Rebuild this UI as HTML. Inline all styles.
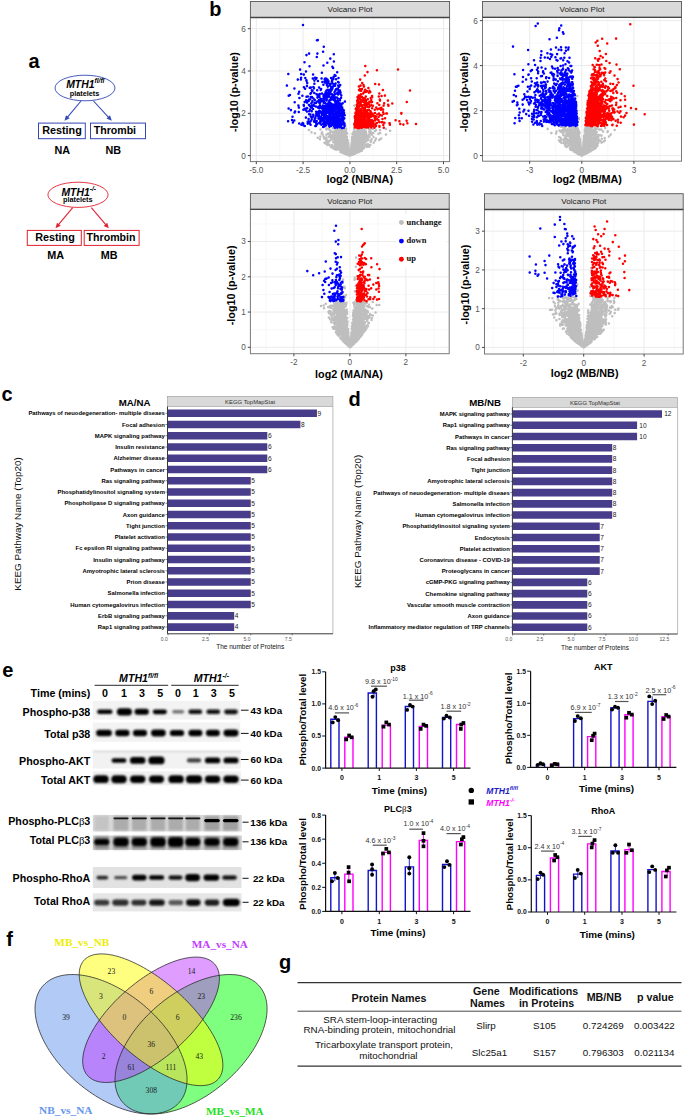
<!DOCTYPE html><html><head><meta charset="utf-8"><title>Figure</title><style>html,body{margin:0;padding:0;background:#fff;}svg{display:block;font-family:"Liberation Sans",sans-serif;}</style></head><body><svg width="685" height="1119" viewBox="0 0 685 1119"><text x="28.6" y="67.5" font-size="20" font-weight="bold">a</text><text x="209.3" y="15.8" font-size="20" font-weight="bold">b</text><text x="1.6" y="401" font-size="20" font-weight="bold">c</text><text x="348.6" y="406.3" font-size="20" font-weight="bold">d</text><text x="2.2" y="677.1" font-size="20" font-weight="bold">e</text><text x="6.2" y="946.3" font-size="20" font-weight="bold">f</text><text x="279.1" y="969" font-size="20" font-weight="bold">g</text><ellipse cx="85" cy="88" rx="30" ry="12.8" fill="none" stroke="#3447b8" stroke-width="0.9"/><text x="66.2" y="87.8" font-size="10.4" font-weight="bold" font-style="italic" fill="#000" text-anchor="start">MTH1<tspan font-size="6.66" dy="-4.37">fl/fl</tspan></text><text x="84.5" y="95.6" font-size="7.3" font-weight="bold" text-anchor="middle">platelets</text><line x1="81" y1="101" x2="67.52" y2="117.1" stroke="#3447b8" stroke-width="1.1"/><polygon points="64.5,120.7 66,115.17 69.68,118.25" fill="#3447b8"/><line x1="93.5" y1="101" x2="108.6" y2="117.26" stroke="#3447b8" stroke-width="1.1"/><polygon points="111.8,120.7 106.5,118.52 110.02,115.26" fill="#3447b8"/><rect x="38.5" y="123.1" width="46.8" height="15.6" fill="none" stroke="#3447b8" stroke-width="1"/><rect x="90.5" y="123.1" width="55" height="15.6" fill="none" stroke="#3447b8" stroke-width="1"/><text x="42.2" y="134.2" font-size="10.8" font-weight="bold">Resting</text><text x="93.7" y="134.2" font-size="10.6" font-weight="bold">Thrombi</text><text x="62.3" y="153.6" font-size="10.8" font-weight="bold" text-anchor="middle">NA</text><text x="113.3" y="153.6" font-size="10.8" font-weight="bold" text-anchor="middle">NB</text><ellipse cx="78" cy="194.8" rx="30.1" ry="12.6" fill="none" stroke="#e3202f" stroke-width="0.9"/><text x="61.4" y="195.8" font-size="10.4" font-weight="bold" font-style="italic" fill="#000" text-anchor="start">MTH1<tspan font-size="6.66" dy="-4.37">-/-</tspan></text><text x="77.8" y="202.4" font-size="7.3" font-weight="bold" text-anchor="middle">platelets</text><line x1="72.7" y1="207.6" x2="58.5" y2="224.69" stroke="#e3202f" stroke-width="1.1"/><polygon points="55.5,228.3 56.98,222.77 60.67,225.83" fill="#e3202f"/><line x1="91.3" y1="207.6" x2="105.77" y2="224.71" stroke="#e3202f" stroke-width="1.1"/><polygon points="108.8,228.3 103.61,225.88 107.28,222.78" fill="#e3202f"/><rect x="27.3" y="230.4" width="54" height="15" fill="none" stroke="#e3202f" stroke-width="1"/><rect x="84.2" y="230.4" width="54.9" height="15" fill="none" stroke="#e3202f" stroke-width="1"/><text x="35.2" y="241.3" font-size="10.8" font-weight="bold">Resting</text><text x="86.6" y="241.3" font-size="10.6" font-weight="bold">Thrombin</text><text x="55.7" y="259.3" font-size="10.8" font-weight="bold" text-anchor="middle">MA</text><text x="109.2" y="259.3" font-size="10.8" font-weight="bold" text-anchor="middle">MB</text><rect x="250.4" y="17.5" width="199.2" height="144.1" fill="#fff"/><path d="M279.7 17.5V161.6M326.5 17.5V161.6M373.3 17.5V161.6M420.1 17.5V161.6M250.4 134.45H449.6M250.4 92.15H449.6M250.4 49.85H449.6" stroke="#f2f2f2" stroke-width="0.6" fill="none"/><path d="M256.3 17.5V161.6M303.1 17.5V161.6M349.9 17.5V161.6M396.7 17.5V161.6M443.5 17.5V161.6M250.4 155.6H449.6M250.4 113.3H449.6M250.4 71H449.6M250.4 28.7H449.6" stroke="#ebebeb" stroke-width="1" fill="none"/><path d="M350.9 153.1h0M354.9 149.3h0M352.4 151.1h0M344.4 144.1h0M345.6 150.1h0M344.3 147.3h0M350.3 154.2h0M357.7 141.7h0M343.8 141.0h0M351.7 153.5h0M363.1 144.6h0M347.6 154.3h0M342.7 147.9h0M353.9 152.5h0M350.6 154.3h0M347.0 152.1h0M360.5 140.5h0M357.2 135.4h0M340.0 145.6h0M348.2 152.0h0M354.8 152.6h0M348.2 152.6h0M340.4 144.4h0M340.9 139.9h0M351.4 154.1h0M348.4 150.2h0M345.8 145.8h0M349.8 155.5h0M354.2 153.4h0M352.1 148.1h0M329.8 137.0h0M346.3 147.2h0M350.9 153.1h0M353.3 145.8h0M358.4 142.4h0M352.5 147.6h0M350.2 155.2h0M353.0 149.6h0M347.7 150.8h0M352.5 149.9h0M341.3 140.0h0M328.3 133.6h0M350.9 153.1h0M347.5 153.0h0M346.2 149.7h0M352.8 149.0h0M351.4 149.4h0M356.1 147.5h0M351.4 152.6h0M346.5 150.2h0M337.2 145.3h0M358.6 150.0h0M349.2 151.8h0M349.8 155.3h0M356.0 137.5h0M348.2 152.1h0M358.3 135.6h0M348.6 154.1h0M358.1 144.7h0M347.3 151.3h0M354.2 128.9h0M350.3 154.5h0M351.4 150.9h0M361.8 147.5h0M354.0 148.8h0M354.7 149.8h0M350.5 153.6h0M326.6 139.7h0M350.0 155.5h0M360.7 136.2h0M333.6 148.4h0M345.3 136.4h0M344.3 147.1h0M355.2 141.2h0M346.3 148.6h0M354.3 145.5h0M354.7 151.0h0M355.2 151.1h0M349.9 155.5h0M348.9 153.6h0M342.7 146.9h0M354.3 145.3h0M347.3 154.1h0M349.1 153.3h0M359.3 150.0h0M356.1 150.3h0M346.8 151.4h0M346.8 147.6h0M332.2 145.1h0M358.0 148.9h0M348.9 152.9h0M362.5 149.1h0M346.3 149.4h0M336.9 139.0h0M341.5 141.0h0M356.4 149.5h0M342.7 141.1h0M351.0 154.4h0M350.9 152.3h0M349.3 155.1h0M349.8 155.3h0M353.6 150.4h0M340.4 140.5h0M345.2 144.6h0M346.9 148.3h0M362.4 135.0h0M349.7 154.9h0M357.4 142.1h0M353.1 148.2h0M354.8 140.4h0M350.3 154.7h0M352.4 151.0h0M357.4 146.2h0M347.4 153.2h0M349.8 155.5h0M359.1 143.4h0M350.6 153.3h0M362.9 130.2h0M348.3 153.9h0M326.4 134.8h0M364.1 134.1h0M347.8 145.6h0M353.8 150.8h0M357.6 149.9h0M346.9 151.6h0M346.5 149.2h0M353.3 148.9h0M348.4 154.1h0M340.9 149.2h0M351.5 152.9h0M342.5 134.4h0M359.6 142.7h0M352.2 154.2h0M349.4 155.0h0M351.4 153.7h0M348.6 153.7h0M356.3 147.8h0M348.0 151.7h0M356.1 149.4h0M340.8 143.1h0M351.5 154.3h0M338.8 129.1h0M349.2 154.5h0M358.0 143.0h0M339.4 144.4h0M349.2 155.0h0M358.1 138.1h0M354.8 146.5h0M347.6 152.5h0M358.5 146.4h0M324.2 138.4h0M360.4 149.1h0M342.9 147.9h0M349.4 153.7h0M355.2 151.1h0M345.6 141.3h0M356.3 145.3h0M362.2 141.2h0M343.4 143.5h0M344.4 149.4h0M352.3 151.4h0M353.0 152.7h0M344.0 141.5h0M341.2 130.2h0M347.0 142.6h0M349.1 154.5h0M351.5 150.7h0M350.9 154.4h0M336.5 128.2h0M354.4 150.6h0M360.6 143.1h0M351.9 148.0h0M354.7 150.1h0M347.8 150.9h0M343.4 146.4h0M345.3 149.2h0M349.6 155.3h0M358.8 142.8h0M352.1 146.9h0M349.5 155.1h0M347.1 148.8h0M351.0 152.4h0M349.1 155.0h0M365.3 138.6h0M349.8 155.3h0M355.7 144.9h0M348.4 153.1h0M351.7 150.6h0M349.2 154.4h0M335.5 128.3h0M349.1 155.0h0M354.1 148.3h0M346.9 150.8h0M349.0 154.7h0M354.1 150.7h0M349.3 154.4h0M366.7 146.9h0M350.9 154.6h0M349.4 153.8h0M346.0 147.4h0M354.1 151.7h0M344.2 144.1h0M359.7 145.5h0M356.6 144.1h0M348.7 154.5h0M360.1 145.8h0M341.7 137.0h0M345.3 134.6h0M339.7 147.1h0M350.5 152.6h0M349.1 154.1h0M345.0 146.0h0M350.3 155.2h0M346.5 150.4h0M314.9 133.3h0M353.0 148.9h0M341.9 147.7h0M353.5 150.1h0M347.4 149.9h0M346.9 153.1h0M353.6 150.7h0M352.6 151.3h0M354.8 143.9h0M345.9 145.2h0M350.8 154.7h0M350.9 154.2h0M349.2 154.5h0M357.4 146.9h0M337.2 146.5h0M358.8 140.7h0M341.8 147.5h0M344.2 145.5h0M347.0 139.6h0M346.7 140.4h0M354.0 146.5h0M353.1 142.3h0M375.2 140.6h0M348.6 154.4h0M348.2 151.4h0M350.8 154.1h0M349.6 155.4h0M348.4 152.5h0M319.9 139.2h0M351.9 149.8h0M350.4 154.7h0M342.6 136.9h0M349.1 152.4h0M352.3 153.9h0M362.3 139.1h0M351.0 154.4h0M352.5 151.6h0M360.4 140.2h0M348.8 149.9h0M336.5 135.7h0M353.1 144.7h0M340.9 134.0h0M349.3 155.0h0M353.1 148.2h0M361.7 145.4h0M347.4 153.2h0M352.5 149.2h0M349.7 155.3h0M353.2 151.2h0M357.6 149.5h0M336.9 144.0h0M357.9 140.6h0M345.4 150.8h0M351.0 153.1h0M348.3 153.3h0M352.2 150.6h0M347.0 149.8h0M346.3 151.6h0M334.3 141.4h0M356.5 134.3h0M352.6 152.6h0M347.9 149.0h0M347.0 148.0h0M349.7 155.4h0M350.2 155.1h0M344.2 152.4h0M353.9 151.7h0M354.2 151.9h0M356.1 141.4h0M351.1 153.5h0M348.3 146.5h0M350.6 155.0h0M347.1 152.9h0M353.8 142.0h0M350.3 155.0h0M346.7 153.1h0M329.3 134.3h0M341.1 148.9h0M345.6 147.8h0M332.0 145.8h0M351.7 152.7h0M354.0 132.1h0M354.3 149.4h0M372.8 128.9h0M357.9 142.3h0M339.0 143.9h0M346.0 151.2h0M345.6 150.5h0M354.6 146.3h0M354.3 150.8h0M347.8 140.5h0M349.6 154.9h0M346.0 146.5h0M359.6 145.6h0M340.1 131.7h0M354.4 142.2h0M368.1 136.0h0M349.9 155.6h0M342.0 141.2h0M350.1 155.0h0M368.8 145.2h0M345.4 151.2h0M349.3 154.6h0M354.8 148.0h0M349.5 155.3h0M348.6 153.3h0M351.9 154.3h0M342.9 149.3h0M345.4 136.2h0M352.0 149.7h0M347.4 151.4h0M354.0 150.3h0M333.8 131.8h0M355.0 150.0h0M356.6 150.1h0M346.2 146.1h0M363.3 140.7h0M347.7 152.5h0M345.6 153.0h0M317.8 137.7h0M358.7 146.9h0M340.0 135.0h0M335.6 137.2h0M311.5 132.3h0M353.8 139.3h0M361.1 136.8h0M350.8 153.3h0M358.5 152.2h0M350.5 154.4h0M349.8 155.5h0M327.8 141.3h0M347.0 136.8h0M352.2 147.6h0M349.0 154.5h0M350.4 154.6h0M346.7 149.3h0M351.0 154.1h0M354.0 153.3h0M348.3 153.0h0M352.6 149.8h0M351.7 150.5h0M371.3 133.0h0M353.2 151.2h0M354.7 145.3h0M373.2 132.9h0M354.8 147.6h0M347.2 152.0h0M353.3 150.9h0M355.4 139.3h0M345.9 152.8h0M360.8 143.6h0M356.5 149.4h0M358.6 148.9h0M349.3 154.4h0M346.4 143.0h0M356.0 145.7h0M352.2 153.5h0M344.3 146.9h0M380.8 138.7h0M345.1 150.6h0M351.6 152.1h0M356.1 146.7h0M347.9 153.7h0M353.0 150.4h0M354.5 127.8h0M349.0 153.4h0M341.5 139.1h0M355.8 152.8h0M363.6 132.8h0M354.7 150.9h0M346.8 143.7h0M348.0 150.5h0M350.6 153.6h0M337.0 137.7h0M357.0 151.6h0M366.0 131.6h0M348.4 152.8h0M354.0 151.9h0M343.8 147.8h0M348.2 153.4h0M348.8 153.0h0M357.8 152.1h0M343.2 142.6h0M343.2 151.7h0M356.9 149.0h0M352.5 151.6h0M352.8 152.9h0M350.4 155.1h0M353.2 149.0h0M352.4 148.2h0M348.2 152.4h0M347.0 148.1h0M350.8 154.8h0M333.2 134.9h0M352.3 153.0h0M350.1 155.3h0M347.1 150.5h0M339.4 148.0h0M342.2 146.5h0M343.0 133.9h0M351.3 147.5h0M345.3 149.6h0M351.1 154.0h0M357.4 134.7h0M320.5 129.5h0M361.4 145.0h0M366.6 136.0h0M348.4 152.6h0M349.4 153.3h0M344.5 138.7h0M343.1 149.4h0M345.8 148.1h0M363.8 148.2h0M348.6 154.5h0M346.2 151.3h0M357.0 147.3h0M346.5 148.9h0M353.4 146.1h0M348.5 152.5h0M354.2 150.7h0M349.9 155.6h0M348.9 150.9h0M356.7 149.7h0M363.3 136.5h0M365.7 144.9h0M342.3 152.7h0M353.8 142.0h0M349.2 154.2h0M348.5 154.0h0M352.1 151.4h0M353.1 147.6h0M339.9 144.0h0M348.1 154.1h0M369.5 136.9h0M345.2 147.4h0M351.0 154.9h0M350.7 153.3h0M351.0 154.3h0M357.9 148.6h0M340.2 145.2h0M342.0 137.9h0M347.4 152.7h0M351.5 153.4h0M351.5 151.6h0M348.1 151.1h0M337.5 141.2h0M346.7 149.9h0M348.1 153.3h0M353.2 147.9h0M351.1 153.6h0M343.4 137.9h0M349.3 153.4h0M345.3 150.4h0M337.7 149.2h0M334.8 143.5h0M359.3 147.4h0M339.7 139.3h0M350.7 151.2h0M353.4 153.5h0M354.2 153.5h0M366.3 133.7h0M346.4 149.8h0M354.9 147.2h0M348.9 154.8h0M353.1 149.2h0M360.4 149.0h0M356.8 149.4h0M340.6 146.7h0M338.7 130.7h0M352.6 153.0h0M349.5 155.0h0M350.9 154.1h0M340.7 134.7h0M352.5 141.6h0M350.4 154.4h0M350.4 155.3h0M355.0 150.7h0M337.9 139.7h0M355.3 137.5h0M339.2 140.1h0M351.0 154.2h0M354.1 152.1h0M342.6 148.1h0M345.6 149.2h0M360.7 142.4h0M357.6 148.9h0M355.4 150.3h0M353.1 150.5h0M354.7 150.0h0M332.3 137.5h0M353.9 151.9h0M350.2 155.0h0M351.3 154.1h0M349.8 155.3h0M345.3 146.6h0M351.8 150.3h0M356.9 141.5h0M342.5 148.7h0M343.0 146.0h0M348.8 153.6h0M351.9 153.6h0M358.0 146.0h0M356.2 137.3h0M352.8 150.6h0M346.9 153.6h0M346.1 150.5h0M323.7 136.8h0M349.7 155.3h0M349.0 155.3h0M349.7 155.3h0M349.8 155.4h0M344.2 147.0h0M350.5 153.6h0M354.4 148.0h0M347.8 152.0h0M341.4 147.7h0M358.5 147.3h0M347.8 145.9h0M343.6 153.2h0M340.1 149.7h0M346.1 145.5h0M349.8 155.5h0M354.2 148.0h0M341.5 144.1h0M352.5 152.0h0M327.6 143.2h0M353.4 147.2h0M351.8 153.2h0M355.4 149.8h0M352.1 151.9h0M347.2 133.3h0M343.8 146.3h0M352.8 145.2h0M352.5 153.5h0M342.5 147.8h0M354.1 151.1h0M357.6 151.2h0M358.0 150.7h0M358.9 141.6h0M344.5 146.9h0M343.4 142.4h0M348.6 153.7h0M356.4 148.6h0M364.5 137.9h0M347.0 152.9h0M343.7 149.0h0M341.4 149.9h0M333.9 133.1h0M340.7 142.6h0M352.5 152.1h0M356.3 149.1h0M336.5 136.1h0M358.2 144.9h0M342.7 146.1h0M350.9 154.7h0M342.5 152.8h0M345.3 146.8h0M346.3 150.1h0M348.0 150.6h0M356.5 135.2h0M351.6 152.9h0M346.1 130.9h0M351.2 153.8h0M354.8 138.9h0M353.3 152.2h0M353.1 144.5h0M346.6 145.6h0M348.8 152.6h0M354.5 152.9h0M371.5 139.2h0M360.1 129.6h0M348.7 153.9h0M342.5 152.8h0M352.0 151.2h0M349.1 154.6h0M359.6 148.1h0M351.3 149.9h0M351.0 154.4h0M349.1 154.2h0M349.5 154.0h0M357.6 140.3h0M353.1 149.5h0M361.0 131.8h0M346.9 152.9h0M349.9 155.5h0M351.7 154.0h0M348.0 154.4h0M351.1 153.7h0M349.9 155.4h0M346.3 150.3h0M347.1 152.8h0M341.1 144.7h0M342.7 140.4h0M350.3 155.0h0M349.6 154.7h0M351.9 152.1h0M348.7 151.0h0M358.4 131.8h0M353.0 145.7h0M345.0 142.6h0M346.7 152.8h0M351.1 153.3h0M348.9 153.9h0M355.8 142.5h0M353.9 143.0h0M347.9 153.4h0M349.6 155.0h0M335.1 141.3h0M353.5 152.8h0M357.5 143.0h0M347.1 149.2h0M345.7 147.9h0M344.5 143.8h0M343.3 140.0h0M350.9 154.9h0M353.9 143.3h0M365.7 138.7h0M359.5 147.3h0M344.8 153.7h0M331.3 138.2h0M342.5 146.6h0M347.3 152.0h0M347.8 145.6h0M348.5 153.6h0M352.3 140.7h0M357.5 141.8h0M351.0 153.2h0M349.1 154.8h0M350.8 152.9h0M381.2 138.4h0M348.0 152.4h0M355.0 145.4h0M350.0 155.3h0M336.7 143.8h0M371.1 140.7h0M357.2 137.8h0M349.1 152.9h0M345.9 141.8h0M347.8 145.5h0M352.8 145.7h0M350.3 154.6h0M349.4 153.9h0M348.1 150.1h0M347.5 154.8h0M346.4 147.3h0M339.5 137.1h0M353.7 150.9h0M348.9 153.9h0M356.0 143.9h0M345.5 146.0h0M356.2 136.6h0M344.3 131.1h0M352.0 154.6h0M348.3 151.3h0M340.5 143.8h0M340.6 145.4h0M343.0 151.5h0M360.7 142.6h0M352.0 147.3h0M349.8 155.5h0M342.3 146.6h0M347.7 149.9h0M351.0 152.3h0M339.6 148.7h0M336.8 147.6h0M336.8 132.6h0M347.0 153.1h0M346.9 148.6h0M348.2 151.5h0M350.4 155.2h0M344.4 146.8h0M351.9 153.1h0M326.4 137.6h0M349.5 154.9h0M349.3 154.9h0M352.3 151.8h0M352.7 146.7h0M364.5 133.5h0M350.7 151.4h0M352.0 147.7h0M351.0 153.4h0M355.0 133.5h0M358.8 140.6h0M344.2 144.4h0M355.4 143.8h0M352.9 151.0h0M345.4 142.8h0M350.2 154.8h0M371.9 134.8h0M345.9 148.2h0M344.4 145.2h0M341.4 141.2h0M343.9 151.3h0M349.3 154.1h0M366.8 140.6h0M348.0 148.3h0M351.0 154.1h0M354.1 151.4h0M347.6 152.5h0M348.9 154.5h0M355.7 148.4h0M344.5 148.2h0M345.0 151.2h0M359.1 139.5h0M356.9 147.9h0M344.1 149.2h0M350.8 154.3h0M351.5 153.5h0M358.4 131.1h0M339.4 147.0h0M354.5 149.9h0M352.4 152.0h0M348.7 153.1h0M341.8 152.1h0M346.3 144.2h0M350.0 155.5h0M352.9 153.8h0M352.9 149.5h0M352.6 152.9h0M344.3 146.6h0M337.4 136.8h0M350.2 155.0h0M344.2 151.1h0M341.6 144.0h0M352.5 146.8h0M345.1 151.2h0M347.1 152.0h0M356.2 141.3h0M348.8 154.1h0M355.3 150.4h0M351.9 152.7h0M347.7 151.8h0M351.1 153.1h0M352.0 152.0h0M351.3 151.8h0M356.9 139.3h0M356.8 145.4h0M344.5 141.7h0M332.8 128.4h0M363.9 136.3h0M335.5 138.3h0M349.5 155.1h0M354.8 150.7h0M353.5 151.1h0M346.8 142.3h0M332.5 134.7h0M339.2 136.5h0M344.4 137.6h0M353.1 153.0h0M341.4 146.0h0M346.6 139.9h0M348.0 152.9h0M351.0 154.4h0M359.4 139.5h0M354.4 140.5h0M341.1 142.8h0M349.9 155.6h0M349.5 154.9h0M349.4 154.5h0M354.2 136.2h0M351.6 152.8h0M341.8 147.4h0M357.3 145.5h0M356.4 152.0h0M347.8 149.9h0M347.1 148.6h0M352.2 147.7h0M350.6 155.2h0M358.2 143.6h0M339.2 143.7h0M348.0 154.0h0M350.1 155.3h0M353.7 147.7h0M351.0 150.9h0M346.8 154.2h0M351.2 153.4h0M355.2 148.0h0M353.4 140.6h0M358.2 142.4h0M349.1 155.1h0M342.9 148.4h0M345.7 150.8h0M358.8 149.4h0M352.4 153.0h0M347.9 153.4h0M343.5 143.1h0M341.3 146.6h0M344.5 142.4h0M351.1 153.5h0M350.6 153.8h0M345.1 146.4h0M352.2 151.8h0M358.0 147.6h0M350.0 155.5h0M350.8 154.0h0M337.2 145.9h0M359.7 142.9h0M355.7 146.3h0M350.4 155.2h0M350.9 154.3h0M343.4 146.2h0M347.3 151.6h0M357.9 136.4h0M356.0 148.1h0M350.7 152.2h0M364.6 133.6h0M349.5 154.6h0M360.4 141.4h0M351.6 150.8h0M341.7 132.8h0M351.5 145.8h0M353.1 149.2h0M342.6 141.3h0M352.1 152.1h0M349.6 154.8h0M349.9 155.5h0M349.4 155.2h0M361.9 140.9h0M350.8 153.5h0M350.8 153.6h0M349.8 155.5h0M348.8 154.1h0M344.3 147.6h0M356.1 147.1h0M349.6 154.8h0M345.6 149.2h0M358.7 147.6h0M347.8 153.8h0M334.4 141.2h0M369.6 130.8h0M344.3 142.8h0M342.0 134.5h0M347.2 151.6h0M348.6 154.6h0M341.7 150.9h0M348.9 154.4h0M353.2 151.2h0M349.6 155.3h0M344.7 148.9h0M355.6 145.4h0M351.5 151.8h0M347.3 152.3h0M357.3 148.4h0M351.8 149.2h0M351.4 151.5h0M359.4 144.6h0M348.5 151.6h0M355.3 146.5h0M354.4 148.1h0M351.0 154.2h0M361.2 130.5h0M345.7 146.6h0M336.1 135.7h0M364.0 137.6h0M351.8 152.8h0M341.3 146.3h0M351.7 145.8h0M354.8 146.6h0M346.8 140.9h0M344.9 150.9h0M355.6 146.1h0M354.4 151.9h0M361.9 150.6h0M348.9 154.6h0M354.1 152.0h0M347.3 151.2h0M356.4 132.8h0M351.8 151.6h0M354.4 148.5h0M351.7 152.9h0M358.0 152.0h0M349.6 155.2h0M343.2 145.8h0M353.7 152.0h0M348.8 154.5h0M339.9 147.6h0M347.3 151.6h0M350.5 154.7h0M352.7 153.2h0M352.2 142.1h0M349.8 155.5h0M349.3 153.8h0M347.4 147.1h0M339.0 130.1h0M349.4 155.4h0M345.7 149.3h0M347.9 151.3h0M357.7 147.1h0M358.9 145.2h0M351.4 153.8h0M361.9 130.3h0M348.5 151.3h0M348.5 154.7h0M348.6 152.9h0M349.3 154.0h0M352.3 153.9h0M378.5 133.7h0M343.6 147.3h0M355.5 149.6h0M353.3 151.8h0M337.5 148.4h0M342.7 139.9h0M334.4 132.9h0M355.8 147.4h0M353.1 152.8h0M346.6 149.5h0M353.8 141.5h0M351.4 152.4h0M344.1 144.2h0M358.9 143.9h0M341.6 143.0h0M354.1 144.8h0M351.6 154.4h0M350.1 155.1h0M343.3 144.9h0M343.9 148.2h0M347.9 152.1h0M353.3 147.8h0M352.7 152.5h0M350.8 154.7h0M348.9 153.1h0M348.9 153.0h0M345.9 149.7h0M346.3 147.5h0M358.9 140.2h0M354.6 151.6h0M347.1 148.7h0M350.1 155.4h0M357.9 129.3h0M348.3 152.8h0M342.1 149.6h0M360.2 138.1h0M347.3 152.0h0M347.6 147.5h0M353.6 150.4h0M351.0 151.4h0M355.6 143.5h0M357.4 149.3h0M344.9 146.7h0M335.3 134.6h0M348.3 150.7h0M333.9 133.4h0M357.7 149.2h0M342.5 144.7h0M336.0 139.2h0M349.9 155.6h0M357.1 146.7h0M345.3 145.3h0M354.8 122.4h0M350.2 155.3h0M354.4 129.0h0M351.4 151.6h0M346.3 147.9h0M351.0 153.9h0M355.0 137.0h0M351.1 153.2h0M350.7 155.0h0M352.9 147.0h0M346.4 150.8h0M342.7 141.6h0M348.2 151.6h0M350.8 153.9h0M346.2 150.8h0M351.1 155.1h0M350.1 155.4h0M346.5 150.0h0M350.5 154.6h0M347.6 150.1h0M336.0 137.4h0M356.1 147.6h0M350.7 154.6h0M346.8 138.2h0M348.0 153.5h0M351.1 152.6h0M353.5 142.2h0M352.6 136.4h0M347.8 154.9h0M344.9 150.7h0M351.4 150.7h0M355.4 138.0h0M352.0 153.2h0M358.4 132.7h0M348.1 146.6h0M353.4 149.0h0M349.7 155.4h0M354.4 148.7h0M356.8 152.0h0M350.2 155.3h0M357.3 145.8h0M345.0 152.4h0M346.6 148.6h0M340.7 149.7h0M354.0 148.7h0M342.2 146.8h0M355.2 138.2h0M346.2 152.7h0M347.4 152.0h0M353.4 153.1h0M350.3 154.2h0M348.7 152.8h0M375.1 130.9h0M342.8 148.3h0M356.8 145.6h0M344.0 145.4h0M348.5 153.3h0M350.1 155.2h0M348.9 155.2h0M342.6 145.3h0M351.7 151.0h0M340.2 142.5h0M351.1 154.4h0M357.5 138.3h0M363.8 139.7h0M344.7 143.9h0M351.9 151.4h0M345.8 149.2h0M352.8 149.9h0M333.0 138.7h0M341.6 147.5h0M349.9 155.6h0M352.2 148.6h0M344.3 149.5h0M344.7 148.9h0M351.7 152.6h0M353.3 147.7h0M351.7 154.7h0M346.6 153.3h0M361.5 141.4h0M348.9 154.2h0M346.2 152.7h0M364.4 139.9h0M358.2 150.1h0M360.7 145.9h0M353.1 150.5h0M353.2 139.6h0M346.1 145.9h0M347.5 153.2h0M346.3 149.1h0M350.0 155.5h0M356.7 134.7h0M346.9 152.6h0M350.5 155.1h0M355.3 150.7h0M340.4 136.9h0M342.8 135.4h0M348.4 152.8h0M347.3 153.1h0M347.1 150.7h0M370.3 145.0h0M349.1 155.0h0M350.0 155.1h0M359.7 140.3h0M351.8 153.6h0M351.9 152.2h0M343.8 146.2h0M349.9 155.6h0M360.5 133.0h0M347.5 153.1h0M349.2 153.8h0M354.9 136.0h0M354.9 132.3h0M343.9 130.7h0M348.5 151.2h0M347.9 152.2h0M355.6 148.7h0M351.2 151.5h0M355.5 138.4h0M344.3 146.5h0M351.8 154.8h0M351.0 153.2h0M347.7 153.5h0M351.2 153.2h0M349.1 153.9h0M351.5 149.8h0M339.8 137.9h0M337.6 136.6h0M354.7 141.9h0M359.1 144.4h0M336.8 149.0h0M354.0 143.7h0M349.8 155.5h0M348.3 150.4h0M344.9 150.3h0M352.0 154.1h0M346.3 146.8h0M347.0 153.0h0M345.4 149.8h0M348.4 149.2h0M352.6 151.7h0M352.1 147.3h0M358.8 142.9h0M359.3 147.3h0M348.5 154.5h0M367.5 138.5h0M346.1 150.9h0M361.8 147.6h0M338.1 145.7h0M356.5 145.0h0M354.5 149.2h0M348.6 153.2h0M348.3 145.0h0M348.0 153.2h0M351.4 153.6h0M340.8 145.6h0M354.1 149.7h0M354.2 146.6h0M353.5 141.3h0M350.2 155.3h0M336.2 134.7h0M345.3 125.5h0M339.4 129.1h0M349.0 153.3h0M342.9 148.8h0M345.4 147.1h0M337.2 142.7h0M333.6 132.3h0M349.7 155.5h0M352.6 150.8h0M345.1 151.2h0M343.6 137.5h0M351.5 150.5h0M331.0 136.4h0M350.2 154.6h0M351.9 149.7h0M345.9 153.4h0M352.2 138.5h0M339.6 148.6h0M346.5 153.6h0M352.4 153.0h0M356.3 151.1h0M366.5 128.2h0M351.4 146.2h0M352.5 149.9h0M358.9 151.6h0M368.1 144.4h0M354.3 138.8h0M347.6 151.9h0M364.4 138.0h0M353.9 149.3h0M347.8 146.1h0M347.5 153.8h0M343.2 140.1h0M356.6 140.7h0M345.4 142.2h0M329.2 129.4h0M354.2 149.3h0M335.4 149.4h0M353.5 149.2h0M353.2 151.6h0M349.0 154.1h0M355.7 150.4h0M352.3 152.2h0M344.4 145.3h0M346.7 150.8h0M348.0 152.3h0M349.0 154.2h0M352.0 152.7h0M340.0 143.8h0M352.7 150.7h0M350.1 155.2h0M358.5 141.3h0M348.6 154.0h0M353.9 145.4h0M351.0 153.0h0M361.3 136.9h0M359.1 145.9h0M349.3 155.0h0M367.8 144.5h0M369.4 134.1h0M344.2 150.2h0M350.6 153.6h0M343.2 142.4h0M329.4 144.7h0M346.2 149.5h0M348.4 153.6h0M348.6 152.7h0M337.2 132.3h0M356.1 131.5h0M349.6 155.4h0M336.8 131.4h0M341.1 140.4h0M343.2 143.6h0M347.5 152.6h0M341.2 146.1h0M348.2 149.5h0M352.4 152.6h0M352.3 145.6h0M350.2 154.7h0M346.3 151.3h0M346.6 149.3h0M346.6 149.6h0M337.5 144.9h0M350.8 154.9h0M351.9 153.9h0M344.5 148.3h0M344.2 136.0h0M361.0 135.2h0M342.5 140.5h0M342.8 151.6h0M361.3 133.0h0M353.7 150.7h0M342.4 144.3h0M355.3 146.4h0M365.6 135.5h0M342.1 151.0h0M351.0 155.0h0M353.6 147.2h0M354.1 149.3h0M342.7 152.0h0M344.3 151.7h0M346.2 151.6h0M349.3 154.9h0M364.8 138.3h0M343.8 147.0h0M349.1 153.0h0M358.2 149.8h0M344.6 140.5h0M344.7 143.5h0M351.9 142.8h0M356.5 149.0h0M344.7 147.2h0M356.0 139.8h0M334.2 137.0h0M344.8 129.9h0M351.0 154.2h0M349.3 155.3h0M350.7 154.5h0M356.0 147.4h0M351.5 153.2h0M346.8 146.8h0M343.5 132.9h0M346.9 148.0h0M331.7 131.8h0M362.7 134.4h0M354.9 145.1h0M349.3 153.9h0M326.5 129.4h0M351.6 153.1h0M354.4 148.8h0M352.4 149.3h0M357.3 146.9h0M349.2 154.0h0M349.3 154.5h0M345.4 151.8h0M347.1 153.1h0M344.7 142.1h0M343.4 145.3h0M353.1 149.6h0M356.6 151.9h0M343.1 151.1h0M348.5 154.0h0M352.3 151.6h0M357.3 147.4h0M350.9 153.7h0M355.2 143.7h0M348.6 152.1h0M351.6 151.5h0M345.6 144.9h0M350.0 155.4h0M345.5 152.2h0M355.7 141.1h0M354.0 152.6h0M355.7 142.8h0M356.3 151.7h0M348.4 153.3h0M356.3 141.3h0M355.3 138.8h0M351.0 153.4h0M348.5 151.2h0M339.9 138.4h0M351.0 153.3h0M341.3 144.9h0M357.8 145.8h0M334.8 146.1h0M349.3 154.8h0M349.9 155.6h0M354.8 150.0h0M337.6 145.1h0M348.0 151.7h0M348.9 151.4h0M356.3 144.9h0M351.7 142.7h0M348.2 153.3h0M353.5 151.2h0M338.4 134.3h0M351.2 153.2h0M351.1 153.8h0M354.9 150.7h0M344.0 142.8h0M359.8 142.4h0M341.4 145.0h0M343.9 145.6h0M356.1 143.6h0M352.5 150.4h0M359.8 142.9h0M358.1 145.9h0M348.9 153.7h0M349.4 154.8h0M355.0 145.0h0M349.9 155.6h0M350.8 153.6h0M357.0 136.4h0M337.1 133.8h0M355.1 149.9h0M363.5 133.0h0M340.4 140.6h0M354.0 150.8h0M348.0 148.9h0M356.4 146.4h0M355.2 140.6h0M352.4 150.7h0M359.8 147.8h0M355.5 136.5h0M361.8 133.6h0M344.1 149.8h0M349.8 155.5h0M350.6 153.3h0M368.6 136.5h0M356.3 138.9h0M340.8 143.7h0M350.0 155.4h0M351.2 152.1h0M344.6 147.9h0M340.7 137.3h0M355.7 142.4h0M349.4 154.0h0M349.1 150.9h0M351.2 151.7h0M353.9 148.1h0M352.7 151.5h0M376.0 130.2h0M340.1 146.2h0M345.3 148.8h0M344.6 139.4h0M344.5 146.0h0M348.6 154.2h0M341.8 137.3h0M355.4 146.7h0M351.7 152.6h0M349.1 154.2h0M359.9 148.2h0M346.4 152.9h0M355.3 137.5h0M353.3 149.9h0M346.9 144.6h0M355.4 135.9h0M354.8 146.0h0M352.4 152.4h0M353.9 145.3h0M357.3 149.9h0M335.3 130.2h0M347.3 151.3h0M339.4 139.7h0M347.4 151.5h0M347.8 146.3h0M346.1 149.7h0M349.2 155.0h0M345.4 130.2h0M347.8 154.0h0M348.8 151.3h0M350.4 154.4h0M346.7 144.8h0M345.9 149.2h0M345.0 148.9h0M359.0 134.4h0M355.3 149.7h0M349.3 154.5h0M344.3 143.1h0M351.7 149.6h0M348.8 153.9h0M350.6 154.5h0M345.2 150.3h0M352.9 153.0h0M350.0 155.4h0M356.3 144.7h0M355.0 147.5h0M352.9 151.2h0M349.3 154.6h0M347.1 153.2h0M355.9 149.4h0M336.9 147.6h0M344.2 145.9h0M350.5 154.1h0M346.8 144.7h0M353.3 147.7h0M352.9 149.2h0M357.4 141.7h0M345.0 137.4h0M344.2 145.8h0M352.6 149.2h0M356.9 135.1h0M349.9 155.6h0M342.0 144.1h0M348.5 153.8h0M349.1 155.1h0M347.7 151.8h0M342.1 139.8h0M345.4 145.4h0M346.4 151.6h0M350.7 153.7h0M342.3 148.4h0M350.6 155.2h0M349.0 155.0h0M345.0 146.8h0M347.1 152.8h0M345.0 152.0h0M349.1 155.2h0M358.4 138.0h0M346.2 143.8h0M347.9 150.6h0M354.7 147.2h0M355.0 148.3h0M358.7 148.7h0M354.0 146.3h0M342.6 138.8h0M351.4 151.7h0M343.6 138.5h0M340.1 150.3h0M351.1 153.1h0M344.5 151.1h0M352.3 153.2h0M370.8 131.4h0M355.6 150.5h0M347.3 150.3h0M351.2 153.0h0M351.1 153.3h0M345.1 148.8h0M347.3 152.6h0M357.2 144.5h0M347.0 152.2h0M359.9 146.4h0M355.3 153.6h0M351.2 154.7h0M344.7 152.2h0M365.0 139.2h0M349.7 154.6h0M349.7 155.3h0M348.2 148.5h0M333.7 137.5h0M341.1 142.1h0M345.8 146.5h0M354.4 151.5h0M342.9 147.3h0M344.9 149.8h0M342.0 144.4h0M361.9 136.3h0M347.1 152.2h0M363.1 144.9h0M337.2 142.4h0M350.5 155.3h0M351.9 149.9h0M348.0 151.9h0M350.6 154.7h0M354.1 149.2h0M359.1 141.7h0M349.9 155.6h0M355.0 142.8h0M354.8 150.5h0M363.2 133.1h0M364.0 147.6h0M344.7 153.7h0M353.0 146.5h0M348.1 153.6h0M343.1 144.0h0M345.7 152.6h0M350.4 154.3h0M334.4 139.6h0M327.6 133.7h0M345.4 152.0h0M350.1 155.2h0M339.4 135.6h0M337.5 140.1h0M350.4 155.0h0M357.1 130.4h0M349.8 155.4h0M355.8 149.7h0M350.8 153.1h0M351.3 151.6h0M358.4 150.4h0M355.7 145.8h0M350.4 155.1h0M357.3 138.0h0M348.6 152.1h0M340.4 146.5h0M353.4 150.7h0M353.4 132.4h0M364.2 138.8h0M350.2 155.2h0M352.9 148.7h0M350.1 155.2h0M348.2 151.8h0M353.6 149.5h0M345.7 150.6h0M344.3 153.0h0M344.9 132.4h0M356.5 137.2h0M353.5 146.4h0M345.1 150.1h0M339.2 137.0h0M340.3 149.7h0M353.9 131.2h0M354.3 141.0h0M343.7 135.0h0M342.2 149.7h0M342.4 142.2h0M345.6 150.5h0M336.2 137.1h0M360.6 142.4h0M347.7 151.5h0M353.0 144.8h0M343.8 149.1h0M343.6 145.5h0M352.6 154.4h0M344.4 144.3h0M321.7 133.6h0M338.8 138.2h0M347.8 149.6h0M356.6 141.3h0M344.9 143.6h0M366.8 140.7h0M351.8 151.6h0M353.8 152.0h0M356.7 148.4h0M344.3 142.4h0M345.3 149.8h0M346.1 150.7h0M352.8 144.5h0M346.4 148.4h0M352.8 150.4h0M366.1 135.1h0M352.3 151.7h0M345.9 150.6h0M357.5 143.1h0M349.7 155.5h0M342.7 145.7h0M339.8 141.5h0M356.7 136.8h0M350.1 155.1h0M358.1 149.3h0M349.5 154.4h0M363.0 147.1h0M349.4 155.2h0M347.7 151.2h0M352.3 149.0h0M359.5 139.4h0M337.6 145.8h0M346.5 151.6h0M348.3 151.0h0M348.4 154.2h0M341.0 142.2h0M351.1 154.0h0M339.6 144.0h0M357.4 144.8h0M345.9 153.7h0M349.5 155.0h0M352.6 150.8h0M346.3 152.0h0M355.5 148.1h0M350.6 153.5h0M356.7 140.8h0M356.1 139.1h0M363.8 143.8h0M347.4 154.0h0M340.7 149.3h0M353.5 143.4h0M340.3 148.6h0M349.1 154.0h0M353.5 150.9h0M338.5 146.2h0M343.7 152.4h0M349.1 153.5h0M346.4 140.2h0M346.3 144.5h0M357.7 147.9h0M353.4 136.9h0M353.9 152.1h0M352.4 151.1h0M352.0 151.5h0M352.3 151.7h0M342.3 147.0h0M359.2 145.4h0M350.9 152.7h0M344.4 145.6h0M345.5 152.5h0M343.2 140.3h0M346.4 152.8h0M344.7 148.7h0M351.5 150.6h0M363.3 133.5h0M350.1 155.3h0M367.4 135.5h0M353.9 136.9h0M348.3 150.4h0M349.2 155.1h0M342.5 135.3h0M356.3 147.2h0M341.7 141.1h0M340.5 144.8h0M345.8 148.7h0M354.7 149.1h0M353.3 151.6h0M367.3 145.0h0M347.3 149.4h0M363.6 143.2h0M348.7 154.7h0M351.9 152.5h0M341.0 144.7h0M361.6 146.9h0M347.7 153.3h0M352.1 153.5h0M359.9 147.2h0M349.0 151.0h0M340.2 144.6h0M351.9 154.1h0M347.7 147.0h0M348.8 151.0h0M350.2 154.2h0M347.2 152.0h0M348.8 152.7h0M341.0 142.8h0M344.0 135.6h0M347.9 154.6h0M351.6 153.0h0M336.0 141.3h0M353.4 148.0h0M347.8 151.4h0M357.8 148.9h0M341.7 144.7h0M346.9 139.7h0M352.3 152.6h0M349.1 153.4h0M354.7 147.8h0M336.9 147.2h0M357.0 132.6h0M342.0 137.4h0M352.1 148.8h0M342.7 142.4h0M349.1 154.6h0M343.4 149.6h0M354.0 147.9h0M349.7 155.3h0M348.2 152.8h0M353.1 142.2h0M350.6 154.5h0M347.5 153.1h0M348.1 151.4h0M343.9 135.8h0M353.0 151.1h0M358.0 139.3h0M352.0 153.1h0M364.7 134.0h0M354.2 150.5h0M350.2 154.9h0M351.1 151.4h0M349.3 155.2h0M343.8 150.1h0M351.7 152.9h0M364.6 144.0h0M345.0 152.4h0M357.6 150.6h0M359.9 141.4h0M348.1 154.0h0M353.0 146.6h0M345.7 143.0h0M349.3 154.4h0M347.0 143.1h0M343.1 145.4h0M353.3 150.3h0M346.1 128.6h0M353.4 151.1h0M348.8 151.1h0M353.6 146.0h0M348.6 154.9h0M364.8 133.1h0M360.2 151.2h0M354.7 144.6h0M353.2 140.8h0M351.9 153.9h0M349.0 154.4h0M347.5 150.2h0M340.0 142.4h0M348.4 153.1h0M359.6 142.5h0M347.2 149.7h0M355.1 149.6h0M349.0 154.8h0M348.1 152.0h0M352.4 152.6h0M344.2 145.4h0M349.5 154.5h0M355.1 147.2h0M352.8 153.4h0M346.7 145.7h0M356.6 138.9h0M345.4 144.9h0M356.8 135.1h0M353.7 146.0h0M350.4 155.0h0M353.9 143.8h0M348.6 153.9h0M349.5 155.1h0M368.4 140.0h0M353.3 151.2h0M350.9 154.2h0M349.8 155.4h0M352.4 154.0h0M351.9 154.2h0M362.1 144.0h0M352.2 152.5h0M342.1 138.8h0M350.8 153.5h0M344.1 149.2h0M343.7 131.9h0M345.9 150.4h0M344.8 148.7h0M351.5 153.4h0M350.8 154.5h0M353.8 144.2h0M359.9 129.1h0M346.3 145.1h0M328.1 134.1h0M369.2 146.7h0M346.1 150.9h0M354.7 149.7h0M351.8 151.1h0M350.6 154.0h0M342.8 152.5h0M347.0 151.5h0M346.1 136.9h0M359.4 141.2h0M347.0 149.7h0M339.4 148.9h0M353.7 150.1h0M358.6 142.0h0M356.0 136.6h0M351.7 152.2h0M365.4 138.9h0M345.0 148.4h0M349.9 155.5h0M345.2 140.9h0M345.3 151.0h0M351.8 151.7h0M351.3 153.1h0M349.1 153.7h0M351.3 153.9h0M352.9 148.4h0M358.8 138.2h0M348.5 153.4h0M342.9 151.5h0M360.6 143.0h0M349.7 154.9h0M349.7 155.2h0M359.7 146.4h0M351.2 148.7h0M343.9 144.2h0M347.2 149.0h0M349.7 154.5h0M352.0 152.5h0M344.7 150.7h0M343.8 139.5h0M350.1 155.4h0M345.0 151.5h0M354.8 153.6h0M349.7 155.3h0M351.0 154.0h0M356.7 146.6h0M352.5 133.8h0M351.3 154.4h0M345.4 144.1h0M344.3 141.7h0M330.0 132.8h0M354.1 154.0h0M350.6 151.8h0M349.4 154.9h0M341.6 147.0h0M351.6 152.4h0M347.6 151.0h0M346.3 147.1h0M351.5 149.4h0M357.4 142.9h0M353.3 146.4h0M350.0 155.5h0M346.4 147.1h0M345.4 152.8h0M348.2 153.1h0M348.2 152.3h0M379.2 139.9h0M352.0 151.5h0M352.4 153.7h0M340.5 151.9h0M357.9 140.3h0M350.6 154.3h0M343.5 142.7h0M349.1 154.3h0M336.8 128.9h0M345.4 149.5h0M350.2 155.0h0M345.5 148.4h0M350.6 155.3h0M364.2 142.8h0M353.4 153.4h0M350.2 155.2h0M365.5 134.0h0M354.0 149.3h0M341.8 138.8h0M350.4 155.1h0M352.5 154.7h0M349.7 155.5h0M354.9 148.5h0M356.5 152.7h0M350.4 155.3h0M348.8 153.0h0M357.6 151.2h0M349.5 154.8h0M340.9 146.1h0M350.2 154.1h0M344.1 135.9h0M345.2 141.1h0M348.9 153.2h0M343.8 144.1h0M350.2 155.3h0M353.4 153.2h0M353.2 152.1h0M348.9 154.2h0M325.3 138.6h0M332.5 136.6h0M363.4 138.5h0M352.0 152.6h0M351.8 151.7h0M351.3 146.1h0M347.2 154.0h0M349.5 155.0h0M354.1 151.5h0M348.4 153.8h0M390.1 130.7h0M347.6 153.8h0M354.3 149.8h0M355.0 142.8h0M349.7 155.4h0M376.0 138.6h0M348.0 154.6h0M353.9 147.5h0M353.0 152.8h0M347.7 150.5h0M347.6 151.7h0M343.1 144.5h0M343.7 142.4h0M349.8 155.1h0M356.0 145.5h0M330.1 140.4h0M355.7 144.5h0M345.1 137.5h0M347.8 152.0h0M345.3 152.9h0M350.0 155.5h0M337.2 149.4h0M352.8 148.1h0M349.9 155.6h0M351.0 153.9h0M349.1 152.0h0M349.5 154.8h0M351.4 154.7h0M354.9 143.9h0M350.0 155.5h0M351.3 153.4h0M341.0 149.9h0M362.2 146.4h0M339.2 136.4h0M359.2 145.0h0M344.0 141.3h0M362.8 140.8h0M355.8 149.3h0M336.8 142.1h0M354.4 105.6h0M352.6 146.4h0M344.7 146.5h0M355.3 150.9h0M350.1 155.2h0M350.0 155.2h0M354.8 141.2h0M344.9 144.6h0M352.2 137.5h0M352.6 146.3h0M349.9 155.6h0M355.8 139.7h0M349.2 154.0h0M361.2 150.8h0M360.2 143.8h0M337.5 134.2h0M348.2 149.9h0M350.7 151.2h0M363.9 141.7h0M342.9 147.1h0M351.8 152.7h0M345.8 150.4h0M345.3 150.6h0M346.2 150.9h0M361.1 149.7h0M355.4 146.7h0M349.6 155.3h0M348.7 154.2h0M353.0 150.5h0M358.3 148.9h0M350.5 154.0h0M350.0 155.5h0M336.8 143.0h0M362.4 144.5h0M347.0 148.9h0M349.8 155.4h0M344.5 145.6h0M360.8 132.1h0M354.4 148.4h0M339.9 138.9h0M349.3 155.2h0M347.6 150.5h0M351.9 151.5h0M349.6 154.7h0M341.9 145.8h0M339.8 143.3h0M335.8 138.5h0M353.6 148.6h0M350.8 153.5h0M354.1 151.5h0M347.9 152.1h0M349.7 154.9h0M344.5 146.7h0M350.0 155.5h0M356.7 150.1h0M347.8 153.0h0M350.6 155.2h0M344.5 142.1h0M347.7 144.7h0M347.0 150.3h0M352.8 152.9h0M346.4 150.5h0M344.3 136.7h0M348.9 154.6h0M348.5 153.3h0M345.0 146.3h0M352.3 150.6h0M351.9 154.0h0M348.7 154.2h0M357.3 145.3h0M344.0 143.9h0M353.1 149.7h0M354.7 138.9h0M352.6 149.7h0M347.3 153.3h0M341.2 147.5h0M362.5 148.3h0M357.6 146.9h0M353.1 152.8h0M356.9 143.4h0M356.0 134.4h0M352.1 146.6h0M352.8 152.7h0M358.9 140.0h0M346.0 151.8h0M349.2 153.5h0M346.6 149.0h0M350.2 155.1h0M345.3 143.2h0M351.5 151.8h0M350.7 154.3h0M354.6 146.6h0M345.8 154.1h0M352.0 148.4h0M357.0 143.1h0M353.6 150.8h0M352.3 153.2h0M348.4 154.6h0M353.7 147.6h0M353.2 148.4h0M363.0 147.4h0M348.7 154.6h0M342.2 141.4h0M349.3 154.6h0M350.6 153.8h0M333.5 147.6h0M340.9 152.0h0M327.8 142.8h0M354.5 134.4h0M355.2 142.4h0M350.1 155.4h0M347.0 152.2h0M348.5 154.2h0M355.6 143.0h0M348.9 154.1h0M345.9 144.0h0M358.2 139.5h0M344.9 148.9h0M343.7 149.7h0M352.8 146.4h0M339.9 145.5h0M356.6 139.3h0M358.8 142.4h0M351.3 154.1h0M352.7 148.1h0M351.6 151.4h0M349.2 155.0h0M347.5 151.5h0M347.6 149.0h0M350.6 154.9h0M351.1 153.9h0M352.7 145.8h0M346.3 153.4h0M351.7 148.5h0M352.0 152.2h0M340.3 144.6h0M352.1 151.5h0M353.1 147.0h0M351.4 152.6h0M361.0 132.9h0M349.6 155.1h0M349.1 153.2h0M350.6 154.7h0M348.8 152.9h0M354.6 149.7h0M352.0 152.5h0M345.3 152.7h0M370.3 133.1h0M359.8 135.9h0M351.8 153.3h0M336.6 142.1h0M369.4 145.2h0M351.1 154.9h0M345.0 137.5h0M340.7 136.3h0M346.1 149.1h0M346.2 149.5h0M351.5 150.2h0M346.3 151.0h0M354.5 153.1h0M338.4 132.9h0M330.2 135.9h0M352.8 148.6h0M349.1 153.8h0M352.5 148.1h0M341.7 134.4h0M349.2 153.4h0M360.8 139.8h0M350.3 154.8h0M357.2 140.0h0M353.3 144.4h0M341.6 146.6h0M360.8 136.9h0M351.6 155.0h0M358.4 137.0h0M337.8 137.7h0M358.4 128.7h0M353.9 152.1h0M344.7 142.3h0M361.2 149.3h0M354.2 150.3h0M351.7 148.6h0M346.9 148.0h0M341.2 141.7h0M342.9 133.3h0M338.9 147.2h0M348.9 153.0h0M347.2 153.9h0M358.0 147.2h0M353.0 149.4h0M348.8 152.1h0M340.4 139.3h0M341.2 143.5h0M346.0 151.6h0M349.8 155.4h0M348.5 153.6h0M359.8 147.9h0M350.2 155.3h0M349.4 154.4h0M348.8 152.2h0M348.5 153.4h0M346.5 150.3h0M354.5 146.8h0M354.0 150.2h0M345.5 151.0h0M348.7 154.2h0M349.0 153.5h0M353.0 152.6h0M357.7 147.0h0M354.0 151.4h0M342.4 142.6h0M350.3 155.2h0M347.2 153.8h0M349.6 155.0h0M350.8 154.7h0M354.0 151.0h0M337.6 139.3h0M346.7 149.0h0M343.8 140.6h0M349.7 154.8h0M357.2 140.1h0M347.2 152.8h0M342.2 146.9h0M344.1 141.9h0M333.2 141.9h0M350.4 154.5h0M349.9 155.6h0M353.4 149.6h0M347.1 148.5h0M349.5 153.9h0M357.9 141.1h0M349.9 155.5h0M355.1 139.1h0M344.2 145.8h0M351.0 154.4h0M347.0 151.3h0M345.5 151.3h0M352.9 153.8h0M338.4 143.9h0M347.8 148.7h0M348.3 150.1h0M359.2 144.7h0M350.5 154.7h0M348.6 154.2h0M347.9 154.4h0M348.6 154.5h0M343.2 143.8h0M343.0 143.7h0M356.6 136.3h0M338.4 145.5h0M347.7 153.3h0M346.4 150.0h0M354.8 132.6h0M355.7 145.2h0M349.2 155.3h0M356.3 150.7h0M347.9 153.3h0M351.2 154.5h0M345.9 150.8h0M339.6 147.7h0M349.7 155.2h0M347.9 151.5h0M345.8 149.3h0M346.6 150.4h0M356.6 150.8h0M352.7 152.4h0M350.6 154.5h0M352.0 153.1h0M344.2 137.1h0M357.9 142.5h0M350.5 154.3h0M340.5 144.4h0M346.9 153.7h0M353.0 154.5h0M353.7 150.7h0M358.2 137.7h0M348.3 147.9h0M336.2 142.7h0M351.0 154.7h0M346.9 151.5h0M351.9 154.5h0M357.0 147.1h0M360.3 132.9h0M353.1 147.4h0M343.8 149.6h0M360.2 131.6h0M352.7 145.9h0M348.1 152.3h0M343.5 134.0h0M350.3 155.1h0M353.4 151.0h0M339.1 146.1h0M350.9 153.5h0M364.8 137.7h0M348.2 153.2h0M347.2 149.8h0M344.0 138.0h0M344.1 132.6h0M350.7 150.8h0M347.3 153.0h0M349.1 154.1h0M358.2 131.8h0M346.1 151.2h0M352.0 149.5h0M345.5 147.7h0M340.8 131.1h0M340.6 143.4h0M337.5 144.3h0M363.9 129.6h0M349.6 154.2h0M361.5 150.6h0M335.2 148.7h0M341.4 128.8h0M343.5 143.8h0M350.2 155.4h0M349.7 155.3h0M354.3 138.4h0M359.7 150.5h0M348.7 152.9h0M350.1 155.1h0M345.0 150.7h0M339.0 147.6h0M351.2 153.1h0M360.8 144.5h0M356.2 146.5h0M350.1 155.3h0M347.6 152.9h0M344.9 149.7h0M350.3 154.4h0M352.0 154.5h0M344.9 146.1h0M342.9 143.9h0M354.8 146.1h0M364.5 135.1h0M385.9 129.0h0M358.7 131.2h0M354.0 149.5h0M353.3 151.2h0M352.6 152.6h0M357.6 147.9h0M352.5 152.3h0M340.0 145.4h0M351.8 151.3h0M355.3 144.3h0M359.3 137.8h0M359.1 142.0h0M350.6 154.2h0M360.3 148.1h0M352.5 151.3h0M361.8 131.7h0M348.2 153.6h0M364.3 129.9h0M349.4 154.7h0M351.5 152.3h0M347.8 151.5h0M350.8 154.9h0M342.6 150.5h0M349.9 155.6h0M356.9 145.4h0M347.5 152.0h0M347.0 150.5h0M345.0 145.4h0M361.2 146.9h0M349.5 155.3h0M344.7 151.6h0M350.5 154.5h0M349.1 155.1h0M350.0 155.1h0M343.0 145.0h0M338.3 131.6h0M347.6 151.6h0M350.3 155.2h0M352.8 151.3h0M358.8 140.9h0M360.0 145.4h0M345.2 151.0h0M347.3 148.8h0M351.7 151.7h0M346.3 148.2h0M352.1 150.7h0M341.7 140.5h0M348.6 153.4h0M343.1 132.6h0M351.5 153.4h0M346.1 153.0h0M350.1 155.2h0M347.4 149.7h0M352.3 142.7h0M345.2 145.7h0M343.3 140.0h0M341.5 152.3h0M351.8 152.0h0M359.1 146.2h0M345.7 150.0h0M343.7 146.7h0M349.4 154.2h0M335.5 148.1h0M337.0 147.4h0M329.3 140.7h0M355.7 146.5h0M344.4 145.5h0M354.4 144.6h0M352.5 149.8h0M326.4 144.0h0M350.6 155.0h0M354.1 134.6h0M355.8 151.1h0M341.2 145.0h0M351.0 153.6h0M347.3 146.0h0M357.2 143.1h0M353.4 154.1h0M344.8 143.8h0M351.7 153.4h0M354.5 146.2h0M354.2 147.7h0M354.9 148.2h0M354.8 147.7h0M348.9 152.1h0M342.5 150.9h0M352.5 145.1h0M349.4 154.8h0M347.0 149.6h0M347.8 153.9h0M355.0 141.5h0M344.8 148.3h0M351.8 153.4h0M351.8 154.0h0M341.9 132.8h0M352.6 151.6h0M345.6 149.2h0M346.2 144.2h0M342.9 147.4h0M353.3 148.5h0M348.3 145.9h0M349.4 155.1h0M353.0 146.6h0M345.7 147.8h0M343.6 147.1h0M349.6 155.2h0M350.1 155.3h0M345.2 138.9h0M353.9 152.1h0M350.6 155.0h0M344.1 149.5h0M348.2 154.6h0M350.0 155.2h0M352.0 140.0h0M350.3 153.3h0M344.4 150.9h0M351.4 153.7h0M359.3 130.4h0M346.4 153.5h0M351.5 150.7h0M347.0 153.6h0M348.4 153.2h0M347.6 150.6h0M348.7 153.0h0M386.0 134.4h0M340.4 150.1h0M351.3 153.9h0M353.2 148.1h0M335.3 141.3h0M341.7 142.7h0M337.6 143.7h0M347.1 149.4h0M339.1 149.0h0M342.9 139.8h0M352.1 148.4h0M346.8 151.0h0M357.1 142.7h0M364.0 143.9h0M353.5 152.7h0M353.0 153.2h0M343.3 139.0h0M336.9 134.1h0M351.8 152.6h0M352.6 153.3h0M352.0 154.3h0M348.0 152.2h0M355.9 144.6h0M344.3 137.1h0M352.2 153.9h0M350.9 153.9h0M350.4 155.1h0M351.9 154.5h0M351.0 154.0h0M350.2 155.2h0M346.9 152.9h0M339.6 142.7h0M342.9 143.2h0M356.7 147.3h0M330.8 135.6h0M352.4 149.0h0M342.6 134.1h0M351.1 153.7h0M352.6 152.3h0M370.7 142.0h0M350.1 155.2h0M348.0 153.2h0M354.5 145.2h0M355.8 147.4h0M353.5 145.7h0M351.9 150.6h0M350.5 154.1h0M352.4 153.1h0M351.7 152.8h0M350.4 154.0h0M346.8 149.2h0M356.3 144.7h0M352.2 146.0h0M347.7 150.7h0M345.7 148.9h0M354.5 136.0h0M336.2 144.1h0M352.6 151.5h0M380.1 133.0h0M343.2 147.7h0M347.7 153.1h0M350.9 154.2h0M355.8 137.0h0M344.8 148.3h0M348.5 153.1h0M342.7 143.5h0M348.2 154.3h0M348.9 153.2h0M342.5 143.7h0M347.9 152.5h0M348.8 154.2h0M346.9 153.6h0M347.4 150.9h0M357.6 138.4h0M354.7 139.4h0M346.3 142.0h0M349.7 155.3h0M345.2 145.8h0M355.2 148.6h0M346.4 148.2h0M362.1 142.1h0M350.9 154.4h0M352.4 152.1h0M341.4 136.7h0M348.9 152.5h0M348.2 153.8h0M337.1 132.6h0M342.6 145.6h0M347.6 152.5h0M347.9 150.3h0M345.5 140.6h0M350.6 154.8h0M361.6 139.2h0M350.5 154.6h0M349.1 152.9h0M346.5 153.7h0M351.3 149.8h0M364.0 128.7h0M356.1 147.8h0M351.0 154.0h0M347.5 147.6h0M351.7 152.2h0M344.2 138.4h0M348.8 153.3h0M348.6 152.3h0M348.1 142.7h0M349.0 153.8h0M356.3 141.2h0M347.9 152.3h0M352.3 154.7h0M342.6 147.5h0M346.9 153.5h0M347.2 152.0h0M358.6 143.6h0M347.1 147.0h0M344.2 144.4h0M345.0 148.6h0M349.9 155.6h0M351.3 151.2h0M349.5 154.6h0M348.0 150.0h0M354.0 151.6h0M348.8 154.3h0M361.3 139.8h0M347.1 153.9h0M348.9 153.0h0M360.8 138.2h0M355.0 137.4h0M350.4 154.6h0M349.1 155.0h0M334.0 148.6h0M349.0 153.9h0M347.8 154.4h0M337.5 142.7h0M354.2 148.0h0M354.7 146.5h0M360.6 149.4h0M347.4 152.5h0M353.1 146.3h0M344.3 145.8h0M370.5 128.6h0M352.2 137.4h0M346.8 144.1h0M348.0 153.8h0M361.3 143.9h0M346.4 146.0h0M347.1 149.4h0M346.8 146.9h0M357.4 146.6h0M347.8 151.6h0M349.7 155.2h0M349.9 155.4h0M348.7 154.7h0M366.4 136.5h0M349.7 155.1h0M335.0 149.1h0M351.5 152.6h0M351.4 150.0h0M350.7 154.7h0M356.7 149.9h0M348.9 154.6h0M354.1 150.4h0M343.6 141.5h0M351.7 152.8h0M352.1 151.8h0M353.8 140.8h0M344.4 136.2h0M356.0 140.4h0M359.5 138.5h0M352.6 151.5h0M357.8 140.9h0M348.3 152.5h0M350.0 155.5h0M354.5 150.5h0M334.0 136.7h0M346.2 148.8h0M353.1 152.9h0M369.8 134.4h0M351.0 154.8h0M351.3 154.5h0M348.4 154.8h0M308.9 129.9h0M341.6 149.2h0M346.5 153.0h0M356.7 132.3h0M348.9 154.0h0M348.5 154.3h0M353.6 150.3h0M348.9 154.5h0M366.2 140.6h0M346.7 150.5h0M346.8 150.8h0M350.7 153.6h0M351.7 152.4h0M349.0 153.9h0M349.0 154.3h0M352.1 150.6h0M354.5 153.3h0M346.8 144.3h0M344.7 149.7h0M350.5 154.6h0M347.4 152.0h0M348.2 152.2h0M347.5 152.6h0M350.4 155.1h0M353.2 151.4h0M357.4 135.1h0M350.0 155.3h0M343.4 129.1h0M356.8 152.1h0M352.7 153.1h0M354.8 152.7h0M345.8 151.2h0M354.9 144.0h0M349.7 155.3h0M355.6 145.2h0M354.5 145.8h0M351.5 144.5h0M346.6 149.6h0M340.8 144.2h0M356.7 142.4h0M347.8 152.0h0M350.1 155.4h0M347.8 153.4h0M349.9 155.5h0M353.7 150.6h0M345.6 146.6h0M350.5 154.8h0M350.2 155.4h0M351.0 154.7h0M353.0 151.1h0M354.2 139.3h0M350.6 154.0h0M339.0 136.4h0M342.4 139.8h0M349.7 155.4h0M347.7 150.9h0M339.4 144.9h0M354.0 150.4h0M357.2 135.8h0M351.5 152.3h0M348.3 153.0h0M349.0 153.8h0M353.2 148.6h0M351.0 151.6h0M346.0 142.9h0M351.6 152.9h0M346.4 148.9h0M345.7 151.3h0M360.0 143.4h0M351.1 153.0h0M352.5 153.2h0M350.6 154.3h0M344.9 145.7h0M348.7 153.7h0M340.0 139.6h0M359.4 142.0h0M352.0 153.8h0M355.9 142.8h0M348.8 154.3h0M355.5 153.2h0M353.4 151.9h0M353.0 148.3h0M350.2 155.4h0M347.7 152.2h0M353.5 146.5h0M349.8 155.3h0M350.1 155.0h0M350.0 155.5h0M346.8 149.5h0M354.3 150.7h0M347.9 153.1h0M367.3 137.8h0M345.0 147.8h0M352.6 152.3h0M351.5 154.8h0M353.4 152.4h0M363.2 134.7h0M353.8 152.1h0M345.1 142.1h0M347.3 152.0h0M330.1 133.1h0M349.1 154.8h0M348.1 148.3h0M351.9 153.5h0M348.7 154.2h0M342.4 149.6h0M345.4 152.6h0M345.7 145.6h0M345.7 141.6h0M344.8 145.5h0M352.2 150.3h0M352.3 149.0h0M352.2 148.7h0M348.5 154.7h0M351.0 153.4h0M358.9 151.7h0M348.9 154.6h0M349.5 154.6h0M348.4 153.2h0M347.5 153.8h0M348.1 153.8h0M349.2 154.5h0M361.6 137.2h0M346.5 136.5h0M351.4 153.7h0M346.1 150.9h0M350.4 154.9h0M359.2 139.0h0M360.0 128.5h0M351.2 153.6h0M347.8 145.4h0M355.1 151.5h0M364.7 132.2h0M352.2 143.5h0M351.8 154.3h0M331.7 139.5h0M345.6 151.3h0M352.1 151.1h0M345.9 149.6h0M331.1 139.5h0M350.4 154.6h0M347.2 148.5h0M349.6 154.9h0M345.8 153.3h0M341.3 143.4h0M362.1 145.3h0M353.3 151.3h0M343.6 143.7h0M352.1 152.1h0M364.2 140.2h0M349.0 151.6h0M353.1 148.7h0M351.4 153.8h0M342.5 144.6h0M348.7 148.5h0M348.3 154.0h0M338.4 143.1h0M353.1 150.1h0M349.6 155.2h0M353.2 151.2h0M345.8 148.7h0M346.7 146.6h0M343.2 148.0h0M347.5 150.6h0M352.4 153.5h0M350.1 155.4h0M362.7 145.8h0M356.7 148.7h0M352.2 153.0h0M354.7 148.7h0M345.1 146.5h0M340.4 143.6h0M351.1 153.4h0M352.5 153.0h0M353.6 151.2h0M344.1 146.5h0M340.7 144.4h0M339.0 141.8h0M349.6 155.3h0M347.1 142.8h0M353.3 151.0h0M347.7 151.9h0M348.2 151.7h0M351.3 153.4h0M339.9 135.1h0M357.6 151.2h0M352.1 152.7h0M351.9 150.0h0M348.7 150.8h0M350.1 155.4h0M350.4 153.9h0M349.1 154.2h0M328.9 137.0h0M354.0 148.2h0M350.6 153.9h0M361.5 149.0h0M348.9 153.3h0M349.7 155.3h0M355.8 152.1h0M352.8 147.6h0M347.0 148.2h0M345.0 148.8h0M353.6 151.4h0M346.2 149.2h0M352.7 148.1h0M349.4 154.9h0M353.5 150.5h0M340.5 133.8h0M349.4 154.4h0M349.0 150.5h0M348.5 154.0h0M345.1 146.9h0M358.5 141.0h0M354.7 144.0h0M344.5 149.7h0M349.3 153.9h0M346.2 148.1h0M345.8 150.3h0M357.0 137.9h0M351.0 154.2h0M348.8 154.6h0M347.4 152.8h0M352.7 147.1h0M359.4 136.0h0M355.8 142.2h0M344.2 147.4h0M347.5 151.9h0M355.0 147.6h0M344.5 149.6h0M346.6 145.5h0M351.4 153.4h0M342.1 145.8h0M346.1 149.4h0M350.9 154.3h0M344.9 151.9h0M346.6 150.4h0M346.1 134.3h0M349.6 155.2h0M347.3 151.8h0M346.4 152.6h0M354.5 146.3h0M355.1 147.9h0M345.0 140.0h0M370.9 134.0h0M348.5 153.1h0M340.6 129.3h0M356.1 140.5h0M354.0 147.6h0M347.2 146.0h0M345.2 145.9h0M352.5 150.1h0M344.1 134.1h0M340.9 147.4h0M360.8 147.9h0M345.8 153.4h0M347.7 150.2h0M349.6 154.8h0M356.3 147.5h0M349.2 154.7h0M346.2 148.3h0M347.3 148.4h0M343.4 136.2h0M346.3 150.4h0M358.0 143.0h0M352.1 146.0h0M352.9 146.3h0M344.4 150.3h0M345.9 129.7h0M357.2 149.8h0M348.3 153.6h0M356.5 150.3h0M359.1 144.7h0M330.8 146.8h0M358.0 149.9h0M360.3 135.2h0M354.3 132.9h0M345.0 146.8h0M351.5 151.7h0M351.0 154.5h0M347.1 154.1h0M355.4 151.9h0M350.0 155.3h0M347.5 152.3h0M352.8 149.5h0M352.1 152.2h0M352.7 151.3h0M355.2 142.4h0M358.7 150.2h0M348.0 150.4h0M351.5 151.8h0M342.9 138.1h0M343.1 150.2h0M329.0 141.5h0M339.7 149.8h0M348.2 152.4h0M349.3 155.1h0M351.9 148.5h0M347.7 148.6h0M353.4 146.7h0M350.7 155.0h0M346.1 133.7h0M353.2 150.9h0M350.0 155.4h0M350.6 154.1h0M348.1 153.0h0M343.4 143.7h0M347.7 153.7h0M354.2 148.7h0M327.7 144.9h0M355.7 139.1h0M352.2 154.1h0M345.3 148.4h0M369.3 131.7h0M354.1 149.9h0M351.8 152.6h0M350.9 152.5h0M357.3 148.1h0M353.7 147.4h0M339.6 145.2h0M356.9 144.5h0M357.0 150.3h0M340.5 146.6h0M352.2 153.6h0M358.0 138.1h0M351.9 153.4h0M348.5 146.7h0M345.8 139.0h0M349.9 155.6h0M354.2 149.8h0M352.5 148.2h0M349.5 154.9h0M364.2 146.8h0M352.3 152.1h0M322.8 134.6h0M349.0 153.5h0M350.4 155.0h0M355.1 151.7h0M358.9 149.6h0M361.3 134.3h0M355.6 149.4h0M347.5 151.6h0M362.2 139.6h0M350.5 155.1h0M342.0 145.7h0M351.4 154.9h0M369.5 134.4h0M342.0 134.2h0M340.7 137.0h0M349.0 154.6h0M348.3 153.4h0M356.8 134.3h0M356.6 148.4h0M341.5 146.2h0M349.0 154.2h0M351.8 152.0h0M348.1 149.7h0M353.5 151.6h0M370.1 129.3h0M353.9 141.0h0M349.6 154.2h0M347.5 147.3h0M364.3 135.1h0M348.5 153.8h0M352.0 149.1h0M349.3 154.0h0M357.6 132.1h0M348.1 153.9h0M348.5 151.2h0M350.1 155.4h0M360.0 137.7h0M349.6 154.7h0M347.5 151.5h0M352.0 152.8h0M349.2 154.4h0M356.4 143.6h0M347.1 151.7h0M348.8 150.7h0M332.1 147.5h0M348.1 150.9h0M351.0 152.6h0M354.0 152.4h0M346.4 142.1h0M360.0 148.0h0M338.6 146.9h0M355.8 150.0h0M352.3 150.4h0M337.6 146.1h0M351.2 154.6h0M349.7 155.5h0M345.2 151.5h0M352.5 151.6h0M354.8 145.4h0M349.6 155.4h0M359.4 133.4h0M342.3 143.2h0M352.3 136.7h0M344.1 150.5h0M353.6 152.4h0M351.9 149.9h0M345.6 149.4h0M354.8 139.3h0M352.9 148.0h0M338.8 140.7h0M349.6 154.7h0M348.3 144.5h0M324.5 142.7h0M352.4 149.6h0M357.0 145.3h0M347.4 151.2h0M347.4 152.3h0M357.9 147.8h0M334.0 135.3h0M354.7 141.4h0M349.7 155.2h0M351.2 152.5h0M350.3 155.0h0M349.5 155.3h0M353.6 146.2h0M349.5 154.4h0M352.0 151.5h0M347.6 151.9h0M348.2 154.2h0M347.0 148.8h0M348.2 148.3h0M349.8 155.5h0M357.9 133.1h0M344.8 145.2h0M348.9 153.4h0M341.4 139.8h0M347.2 151.6h0M352.4 149.6h0M344.4 145.0h0M357.2 131.3h0M340.9 137.9h0M351.8 150.2h0M356.3 149.2h0M340.5 138.8h0M355.2 151.1h0M351.0 152.0h0M347.6 144.2h0M349.8 155.5h0M345.9 150.2h0M359.3 144.9h0M344.7 145.0h0M343.1 135.9h0M334.9 147.8h0M354.0 152.2h0M347.1 149.1h0M351.0 154.9h0M349.5 155.2h0M361.9 140.1h0M347.0 152.9h0M356.1 143.9h0M360.2 141.8h0M345.3 148.6h0M351.2 153.2h0M349.8 155.5h0M347.5 145.2h0M354.4 153.2h0M353.6 150.4h0M349.8 155.3h0M346.0 145.5h0M354.9 147.2h0M353.8 152.8h0M341.3 139.3h0M350.7 154.2h0M347.4 150.2h0M347.4 150.0h0M355.7 136.0h0M356.0 142.2h0M345.6 149.8h0M345.6 151.0h0M356.2 143.0h0M343.5 138.1h0M357.4 143.9h0M340.7 130.2h0M347.8 154.0h0M348.4 150.9h0M352.1 151.4h0M345.3 152.0h0M352.6 153.2h0M345.8 142.5h0M357.3 141.3h0M354.8 145.8h0M348.8 154.2h0M341.7 143.8h0M365.5 136.5h0M353.4 151.8h0M343.9 146.9h0M344.6 144.8h0M346.0 146.9h0M344.9 145.5h0M351.8 150.9h0M341.9 145.9h0M356.1 145.0h0M353.7 147.4h0M346.4 150.6h0M347.5 149.0h0M349.3 153.0h0M379.9 130.0h0M355.5 149.3h0M363.6 135.4h0M343.4 143.9h0M351.2 154.4h0M352.1 151.3h0M356.8 144.5h0M348.1 149.6h0M373.5 136.9h0M348.8 153.3h0M351.8 147.7h0M344.4 146.6h0M365.4 137.8h0M344.7 151.0h0M331.9 145.4h0M354.0 145.7h0M358.9 141.1h0M353.7 149.7h0M341.1 146.8h0M345.4 146.2h0M341.9 144.9h0M349.8 155.5h0M347.5 152.2h0M360.3 138.8h0M354.1 151.2h0M352.7 153.6h0M348.4 154.2h0M351.8 150.1h0M346.1 148.9h0M354.1 147.8h0M343.5 139.8h0M348.7 152.4h0M346.6 144.1h0M351.3 152.1h0M354.8 134.8h0M348.6 151.7h0M369.2 128.9h0M349.8 155.5h0M339.6 142.1h0M358.3 144.3h0M352.3 153.0h0M351.1 154.9h0M368.3 146.3h0M348.0 153.9h0M355.0 151.2h0M343.8 135.2h0M358.6 145.3h0M354.2 153.1h0M347.2 153.3h0M353.2 152.2h0M349.6 154.5h0M341.5 152.0h0M352.2 152.3h0M352.6 152.1h0M358.6 141.9h0M347.2 149.9h0M356.0 146.9h0M348.5 153.6h0M353.5 150.5h0M350.5 155.1h0M352.1 151.4h0M359.2 143.2h0M340.8 144.6h0M344.8 149.6h0M349.7 155.3h0M362.0 150.1h0M347.5 150.2h0M355.9 143.0h0M351.7 150.5h0M353.4 146.3h0M342.4 150.5h0M345.7 145.0h0M348.4 154.0h0M350.6 154.6h0M348.1 152.7h0M347.2 152.6h0M353.3 146.6h0M373.7 142.7h0M347.4 142.6h0M346.4 137.1h0M357.7 147.9h0M353.9 147.9h0M326.3 140.9h0M348.7 152.3h0M347.1 150.8h0M345.3 146.6h0M355.4 147.2h0M350.6 154.8h0M349.7 155.5h0M359.1 145.9h0M346.9 150.3h0M325.3 143.3h0M357.0 147.3h0M349.5 154.5h0M350.7 154.9h0M362.1 139.1h0M320.3 136.6h0M358.4 138.6h0M354.9 149.7h0M356.9 149.0h0M341.6 146.0h0M352.9 144.0h0M367.6 143.9h0M353.2 148.6h0M350.7 155.3h0M346.5 149.5h0M365.7 140.7h0M328.6 128.2h0M322.1 132.3h0M345.4 150.8h0M347.7 150.7h0M346.5 148.7h0M360.6 142.7h0M349.6 155.0h0M353.1 148.1h0M349.2 154.1h0M351.6 154.7h0M348.7 153.7h0M341.2 140.7h0M348.6 154.8h0M349.7 155.3h0M347.1 153.5h0M351.1 150.4h0M351.1 153.5h0M339.3 141.8h0M351.0 155.0h0M352.3 147.7h0M346.4 149.6h0M350.9 154.5h0M351.1 154.6h0M347.8 151.2h0M352.1 151.0h0M335.8 131.4h0M350.0 155.5h0M344.7 146.4h0M350.6 153.9h0M354.6 149.8h0M351.8 152.4h0M351.0 154.0h0M350.2 154.8h0M348.7 148.2h0M332.4 135.7h0M351.2 153.0h0M352.0 154.3h0M347.0 149.9h0M349.9 155.6h0M353.2 153.0h0M344.9 141.8h0M338.2 140.3h0M350.1 155.4h0M364.9 134.8h0M359.1 142.6h0M346.5 152.1h0M340.9 138.8h0M352.0 151.8h0M354.0 145.1h0M348.5 153.8h0M341.0 148.5h0M342.4 150.0h0M336.1 135.6h0M350.8 154.3h0M344.3 150.8h0M339.5 131.5h0M353.1 152.2h0M353.2 150.0h0M352.8 147.8h0M362.8 140.4h0M334.2 135.7h0M357.6 146.2h0M346.9 144.5h0M347.6 154.0h0M350.8 154.4h0M332.6 136.8h0M353.7 151.6h0M346.2 148.4h0M355.2 149.4h0M355.1 146.9h0M345.9 153.9h0M349.0 154.2h0M348.7 154.4h0M349.6 155.3h0M329.9 135.5h0M356.1 145.5h0M348.7 154.3h0M356.2 131.4h0M353.7 143.7h0M361.6 138.2h0M362.1 133.1h0M342.7 136.6h0M355.4 134.9h0M345.2 143.0h0M348.3 149.7h0M352.2 148.3h0M359.4 138.3h0M348.0 153.2h0M347.9 150.1h0M345.9 150.8h0M342.9 142.4h0M347.1 149.0h0M349.4 155.1h0M352.3 145.6h0M356.8 144.8h0M354.1 149.3h0M352.5 154.4h0M350.8 154.6h0M357.2 136.7h0M347.7 151.2h0M344.1 144.0h0M365.1 138.3h0M348.8 154.3h0M347.4 143.4h0M355.7 141.0h0M357.2 147.7h0M349.8 155.5h0M354.9 145.7h0M365.3 142.3h0M344.8 149.9h0M345.2 135.1h0M350.5 154.2h0M355.8 152.9h0M337.4 136.4h0M350.8 153.7h0M350.5 153.8h0M356.9 145.4h0M345.8 148.4h0M346.4 147.8h0M337.9 141.3h0M353.4 146.1h0M351.6 151.3h0M347.7 148.1h0M345.5 147.7h0M354.5 150.7h0M363.1 142.6h0M359.4 139.7h0M348.5 153.4h0M345.0 137.9h0M350.5 155.2h0M355.6 142.5h0M344.6 151.3h0M345.5 149.2h0M355.1 149.7h0M356.5 145.4h0M342.0 143.0h0M349.0 154.6h0M344.9 137.7h0M344.9 151.1h0M350.8 154.8h0M354.2 147.5h0M340.1 142.9h0M353.4 148.8h0M354.7 135.2h0M354.6 145.4h0M349.0 153.8h0M352.6 150.4h0M353.0 140.8h0M355.3 149.6h0M340.0 142.7h0M348.3 154.1h0M359.4 149.7h0M349.3 153.2h0M326.3 128.8h0M359.2 143.2h0M350.5 154.0h0M354.2 143.2h0M350.4 153.8h0M342.4 148.9h0M349.8 155.5h0M350.9 154.8h0M346.7 150.4h0M333.4 136.7h0M337.3 128.2h0M343.1 141.5h0M349.9 155.5h0M354.9 149.8h0M346.7 152.2h0M349.1 154.3h0M349.6 155.1h0M345.7 148.2h0M348.4 153.6h0M353.9 152.3h0M344.4 143.1h0M351.0 152.6h0M362.1 133.1h0M338.1 135.8h0M346.9 153.1h0M361.6 136.5h0M342.9 148.6h0M347.8 152.6h0M344.1 149.1h0M349.5 154.5h0M346.1 149.8h0M354.5 150.6h0M351.4 153.8h0M338.7 141.3h0M349.9 155.6h0M357.4 137.4h0M358.6 146.3h0M346.8 153.4h0M351.8 154.8h0M349.0 153.5h0M357.8 149.0h0M342.8 146.8h0M341.4 150.0h0M345.3 149.9h0M346.8 151.3h0M351.7 153.7h0M353.8 137.9h0M336.5 137.1h0M347.6 145.5h0M354.7 148.1h0M350.8 152.1h0M349.4 154.4h0M349.8 155.5h0M345.6 133.1h0M348.6 150.6h0M345.0 150.6h0M348.6 153.6h0M351.3 153.3h0M359.0 129.2h0M354.9 138.2h0M341.5 134.1h0M352.7 145.9h0M349.8 155.2h0M346.9 145.3h0M353.6 149.5h0M346.7 150.9h0M341.0 143.8h0M350.5 154.8h0M348.4 152.3h0M362.2 142.4h0M351.7 152.9h0M351.8 148.7h0M352.1 151.4h0M350.9 151.2h0M348.9 150.7h0M352.4 150.0h0M349.3 154.4h0M357.2 135.5h0M342.9 149.2h0M331.4 147.1h0M346.0 149.1h0M346.1 148.1h0M352.4 145.7h0M330.3 130.5h0M356.2 149.8h0M349.1 154.6h0M361.3 141.7h0M343.8 146.6h0M354.0 152.8h0M358.5 144.8h0M349.7 154.8h0M368.7 145.9h0M333.8 148.5h0M354.8 151.2h0M348.3 154.4h0M348.8 152.9h0M349.3 152.8h0M348.5 153.4h0M349.0 154.0h0M348.6 154.1h0M350.8 154.3h0M348.8 151.8h0M355.9 148.8h0M349.3 155.1h0M345.4 147.0h0M347.8 145.7h0M354.0 149.8h0M345.4 152.6h0M349.2 154.5h0M344.4 152.8h0M347.4 152.5h0M354.5 145.9h0M356.4 150.5h0M348.0 150.6h0M351.6 146.7h0M345.4 148.5h0M342.9 147.8h0M348.6 153.2h0M349.4 152.9h0M351.1 153.0h0M347.6 152.0h0M349.2 154.8h0M350.6 155.1h0M350.6 154.6h0M344.1 144.9h0M345.0 144.9h0M351.1 152.6h0M356.5 144.7h0M340.5 144.5h0M350.1 155.3h0M348.8 149.1h0M354.9 152.9h0M352.8 153.6h0M341.1 147.4h0M342.8 130.6h0M349.2 155.2h0M351.9 151.3h0M347.9 152.1h0M345.3 149.6h0M349.1 154.7h0M352.3 147.5h0M344.8 145.3h0M353.0 150.0h0M352.5 140.9h0M345.0 151.6h0M342.2 140.3h0M339.0 143.8h0M349.4 154.1h0M342.8 147.8h0M344.0 151.7h0M344.8 151.4h0" stroke="#bebebe" stroke-width="2.55" stroke-linecap="round" fill="none"/><path d="M336.5 116.6h0M338.2 116.2h0M332.4 109.9h0M333.0 95.8h0M324.1 101.9h0M310.4 93.7h0M288.7 95.8h0M322.0 108.5h0M335.7 103.5h0M336.3 126.5h0M337.5 114.9h0M316.3 113.4h0M319.0 117.2h0M328.6 119.5h0M290.9 110.1h0M326.1 94.4h0M303.0 124.6h0M328.0 92.9h0M341.0 124.7h0M334.2 108.3h0M330.2 125.7h0M320.7 120.0h0M317.9 80.9h0M316.9 40.2h0M334.9 127.8h0M330.4 114.5h0M331.0 105.6h0M337.5 125.9h0M298.9 107.6h0M320.8 117.1h0M324.2 120.4h0M333.0 95.0h0M323.5 106.1h0M294.4 88.5h0M332.0 125.1h0M333.6 109.2h0M328.7 121.5h0M329.3 112.1h0M336.1 114.5h0M316.5 78.0h0M332.4 96.2h0M324.2 115.2h0M340.4 103.9h0M334.2 123.4h0M339.1 120.0h0M335.6 103.8h0M322.9 105.5h0M324.6 97.9h0M310.8 97.3h0M317.8 40.1h0M335.5 103.8h0M319.5 96.9h0M340.7 105.2h0M337.7 104.9h0M310.6 124.7h0M324.9 106.2h0M341.7 114.3h0M326.5 109.7h0M343.2 112.6h0M303.8 74.6h0M316.3 123.8h0M303.7 105.1h0M338.9 112.4h0M342.7 123.7h0M323.5 96.0h0M312.5 101.6h0M316.1 111.8h0M332.1 109.6h0M344.4 123.6h0M343.3 110.2h0M330.2 90.2h0M325.1 103.2h0M324.1 99.4h0M315.3 118.1h0M334.0 104.9h0M338.6 106.3h0M341.8 127.9h0M338.6 125.0h0M308.7 121.6h0M344.1 114.4h0M332.5 118.6h0M322.0 114.7h0M334.6 117.7h0M316.4 125.1h0M340.3 93.4h0M333.1 67.9h0M329.3 116.9h0M320.1 111.2h0M339.3 116.7h0M328.7 124.6h0M335.4 113.4h0M332.7 96.7h0M335.8 120.5h0M322.0 107.8h0M323.9 122.1h0M323.9 115.7h0M340.4 108.4h0M325.3 124.2h0M335.7 106.9h0M335.1 101.8h0M288.3 74.0h0M330.1 107.8h0M336.5 103.2h0M335.0 117.4h0M331.1 77.9h0M334.2 98.3h0M329.4 122.5h0M336.5 101.4h0M335.2 101.0h0M343.4 114.6h0M323.1 51.8h0M316.0 125.9h0M336.1 79.3h0M330.6 126.0h0M332.9 117.8h0M335.3 105.0h0M316.0 102.9h0M336.7 106.2h0M339.2 104.7h0M328.6 118.7h0M324.4 102.2h0M329.9 118.2h0M324.8 81.1h0M337.6 102.8h0M317.9 116.1h0M333.6 96.1h0M334.8 91.4h0M333.6 76.8h0M337.1 113.3h0M322.1 117.9h0M337.4 105.4h0M303.0 24.9h0M327.0 97.7h0M333.8 54.2h0M288.6 108.4h0M320.7 90.0h0M344.9 101.6h0M299.2 123.5h0M333.7 108.4h0M337.6 100.9h0M336.1 118.0h0M338.3 110.7h0M323.1 101.3h0M325.0 111.8h0M335.2 107.9h0M339.1 86.7h0M335.5 112.6h0M321.6 78.4h0M327.3 104.1h0M313.5 104.7h0M336.6 118.0h0M325.9 115.4h0M326.9 85.1h0M326.4 105.9h0M329.2 92.0h0M311.0 106.9h0M338.6 107.5h0M333.2 123.7h0M342.8 109.4h0M332.9 124.3h0M342.2 107.6h0M328.6 94.7h0M329.4 105.9h0M316.5 94.3h0M322.0 118.6h0M310.7 96.9h0M342.8 112.2h0M329.3 115.0h0M338.8 118.7h0M337.3 127.6h0M325.8 125.4h0M326.6 83.0h0M331.0 117.2h0M319.4 116.9h0M303.9 87.2h0M298.5 93.8h0M311.7 105.7h0M342.7 116.8h0M330.7 123.9h0M320.2 119.1h0M340.5 105.5h0M302.6 122.9h0M312.5 117.2h0M325.7 117.2h0M316.0 115.6h0M308.7 101.0h0M329.0 113.1h0M327.8 119.9h0M305.9 117.6h0M341.8 110.4h0M330.5 120.7h0M323.1 120.0h0M327.3 62.8h0M333.3 79.0h0M323.9 112.3h0M332.8 104.6h0M323.0 123.6h0M329.3 100.5h0M300.9 79.5h0M317.2 90.3h0M341.1 124.0h0M314.3 93.0h0M331.0 111.9h0M333.5 107.6h0M325.0 108.2h0M325.4 108.8h0M337.2 112.6h0M331.3 99.6h0M326.0 112.8h0M317.4 115.1h0M333.5 86.1h0M338.2 123.3h0M338.1 82.0h0M298.8 112.0h0M314.4 83.8h0M306.5 96.8h0M294.3 120.4h0M338.7 82.4h0M319.3 102.7h0M338.2 108.8h0M333.3 110.4h0M336.5 114.0h0M340.7 118.9h0M340.5 104.9h0M332.6 119.8h0M338.3 111.8h0M325.5 92.2h0M336.0 117.1h0M317.0 124.1h0M316.8 123.5h0M327.8 86.6h0M323.0 109.8h0M327.2 94.8h0M322.8 107.1h0M337.7 113.6h0M336.6 123.2h0M326.0 93.0h0M333.5 115.1h0M341.6 111.6h0M328.9 102.3h0M337.9 98.6h0M331.2 103.8h0M339.3 123.0h0M321.3 111.7h0M326.5 122.5h0M308.9 105.0h0M305.8 110.3h0M307.0 102.6h0M325.3 103.6h0M311.7 119.6h0M327.5 89.7h0M332.9 115.4h0M333.9 108.1h0M314.1 121.8h0M336.1 106.6h0M327.5 112.6h0M337.7 115.8h0M330.4 112.9h0M330.1 119.1h0M307.0 111.5h0M318.0 107.5h0M303.9 105.8h0M306.9 86.1h0M305.3 78.0h0M329.4 103.2h0M325.1 125.4h0M338.1 94.5h0M331.5 90.2h0M341.4 125.0h0M309.2 99.4h0M329.3 96.4h0M337.1 101.2h0M331.7 116.5h0M339.6 127.1h0M335.6 90.1h0M320.2 123.4h0M331.8 106.6h0M321.3 100.9h0M333.8 96.9h0M338.8 93.5h0M327.0 121.5h0M315.3 126.0h0M330.0 122.0h0M320.6 98.7h0M318.4 97.0h0M320.0 105.2h0M341.8 117.6h0M324.4 125.4h0M340.3 126.6h0M317.4 97.6h0M329.7 119.0h0M330.8 124.9h0M317.5 101.5h0M338.9 124.7h0M319.8 117.3h0M331.2 103.7h0M306.6 81.0h0M324.7 116.4h0M334.3 117.8h0M340.6 104.7h0M341.1 119.5h0M310.2 99.3h0M326.9 115.8h0M331.4 105.9h0M342.7 111.0h0M323.9 123.1h0M307.7 121.8h0M339.9 90.4h0M332.3 88.8h0M343.4 122.1h0M335.0 85.7h0M316.7 121.1h0M338.1 85.6h0M341.3 111.8h0M338.8 116.5h0M333.4 117.3h0M331.6 98.8h0M326.8 99.3h0M338.4 112.4h0M324.1 95.1h0M322.7 112.8h0M299.2 91.7h0M330.2 84.7h0M333.7 100.0h0M323.9 119.3h0M329.1 103.9h0M336.2 107.5h0M344.3 118.2h0M316.8 101.7h0M317.9 113.0h0M311.1 93.0h0M338.5 77.9h0M334.7 99.3h0M342.6 111.8h0M326.7 123.1h0M323.1 118.5h0M344.5 124.9h0M308.6 119.0h0M323.6 110.2h0M326.2 109.6h0M334.7 121.6h0M332.6 95.4h0M323.8 111.1h0M333.6 77.6h0M341.0 112.9h0M332.5 113.7h0M330.6 113.6h0M324.6 97.0h0M312.5 90.6h0M341.3 120.6h0M338.5 118.1h0M342.7 103.2h0M337.5 93.1h0M341.7 124.6h0M299.4 98.0h0M318.4 107.7h0M330.3 58.6h0M314.8 100.1h0M335.2 111.6h0M338.5 119.4h0M304.5 108.7h0M309.1 104.9h0M332.5 87.8h0M329.7 114.2h0M328.2 105.8h0M324.4 108.9h0M334.6 83.9h0M341.9 128.1h0M339.2 115.2h0M310.1 106.2h0M332.4 83.4h0M302.4 95.8h0M340.6 124.7h0M339.9 123.3h0M336.6 114.9h0M320.2 106.0h0M312.0 107.6h0M337.5 92.5h0M313.4 98.5h0M313.0 109.0h0M309.1 53.6h0M338.8 114.8h0M334.6 96.7h0M340.1 107.4h0M330.5 99.8h0M320.7 119.2h0M328.7 109.5h0M324.4 99.7h0M335.6 101.8h0M341.3 119.6h0M330.2 123.3h0M327.0 90.5h0M315.5 122.1h0M325.7 122.9h0M337.2 125.8h0M314.4 80.6h0M337.3 106.9h0M306.4 80.3h0M335.5 123.2h0M332.8 113.0h0M341.1 97.7h0M326.8 84.5h0M309.1 111.2h0M340.0 98.9h0M337.9 109.0h0M329.7 111.0h0M323.6 97.9h0M323.2 105.9h0M319.8 100.7h0M336.1 119.7h0M307.9 96.5h0M340.4 114.6h0M326.6 100.5h0M332.1 81.8h0M337.8 88.5h0M325.1 103.0h0M288.1 121.3h0M301.1 77.7h0M330.9 88.6h0M328.3 110.7h0M336.4 120.1h0M339.9 110.2h0M325.8 109.4h0M333.4 106.6h0M336.3 117.2h0M341.5 120.0h0M338.4 122.5h0M336.8 106.4h0M328.3 83.0h0M330.5 92.1h0M328.3 96.1h0M303.8 125.4h0M303.4 109.8h0M323.8 46.7h0M338.8 113.5h0M305.1 88.8h0M338.1 123.1h0M334.5 92.8h0M332.6 117.8h0M323.6 108.2h0M313.4 86.9h0M344.2 123.2h0M314.5 120.4h0M323.7 113.1h0M306.1 100.2h0M314.6 120.8h0M330.4 83.8h0M330.9 103.4h0M314.0 105.7h0M327.4 112.3h0M344.7 115.3h0M333.2 120.4h0M336.9 103.0h0M331.0 104.5h0M336.5 115.0h0M338.0 112.9h0M316.2 78.8h0M323.6 102.7h0M319.7 94.1h0M343.8 110.3h0M341.1 115.9h0M325.9 118.5h0M333.0 117.8h0M339.8 110.1h0M335.3 124.7h0M318.5 118.6h0M339.4 123.7h0M335.7 102.8h0M321.3 99.1h0M337.7 100.9h0M336.9 104.0h0M324.1 124.7h0M324.8 110.1h0M311.8 117.7h0M326.8 81.6h0M306.9 101.1h0M325.0 82.4h0M324.6 110.0h0M337.9 102.4h0M329.6 117.0h0M315.0 77.8h0M323.9 109.9h0M292.9 122.4h0M317.4 53.6h0M310.6 121.3h0M314.0 121.5h0M323.5 65.4h0M339.8 120.2h0M330.4 110.0h0M334.3 98.3h0M338.5 105.1h0M341.3 95.2h0M335.6 107.2h0M336.4 109.0h0M309.1 114.2h0M324.6 114.2h0M323.4 84.8h0M332.3 106.0h0M328.0 104.6h0M343.8 127.7h0M326.4 90.5h0M330.7 113.2h0M334.3 123.2h0M306.5 55.1h0M344.6 126.0h0M318.7 115.9h0M331.9 81.2h0M334.6 116.2h0M323.7 111.8h0M314.0 88.3h0M340.2 122.0h0M331.1 98.1h0M297.8 79.6h0M339.7 92.9h0M331.9 116.7h0M292.0 119.9h0M337.1 124.7h0M332.3 80.1h0M337.2 114.7h0M341.6 116.6h0M335.6 104.1h0M328.0 121.2h0M292.5 116.7h0M329.8 112.0h0M338.0 124.7h0M318.9 100.2h0M329.7 115.7h0M338.7 121.4h0M314.8 103.0h0M321.4 124.7h0M295.1 111.6h0M309.7 123.6h0M325.7 114.4h0M337.2 103.0h0M329.9 112.8h0M343.7 118.9h0M341.5 109.0h0M320.2 121.2h0M343.4 119.7h0M330.5 118.4h0M332.8 108.6h0M334.8 126.2h0M328.5 81.2h0M338.5 110.7h0M336.2 111.4h0M336.9 126.3h0M314.8 119.1h0M336.9 97.4h0M313.4 115.9h0M340.5 124.1h0M336.0 89.6h0M328.4 93.4h0M311.3 103.2h0M325.1 124.8h0M324.9 113.9h0M330.6 108.3h0M319.6 94.8h0M304.7 102.1h0M329.5 101.1h0M322.4 82.0h0M320.8 121.8h0M324.4 94.4h0M325.6 114.5h0M329.6 123.5h0M324.7 79.3h0M325.6 122.3h0M332.8 112.7h0M321.1 89.0h0M320.4 102.2h0M306.0 71.5h0M325.2 110.7h0M319.2 123.1h0M325.3 78.5h0M323.1 117.9h0M294.7 102.3h0M333.4 105.2h0M327.7 97.3h0M337.2 72.2h0M337.0 112.5h0M325.8 114.1h0M337.6 105.7h0M333.9 107.6h0M323.9 100.3h0M341.4 109.0h0M330.3 121.4h0M337.0 93.5h0M327.5 117.7h0M329.0 125.7h0M294.6 112.5h0M335.6 75.7h0M335.2 109.1h0M326.6 106.5h0M335.0 98.2h0M342.8 118.0h0M306.9 100.4h0M332.8 121.6h0M321.4 118.2h0M327.7 123.2h0M326.9 95.9h0M333.1 121.0h0M332.3 113.5h0M336.3 89.0h0M342.4 124.2h0M332.4 122.9h0M336.4 121.5h0M319.3 110.8h0M317.5 112.1h0M319.9 103.0h0M331.3 87.1h0M331.9 94.2h0M312.3 101.3h0M337.4 121.1h0M313.1 74.4h0M340.7 109.0h0M316.8 57.0h0M326.4 110.3h0M309.7 87.8h0M321.8 100.2h0M320.5 107.5h0M337.3 112.5h0M329.5 92.3h0M306.7 108.0h0M307.2 83.1h0M338.2 89.8h0M315.8 106.4h0M336.1 123.5h0M335.0 94.2h0M333.4 86.2h0M315.4 118.0h0M325.0 123.2h0M331.8 112.9h0M330.9 109.9h0M336.0 113.9h0M334.2 126.5h0M325.7 118.4h0M335.3 106.3h0M336.1 111.7h0M310.4 114.5h0M327.3 111.8h0M318.2 107.7h0M324.4 126.4h0M337.6 106.3h0M300.1 69.6h0M339.4 110.3h0M307.2 108.2h0M328.4 109.6h0M329.3 114.8h0M310.9 87.6h0M321.3 99.9h0M326.7 120.3h0M330.7 114.3h0M334.4 106.5h0M333.5 105.8h0M337.1 104.3h0M336.0 126.8h0M338.0 116.2h0M329.7 100.4h0M301.4 124.8h0M336.7 105.3h0M337.9 114.8h0M304.5 62.2h0M330.7 99.4h0M339.7 103.2h0M309.5 66.2h0M317.1 112.8h0M322.1 108.6h0M341.5 106.2h0M335.5 117.5h0M327.6 79.8h0M336.7 100.7h0M312.4 90.9h0M340.1 119.4h0M331.4 107.7h0M334.0 106.1h0M327.7 103.7h0M321.9 72.7h0M303.2 123.6h0M333.9 120.3h0M335.3 105.3h0M320.7 112.5h0M329.4 85.5h0M310.1 109.5h0M342.2 127.9h0M336.8 105.2h0M335.6 112.3h0M327.6 104.6h0M322.1 107.1h0M326.6 107.9h0M325.4 110.2h0M331.8 119.9h0M304.8 125.9h0M328.7 89.9h0M331.1 123.0h0M323.8 117.2h0M320.1 101.8h0M337.3 112.8h0M330.2 102.8h0M311.8 90.3h0M327.6 117.0h0M328.3 107.7h0M342.0 103.7h0M311.7 111.3h0M344.0 112.4h0M338.0 122.8h0M336.9 108.4h0M317.8 95.8h0M316.3 121.6h0M334.7 74.9h0M340.5 92.2h0M324.9 95.1h0M337.4 123.0h0M332.4 66.7h0M318.8 112.1h0M325.5 114.4h0M330.2 124.0h0M312.8 78.5h0M311.9 97.1h0M333.2 111.1h0M322.0 93.6h0M289.9 95.0h0M335.5 117.8h0M326.5 96.9h0M340.7 116.0h0M338.7 109.1h0M318.4 106.8h0M333.9 118.6h0M331.2 126.0h0M319.1 87.6h0M341.3 121.5h0M319.6 108.0h0M298.4 105.4h0M323.1 126.9h0M335.0 113.7h0M317.6 94.8h0M333.7 110.9h0M332.7 112.1h0M340.2 85.1h0M335.0 107.7h0M319.2 115.2h0M326.3 78.8h0M286.9 85.6h0M319.2 100.3h0M330.8 98.1h0M328.5 124.4h0M335.6 83.6h0M322.8 113.6h0M339.9 100.5h0M339.1 91.5h0M333.9 61.5h0M326.6 90.9h0M319.4 113.0h0M337.3 120.4h0M339.2 113.2h0M329.6 126.6h0M328.8 118.4h0M342.3 111.0h0M328.0 112.0h0M337.4 100.4h0M322.2 120.4h0M330.8 107.2h0M329.5 102.8h0M313.2 114.7h0M336.8 111.8h0M342.7 121.0h0M323.1 112.0h0M307.7 123.6h0M325.1 121.9h0M336.7 121.7h0M340.7 120.8h0M316.3 124.1h0M326.8 80.6h0M332.3 98.9h0M342.9 123.3h0M310.8 116.4h0M340.8 111.7h0M332.3 123.9h0M301.2 74.0h0M318.9 112.7h0M324.0 98.5h0M339.7 110.4h0M328.2 118.0h0M329.6 94.4h0M327.9 122.7h0" stroke="#0000ff" stroke-width="2.55" stroke-linecap="round" fill="none"/><path d="M383.7 113.7h0M359.9 96.4h0M379.4 108.4h0M363.3 121.6h0M358.3 107.8h0M361.0 123.0h0M366.3 91.7h0M365.6 116.1h0M367.4 115.4h0M401.4 113.0h0M371.3 99.9h0M356.1 115.7h0M372.0 102.0h0M365.1 112.6h0M372.1 108.2h0M356.4 107.9h0M359.9 117.2h0M375.0 120.4h0M359.6 116.2h0M362.7 105.2h0M367.8 119.2h0M383.8 127.8h0M362.5 116.7h0M363.6 98.8h0M362.6 113.3h0M359.0 117.6h0M354.8 123.7h0M363.0 116.0h0M360.4 90.7h0M358.2 121.0h0M359.7 123.1h0M360.7 121.3h0M371.6 121.5h0M358.7 107.5h0M363.8 86.6h0M355.5 116.4h0M360.2 127.1h0M364.5 119.3h0M371.0 114.8h0M382.9 89.9h0M364.6 127.0h0M364.8 75.5h0M384.2 103.3h0M368.5 117.9h0M356.1 127.1h0M366.9 114.7h0M373.3 115.3h0M359.0 106.8h0M362.5 110.4h0M363.5 84.9h0M361.1 118.9h0M364.9 108.5h0M401.3 113.6h0M356.9 123.1h0M362.3 117.9h0M365.0 122.3h0M367.1 115.1h0M365.4 101.1h0M368.3 123.1h0M378.5 120.3h0M367.5 103.4h0M361.9 118.7h0M369.0 107.1h0M361.0 112.8h0M363.0 113.6h0M358.1 126.4h0M398.0 69.4h0M363.3 121.7h0M365.1 104.2h0M360.3 111.7h0M375.2 117.3h0M364.6 125.7h0M368.9 92.6h0M360.8 111.2h0M357.2 106.3h0M357.7 121.1h0M360.3 119.3h0M359.8 116.6h0M363.9 117.0h0M358.4 112.6h0M370.1 123.6h0M372.4 113.4h0M363.9 121.9h0M386.3 113.4h0M360.1 117.2h0M357.7 106.5h0M355.9 117.3h0M368.2 115.6h0M359.0 124.3h0M361.9 121.8h0M371.8 102.1h0M376.3 107.4h0M371.3 122.4h0M356.6 121.4h0M364.9 114.4h0M361.0 124.5h0M379.4 126.1h0M355.0 127.4h0M371.3 127.4h0M363.8 105.0h0M357.0 120.4h0M379.5 126.7h0M359.9 123.0h0M363.2 115.2h0M359.6 115.0h0M372.1 97.3h0M367.0 112.2h0M376.0 126.0h0M360.2 119.3h0M410.0 90.4h0M366.1 101.7h0M367.7 118.9h0M356.4 114.1h0M382.5 119.0h0M362.0 96.8h0M406.6 120.7h0M358.0 124.6h0M366.8 91.1h0M358.9 95.6h0M359.1 122.0h0M362.5 118.5h0M365.8 102.5h0M375.0 113.0h0M369.5 90.8h0M364.3 99.4h0M368.1 104.0h0M358.9 119.8h0M369.4 101.8h0M355.4 121.9h0M371.4 105.3h0M360.3 114.6h0M362.1 119.8h0M375.4 117.3h0M364.8 107.8h0M360.0 89.0h0M359.3 101.9h0M357.1 124.6h0M356.9 117.4h0M407.4 123.3h0M372.7 124.0h0M360.9 127.4h0M372.9 121.0h0M362.1 127.6h0M358.3 99.4h0M370.7 111.8h0M368.4 87.9h0M368.9 110.1h0M358.9 116.9h0M354.8 116.5h0M383.1 109.6h0M366.5 120.4h0M373.5 116.3h0M357.7 110.3h0M355.3 125.9h0M366.9 126.8h0M357.5 110.8h0M370.2 121.6h0M368.1 124.2h0M359.1 128.0h0M367.4 109.9h0M356.0 120.0h0M364.9 117.7h0M359.8 104.6h0M355.5 121.8h0M360.1 98.7h0M365.5 127.2h0M360.3 121.5h0M367.7 117.8h0M361.3 126.4h0M366.0 113.0h0M370.0 105.7h0M360.3 117.3h0M358.2 122.4h0M367.1 126.9h0M362.5 119.6h0M371.8 119.9h0M357.5 127.6h0M363.5 98.5h0M362.4 118.5h0M366.3 106.2h0M375.3 118.5h0M358.8 124.6h0M365.3 65.9h0M381.0 109.8h0M366.8 113.7h0M371.4 115.6h0M372.9 105.7h0M367.0 126.0h0M357.5 127.9h0M365.0 117.0h0M355.3 122.7h0M361.2 127.3h0M365.6 103.4h0M361.3 115.9h0M367.4 117.8h0M358.1 126.0h0M356.4 116.0h0M363.1 93.5h0M362.0 89.0h0M357.3 113.3h0M363.1 110.8h0M360.4 109.4h0M358.4 120.1h0M364.1 122.6h0M359.1 119.9h0M362.6 120.3h0M370.3 116.2h0M395.6 120.3h0M355.3 117.3h0M364.8 126.1h0M357.1 123.8h0M357.3 126.4h0M377.1 119.3h0M376.9 70.2h0M363.2 126.3h0M356.8 104.9h0M361.0 101.1h0M358.9 96.2h0M362.8 125.3h0M371.3 122.8h0M369.3 117.0h0M362.9 124.8h0M363.8 121.8h0M369.8 114.3h0M358.9 96.9h0M354.9 116.8h0M377.3 114.4h0M371.2 116.6h0M358.3 115.8h0M367.5 72.1h0M370.2 113.3h0M358.3 127.2h0M358.7 101.7h0M356.8 122.6h0M358.6 118.3h0M359.8 105.7h0M368.9 124.9h0M369.5 126.1h0M358.3 97.6h0M366.7 126.6h0M357.4 111.0h0M369.2 114.3h0M357.5 97.1h0M361.6 118.9h0M362.5 115.8h0M355.6 119.6h0M357.8 119.1h0M367.8 99.3h0M366.3 125.2h0M368.0 103.5h0M371.3 125.6h0M355.2 122.8h0M374.8 109.7h0M356.8 114.1h0M364.2 109.7h0M362.5 124.7h0M364.5 92.2h0M358.7 114.1h0M360.2 114.7h0M379.3 122.1h0M358.0 103.2h0M367.2 106.7h0M380.0 100.6h0M359.2 115.8h0M356.4 125.3h0M374.4 127.7h0M367.1 114.0h0M363.5 105.0h0M362.9 121.2h0M358.7 126.0h0M372.8 114.6h0M400.3 124.0h0M358.4 110.4h0M361.5 127.7h0M358.6 126.0h0M363.1 114.4h0M355.4 116.7h0M364.3 110.8h0M363.4 100.6h0M368.2 123.0h0M359.2 106.3h0M358.3 98.2h0M358.1 126.5h0M360.6 85.6h0M356.5 121.4h0M360.4 105.6h0M363.9 126.7h0M366.4 110.8h0M363.7 120.1h0M365.7 110.4h0M381.4 107.8h0M358.0 114.0h0M366.0 124.7h0M356.8 114.9h0M355.1 122.4h0M366.1 101.6h0M357.4 103.1h0M388.1 104.7h0M358.4 127.0h0M355.9 114.6h0M362.2 83.0h0M361.0 102.5h0M358.6 96.1h0M363.6 99.5h0M381.6 95.9h0M362.3 122.5h0M367.6 122.6h0M355.5 113.4h0M358.9 107.5h0M370.3 92.1h0M367.7 118.6h0M359.6 125.0h0M383.1 112.2h0M406.8 101.9h0M388.5 105.8h0M359.1 125.7h0M356.6 117.8h0M370.0 121.4h0M357.8 119.1h0M357.6 106.8h0M359.9 117.3h0M363.8 121.2h0M361.2 90.7h0M370.6 105.5h0M364.2 110.1h0M361.8 124.9h0M355.1 118.8h0M359.7 112.5h0M376.9 123.0h0M378.8 96.4h0M362.6 124.0h0M365.2 89.8h0M367.3 125.5h0M362.4 100.7h0M360.4 117.4h0M365.2 120.4h0M385.1 118.2h0M370.5 123.9h0M363.0 123.8h0M376.2 123.5h0M359.1 101.5h0M361.2 108.9h0M367.0 127.3h0M358.0 125.4h0M364.5 111.7h0M364.5 109.6h0M368.7 113.6h0M368.7 124.8h0M370.9 102.2h0M357.9 117.3h0M360.4 102.4h0M356.9 118.9h0M368.1 119.4h0M384.4 122.8h0M360.9 94.2h0M356.7 121.2h0M363.2 101.6h0M355.0 116.0h0M358.1 124.1h0M356.4 115.8h0M360.2 116.1h0M360.4 104.0h0M356.7 126.1h0M357.9 99.3h0M359.3 116.3h0M363.4 98.3h0M369.0 123.0h0M368.4 114.0h0M357.2 114.6h0M359.7 118.5h0M379.9 114.9h0M359.4 113.6h0M357.3 124.6h0M357.1 125.4h0M362.7 107.7h0M365.5 120.8h0M389.5 123.3h0M357.1 100.7h0M359.1 126.1h0M386.9 113.4h0M358.0 111.2h0M357.6 126.5h0M356.9 126.1h0M364.4 91.4h0M362.4 119.4h0M369.7 117.1h0M362.6 114.4h0M357.9 114.4h0M381.9 115.5h0M359.9 103.4h0M357.4 109.7h0M360.0 101.6h0M403.4 124.6h0M368.0 125.7h0M355.2 120.4h0M355.0 122.9h0M366.9 111.9h0M357.2 122.6h0M369.3 124.1h0M361.5 108.4h0M365.8 96.6h0M370.7 98.0h0M356.4 109.9h0M357.2 126.9h0M360.2 120.4h0M367.2 106.1h0M379.0 84.4h0M361.0 99.9h0M379.3 93.5h0M354.3 124.5h0M399.4 121.2h0M358.6 114.6h0M368.8 104.0h0M356.1 121.4h0M357.0 116.8h0M364.7 98.5h0M371.8 120.5h0M368.1 127.4h0M367.2 114.2h0M366.9 126.1h0M387.9 100.6h0M358.4 115.8h0M358.6 119.7h0M369.8 115.9h0M359.4 127.5h0M416.0 124.0h0M375.2 84.0h0M358.8 105.9h0M364.5 102.3h0M368.4 121.4h0M389.9 124.7h0M369.7 123.5h0M360.7 118.7h0M366.0 117.5h0M363.3 122.0h0M355.3 125.6h0M374.9 115.9h0M362.8 119.4h0M366.2 100.1h0M368.1 124.7h0M365.8 125.4h0M360.8 104.2h0M364.0 86.5h0M357.9 108.7h0M355.8 113.4h0M358.0 122.4h0M389.7 123.3h0M359.2 115.9h0M359.2 121.9h0M364.2 105.1h0M364.1 112.5h0M360.2 96.4h0M368.4 118.9h0M357.4 114.3h0M360.8 102.3h0M357.1 105.9h0M355.8 109.1h0M379.8 99.6h0M370.2 122.9h0M379.3 104.9h0M362.5 106.9h0M369.7 119.8h0M364.1 108.7h0M376.0 116.8h0M367.4 124.6h0M379.0 113.6h0M359.0 103.8h0M357.6 103.1h0M358.0 100.0h0M356.3 123.6h0M354.9 127.3h0M366.1 104.9h0M369.2 118.1h0M362.1 124.3h0M355.6 112.5h0M369.3 120.6h0M369.3 124.3h0M374.7 118.8h0M354.9 117.6h0M381.7 122.2h0M359.2 123.3h0M357.5 112.3h0M365.4 116.1h0M364.9 111.8h0M356.5 116.7h0M354.8 126.5h0M364.9 121.2h0M364.9 109.5h0M364.9 118.6h0M372.9 126.0h0M372.1 96.0h0M384.9 95.6h0M377.4 103.2h0M357.8 125.8h0M362.0 106.0h0M367.0 126.6h0M375.8 126.2h0M358.9 125.7h0M358.9 86.5h0M383.3 125.0h0M360.0 105.5h0M365.8 123.5h0M369.4 115.9h0M357.0 116.4h0M359.0 124.0h0M377.5 109.2h0M359.0 90.1h0M363.1 100.8h0M355.5 116.7h0M358.1 120.9h0M366.3 123.1h0M362.9 99.0h0M358.2 120.1h0M358.1 103.3h0M363.5 116.2h0M356.9 111.6h0M378.6 116.9h0M373.5 123.1h0M392.3 103.4h0M364.4 124.5h0M356.7 121.1h0M383.6 105.6h0M357.6 112.9h0M354.4 124.0h0M357.3 121.1h0M356.1 121.2h0M363.4 122.9h0M356.4 124.9h0M355.9 126.3h0M360.4 116.6h0M374.6 124.6h0M382.5 122.2h0M355.3 125.3h0M370.5 111.2h0M370.4 112.9h0M360.2 79.6h0M358.5 120.3h0M359.6 101.7h0M362.7 113.6h0M358.6 95.5h0M357.5 122.8h0" stroke="#ff0000" stroke-width="2.55" stroke-linecap="round" fill="none"/><rect x="250.4" y="17.5" width="199.2" height="144.1" fill="none" stroke="#7a7a7a" stroke-width="1"/><rect x="250.4" y="1.5" width="199.2" height="16" fill="#d9d9d9" stroke="#555" stroke-width="0.9"/><line x1="250.4" y1="17.5" x2="449.6" y2="17.5" stroke="#444" stroke-width="1.3"/><text x="350" y="12.2" font-size="8.1" text-anchor="middle" fill="#1a1a1a">Volcano Plot</text><path d="M256.3 161.6v2.6M303.1 161.6v2.6M349.9 161.6v2.6M396.7 161.6v2.6M443.5 161.6v2.6M250.4 155.6h-2.6M250.4 113.3h-2.6M250.4 71h-2.6M250.4 28.7h-2.6" stroke="#333" stroke-width="0.9" fill="none"/><text x="256.3" y="173.2" font-size="8.2" text-anchor="middle" fill="#555">-5.0</text><text x="303.1" y="173.2" font-size="8.2" text-anchor="middle" fill="#555">-2.5</text><text x="349.9" y="173.2" font-size="8.2" text-anchor="middle" fill="#555">0.0</text><text x="396.7" y="173.2" font-size="8.2" text-anchor="middle" fill="#555">2.5</text><text x="443.5" y="173.2" font-size="8.2" text-anchor="middle" fill="#555">5.0</text><text x="245.8" y="158.5" font-size="8.2" text-anchor="end" fill="#555">0</text><text x="245.8" y="116.2" font-size="8.2" text-anchor="end" fill="#555">2</text><text x="245.8" y="73.9" font-size="8.2" text-anchor="end" fill="#555">4</text><text x="245.8" y="31.6" font-size="8.2" text-anchor="end" fill="#555">6</text><text x="359.7" y="182.9" font-size="10.8" font-weight="bold" text-anchor="middle">log2 (NB/NA)</text><text transform="translate(238,92.1) rotate(-90)" font-size="10.8" font-weight="bold" text-anchor="middle">-log10 (p-value)</text><rect x="482.5" y="17.3" width="199" height="143.9" fill="#fff"/><path d="M503.63 17.3V161.2M555.75 17.3V161.2M607.85 17.3V161.2M659.96 17.3V161.2M482.5 133.1H681.5M482.5 88.1H681.5M482.5 43.1H681.5" stroke="#f2f2f2" stroke-width="0.6" fill="none"/><path d="M529.69 17.3V161.2M581.8 17.3V161.2M633.91 17.3V161.2M482.5 155.6H681.5M482.5 110.6H681.5M482.5 65.6H681.5M482.5 20.6H681.5" stroke="#ebebeb" stroke-width="1" fill="none"/><path d="M588.8 144.3h0M574.4 145.1h0M579.2 139.3h0M585.3 148.3h0M579.8 152.4h0M576.3 150.6h0M586.2 138.1h0M580.9 155.1h0M582.4 154.2h0M583.1 151.7h0M588.0 145.1h0M582.7 152.2h0M585.6 137.7h0M577.7 148.1h0M583.4 154.0h0M579.3 144.8h0M577.7 148.0h0M583.7 153.0h0M581.2 152.7h0M576.2 146.4h0M578.0 148.1h0M583.2 151.9h0M580.0 153.6h0M578.3 145.7h0M582.1 155.0h0M582.2 154.3h0M581.2 153.3h0M580.8 147.5h0M581.3 154.8h0M585.7 127.4h0M569.7 126.9h0M582.0 155.3h0M581.1 155.0h0M585.9 146.1h0M582.4 153.8h0M580.2 153.3h0M582.2 155.2h0M579.2 147.4h0M586.1 149.3h0M581.5 154.2h0M589.9 131.9h0M585.8 143.8h0M579.7 153.0h0M583.0 147.7h0M577.9 141.0h0M582.0 155.5h0M575.6 146.0h0M575.2 141.4h0M576.6 139.1h0M581.5 154.4h0M587.4 149.6h0M579.2 151.1h0M581.4 154.9h0M581.3 155.1h0M584.0 147.6h0M578.8 147.1h0M582.5 154.6h0M578.8 145.7h0M581.9 155.5h0M577.3 147.2h0M579.3 149.8h0M598.2 142.9h0M577.0 146.8h0M595.4 138.6h0M582.1 155.0h0M576.8 144.6h0M575.5 142.9h0M576.9 133.5h0M581.4 154.8h0M582.9 152.7h0M575.3 148.9h0M582.5 154.7h0M587.8 146.3h0M582.9 154.4h0M579.4 152.1h0M580.8 154.2h0M583.9 143.2h0M581.8 155.6h0M584.9 150.0h0M583.3 150.2h0M596.7 128.6h0M586.2 148.7h0M579.1 152.8h0M573.4 143.1h0M578.6 148.7h0M587.4 151.1h0M580.1 144.2h0M576.5 146.3h0M579.5 153.1h0M582.2 155.1h0M583.8 149.0h0M575.8 143.5h0M577.3 152.0h0M573.1 126.7h0M580.9 151.7h0M580.7 150.4h0M586.2 138.4h0M580.0 148.9h0M598.6 139.2h0M581.5 155.1h0M582.0 155.3h0M581.4 154.8h0M579.7 147.9h0M581.0 154.1h0M580.8 150.0h0M580.2 151.1h0M581.4 152.6h0M578.2 149.9h0M580.8 153.5h0M583.1 154.5h0M589.4 131.8h0M586.1 143.3h0M580.8 153.8h0M583.9 148.1h0M582.3 155.4h0M578.4 149.7h0M582.7 153.2h0M579.2 146.7h0M580.1 151.4h0M589.6 144.7h0M581.1 153.7h0M587.9 146.2h0M576.1 143.1h0M587.7 149.1h0M582.5 154.3h0M582.7 154.3h0M582.0 155.3h0M580.2 151.9h0M573.5 144.8h0M580.7 152.4h0M574.5 145.1h0M582.5 155.1h0M582.4 154.7h0M582.5 154.5h0M582.1 154.6h0M581.4 155.2h0M583.1 148.8h0M582.3 154.6h0M576.6 136.4h0M582.1 155.3h0M597.6 145.5h0M581.0 154.5h0M584.8 149.5h0M595.6 145.1h0M579.3 152.6h0M590.5 140.8h0M586.9 140.7h0M582.6 153.7h0M581.7 155.3h0M585.5 152.6h0M581.0 151.2h0M582.5 154.2h0M583.2 150.5h0M574.2 145.0h0M586.9 138.7h0M595.3 134.0h0M579.2 149.2h0M568.8 130.2h0M578.1 149.5h0M576.8 149.7h0M587.4 147.3h0M569.6 139.8h0M582.0 155.3h0M576.5 143.5h0M579.9 153.1h0M569.9 136.8h0M582.3 155.0h0M580.7 154.1h0M578.5 146.9h0M577.3 149.7h0M583.1 153.2h0M581.6 155.3h0M579.8 151.2h0M585.1 147.1h0M587.0 142.6h0M594.5 133.4h0M574.2 145.1h0M595.2 137.6h0M585.5 137.1h0M578.9 144.0h0M590.8 139.2h0M591.1 131.4h0M581.0 154.5h0M581.0 149.3h0M575.7 136.3h0M577.9 147.3h0M580.4 144.0h0M587.5 149.5h0M588.0 145.5h0M584.7 153.8h0M589.1 137.1h0M579.7 152.5h0M587.9 137.0h0M582.5 152.5h0M573.5 143.3h0M580.9 153.6h0M581.7 155.2h0M576.9 149.1h0M586.7 145.0h0M582.8 150.7h0M556.0 133.5h0M589.3 146.4h0M578.7 136.1h0M574.4 142.9h0M592.0 140.8h0M576.4 145.9h0M584.1 151.6h0M583.5 151.8h0M579.9 152.9h0M586.9 149.6h0M580.4 152.0h0M574.8 145.3h0M577.5 129.3h0M579.7 150.5h0M604.7 137.9h0M582.9 150.9h0M587.5 137.4h0M585.0 145.2h0M581.4 155.1h0M581.8 155.6h0M580.9 153.8h0M586.3 128.9h0M588.0 132.2h0M579.5 149.0h0M575.6 147.9h0M576.6 153.1h0M576.0 150.3h0M586.4 148.9h0M575.1 137.1h0M586.2 143.0h0M584.2 143.4h0M581.2 153.7h0M577.0 147.7h0M564.9 137.9h0M587.1 135.3h0M588.9 128.6h0M588.5 151.6h0M582.7 154.8h0M580.6 154.3h0M583.7 146.9h0M582.0 155.3h0M576.9 141.2h0M569.8 135.0h0M577.7 148.2h0M569.8 143.2h0M586.3 151.2h0M575.2 141.5h0M585.9 151.7h0M578.6 147.5h0M576.3 132.4h0M579.6 151.1h0M590.6 133.8h0M601.5 135.6h0M585.0 150.8h0M591.0 145.9h0M575.7 141.7h0M579.2 149.9h0M565.3 144.2h0M591.9 142.8h0M581.1 153.1h0M582.9 151.7h0M592.1 143.5h0M577.0 150.6h0M584.1 147.6h0M585.9 147.0h0M579.6 151.1h0M571.4 144.7h0M578.1 146.0h0M574.9 127.4h0M575.8 146.8h0M584.1 150.5h0M579.0 152.2h0M579.1 132.9h0M578.7 136.2h0M579.9 151.8h0M574.9 149.3h0M581.0 153.6h0M587.7 137.6h0M578.5 144.4h0M580.3 153.2h0M574.4 126.8h0M585.1 152.5h0M583.7 151.0h0M576.3 134.2h0M578.1 151.9h0M584.5 148.0h0M580.9 154.7h0M579.2 152.4h0M578.1 139.0h0M584.3 147.1h0M585.1 153.4h0M575.4 143.4h0M578.9 150.5h0M575.8 144.6h0M582.1 155.0h0M578.8 154.3h0M587.6 136.8h0M578.5 150.5h0M586.1 133.3h0M584.5 149.4h0M572.6 139.7h0M569.1 143.5h0M570.3 136.1h0M572.6 134.7h0M582.2 154.3h0M583.1 151.3h0M584.0 144.8h0M573.6 137.4h0M580.2 148.0h0M585.1 151.0h0M580.8 153.9h0M598.2 136.7h0M579.3 147.7h0M582.3 154.8h0M576.7 142.5h0M581.8 155.6h0M592.4 150.0h0M591.4 141.6h0M576.2 140.1h0M565.7 138.7h0M594.7 128.3h0M589.4 140.5h0M565.4 127.3h0M574.2 145.0h0M583.4 145.9h0M579.6 150.0h0M579.4 148.1h0M587.3 132.7h0M580.9 152.4h0M583.7 148.4h0M579.9 147.6h0M590.5 144.7h0M595.3 134.2h0M584.3 145.8h0M592.6 144.9h0M579.5 132.6h0M582.4 155.1h0M581.5 154.9h0M580.5 152.7h0M594.0 131.4h0M585.6 147.1h0M586.1 146.5h0M577.2 142.3h0M593.2 145.9h0M581.1 154.8h0M585.2 149.1h0M585.1 150.1h0M581.6 155.1h0M580.4 149.6h0M579.4 148.0h0M570.9 132.3h0M588.8 148.0h0M579.7 150.6h0M572.3 138.0h0M581.6 155.1h0M563.2 127.4h0M583.5 150.3h0M581.6 155.3h0M583.7 153.2h0M581.1 154.0h0M584.3 148.5h0M580.4 154.5h0M582.3 153.3h0M588.8 140.2h0M584.7 150.1h0M578.4 130.2h0M581.6 155.0h0M577.4 150.8h0M584.8 139.4h0M590.0 136.2h0M579.6 151.0h0M587.3 132.9h0M583.2 152.6h0M580.7 153.1h0M581.7 155.4h0M586.9 143.9h0M580.2 153.8h0M575.8 147.1h0M579.4 152.1h0M587.2 143.9h0M581.8 155.5h0M587.0 132.9h0M577.3 151.9h0M585.7 151.0h0M589.5 142.1h0M591.5 130.2h0M568.5 135.1h0M582.1 155.0h0M580.8 153.9h0M575.9 133.6h0M583.6 143.2h0M601.8 138.8h0M581.0 153.8h0M580.7 153.6h0M581.5 155.1h0M583.8 152.6h0M585.1 149.0h0M573.8 135.2h0M582.6 153.5h0M578.9 150.1h0M583.2 152.8h0M579.3 148.6h0M580.1 150.0h0M569.6 141.6h0M579.5 144.4h0M579.8 153.4h0M576.9 143.4h0M579.5 152.8h0M583.7 151.8h0M581.8 155.6h0M578.4 146.4h0M578.2 153.3h0M589.0 149.4h0M577.5 147.7h0M576.7 142.4h0M581.5 154.4h0M582.1 155.0h0M583.2 150.8h0M589.2 143.6h0M581.6 155.3h0M580.9 153.4h0M584.2 150.5h0M559.7 141.0h0M589.8 131.1h0M589.6 143.7h0M575.2 146.5h0M587.7 148.9h0M581.4 154.7h0M567.0 133.5h0M580.2 152.6h0M584.1 150.8h0M577.7 146.7h0M590.8 146.8h0M580.0 146.0h0M576.7 151.0h0M585.6 139.7h0M591.4 130.2h0M582.3 153.7h0M581.7 155.6h0M571.0 137.4h0M585.3 143.5h0M589.0 137.2h0M582.1 154.3h0M584.5 143.8h0M585.1 150.1h0M590.8 130.6h0M585.6 146.1h0M581.1 154.8h0M587.1 148.0h0M578.5 152.9h0M589.1 142.4h0M582.4 154.5h0M607.8 131.2h0M582.3 154.5h0M580.1 141.4h0M579.3 151.6h0M562.6 131.1h0M592.3 142.9h0M587.2 144.6h0M579.7 148.6h0M587.9 134.2h0M581.8 155.6h0M584.5 152.6h0M584.2 149.9h0M581.7 155.2h0M582.8 154.0h0M583.1 153.1h0M559.2 136.9h0M578.6 130.8h0M595.6 145.8h0M582.7 153.5h0M593.2 131.6h0M572.7 139.2h0M577.0 149.9h0M588.9 142.5h0M584.9 140.3h0M590.4 131.8h0M581.5 154.5h0M577.8 149.5h0M573.4 129.1h0M587.5 142.6h0M584.5 137.9h0M577.9 142.1h0M576.8 147.8h0M584.6 153.2h0M580.8 151.6h0M578.6 148.8h0M583.4 154.0h0M584.0 143.1h0M577.1 141.7h0M577.5 148.9h0M582.2 152.6h0M589.9 140.5h0M573.9 146.5h0M575.3 143.3h0M582.4 154.7h0M580.3 153.8h0M586.2 153.5h0M588.4 147.2h0M587.5 141.9h0M578.6 138.3h0M578.5 142.3h0M576.2 139.2h0M571.6 135.3h0M571.7 129.7h0M581.3 152.3h0M580.8 153.3h0M568.8 136.1h0M580.9 152.4h0M582.2 154.6h0M585.8 148.7h0M578.3 152.4h0M583.5 151.9h0M580.7 153.3h0M582.0 155.4h0M580.8 152.8h0M584.7 129.4h0M589.6 133.5h0M574.9 140.2h0M588.5 147.0h0M585.1 147.5h0M588.4 140.9h0M580.3 151.7h0M564.7 141.4h0M582.0 155.3h0M578.3 132.2h0M577.5 137.0h0M579.6 150.7h0M581.0 154.0h0M580.9 153.8h0M582.7 154.1h0M574.8 144.4h0M580.6 154.3h0M583.8 152.3h0M585.0 152.9h0M586.8 150.0h0M581.5 153.5h0M579.3 154.0h0M566.8 146.2h0M581.9 155.5h0M589.1 145.7h0M579.0 151.1h0M579.9 139.8h0M580.8 153.0h0M581.8 155.5h0M580.6 153.2h0M595.4 148.1h0M597.4 143.0h0M583.5 150.1h0M583.1 153.2h0M578.0 143.4h0M587.4 147.3h0M590.0 127.6h0M585.3 151.3h0M576.7 148.9h0M577.2 139.4h0M577.6 149.0h0M594.6 131.9h0M573.1 145.9h0M584.2 152.2h0M578.6 148.4h0M581.3 155.2h0M581.8 155.6h0M593.4 140.5h0M582.4 153.7h0M582.9 154.2h0M575.3 138.7h0M581.2 155.2h0M573.6 143.8h0M578.4 147.6h0M589.8 147.9h0M590.0 148.2h0M593.2 144.4h0M582.0 155.3h0M583.0 153.5h0M576.6 132.2h0M578.5 150.7h0M586.6 140.0h0M584.4 151.5h0M584.1 150.9h0M575.5 150.4h0M588.2 137.3h0M576.4 148.7h0M590.4 142.7h0M598.0 126.6h0M587.6 152.8h0M591.0 136.4h0M578.5 146.4h0M579.9 153.9h0M583.3 153.6h0M571.2 138.8h0M576.3 143.3h0M581.6 155.2h0M587.5 140.0h0M585.5 134.7h0M575.5 130.6h0M577.3 149.1h0M580.9 154.6h0M573.2 136.2h0M582.1 155.3h0M583.4 153.7h0M582.0 155.3h0M577.8 153.8h0M580.6 154.5h0M580.1 148.9h0M585.2 148.5h0M577.0 130.3h0M582.4 153.9h0M580.2 152.1h0M578.4 154.1h0M584.0 150.8h0M579.2 145.4h0M582.4 154.9h0M582.3 153.8h0M579.0 151.6h0M581.1 154.9h0M576.9 149.9h0M575.6 147.2h0M583.2 152.6h0M585.6 151.6h0M588.1 144.9h0M583.1 152.8h0M580.8 153.4h0M576.5 146.2h0M573.7 145.0h0M581.7 155.4h0M583.8 149.9h0M573.7 133.8h0M574.8 147.6h0M585.4 146.4h0M580.1 152.8h0M587.9 135.9h0M586.6 152.7h0M580.2 153.8h0M586.8 138.3h0M587.0 143.7h0M586.5 138.2h0M581.4 154.6h0M577.5 132.0h0M578.2 149.9h0M576.4 142.2h0M581.3 154.4h0M582.9 153.9h0M566.4 133.4h0M583.7 150.2h0M582.8 153.2h0M577.7 145.5h0M584.4 151.4h0M586.3 142.4h0M574.2 149.1h0M590.4 140.1h0M580.9 153.4h0M576.6 129.0h0M578.8 146.8h0M582.4 154.7h0M580.6 154.4h0M578.1 148.2h0M565.2 131.1h0M581.1 154.9h0M578.4 147.0h0M573.2 133.5h0M574.8 136.3h0M586.5 145.7h0M588.5 144.7h0M585.7 150.5h0M593.9 147.4h0M592.5 144.8h0M578.5 143.1h0M587.1 142.8h0M582.8 152.0h0M571.7 140.9h0M579.4 148.9h0M571.5 134.2h0M587.2 147.7h0M581.2 154.6h0M596.4 134.6h0M579.6 145.4h0M584.1 153.6h0M595.2 141.1h0M586.6 141.4h0M582.8 154.0h0M575.5 132.9h0M580.4 154.2h0M578.4 132.7h0M583.8 152.8h0M583.4 152.1h0M579.7 148.5h0M584.5 150.3h0M573.5 146.3h0M580.6 152.1h0M584.5 152.0h0M581.8 155.5h0M582.9 153.5h0M578.1 146.0h0M563.8 143.2h0M584.9 148.7h0M588.2 143.1h0M580.7 153.6h0M578.2 152.4h0M575.3 141.0h0M580.9 154.8h0M580.1 151.9h0M575.6 128.4h0M583.8 151.5h0M588.5 142.5h0M575.1 139.9h0M582.2 155.0h0M580.9 152.1h0M587.0 145.5h0M580.6 153.1h0M582.6 153.2h0M575.6 141.5h0M584.4 151.4h0M583.7 152.2h0M580.2 142.4h0M583.4 152.4h0M576.2 138.3h0M580.0 154.2h0M579.2 148.1h0M572.9 144.9h0M580.9 154.2h0M577.9 144.1h0M585.2 151.0h0M568.5 142.8h0M584.3 150.0h0M583.8 148.1h0M581.3 154.3h0M584.3 152.4h0M579.3 149.6h0M577.6 147.0h0M588.9 149.5h0M586.0 151.3h0M579.4 150.7h0M585.5 150.6h0M558.9 140.6h0M589.5 141.8h0M574.4 143.4h0M582.9 151.6h0M574.1 142.1h0M578.6 151.2h0M590.1 145.2h0M563.8 131.1h0M574.0 139.1h0M589.6 138.0h0M577.0 148.9h0M579.6 149.1h0M583.5 150.5h0M579.9 145.6h0M587.3 138.1h0M578.4 149.8h0M586.2 151.1h0M578.5 150.4h0M583.3 153.5h0M579.9 151.2h0M578.5 144.0h0M576.2 145.5h0M579.9 148.4h0M582.4 154.8h0M583.3 153.1h0M577.8 140.8h0M589.9 135.6h0M581.5 154.5h0M580.6 146.5h0M589.4 148.6h0M585.6 150.4h0M585.4 146.7h0M581.7 155.1h0M581.1 154.1h0M579.7 150.3h0M580.2 144.7h0M579.2 149.0h0M601.6 142.6h0M585.0 150.7h0M584.9 151.4h0M584.2 152.7h0M586.5 146.1h0M574.2 149.4h0M584.7 131.7h0M576.8 137.8h0M577.3 148.2h0M583.9 152.6h0M577.6 149.9h0M580.5 152.3h0M576.8 131.6h0M578.5 148.9h0M585.0 146.9h0M574.5 148.0h0M584.7 151.6h0M581.3 155.0h0M588.5 137.0h0M592.0 130.4h0M585.1 148.1h0M581.5 154.5h0M582.1 154.0h0M582.8 154.6h0M551.4 133.1h0M579.9 151.7h0M584.8 148.3h0M577.0 146.9h0M593.3 132.9h0M580.9 155.0h0M575.0 133.6h0M586.4 142.7h0M586.6 134.3h0M581.3 154.9h0M582.9 152.0h0M583.5 148.1h0M581.0 154.4h0M583.6 154.5h0M582.1 155.4h0M582.2 154.5h0M577.9 151.5h0M579.3 138.9h0M581.9 155.3h0M577.3 95.9h0M584.2 143.3h0M583.4 152.6h0M585.0 148.9h0M591.0 143.0h0M579.3 150.4h0M591.8 142.9h0M581.2 154.2h0M587.6 136.8h0M586.7 147.1h0M584.0 140.1h0M583.5 152.0h0M582.3 153.8h0M578.4 150.3h0M575.7 143.9h0M584.7 153.4h0M583.1 152.8h0M585.6 148.4h0M572.8 137.7h0M585.2 147.7h0M585.3 141.7h0M583.6 153.8h0M582.5 153.7h0M570.0 141.3h0M588.4 129.6h0M578.6 151.2h0M580.0 152.2h0M589.6 145.5h0M587.8 130.9h0M583.1 153.2h0M585.9 144.2h0M575.5 143.9h0M585.6 151.3h0M574.2 132.6h0M578.9 147.4h0M579.0 140.9h0M579.8 148.8h0M585.1 153.3h0M582.4 153.5h0M576.7 150.6h0M578.0 135.7h0M578.8 119.2h0M578.1 141.5h0M583.6 153.8h0M587.3 145.8h0M578.5 151.2h0M580.5 152.0h0M570.9 143.8h0M584.4 149.1h0M573.1 138.5h0M584.0 153.2h0M585.5 140.7h0M579.7 154.0h0M585.6 145.9h0M579.8 152.0h0M583.5 153.0h0M588.3 132.5h0M582.5 154.4h0M584.4 152.5h0M579.3 144.4h0M586.0 143.7h0M582.0 155.1h0M587.4 144.7h0M576.8 135.1h0M584.9 141.7h0M560.6 131.6h0M581.5 154.8h0M582.0 155.1h0M576.5 149.4h0M581.4 155.2h0M587.9 145.3h0M581.6 155.2h0M574.6 150.1h0M577.8 140.4h0M575.0 146.4h0M589.6 138.6h0M584.7 149.9h0M582.2 155.4h0M588.3 145.9h0M580.6 151.7h0M563.6 139.9h0M581.3 153.8h0M582.7 149.6h0M582.5 154.8h0M582.6 154.4h0M580.7 153.4h0M593.9 139.1h0M577.8 128.7h0M586.1 151.4h0M571.0 134.9h0M580.2 149.3h0M579.6 149.3h0M571.0 143.0h0M578.7 149.2h0M572.8 140.2h0M599.6 135.3h0M579.5 151.0h0M581.7 155.3h0M580.7 152.5h0M579.9 154.7h0M580.0 145.2h0M580.9 153.0h0M576.7 148.0h0M582.2 154.0h0M585.7 152.1h0M586.7 147.8h0M584.2 148.6h0M580.8 154.3h0M589.2 139.5h0M585.5 147.1h0M591.8 137.9h0M583.8 152.4h0M578.9 146.3h0M577.0 130.9h0M593.7 141.5h0M569.9 148.2h0M585.7 146.8h0M582.2 153.3h0M580.3 145.8h0M581.6 155.2h0M582.7 153.6h0M582.3 153.0h0M582.9 154.6h0M575.9 151.4h0M584.4 152.9h0M578.2 139.9h0M583.6 150.7h0M578.1 147.4h0M581.7 155.3h0M581.6 155.4h0M582.0 155.1h0M565.8 141.8h0M592.3 127.1h0M583.0 150.5h0M578.1 142.1h0M577.5 138.2h0M572.4 145.7h0M577.1 151.0h0M590.8 136.4h0M583.5 149.5h0M580.2 149.2h0M580.7 152.8h0M579.1 148.6h0M581.2 153.5h0M581.0 153.3h0M582.1 155.3h0M583.6 150.5h0M581.3 153.6h0M580.6 152.6h0M586.5 148.0h0M583.2 150.1h0M576.6 147.2h0M570.8 132.7h0M581.9 155.5h0M582.0 155.4h0M576.7 144.3h0M579.5 153.0h0M585.3 145.6h0M577.6 145.1h0M575.2 147.3h0M582.9 149.8h0M571.3 138.8h0M575.8 143.8h0M578.1 145.7h0M590.5 148.3h0M581.6 155.3h0M578.0 134.1h0M573.3 136.5h0M578.4 151.6h0M585.6 149.1h0M578.9 147.1h0M587.4 134.7h0M579.4 150.7h0M571.1 145.0h0M595.8 145.6h0M592.1 130.0h0M560.4 141.9h0M580.2 152.8h0M586.0 148.5h0M583.0 154.3h0M585.1 149.8h0M595.0 146.8h0M585.4 138.3h0M586.6 146.8h0M582.4 153.7h0M584.7 140.5h0M578.7 147.6h0M584.3 153.3h0M581.9 155.4h0M596.7 140.5h0M565.6 136.7h0M588.6 141.1h0M578.7 148.7h0M591.0 144.9h0M580.9 154.2h0M581.7 155.4h0M585.6 147.1h0M585.4 153.0h0M575.5 131.7h0M590.6 151.2h0M580.5 152.3h0M575.0 146.7h0M582.1 154.8h0M580.5 154.2h0M589.6 142.4h0M576.7 145.4h0M587.8 141.3h0M583.9 145.9h0M570.8 126.8h0M588.4 139.8h0M569.8 141.5h0M575.4 150.4h0M578.6 142.9h0M578.7 151.8h0M578.9 143.7h0M584.5 145.9h0M581.4 155.1h0M583.8 151.4h0M580.8 150.8h0M580.5 154.4h0M588.8 139.4h0M580.3 153.4h0M586.3 148.1h0M583.7 146.6h0M589.1 138.0h0M592.3 140.4h0M577.8 150.8h0M580.7 154.4h0M575.8 134.8h0M579.4 150.1h0M584.7 148.0h0M576.8 147.7h0M591.9 137.5h0M582.8 151.8h0M585.6 118.2h0M586.9 140.8h0M597.5 141.0h0M579.1 149.2h0M576.2 151.5h0M573.9 146.8h0M591.1 141.8h0M580.4 152.7h0M590.7 130.9h0M591.9 135.0h0M582.6 154.7h0M583.4 153.5h0M576.1 134.7h0M579.0 150.6h0M572.7 144.9h0M579.2 149.0h0M578.7 149.7h0M586.3 148.7h0M580.4 152.5h0M581.2 152.5h0M583.8 150.5h0M590.2 138.1h0M583.0 154.5h0M583.8 151.6h0M584.2 152.5h0M577.3 144.6h0M585.9 120.4h0M579.7 149.1h0M574.7 145.9h0M581.3 154.8h0M583.3 148.9h0M570.6 135.7h0M581.4 154.6h0M583.1 153.8h0M583.1 153.5h0M573.6 144.8h0M584.5 147.5h0M578.2 146.9h0M578.7 143.6h0M586.0 148.2h0M577.0 149.9h0M574.2 142.3h0M586.0 149.1h0M588.7 151.0h0M582.3 153.0h0M582.0 155.0h0M581.5 154.0h0M582.5 154.5h0M594.8 138.2h0M590.0 150.5h0M584.7 151.1h0M585.1 151.1h0M570.4 149.5h0M592.0 142.2h0M584.4 151.9h0M580.9 153.5h0M582.1 155.0h0M577.1 151.4h0M585.1 149.2h0M584.3 149.6h0M577.7 143.6h0M573.4 132.7h0M578.9 152.8h0M584.1 153.1h0M582.3 153.6h0M587.0 153.1h0M581.3 155.1h0M579.4 151.5h0M578.7 140.6h0M589.6 142.7h0M583.7 143.4h0M588.4 140.0h0M578.4 147.4h0M580.2 152.9h0M576.3 139.6h0M579.7 153.8h0M582.3 154.0h0M582.0 155.4h0M580.4 148.7h0M582.2 155.0h0M585.8 149.0h0M582.2 155.2h0M577.1 149.6h0M590.5 139.8h0M584.0 136.0h0M583.5 150.4h0M586.9 146.9h0M594.4 145.4h0M581.8 155.6h0M567.4 135.7h0M577.6 144.3h0M577.9 147.0h0M579.0 149.0h0M579.1 154.4h0M591.7 143.4h0M580.7 153.3h0M581.0 153.6h0M581.4 154.9h0M578.5 144.2h0M589.4 130.1h0M577.5 151.7h0M580.8 153.0h0M580.8 154.8h0M574.8 149.1h0M578.7 146.9h0M581.8 155.6h0M581.0 154.5h0M578.8 150.6h0M579.8 145.2h0M584.5 145.9h0M585.1 146.8h0M577.5 151.1h0M582.2 154.7h0M578.3 146.7h0M583.8 149.9h0M582.4 154.6h0M580.4 152.2h0M578.8 148.5h0M581.7 155.1h0M586.6 150.5h0M577.7 149.9h0M581.3 154.8h0M582.8 154.2h0M583.7 140.8h0M576.0 137.5h0M581.9 155.5h0M584.6 151.5h0M576.6 148.2h0M587.8 149.7h0M581.2 154.5h0M582.1 155.3h0M595.1 133.8h0M562.7 133.0h0M585.6 149.4h0M581.1 153.5h0M582.9 154.6h0M582.1 155.1h0M583.5 152.7h0M586.7 135.3h0M582.1 155.2h0M559.6 130.4h0M581.6 155.2h0M583.6 152.7h0M580.9 148.6h0M577.6 148.9h0M575.5 137.6h0M584.3 150.8h0M588.3 147.8h0M590.5 126.5h0M592.2 145.7h0M584.4 148.8h0M578.9 132.0h0M577.1 149.0h0M581.2 153.8h0M584.1 152.1h0M577.2 144.0h0M587.1 137.7h0M579.9 145.1h0M580.5 150.9h0M574.9 141.1h0M588.3 127.4h0M586.1 145.8h0M582.6 150.0h0M587.3 136.5h0M587.0 146.8h0M580.9 153.8h0M581.4 154.9h0M588.3 141.1h0M571.0 129.3h0M579.1 153.7h0M578.8 146.3h0M579.9 154.5h0M582.8 153.2h0M574.5 142.8h0M581.0 151.2h0M581.1 153.5h0M586.4 147.7h0M582.2 154.6h0M580.7 153.2h0M583.8 152.6h0M581.2 154.3h0M582.1 154.4h0M580.4 152.4h0M574.8 145.2h0M586.9 146.5h0M582.1 155.2h0M573.8 143.6h0M578.4 149.0h0M581.9 155.4h0M596.7 132.1h0M580.2 153.8h0M574.2 131.4h0M579.5 153.3h0M580.1 153.7h0M577.3 149.0h0M584.7 142.5h0M578.2 148.8h0M580.1 149.0h0M580.7 154.3h0M584.3 150.8h0M581.6 155.3h0M581.6 155.4h0M580.8 154.0h0M581.2 154.3h0M576.4 146.1h0M586.1 148.6h0M586.1 144.1h0M584.0 152.7h0M588.9 144.4h0M581.5 154.9h0M582.9 151.4h0M587.2 141.0h0M579.9 148.5h0M581.1 151.0h0M590.4 131.0h0M581.3 154.3h0M574.0 136.5h0M591.9 140.6h0M587.3 139.1h0M581.9 155.2h0M582.2 155.0h0M582.6 154.4h0M583.1 151.0h0M580.3 153.5h0M579.3 151.4h0M586.3 151.0h0M580.2 152.1h0M580.0 154.3h0M584.1 152.0h0M581.9 155.3h0M583.6 152.8h0M579.8 149.5h0M573.1 150.0h0M580.1 154.8h0M574.5 136.2h0M575.0 145.0h0M576.4 145.1h0M576.6 143.6h0M584.6 142.5h0M582.6 154.9h0M581.9 155.4h0M585.8 153.2h0M587.4 147.3h0M572.1 134.6h0M584.5 144.8h0M585.2 152.7h0M582.9 151.9h0M584.9 138.5h0M590.1 147.1h0M586.0 148.0h0M585.8 138.2h0M614.7 130.0h0M580.9 148.9h0M595.3 130.6h0M587.9 150.9h0M585.5 149.1h0M604.9 140.4h0M579.2 151.6h0M579.3 149.6h0M580.1 151.2h0M581.5 155.4h0M580.4 153.4h0M581.9 155.3h0M582.0 155.3h0M581.7 155.2h0M581.9 155.4h0M583.2 151.4h0M581.3 152.4h0M581.0 153.9h0M580.9 153.8h0M583.4 149.6h0M574.4 148.0h0M587.5 150.1h0M582.0 155.1h0M581.6 155.1h0M587.2 144.5h0M590.7 146.9h0M574.8 143.2h0M580.3 147.9h0M578.5 149.8h0M584.3 147.8h0M580.2 153.5h0M579.4 144.8h0M587.5 141.5h0M582.0 155.0h0M584.0 149.5h0M580.4 144.6h0M582.2 154.5h0M573.7 151.4h0M583.8 147.4h0M584.9 138.6h0M588.6 145.7h0M576.5 148.3h0M581.1 154.9h0M585.0 141.2h0M587.4 127.5h0M588.9 143.5h0M588.4 127.8h0M583.9 153.4h0M564.3 126.7h0M583.0 152.0h0M576.2 147.0h0M556.6 131.4h0M578.2 145.2h0M580.9 154.1h0M591.2 144.3h0M586.0 147.7h0M581.7 155.5h0M600.5 141.0h0M582.1 155.2h0M582.0 155.4h0M582.0 155.3h0M600.0 129.7h0M587.5 144.4h0M570.8 147.0h0M588.0 148.2h0M576.5 148.7h0M595.9 138.4h0M584.2 153.4h0M570.5 149.6h0M578.0 151.3h0M583.2 152.6h0M586.7 149.9h0M577.7 149.7h0M580.9 153.1h0M583.9 144.6h0M581.3 151.8h0M572.3 142.4h0M581.9 155.4h0M582.6 154.4h0M586.2 150.2h0M585.5 149.4h0M582.2 155.3h0M582.4 154.6h0M574.0 148.0h0M584.1 149.2h0M577.9 138.3h0M585.3 136.7h0M576.6 141.2h0M585.8 139.9h0M563.9 141.6h0M582.8 154.5h0M591.3 139.0h0M603.6 141.5h0M579.8 152.2h0M589.5 137.7h0M579.7 141.3h0M586.9 150.0h0M588.0 144.5h0M591.6 137.3h0M587.7 133.5h0M583.1 151.8h0M582.4 152.8h0M574.1 140.3h0M580.5 154.9h0M577.3 146.6h0M582.2 153.9h0M581.3 154.3h0M578.8 140.8h0M580.1 151.9h0M574.6 150.5h0M575.6 150.9h0M566.4 130.0h0M586.6 139.1h0M583.7 149.2h0M578.3 147.9h0M584.9 136.2h0M583.3 152.2h0M587.1 147.6h0M571.2 143.6h0M579.7 151.2h0M580.1 147.3h0M581.8 155.6h0M580.8 152.5h0M580.2 150.2h0M578.1 151.6h0M581.9 155.5h0M585.5 127.9h0M587.4 152.2h0M583.5 152.4h0M580.7 149.3h0M580.4 152.4h0M574.9 132.6h0M583.7 151.7h0M578.7 144.0h0M579.8 147.7h0M574.1 136.0h0M580.6 147.4h0M575.5 141.4h0M578.6 147.3h0M591.9 130.9h0M580.2 152.8h0M580.1 139.1h0M568.3 130.0h0M580.9 154.4h0M579.9 153.7h0M582.9 154.4h0M578.4 149.3h0M580.3 150.7h0M584.0 149.3h0M585.6 139.2h0M585.3 144.9h0M577.9 134.0h0M579.8 151.5h0M575.4 143.0h0M582.9 149.3h0M580.8 147.9h0M584.7 151.8h0M581.3 155.2h0M588.3 146.6h0M581.5 154.9h0M593.2 130.2h0M581.0 154.5h0M581.5 155.1h0M577.5 147.4h0M591.4 131.8h0M581.8 155.6h0M578.1 147.8h0M586.9 150.3h0M583.2 149.6h0M579.8 146.0h0M583.1 153.5h0M563.3 135.2h0M582.5 154.8h0M585.3 143.3h0M586.2 143.8h0M583.2 149.3h0M584.8 152.0h0M578.2 152.4h0M582.4 154.4h0M601.4 129.5h0M589.9 134.6h0M588.2 149.3h0M580.2 149.0h0M580.3 152.3h0M583.7 152.9h0M582.1 154.9h0M584.2 152.1h0M594.1 149.0h0M576.5 147.3h0M582.8 151.2h0M583.6 151.4h0M583.4 146.3h0M571.1 139.5h0M582.3 154.9h0M581.1 153.9h0M582.2 153.6h0M583.7 153.1h0M596.0 147.4h0M582.2 154.1h0M583.6 152.3h0M578.6 145.3h0M582.1 155.1h0M578.8 152.0h0M577.9 148.6h0M579.6 147.9h0M585.3 143.0h0M583.0 154.9h0M587.4 152.5h0M607.5 131.9h0M579.5 149.5h0M576.5 147.8h0M588.9 143.7h0M583.0 152.9h0M578.8 146.8h0M586.3 141.5h0M582.4 154.4h0M588.1 142.2h0M579.5 151.8h0M580.3 153.7h0M590.1 131.9h0M582.7 153.0h0M584.1 146.6h0M582.9 154.3h0M581.9 155.1h0M581.0 154.3h0M577.2 147.0h0M587.5 136.7h0M593.6 139.1h0M578.6 145.8h0M587.6 142.3h0M581.1 150.5h0M580.5 149.3h0M588.3 145.8h0M582.9 154.6h0M579.2 149.6h0M581.0 154.4h0M577.9 149.6h0M578.4 146.3h0M578.2 146.0h0M579.3 148.8h0M582.7 154.7h0M576.7 150.1h0M583.6 148.8h0M576.3 141.7h0M589.0 133.1h0M580.4 152.9h0M583.5 147.2h0M581.9 155.3h0M580.0 153.6h0M586.3 148.8h0M584.2 147.6h0M583.2 154.1h0M580.7 153.5h0M581.8 155.5h0M592.9 141.0h0M585.4 151.3h0M587.8 127.7h0M580.3 146.3h0M582.8 153.1h0M588.7 149.3h0M585.3 148.4h0M579.7 151.3h0M580.6 151.9h0M582.2 153.3h0M589.1 148.2h0M586.4 127.0h0M580.2 150.3h0M579.3 150.6h0M561.4 142.8h0M593.4 147.2h0M585.2 150.8h0M572.1 144.6h0M576.4 147.2h0M579.7 148.1h0M586.9 149.5h0M580.1 152.2h0M580.6 153.2h0M580.3 152.4h0M577.6 148.6h0M582.9 154.3h0M577.6 145.4h0M585.7 137.5h0M584.5 143.6h0M588.1 141.2h0M586.9 147.7h0M583.3 148.7h0M580.8 152.2h0M574.9 135.7h0M579.5 147.4h0M581.1 154.3h0M584.9 149.2h0M584.1 149.3h0M580.8 151.6h0M584.4 150.1h0M573.9 146.2h0M580.5 152.8h0M582.5 153.8h0M588.4 145.4h0M581.2 151.0h0M581.4 154.7h0M572.0 139.8h0M575.8 150.9h0M583.9 148.5h0M584.6 152.5h0M588.0 150.1h0M597.7 139.7h0M577.4 137.1h0M587.0 138.1h0M581.1 154.6h0M589.0 140.8h0M577.2 140.8h0M584.0 136.4h0M584.6 150.4h0M585.6 150.7h0M580.5 151.9h0M582.2 155.1h0M585.8 148.9h0M575.6 146.1h0M586.7 151.0h0M579.0 151.2h0M585.7 152.8h0M584.9 142.0h0M584.0 153.9h0M576.6 145.3h0M578.2 147.6h0M585.7 146.5h0M563.3 133.6h0M587.6 139.1h0M580.7 153.9h0M583.6 149.1h0M588.9 134.1h0M578.2 147.0h0M571.3 139.8h0M582.8 152.8h0M574.0 146.8h0M564.4 128.4h0M580.8 153.7h0M578.0 143.2h0M578.9 152.2h0M580.4 151.3h0M585.6 143.6h0M578.1 148.3h0M582.0 155.3h0M589.6 138.5h0M587.7 143.6h0M587.8 144.0h0M580.0 152.7h0M578.0 147.4h0M579.6 143.7h0M580.7 153.2h0M582.8 154.7h0M590.7 136.0h0M589.0 144.9h0M582.1 155.0h0M572.9 149.4h0M580.4 150.2h0M581.4 154.4h0M589.9 139.3h0M580.2 143.0h0M581.2 154.6h0M573.0 143.5h0M581.4 155.0h0M585.2 145.3h0M574.0 134.1h0M584.6 148.2h0M595.4 140.4h0M593.5 149.3h0M576.8 150.1h0M583.2 154.3h0M571.2 144.0h0M587.6 149.8h0M575.9 152.5h0M586.3 149.8h0M577.1 148.7h0M584.0 153.7h0M572.5 139.7h0M583.3 154.3h0M568.6 130.9h0M582.1 154.8h0M590.3 141.9h0M584.8 153.4h0M581.8 155.5h0M580.3 153.5h0M591.2 146.4h0M581.8 155.6h0M589.9 131.5h0M583.9 143.3h0M580.4 150.4h0M586.4 142.6h0M581.4 155.0h0M576.8 137.0h0M585.0 144.5h0M584.5 147.7h0M587.1 145.4h0M582.7 154.1h0M578.5 150.6h0M573.9 135.6h0M585.6 149.0h0M587.6 150.7h0M574.6 140.2h0M581.8 155.5h0M583.6 149.6h0M583.0 153.1h0M581.2 154.0h0M587.6 150.9h0M581.6 155.2h0M584.8 146.6h0M583.5 149.7h0M584.0 151.5h0M596.0 144.1h0M582.8 153.4h0M578.3 151.2h0M581.3 154.4h0M584.9 146.3h0M580.4 149.8h0M581.1 152.8h0M583.9 144.3h0M586.8 140.5h0M582.2 154.8h0M581.6 155.4h0M581.4 155.0h0M586.9 141.1h0M576.2 146.9h0M592.6 141.8h0M577.8 144.4h0M578.5 142.7h0M570.7 127.5h0M579.2 144.1h0M581.4 154.7h0M572.1 132.7h0M579.0 141.8h0M574.0 142.5h0M577.5 147.4h0M578.3 152.0h0M577.4 144.9h0M583.5 154.4h0M585.7 149.4h0M585.8 150.5h0M587.5 140.5h0M580.1 149.9h0M586.4 133.8h0M592.0 137.7h0M579.1 139.5h0M582.8 153.2h0M579.3 150.1h0M577.6 147.7h0M578.6 149.8h0M586.1 142.4h0M580.0 154.3h0M580.3 151.5h0M583.3 153.0h0M572.5 137.1h0M582.1 154.2h0M584.2 151.6h0M577.5 145.1h0M577.6 147.0h0M580.8 152.6h0M581.8 155.6h0M579.4 152.6h0M580.0 153.6h0M582.6 151.4h0M587.8 139.7h0M579.6 151.3h0M593.5 133.4h0M580.0 145.8h0M586.1 148.9h0M569.0 144.7h0M581.4 155.0h0M574.1 127.1h0M576.8 138.2h0M573.7 142.4h0M589.5 145.5h0M586.1 147.5h0M579.2 150.4h0M570.0 141.8h0M593.9 135.0h0M583.1 151.6h0M591.5 140.1h0M583.7 148.6h0M590.1 144.4h0M574.3 146.0h0M578.7 152.0h0M583.5 151.4h0M588.1 140.2h0M578.6 149.7h0M583.3 152.5h0M584.8 149.4h0M582.9 154.3h0M587.7 145.4h0M589.2 150.0h0M587.1 144.9h0M588.9 150.8h0M587.6 145.8h0M573.2 136.4h0M585.0 145.3h0M589.0 141.4h0M581.1 153.1h0M591.2 146.3h0M576.9 144.3h0M581.4 155.0h0M571.7 135.2h0M573.3 136.8h0M592.7 143.6h0M583.1 149.5h0M575.5 141.9h0M582.8 153.6h0M587.2 152.5h0M568.5 132.8h0M587.0 147.5h0M581.6 155.4h0M582.1 154.9h0M565.5 137.0h0M581.2 153.6h0M577.6 145.5h0M581.5 154.3h0M578.8 145.0h0M577.1 142.1h0M582.9 154.8h0M585.2 151.1h0M580.8 154.2h0M580.7 152.6h0M576.4 141.2h0M575.2 149.1h0M584.8 151.9h0M580.7 149.9h0M574.3 127.8h0M577.4 149.5h0M576.1 144.6h0M583.9 151.2h0M584.7 152.6h0M583.7 151.4h0M582.2 153.1h0M583.1 151.2h0M588.3 141.3h0M573.2 136.9h0M576.3 148.4h0M576.7 136.0h0M579.6 147.6h0M584.5 143.0h0M580.9 151.6h0M597.0 138.7h0M586.1 150.0h0M574.7 146.3h0M584.8 145.8h0M582.4 153.7h0M582.1 155.0h0M572.4 138.9h0M581.4 154.3h0M565.7 126.7h0M588.3 148.9h0M585.7 142.4h0M587.5 148.2h0M588.3 145.4h0M589.5 145.3h0M577.5 147.0h0M581.9 155.5h0M569.8 137.9h0M576.5 149.9h0M589.4 136.4h0M586.8 150.1h0M583.4 153.7h0M584.8 150.3h0M579.2 150.2h0M572.3 139.4h0M582.6 151.3h0M583.4 153.1h0M561.1 139.8h0M580.6 154.3h0M588.2 149.9h0M583.9 152.5h0M581.3 154.6h0M584.8 151.1h0M582.8 153.9h0M583.5 152.9h0M584.7 151.2h0M583.6 153.8h0M583.0 154.9h0M579.0 147.6h0M583.4 151.5h0M582.9 152.2h0M578.7 149.0h0M575.8 145.2h0M573.4 136.2h0M583.2 153.4h0M586.6 143.0h0M582.2 155.1h0M581.9 155.4h0M587.4 130.2h0M577.1 150.8h0M577.2 147.5h0M584.4 153.0h0M565.0 143.3h0M575.9 145.2h0M579.5 153.0h0M584.3 149.3h0M580.2 152.7h0M576.4 146.4h0M589.5 135.5h0M579.7 154.2h0M582.3 155.3h0M594.8 138.1h0M579.1 153.4h0M593.0 133.5h0M578.7 152.9h0M578.9 152.9h0M587.6 134.0h0M587.9 138.7h0M576.2 137.1h0M580.2 150.2h0M579.9 148.8h0M585.7 142.6h0M582.9 151.1h0M577.4 141.9h0M579.7 153.1h0M584.0 153.0h0M572.2 136.2h0M581.8 155.5h0M578.8 142.7h0M574.2 139.3h0M583.6 152.9h0M584.5 151.2h0M580.2 152.3h0M609.0 136.4h0M586.7 146.0h0M578.2 144.0h0M565.3 146.0h0M593.4 138.4h0M561.5 130.8h0M581.7 155.5h0M582.9 150.7h0M580.4 153.3h0M581.0 153.4h0M574.5 144.5h0M583.7 148.1h0M581.7 155.3h0M584.0 151.3h0M589.9 142.4h0M594.8 143.5h0M585.0 143.6h0M581.6 155.3h0M582.9 154.1h0M581.7 155.5h0M580.2 154.3h0M580.9 154.5h0M575.0 144.8h0M588.3 131.0h0M584.6 148.0h0M582.5 154.1h0M578.7 144.1h0M583.7 148.7h0M579.9 154.7h0M582.6 154.3h0M584.2 152.5h0M586.6 149.1h0M560.7 138.1h0M583.3 151.4h0M610.7 134.6h0M579.6 149.5h0M578.1 150.5h0M575.6 149.2h0M547.7 128.9h0M573.1 147.4h0M585.1 151.0h0M573.4 148.6h0M591.0 137.1h0M582.6 152.8h0M581.9 155.5h0M587.6 138.1h0M567.8 129.2h0M582.7 154.2h0M566.6 146.9h0M584.9 144.6h0M578.0 139.8h0M582.8 150.4h0M582.5 153.6h0M586.3 135.5h0M580.6 153.6h0M588.6 146.4h0M575.8 137.8h0M580.3 154.4h0M582.5 154.7h0M581.2 155.1h0M584.8 152.2h0M574.5 144.8h0M585.4 147.2h0M582.3 154.9h0M581.6 155.3h0M573.7 148.7h0M571.1 129.6h0M584.5 140.8h0M574.7 147.0h0M586.6 145.2h0M581.2 154.3h0M578.1 151.6h0M573.0 148.5h0M577.1 149.2h0M581.0 154.2h0M572.7 148.7h0M580.7 152.6h0M586.1 151.7h0M585.9 149.3h0M573.4 132.0h0M582.9 154.3h0M585.9 144.2h0M584.6 145.2h0M582.9 152.8h0M584.5 149.8h0M588.0 148.5h0M579.3 150.9h0M579.4 138.8h0M573.2 143.0h0M581.7 155.4h0M587.4 147.1h0M577.7 146.3h0M579.6 141.1h0M583.2 154.5h0M580.6 154.0h0M580.9 153.9h0M579.8 150.5h0M585.3 150.9h0M585.4 153.7h0M579.7 152.0h0M576.8 141.5h0M585.3 143.7h0M583.8 148.8h0M585.5 149.1h0M580.9 154.1h0M580.3 151.4h0M591.4 133.8h0M582.3 155.0h0M589.4 137.7h0M579.5 147.9h0M575.3 136.0h0M582.8 152.3h0M582.4 152.1h0M580.8 153.6h0M581.9 155.5h0M582.9 150.6h0M582.3 155.0h0M581.2 154.5h0M582.8 151.8h0M570.2 126.8h0M590.5 128.6h0M568.9 126.7h0M586.7 146.6h0M582.3 155.1h0M596.2 146.0h0M583.9 151.8h0M586.4 146.1h0M567.5 143.1h0M574.8 139.1h0M583.1 154.6h0M581.6 154.9h0M581.1 153.7h0M581.0 155.0h0M584.1 142.0h0M580.9 154.7h0M595.1 141.0h0M580.6 152.2h0M585.5 147.4h0M579.9 152.9h0M586.7 140.2h0M582.7 152.2h0M576.3 147.5h0M580.1 154.4h0M587.0 134.2h0M579.9 154.0h0M584.5 149.3h0M588.6 137.9h0M584.8 151.3h0M586.3 143.6h0M585.4 152.0h0M578.6 151.1h0M576.4 146.7h0M584.7 148.8h0M584.4 144.6h0M585.5 148.5h0M581.4 155.1h0M594.2 138.8h0M577.2 146.8h0M585.9 147.3h0M576.7 142.7h0M579.0 150.8h0M580.4 152.4h0M584.8 148.5h0M569.3 129.8h0M567.6 146.1h0M577.2 152.1h0M578.4 143.6h0M581.1 154.5h0M584.5 151.8h0M575.9 151.9h0M577.9 152.6h0M580.4 151.9h0M582.2 153.0h0M586.6 141.0h0M577.0 127.4h0M585.3 142.5h0M587.6 147.4h0M581.1 154.5h0M584.3 150.8h0M593.8 137.2h0M581.8 155.6h0M576.9 141.4h0M582.8 155.0h0M586.7 149.8h0M576.3 151.2h0M580.4 153.5h0M581.8 155.5h0M579.8 153.9h0M584.7 145.1h0M594.5 148.7h0M577.9 144.6h0M599.6 140.8h0M584.3 151.0h0M586.5 141.6h0M587.5 148.8h0M584.2 153.8h0M576.2 146.9h0M573.1 138.6h0M583.4 148.2h0M580.6 153.7h0M574.7 138.2h0M579.3 147.0h0M583.1 153.6h0M585.2 139.0h0M576.8 147.9h0M586.7 147.4h0M585.2 151.0h0M585.9 133.3h0M575.5 146.6h0M582.9 154.6h0M581.9 155.4h0M578.9 150.8h0M581.4 155.3h0M585.2 145.9h0M581.4 154.8h0M582.0 155.0h0M570.6 146.0h0M580.2 150.9h0M586.8 141.9h0M573.7 145.3h0M587.4 146.1h0M583.2 150.7h0M582.8 153.0h0M584.3 150.7h0M578.8 150.2h0M581.3 154.9h0M578.8 146.0h0M588.1 141.1h0M580.1 151.5h0M574.4 148.8h0M599.0 129.4h0M585.9 150.7h0M585.0 141.2h0M584.2 149.4h0M581.9 155.3h0M581.9 155.5h0M588.5 128.3h0M576.0 144.9h0M581.4 154.9h0M579.2 149.5h0M584.8 150.3h0M579.1 152.9h0M576.8 147.8h0M577.9 144.0h0M577.5 139.4h0M581.4 153.9h0M583.3 151.1h0M582.4 154.0h0M579.2 136.4h0M583.3 154.1h0M579.0 146.6h0M577.1 144.2h0M575.5 142.5h0M572.1 145.2h0M581.4 153.9h0M587.5 148.2h0M580.5 150.8h0M587.4 134.4h0M584.4 153.4h0M583.5 153.2h0M586.8 131.7h0M586.9 146.8h0M584.4 150.6h0M582.0 155.1h0M575.8 141.2h0M582.0 155.4h0M586.1 145.8h0M579.0 150.9h0M580.9 153.0h0M578.6 151.1h0M578.8 142.5h0M587.1 140.4h0M591.9 129.6h0M577.4 151.0h0M576.6 152.2h0M573.2 146.3h0M588.5 131.9h0M584.2 147.9h0M576.6 146.9h0M576.2 141.5h0M583.6 150.0h0M579.8 154.1h0M583.0 152.6h0M573.4 134.5h0M580.0 154.1h0M580.9 154.5h0M576.6 137.4h0M581.1 153.3h0M579.0 149.7h0M584.7 152.3h0M572.4 145.2h0M580.4 150.1h0M581.6 154.8h0M582.6 154.4h0M578.5 152.3h0M594.8 129.8h0M583.8 147.8h0M579.0 148.6h0M586.8 138.1h0M575.4 148.2h0M585.0 144.9h0M577.2 141.9h0M578.9 152.4h0M587.9 147.5h0M584.3 150.2h0M583.3 148.0h0M571.1 150.0h0M580.1 153.0h0M560.9 126.8h0M582.6 153.4h0M584.0 151.9h0M589.2 142.9h0M587.0 143.4h0M583.6 151.7h0M580.6 152.8h0M579.9 151.9h0M584.2 152.8h0M579.6 145.3h0M579.2 149.7h0M579.2 152.9h0M583.0 154.0h0M581.8 155.6h0M581.2 154.8h0M581.9 155.3h0M570.5 132.4h0M584.0 143.2h0M580.3 150.9h0M578.1 140.7h0M587.8 149.0h0M576.6 142.5h0M580.8 151.2h0M588.2 146.0h0M573.5 144.4h0M586.9 146.6h0M587.7 137.6h0M580.4 153.7h0M574.9 144.3h0M584.4 150.0h0M578.9 151.0h0M574.8 137.2h0M575.5 142.5h0M585.2 151.7h0M587.4 134.1h0M582.1 155.4h0M583.5 152.5h0M583.1 153.7h0M574.5 145.6h0M587.4 150.7h0M579.3 153.4h0M582.6 152.7h0M603.1 131.4h0M579.2 151.5h0M581.7 155.4h0M593.5 141.9h0M580.4 151.0h0M581.8 155.5h0M587.1 143.9h0M570.8 135.8h0M589.7 144.0h0M580.0 153.1h0M589.4 146.5h0M579.8 152.4h0M584.1 148.8h0M591.8 146.2h0M583.0 149.4h0M583.7 150.3h0M570.9 136.6h0M594.2 139.8h0M584.0 138.6h0M582.9 152.9h0M586.5 149.6h0M570.9 142.5h0M580.4 153.9h0M582.6 153.9h0M577.9 139.7h0M579.8 150.7h0M581.5 155.3h0M577.8 147.3h0M582.5 154.3h0M581.0 154.5h0M582.8 150.6h0M582.1 154.9h0M577.6 147.8h0M584.9 151.2h0M583.6 152.4h0M572.7 144.0h0M585.8 126.6h0M591.2 135.2h0M580.3 149.8h0M579.0 151.5h0M579.5 151.7h0M577.4 150.4h0M586.4 138.6h0M582.6 153.8h0M590.3 128.0h0M583.8 149.5h0M580.3 152.2h0M580.8 152.9h0M584.6 150.0h0M588.9 152.1h0M580.5 151.0h0M581.0 152.9h0M572.3 148.1h0M594.3 143.8h0M576.4 146.6h0M580.1 152.2h0M578.7 139.8h0M580.1 153.8h0M580.5 149.8h0M580.9 153.8h0M581.8 155.5h0M577.6 147.3h0M576.5 146.1h0M583.7 149.6h0M580.1 147.0h0M575.3 152.1h0M579.7 144.5h0M587.4 148.1h0M582.3 154.2h0M582.7 154.1h0M579.6 154.2h0M579.2 153.1h0M576.0 138.2h0M574.9 147.9h0M580.2 142.9h0M580.9 153.8h0M580.9 153.2h0M582.3 155.2h0M584.0 138.1h0M580.9 153.8h0M579.5 151.8h0M577.2 140.4h0M583.4 150.2h0M582.7 154.3h0M590.0 148.4h0M585.2 150.4h0M579.3 152.4h0M581.3 153.7h0M574.3 146.8h0M582.0 155.4h0M579.3 146.0h0M580.8 150.7h0M585.6 117.7h0M585.1 152.6h0M582.4 154.8h0M577.7 149.4h0M579.5 149.8h0M579.6 152.6h0M576.0 145.2h0M585.0 145.6h0M577.6 147.9h0M579.4 148.6h0M581.8 155.6h0M575.7 131.4h0M584.4 151.7h0M581.1 155.1h0M577.9 147.8h0M586.0 148.7h0M582.0 155.1h0M581.7 155.1h0M587.2 150.9h0M573.4 135.0h0M580.5 152.6h0M588.0 138.0h0M583.2 152.4h0M588.8 132.6h0M578.2 151.5h0M577.2 138.9h0M578.9 149.0h0M580.1 146.1h0M584.6 138.6h0M579.5 145.2h0M570.7 149.1h0M587.2 146.1h0M580.6 153.9h0M579.5 149.9h0M571.3 134.6h0M585.0 151.2h0M580.0 152.0h0M582.4 154.6h0M591.4 126.3h0M587.6 149.0h0M580.3 153.2h0M584.1 151.5h0M578.0 149.9h0M579.6 152.9h0M584.4 145.1h0M586.2 140.0h0M588.0 144.4h0M575.0 136.9h0M566.8 141.3h0M586.8 147.0h0M582.9 153.9h0M586.2 131.0h0M578.1 149.6h0M573.4 149.5h0M578.8 151.6h0M587.6 142.6h0M581.1 154.5h0M588.4 144.9h0M577.6 149.8h0M575.0 145.2h0M578.4 144.2h0M596.3 146.6h0M577.8 141.8h0M582.3 154.8h0M580.8 153.3h0M580.5 153.2h0M580.9 154.2h0M584.5 149.3h0M581.7 155.5h0M584.8 151.3h0M588.4 136.9h0M581.3 154.5h0M579.9 144.1h0M595.1 133.5h0M584.6 145.8h0M582.1 155.0h0M586.0 144.2h0M580.0 148.4h0M579.6 150.1h0M579.6 152.6h0M587.7 144.3h0M581.0 153.9h0M575.8 133.6h0M579.7 152.3h0M583.6 151.4h0M568.0 145.9h0M578.5 145.5h0M586.1 146.1h0M580.6 149.3h0M571.0 141.8h0M574.5 129.2h0M581.2 154.2h0M578.1 146.3h0M586.5 128.2h0M573.7 140.4h0M585.1 149.6h0M576.0 144.1h0M577.9 150.7h0M579.5 150.4h0M581.9 155.3h0M582.0 154.4h0M579.9 152.7h0M586.3 143.7h0M585.1 148.1h0M585.9 136.6h0M584.3 149.3h0M567.2 130.9h0M584.4 148.4h0M580.6 152.8h0M582.6 154.1h0M582.3 154.8h0M575.7 141.8h0M582.3 153.6h0M581.9 155.3h0M579.7 150.0h0M583.1 149.5h0M585.5 139.7h0M583.6 151.1h0M580.8 153.3h0M580.8 153.4h0M579.3 152.3h0M579.2 154.0h0M587.9 147.8h0M576.6 141.8h0M572.0 134.3h0M583.4 142.6h0M582.6 151.9h0M585.0 149.1h0M586.9 148.9h0M578.0 149.5h0M578.8 117.9h0M582.3 154.8h0M588.7 151.1h0M584.1 151.8h0M582.1 155.1h0M585.1 148.7h0M581.9 155.5h0M583.6 149.6h0M583.0 153.9h0M582.5 152.4h0M579.9 148.0h0M578.1 147.6h0M586.8 137.6h0M577.5 148.2h0M588.7 131.4h0M581.3 155.2h0M573.7 149.7h0M580.3 152.6h0M588.8 131.6h0M569.7 136.4h0M591.3 138.2h0M581.8 155.5h0M582.6 153.8h0M584.4 148.0h0M583.8 143.0h0M587.2 144.5h0M572.4 144.2h0M579.2 150.9h0M577.1 150.1h0M580.1 151.7h0M582.2 153.2h0M573.3 146.6h0M581.4 154.9h0M582.5 152.7h0M582.8 150.2h0M582.4 154.9h0M587.1 147.1h0M580.2 152.2h0M582.6 153.9h0M583.1 154.5h0M576.0 139.9h0M579.8 153.3h0M581.4 152.8h0M580.8 153.4h0M576.7 144.9h0M581.8 155.5h0M579.2 133.7h0M573.7 142.9h0M588.6 133.5h0M583.1 152.7h0M575.7 141.6h0M571.4 140.0h0M575.4 143.0h0M585.4 151.2h0M576.0 144.9h0M583.1 152.2h0M579.8 148.3h0M584.3 150.4h0M583.4 153.9h0M584.9 151.3h0M583.6 152.4h0M577.2 147.0h0M577.0 152.9h0M570.2 133.4h0M582.6 154.5h0M579.1 152.3h0M579.2 153.0h0M577.7 150.0h0M582.5 154.5h0M577.3 119.3h0M584.9 150.4h0M585.4 152.6h0M583.8 150.1h0M582.4 155.1h0M593.4 140.6h0M580.0 143.2h0M579.8 144.4h0M577.8 148.9h0M571.1 144.3h0M583.9 153.1h0M581.1 154.6h0M586.9 138.2h0M578.5 139.0h0M577.3 148.2h0M577.1 136.7h0M573.7 138.4h0M571.8 145.5h0M578.0 150.9h0M596.1 137.5h0M587.5 148.4h0M575.9 151.6h0M584.4 149.2h0M580.7 153.7h0M573.4 139.4h0M582.6 155.0h0M583.8 153.3h0M588.3 136.4h0M575.2 133.2h0M583.0 152.1h0M581.3 154.6h0M576.2 145.9h0M575.3 145.3h0M574.6 133.3h0M598.1 142.6h0M578.3 144.9h0M574.1 135.2h0M580.0 148.5h0M585.0 145.5h0M583.0 153.9h0M581.5 155.0h0M580.1 152.6h0M579.1 152.6h0M584.6 141.5h0M581.7 155.4h0M581.4 153.4h0M585.2 150.2h0M580.7 153.9h0M581.0 152.6h0M571.8 148.3h0M583.6 141.5h0M593.6 139.7h0M595.5 136.5h0M590.6 133.3h0M582.8 148.6h0M574.5 142.7h0M574.7 150.6h0M580.3 152.5h0M579.2 151.6h0M581.4 154.4h0M582.4 155.2h0M591.7 144.9h0M583.1 145.4h0M574.8 138.0h0M591.2 145.7h0M584.7 144.3h0M594.7 129.4h0M571.9 131.6h0M582.2 155.2h0M571.6 143.7h0M597.5 137.0h0M579.0 149.7h0M583.0 151.9h0M582.6 152.7h0M574.3 144.5h0M581.3 154.7h0M574.3 148.0h0M585.6 151.9h0M581.6 154.9h0M598.5 134.9h0M584.4 151.0h0M564.7 140.9h0M578.0 149.5h0M581.0 151.4h0M581.7 155.3h0M581.6 155.0h0M584.5 149.1h0M582.3 154.9h0M589.3 145.9h0M579.8 153.8h0M584.5 141.2h0M566.8 138.9h0M577.1 143.5h0M584.3 145.3h0M579.2 150.1h0M583.3 148.9h0M579.8 153.6h0M595.7 139.3h0M574.0 148.4h0M582.6 154.7h0M570.0 140.9h0M580.3 154.1h0M573.7 148.7h0M576.2 150.7h0M564.0 131.4h0M591.4 145.2h0M582.3 154.2h0M578.5 144.6h0M573.0 137.3h0M585.2 142.3h0M598.0 142.9h0M581.2 154.3h0M582.1 155.3h0M580.8 152.2h0M584.3 152.8h0M578.3 133.6h0M584.7 134.6h0M573.2 141.2h0M579.4 149.9h0M577.2 141.0h0M590.4 143.4h0M581.0 154.1h0M582.7 150.3h0M588.2 152.5h0M580.5 149.5h0M580.7 153.2h0M577.0 130.9h0M575.5 145.4h0M589.4 133.2h0M583.6 150.7h0M566.1 143.8h0M583.3 153.8h0M590.1 146.1h0M580.9 154.8h0M582.8 152.5h0M582.5 153.3h0M584.9 150.2h0M579.1 147.8h0M581.4 153.4h0M576.4 142.5h0M584.9 149.4h0M589.2 141.2h0M587.9 129.4h0M588.6 143.5h0M577.4 145.7h0M584.0 149.1h0M563.6 139.4h0M573.6 137.8h0M579.6 151.9h0M584.9 149.2h0M578.0 138.0h0M576.2 131.3h0M579.4 143.3h0M579.4 145.2h0M575.6 142.8h0M586.6 152.3h0M579.9 153.0h0M585.0 138.4h0M585.7 153.8h0M574.2 144.0h0M583.3 153.6h0M579.0 151.1h0M582.6 152.4h0M585.7 149.2h0M585.5 145.2h0M564.7 129.4h0M580.0 147.6h0M582.7 153.7h0M579.6 149.8h0M582.4 154.7h0M575.8 139.1h0M575.7 136.0h0M584.0 153.0h0M581.8 155.5h0M573.6 137.3h0M578.6 152.8h0M583.0 153.9h0M583.3 152.9h0M578.9 148.9h0M579.6 147.8h0M570.9 137.8h0M581.1 154.2h0M583.1 152.6h0M581.2 155.0h0M578.3 153.3h0M584.5 150.1h0M577.7 148.6h0M578.2 137.7h0M576.4 150.1h0M568.2 140.3h0M585.8 148.4h0M587.7 135.7h0M590.8 149.9h0M571.5 140.8h0M578.8 140.6h0M574.5 126.9h0M588.6 140.6h0M578.6 151.2h0M580.5 151.5h0M579.1 147.5h0M586.3 150.8h0M579.0 141.0h0M594.4 135.8h0M566.7 136.3h0M595.9 128.6h0M605.2 128.1h0M577.4 147.3h0M583.4 153.7h0M582.5 153.7h0M576.8 145.5h0M582.1 155.4h0M575.1 151.3h0M592.6 140.3h0M568.7 141.1h0M574.8 146.7h0M577.5 147.5h0M577.5 149.7h0M586.3 147.9h0M592.0 145.6h0M575.1 145.7h0M581.5 155.0h0M576.3 144.1h0M585.6 145.2h0M579.2 147.3h0M581.6 154.6h0M577.0 150.4h0M562.4 130.0h0M582.1 154.3h0M583.8 147.9h0M583.4 151.4h0M582.6 154.4h0M581.4 155.1h0M585.9 147.2h0M580.0 154.3h0M582.6 154.8h0M577.7 146.5h0M585.7 152.0h0M591.9 138.2h0M580.6 154.6h0M579.6 152.1h0M580.6 151.6h0M577.0 146.9h0M578.7 152.1h0M585.8 150.0h0M578.0 146.1h0M583.2 153.4h0M580.2 152.3h0M590.6 133.9h0M589.6 127.7h0M579.4 151.0h0M581.3 154.6h0M579.5 150.6h0M585.3 146.2h0M580.2 152.9h0M589.1 144.5h0M581.7 155.4h0M572.3 138.9h0M577.9 147.0h0M580.1 154.4h0M583.3 153.7h0M583.4 152.4h0M571.4 139.4h0M580.7 154.2h0M581.5 155.3h0M594.7 135.5h0M575.0 141.8h0M576.0 146.6h0M584.6 148.5h0M585.6 143.5h0M581.7 154.8h0M576.1 142.1h0M587.5 132.7h0M592.7 147.5h0M581.2 153.6h0M586.5 145.3h0M574.6 142.4h0M580.9 154.0h0M583.1 154.3h0M586.7 150.9h0M578.9 147.0h0M582.0 155.1h0M578.8 146.5h0M574.5 145.9h0M585.2 144.4h0M578.3 147.7h0M587.2 147.5h0M573.2 135.7h0M591.8 136.9h0M583.0 150.0h0M590.9 137.8h0M587.4 140.9h0M577.7 140.8h0M575.3 141.5h0M585.3 146.4h0M588.6 144.3h0M580.5 154.4h0M570.0 141.6h0M584.7 142.1h0M560.5 142.0h0M587.1 144.8h0M570.9 132.7h0M584.9 145.3h0M584.1 149.5h0M565.4 135.7h0M570.4 130.9h0M581.7 155.5h0M584.5 154.2h0M570.5 136.7h0M590.5 135.3h0M576.8 147.3h0M578.4 151.4h0" stroke="#bebebe" stroke-width="2.55" stroke-linecap="round" fill="none"/><path d="M569.3 102.5h0M537.3 89.3h0M543.1 116.5h0M573.5 121.7h0M552.4 105.8h0M561.8 111.9h0M573.0 107.5h0M561.8 73.2h0M565.3 82.0h0M560.1 115.9h0M570.3 121.1h0M559.5 114.0h0M523.0 76.9h0M552.0 110.9h0M568.5 121.4h0M548.6 89.7h0M568.2 123.0h0M576.1 122.7h0M575.3 119.2h0M524.3 94.2h0M549.8 108.3h0M574.0 118.0h0M540.5 60.9h0M550.9 49.4h0M552.4 117.6h0M566.6 109.8h0M541.4 51.2h0M567.0 119.5h0M556.3 95.7h0M545.3 86.0h0M570.1 113.6h0M572.4 108.3h0M551.3 56.7h0M570.0 112.6h0M571.1 100.1h0M541.2 108.4h0M567.5 119.5h0M550.1 98.5h0M559.5 89.6h0M560.5 111.3h0M571.4 125.4h0M528.1 49.9h0M540.8 104.3h0M551.9 123.9h0M556.9 120.2h0M571.3 104.1h0M561.6 89.2h0M537.9 116.2h0M556.0 47.4h0M576.6 110.8h0M562.9 101.1h0M568.6 100.5h0M568.2 104.7h0M562.4 107.5h0M564.6 105.4h0M562.3 84.2h0M549.6 105.3h0M570.6 113.2h0M562.8 120.1h0M571.3 72.6h0M574.8 110.9h0M557.7 68.1h0M549.4 107.6h0M560.0 78.4h0M560.3 79.3h0M546.6 119.8h0M565.9 70.0h0M551.2 93.0h0M568.9 111.8h0M548.6 103.8h0M563.2 60.2h0M544.9 94.5h0M571.2 108.0h0M559.4 28.2h0M570.9 117.4h0M572.1 120.3h0M518.4 85.8h0M554.9 100.2h0M537.9 86.5h0M548.4 96.8h0M528.4 74.8h0M577.0 121.0h0M567.6 112.5h0M571.9 121.2h0M564.3 113.6h0M544.8 118.4h0M574.7 114.8h0M549.7 120.5h0M566.8 111.2h0M561.6 70.2h0M543.0 72.1h0M536.9 122.5h0M543.9 100.9h0M544.9 102.7h0M565.8 122.4h0M549.6 117.3h0M569.0 111.7h0M570.5 100.4h0M567.9 112.8h0M550.9 96.4h0M565.1 103.5h0M556.0 85.1h0M531.8 81.5h0M563.0 106.1h0M540.9 103.4h0M553.5 80.1h0M575.8 109.4h0M570.2 102.1h0M527.1 100.1h0M573.8 100.7h0M561.1 114.0h0M559.7 89.4h0M572.4 90.6h0M537.2 82.4h0M541.8 108.0h0M561.0 87.0h0M562.1 77.9h0M575.7 124.5h0M564.1 90.4h0M561.5 113.4h0M567.9 108.3h0M536.8 121.1h0M552.3 108.1h0M539.5 123.3h0M544.8 57.4h0M535.1 122.8h0M514.4 74.3h0M545.2 86.6h0M573.7 123.3h0M557.1 54.1h0M564.0 89.0h0M572.9 76.9h0M574.2 100.1h0M567.3 88.8h0M559.3 85.4h0M570.7 115.6h0M566.2 107.9h0M555.7 113.9h0M540.8 86.0h0M545.1 121.3h0M543.2 109.0h0M553.7 90.5h0M565.7 82.2h0M568.7 112.0h0M576.0 104.3h0M562.7 69.5h0M571.1 102.4h0M543.8 85.9h0M567.3 107.5h0M560.9 74.6h0M568.8 79.7h0M535.0 83.2h0M566.9 103.5h0M575.8 125.8h0M529.0 97.1h0M567.4 83.0h0M559.3 120.0h0M575.7 111.2h0M576.3 113.0h0M569.6 124.8h0M572.4 119.5h0M553.0 113.0h0M570.0 123.4h0M574.3 106.2h0M537.5 102.0h0M550.3 92.2h0M574.3 123.0h0M552.4 95.6h0M571.3 66.0h0M564.5 115.2h0M572.8 84.0h0M566.8 125.1h0M544.1 109.5h0M547.5 107.0h0M561.2 58.3h0M575.3 122.5h0M561.2 111.1h0M549.8 119.9h0M555.0 107.5h0M570.0 113.0h0M556.4 115.3h0M570.5 65.9h0M553.0 109.6h0M569.6 113.9h0M562.3 124.1h0M556.7 115.1h0M551.0 94.1h0M545.4 107.3h0M555.3 84.3h0M543.1 94.3h0M563.4 123.5h0M568.2 84.9h0M559.3 109.5h0M539.4 124.4h0M570.9 107.8h0M576.1 124.2h0M546.3 117.0h0M566.8 81.3h0M568.4 82.3h0M570.4 87.1h0M551.4 72.4h0M566.7 108.6h0M566.5 87.9h0M557.9 111.0h0M558.1 120.6h0M537.5 100.3h0M561.4 70.8h0M565.2 79.7h0M554.9 114.7h0M574.1 119.6h0M564.7 107.4h0M570.6 101.7h0M537.9 67.7h0M536.0 91.1h0M570.9 117.2h0M542.4 100.3h0M512.6 101.8h0M560.1 102.1h0M561.6 118.4h0M559.1 113.1h0M532.1 113.7h0M569.0 110.2h0M572.0 118.6h0M568.9 114.2h0M566.0 118.4h0M546.3 120.9h0M572.2 99.9h0M574.6 122.0h0M541.4 83.1h0M569.6 111.6h0M543.9 121.6h0M574.5 102.3h0M557.4 106.3h0M575.2 103.4h0M568.1 77.4h0M555.6 107.0h0M573.2 118.7h0M561.2 89.3h0M543.1 89.8h0M556.0 98.9h0M573.2 105.7h0M569.6 100.4h0M550.4 103.0h0M562.6 80.0h0M513.0 46.6h0M572.9 98.4h0M566.4 93.8h0M559.4 106.7h0M560.8 101.6h0M577.6 122.1h0M561.1 88.3h0M558.8 125.6h0M526.5 97.1h0M532.1 121.7h0M573.9 108.4h0M561.0 116.6h0M546.8 106.6h0M547.0 101.6h0M570.1 96.0h0M569.1 85.4h0M540.6 103.6h0M571.5 71.9h0M562.6 113.2h0M574.4 118.4h0M566.7 122.3h0M534.4 92.2h0M552.5 94.8h0M573.3 119.8h0M575.4 113.0h0M570.3 119.4h0M571.9 120.8h0M563.7 105.4h0M541.0 102.7h0M573.9 122.7h0M517.3 102.4h0M553.8 90.9h0M549.9 102.2h0M519.7 112.5h0M569.7 115.4h0M553.2 117.3h0M570.9 94.9h0M541.2 55.0h0M513.9 101.0h0M567.1 113.9h0M544.1 119.5h0M560.5 58.5h0M562.1 120.3h0M567.4 73.7h0M540.8 121.0h0M561.4 108.7h0M573.7 123.1h0M554.7 105.6h0M515.9 86.7h0M541.5 94.6h0M555.5 107.4h0M544.8 82.2h0M573.8 120.7h0M570.8 114.3h0M565.7 88.8h0M559.2 91.4h0M553.2 95.6h0M573.9 121.9h0M522.7 104.6h0M567.8 84.7h0M541.0 76.3h0M567.9 101.2h0M566.8 106.8h0M568.0 96.0h0M558.1 116.3h0M554.2 117.9h0M566.3 78.0h0M567.7 110.5h0M553.7 124.2h0M572.7 114.3h0M561.1 85.4h0M569.0 118.4h0M560.6 84.0h0M535.1 102.6h0M560.1 124.2h0M574.3 120.0h0M530.4 102.8h0M564.4 100.4h0M573.1 106.1h0M554.0 106.6h0M565.5 64.2h0M571.6 112.2h0M574.5 106.3h0M564.7 118.5h0M564.2 95.3h0M533.7 119.4h0M549.3 113.1h0M574.2 121.0h0M574.0 107.6h0M542.0 76.0h0M572.5 124.2h0M558.7 100.2h0M556.5 109.8h0M566.5 87.4h0M549.5 39.2h0M560.1 92.6h0M549.7 105.4h0M573.5 110.0h0M559.3 113.0h0M566.3 122.6h0M558.4 100.3h0M553.6 113.6h0M537.0 69.7h0M547.6 111.5h0M575.7 101.5h0M519.2 118.3h0M573.8 112.1h0M560.5 102.5h0M560.2 117.0h0M556.9 114.3h0M566.5 102.4h0M552.0 66.4h0M566.9 101.9h0M563.0 119.7h0M561.6 93.2h0M553.9 122.6h0M558.1 87.6h0M560.2 102.7h0M558.3 109.4h0M539.2 104.9h0M569.3 87.4h0M561.4 116.3h0M560.6 116.9h0M560.3 99.0h0M550.6 116.6h0M571.4 103.9h0M568.0 119.8h0M527.9 86.8h0M560.8 96.2h0M555.9 114.2h0M570.9 107.2h0M538.8 91.5h0M560.1 97.0h0M575.1 117.8h0M558.4 125.0h0M568.2 83.0h0M543.7 85.8h0M564.9 109.6h0M557.3 111.7h0M567.5 115.7h0M555.2 98.7h0M567.9 112.7h0M537.0 99.7h0M573.2 124.3h0M550.4 100.3h0M559.6 98.5h0M564.3 104.3h0M558.2 99.0h0M571.1 85.1h0M572.9 122.4h0M558.5 113.2h0M563.4 106.3h0M567.5 61.2h0M524.3 109.7h0M577.2 121.7h0M558.1 102.2h0M555.6 97.8h0M571.2 119.9h0M542.7 104.0h0M562.1 115.5h0M565.4 99.2h0M563.1 110.8h0M572.0 101.8h0M571.0 90.5h0M556.5 102.2h0M568.6 69.0h0M572.4 109.7h0M556.2 108.1h0M563.8 122.4h0M557.8 107.3h0M556.9 98.1h0M572.1 109.1h0M571.4 107.4h0M573.0 114.0h0M571.3 107.6h0M572.0 98.5h0M559.9 104.0h0M539.7 95.8h0M519.3 108.7h0M568.6 47.5h0M535.9 104.7h0M557.9 110.9h0M566.4 117.8h0M575.6 121.6h0M571.9 96.5h0M549.9 96.7h0M571.6 98.2h0M537.7 106.9h0M555.3 118.9h0M552.5 120.7h0M558.2 92.8h0M544.4 97.4h0M541.0 95.3h0M542.8 85.7h0M575.5 125.0h0M572.3 82.3h0M569.2 113.6h0M553.0 107.5h0M575.1 116.7h0M558.6 103.7h0M559.9 107.6h0M546.0 93.7h0M556.9 124.0h0M575.7 126.0h0M576.9 121.9h0M530.1 86.6h0M564.6 113.1h0M571.4 120.1h0M566.7 108.6h0M570.4 91.5h0M568.8 79.2h0M571.0 97.3h0M554.8 116.5h0M542.3 107.6h0M554.1 104.7h0M573.7 93.3h0M559.5 110.0h0M560.1 107.1h0M546.5 120.8h0M572.6 85.5h0M571.7 88.7h0M571.9 111.5h0M575.8 115.1h0M557.5 106.8h0M573.8 98.5h0M572.9 115.1h0M558.1 88.9h0M528.5 96.7h0M575.5 118.8h0M548.5 113.3h0M575.4 115.3h0M568.9 114.6h0M566.5 96.3h0M543.9 73.4h0M569.1 95.6h0M528.7 74.5h0M556.9 102.5h0M571.1 123.8h0M577.4 122.3h0M556.7 106.3h0M549.0 109.1h0M547.6 108.3h0M551.5 118.7h0M568.6 89.4h0M569.4 116.4h0M574.8 112.2h0M554.7 97.7h0M569.6 103.4h0M568.9 113.6h0M559.6 110.4h0M541.5 111.9h0M557.8 95.9h0M571.4 97.1h0M562.0 114.1h0M553.4 76.2h0M569.3 123.5h0M566.3 121.8h0M559.4 124.6h0M548.5 98.4h0M548.0 121.3h0M574.4 94.1h0M566.5 76.7h0M555.9 99.8h0M575.1 113.3h0M564.7 112.4h0M513.8 95.0h0M561.0 88.7h0M560.0 106.1h0M561.0 47.2h0M559.0 118.6h0M565.1 111.6h0M537.8 23.4h0M544.0 105.5h0M526.2 114.1h0M557.9 81.2h0M565.0 118.3h0M575.2 98.6h0M558.2 124.5h0M534.1 116.0h0M572.0 108.7h0M562.9 94.9h0M548.7 101.8h0M517.6 104.6h0M573.8 117.3h0M572.4 111.3h0M570.8 115.9h0M563.4 101.3h0M547.3 105.0h0M574.4 113.7h0M532.7 97.7h0M571.1 120.9h0M558.8 120.5h0M515.0 90.7h0M572.2 103.5h0M559.0 86.8h0M534.8 97.4h0M573.5 121.7h0M564.5 109.1h0M569.7 95.9h0M541.6 124.2h0M568.1 91.0h0M568.0 113.2h0M565.7 124.5h0M574.1 117.6h0M561.1 121.8h0M545.0 116.0h0M558.4 104.2h0M566.3 102.5h0M558.0 110.8h0M569.3 113.7h0M571.5 109.5h0M552.5 107.1h0M574.9 111.3h0M553.9 107.1h0M555.4 110.7h0M575.8 114.7h0M523.4 111.5h0M553.4 86.8h0M547.8 112.7h0M528.5 110.7h0M555.5 102.6h0M566.9 119.6h0M534.0 103.5h0M565.8 114.9h0M566.2 78.5h0M561.5 121.8h0M556.7 112.4h0M559.2 108.5h0M570.4 106.8h0M565.6 81.1h0M564.0 120.9h0M555.4 122.1h0M565.5 92.3h0M570.2 89.6h0M576.2 115.7h0M573.1 121.0h0M562.4 110.8h0M563.1 65.4h0M563.8 74.6h0M517.0 86.6h0M555.3 100.6h0M530.0 99.3h0M568.5 103.7h0M573.5 124.9h0M534.0 116.9h0M575.3 104.1h0M571.2 117.0h0M536.7 109.9h0M575.6 121.1h0M555.5 108.7h0M552.2 97.1h0M525.1 96.6h0M554.0 74.5h0M534.2 109.8h0M562.8 121.8h0M549.4 105.8h0M550.2 114.8h0M563.9 113.8h0M567.6 124.6h0M545.9 104.1h0M535.1 64.9h0M569.8 120.0h0M572.2 117.2h0M543.1 71.2h0M573.2 105.3h0M555.9 117.2h0M553.5 117.9h0M550.4 94.5h0M514.6 123.2h0M565.4 97.0h0M531.1 78.3h0M558.3 104.6h0M563.4 88.7h0M557.6 101.4h0M562.6 120.3h0M541.0 82.6h0M556.8 100.0h0M528.4 64.2h0M558.2 113.8h0M557.5 72.5h0M574.9 106.1h0M559.5 125.1h0M546.4 77.2h0M534.0 60.3h0M558.3 112.6h0M556.2 98.1h0M558.7 49.8h0M534.0 111.6h0M565.8 120.0h0M551.6 121.4h0M572.2 105.1h0M556.9 115.0h0M571.8 77.7h0M538.7 100.3h0M556.6 117.0h0M541.2 104.0h0M561.0 86.8h0M551.0 93.2h0M564.7 119.9h0M570.8 115.5h0M568.3 101.7h0M516.9 105.3h0M567.6 118.0h0M562.2 101.8h0M571.1 124.1h0M556.2 99.6h0M535.6 26.0h0M553.5 120.1h0M567.4 121.0h0M573.5 101.1h0M563.5 33.8h0M544.6 95.5h0M568.7 70.2h0M573.3 92.4h0M562.3 93.8h0M566.1 110.9h0M575.8 105.1h0M570.0 76.7h0M572.6 76.5h0M560.3 121.4h0M568.4 114.5h0M547.8 110.3h0M572.8 121.3h0M553.3 73.9h0M565.7 74.1h0M541.2 98.1h0M556.5 60.0h0M555.1 114.8h0M572.0 82.3h0M567.7 79.7h0M577.0 123.2h0M564.8 84.6h0M576.2 106.2h0M571.2 108.6h0M564.0 88.0h0M552.1 119.9h0M564.5 93.7h0M563.9 108.3h0M570.8 124.9h0M544.6 99.8h0M576.1 102.7h0M573.4 121.1h0M527.5 91.5h0M564.2 79.3h0M554.8 92.6h0M570.7 107.0h0M536.7 78.3h0M570.9 109.4h0M568.1 116.8h0M535.4 95.0h0M565.4 75.5h0M573.1 95.7h0M572.3 120.6h0M562.2 113.1h0M565.4 106.7h0M562.6 102.0h0M549.2 105.8h0M568.3 102.5h0M571.7 106.1h0M545.7 111.9h0M538.2 71.5h0M567.0 73.8h0M572.1 105.3h0M569.8 83.6h0M555.3 103.2h0M557.2 71.0h0M551.6 105.2h0M552.2 54.8h0M556.9 113.4h0M559.3 104.0h0M564.7 101.9h0M572.9 120.2h0M552.2 97.6h0M561.3 118.7h0M552.2 74.4h0M557.1 95.6h0M564.7 107.4h0M557.6 118.3h0M573.6 122.0h0M565.4 71.7h0M556.9 37.7h0M538.8 102.5h0M556.1 119.4h0M557.5 75.5h0M541.6 102.2h0M570.4 71.5h0M567.2 86.1h0M567.2 102.2h0M567.4 107.1h0M545.8 101.1h0M549.8 122.3h0M561.5 91.6h0M532.3 116.5h0M567.4 111.8h0M569.8 105.0h0M546.5 92.8h0M565.9 50.8h0M546.3 97.5h0M554.1 110.5h0M568.8 107.7h0M537.3 124.6h0M545.7 87.4h0M558.5 98.0h0M576.6 118.2h0M572.6 111.2h0M550.7 104.7h0M560.8 119.2h0M566.4 107.0h0M558.0 111.3h0M564.7 75.4h0M566.8 79.2h0M574.0 102.8h0M526.1 79.4h0M562.1 121.8h0M574.5 104.5h0M540.9 115.0h0M559.0 121.4h0M547.3 114.2h0M561.2 25.5h0M570.5 99.4h0M546.6 103.7h0M566.6 117.0h0M573.3 119.7h0M569.8 85.1h0M565.4 108.4h0M546.7 110.3h0M567.7 109.3h0M566.6 90.5h0M555.1 68.8h0M568.4 97.3h0M556.5 105.6h0M554.0 78.5h0M564.4 100.3h0M561.2 113.2h0M566.1 108.8h0M541.1 113.6h0M564.8 103.4h0M550.5 91.3h0M557.4 122.0h0M577.1 118.8h0M563.6 124.9h0M563.1 82.9h0M558.5 101.9h0M560.6 121.8h0M569.4 111.8h0M556.8 109.3h0M545.5 68.7h0M547.9 113.2h0M546.3 77.2h0M556.7 101.1h0M566.5 118.8h0M556.7 106.8h0M518.9 115.2h0M575.2 109.9h0M543.6 82.0h0M568.4 108.3h0M547.4 53.2h0M555.2 97.0h0M563.6 108.1h0M561.6 99.3h0M577.2 125.0h0M559.0 30.3h0M529.2 104.4h0M569.2 112.8h0M565.9 47.5h0M565.0 116.7h0M549.8 88.2h0M550.5 53.9h0M547.2 110.4h0M569.4 118.2h0M560.2 124.2h0M556.2 90.8h0M541.6 67.4h0M538.1 73.2h0M565.0 102.1h0M557.0 110.7h0M519.6 120.9h0M566.5 94.1h0M530.8 71.1h0M567.9 68.3h0M540.1 91.6h0M568.9 113.6h0M567.2 96.0h0M566.9 109.2h0M558.2 115.5h0M548.4 100.0h0M572.0 97.6h0M536.2 84.6h0M560.6 66.0h0M562.5 93.9h0M574.3 110.4h0M555.7 99.9h0M547.6 81.6h0M561.6 83.0h0M571.8 103.2h0M574.2 124.0h0M567.6 122.1h0M571.4 84.5h0M561.2 94.7h0M558.6 117.3h0M574.3 122.6h0M547.4 100.0h0M567.8 95.9h0M553.9 119.2h0M564.3 57.8h0M555.4 102.7h0M549.9 119.4h0M559.6 113.3h0M557.8 109.0h0M555.3 101.1h0M569.5 57.7h0M529.0 115.7h0M566.0 108.2h0M556.2 108.6h0M564.8 106.4h0M557.1 98.7h0M574.3 119.3h0M554.5 107.1h0M551.9 111.7h0M561.1 114.3h0M574.9 95.3h0M571.3 119.7h0M572.3 112.6h0M565.4 107.5h0M570.8 115.1h0M571.9 117.2h0M571.7 121.8h0M559.3 88.5h0M559.3 85.0h0M545.3 97.7h0M573.9 100.6h0M544.6 105.6h0M565.3 116.7h0M555.4 57.3h0M541.8 101.4h0M565.5 121.8h0M560.8 122.7h0M561.3 50.1h0M537.8 101.2h0M563.5 87.2h0M567.0 106.5h0M575.0 116.3h0M541.5 105.8h0M542.7 96.1h0M571.7 114.6h0M546.1 91.1h0M566.4 97.2h0M538.0 107.7h0M559.5 105.9h0M573.1 117.6h0M572.2 102.0h0M558.3 119.1h0M558.4 99.7h0M564.3 91.8h0M556.7 83.9h0M569.9 88.1h0M563.3 115.8h0M555.6 112.8h0M569.8 115.3h0M538.3 92.3h0M571.2 107.7h0M516.0 96.3h0M557.2 106.5h0M549.2 91.8h0M558.0 117.8h0M573.1 87.9h0M568.9 122.1h0M548.1 101.1h0M567.3 85.4h0M566.8 114.2h0M570.9 100.4h0M567.2 96.9h0M561.4 116.0h0M569.1 81.8h0M559.4 118.1h0M538.3 106.5h0M557.6 94.1h0M574.6 123.5h0M555.9 120.6h0M559.0 115.9h0M571.5 104.8h0M568.2 49.6h0M565.0 120.9h0M568.7 118.4h0M573.4 104.7h0M555.8 79.6h0M536.3 113.3h0M555.3 113.5h0M558.6 69.9h0M560.2 108.5h0M576.1 118.6h0M563.1 108.9h0M575.8 115.7h0M543.4 96.6h0M539.3 112.1h0M562.4 101.2h0M538.1 85.1h0M547.6 108.8h0M571.9 90.5h0M569.6 108.9h0M559.1 117.5h0M558.9 120.9h0M543.5 91.4h0M541.0 98.6h0M545.7 86.1h0M569.2 94.6h0M569.0 122.6h0M563.4 106.7h0M560.6 117.8h0M562.7 102.7h0M556.3 119.5h0M522.7 81.7h0M566.0 93.7h0M515.3 117.9h0M562.5 75.7h0M568.9 111.6h0M555.7 122.6h0M576.2 105.1h0M531.2 85.4h0M562.0 125.2h0M574.6 99.7h0M554.6 88.5h0M548.1 97.0h0M568.1 114.2h0M576.1 107.9h0M571.8 111.1h0M557.3 101.3h0M548.9 110.2h0M562.5 82.7h0M553.4 112.1h0M557.4 114.4h0M549.3 115.1h0M551.6 115.9h0M576.7 113.6h0M572.2 119.4h0M536.8 117.3h0M552.3 116.2h0M524.2 98.4h0M564.9 103.4h0M560.3 110.6h0M560.2 106.3h0M555.4 110.6h0M536.0 99.7h0M564.6 53.3h0M574.0 115.7h0M572.2 78.8h0M560.7 96.3h0M568.6 103.1h0M575.5 113.1h0M568.7 105.6h0M549.0 105.8h0M541.7 101.7h0M559.3 95.4h0M562.9 118.4h0M549.5 101.4h0M559.7 99.5h0M573.6 113.7h0M572.7 95.6h0M565.6 116.6h0M550.6 72.8h0M565.3 122.1h0M557.9 119.6h0M533.4 124.4h0M574.2 108.2h0M538.0 90.4h0M560.1 120.1h0M567.7 121.4h0M561.0 73.3h0M565.4 125.4h0M567.3 124.8h0M573.5 117.1h0M576.9 117.0h0M573.3 117.5h0M531.0 101.1h0M561.0 93.4h0M532.0 118.9h0M563.6 93.0h0M563.0 76.6h0M557.3 105.5h0M548.5 115.5h0M566.0 123.5h0M575.0 121.7h0M576.7 116.2h0M562.8 82.6h0M539.0 115.8h0M558.5 107.3h0M532.0 69.9h0M544.6 116.9h0M553.3 112.8h0M572.1 94.8h0M573.8 100.6h0M569.6 112.4h0M557.1 102.2h0M567.7 121.7h0M541.5 106.7h0M574.7 115.3h0M566.2 96.7h0M572.9 93.9h0M542.7 93.3h0M534.0 113.7h0M522.6 99.7h0M554.2 83.6h0M562.1 89.0h0M552.9 103.0h0M564.6 75.3h0M564.7 73.0h0M567.7 122.6h0M552.6 87.9h0M554.8 125.3h0M565.9 107.9h0M568.3 119.0h0M542.0 102.9h0M574.2 123.1h0M572.8 113.3h0M550.0 102.0h0M569.9 96.3h0M559.0 96.6h0M559.5 116.7h0M563.2 112.2h0M562.9 32.3h0M566.3 118.1h0M564.6 101.1h0M567.0 100.9h0M570.1 121.8h0M559.1 115.2h0M534.7 86.5h0M572.1 118.1h0M570.6 90.7h0M569.0 120.5h0M569.4 107.9h0M570.7 101.0h0M570.0 112.3h0M573.9 91.0h0M566.3 106.0h0M546.0 84.6h0M575.2 119.0h0M571.7 96.0h0M545.1 88.2h0M563.0 68.6h0M549.7 104.3h0M537.6 110.3h0M565.5 105.8h0M565.0 99.1h0M549.2 115.5h0M562.9 113.7h0M574.9 108.8h0M564.8 102.1h0M563.8 105.8h0M562.3 107.6h0M574.9 106.2h0M560.6 93.6h0M553.7 115.3h0M564.0 97.6h0M570.7 115.3h0M568.4 120.4h0M545.8 107.4h0M567.3 120.0h0M572.1 70.6h0M568.2 89.4h0M568.7 98.9h0M543.7 119.3h0M550.0 59.0h0M523.1 70.0h0M571.3 111.5h0M570.6 111.2h0M562.1 93.9h0M540.6 57.8h0M566.2 123.9h0M563.1 110.4h0M545.3 100.0h0M545.7 105.5h0M562.4 113.3h0M558.4 92.5h0M557.5 60.6h0M557.6 76.0h0M545.6 84.9h0M570.7 121.8h0M544.3 95.9h0M553.0 86.7h0M551.7 118.1h0M573.2 111.3h0M554.3 119.2h0M563.4 125.0h0M530.9 97.1h0M569.5 109.1h0M570.8 109.1h0M573.7 116.3h0M555.8 121.5h0M542.5 105.0h0M558.7 101.6h0M549.9 88.3h0M546.6 121.9h0M564.4 118.4h0M559.3 103.3h0M571.1 116.6h0M570.9 97.2h0M569.2 94.9h0M558.7 96.1h0M575.5 107.5h0M548.8 122.0h0M569.1 114.1h0M571.2 76.4h0M556.1 118.9h0M563.0 102.8h0M560.8 72.8h0M564.4 119.2h0M564.6 119.3h0M570.6 100.8h0M569.5 125.7h0M549.1 77.9h0M565.8 120.5h0M546.1 78.1h0M566.0 91.3h0M553.7 78.5h0M545.6 94.0h0M565.7 125.5h0M566.8 75.3h0M547.8 57.7h0M562.5 112.0h0M570.2 104.0h0M560.0 98.8h0M538.2 113.2h0M563.3 101.6h0M569.5 107.8h0M567.8 114.0h0M560.5 108.7h0M562.2 105.0h0M557.4 124.5h0M541.9 87.7h0M574.1 105.3h0M575.4 122.3h0M566.7 107.3h0M565.2 114.8h0M576.3 121.1h0M531.0 70.8h0M560.0 88.1h0M549.8 96.5h0M528.5 102.6h0M569.1 62.4h0M569.2 108.3h0M535.6 106.8h0M557.7 102.1h0M536.5 99.9h0M574.3 119.5h0M572.5 92.5h0M575.6 115.0h0M559.8 73.5h0M565.3 108.0h0M554.3 111.4h0M568.9 96.3h0M552.8 68.3h0M529.7 89.0h0M560.9 109.0h0M565.5 99.8h0M554.3 119.0h0M535.3 100.0h0M542.2 125.9h0M567.7 96.3h0M562.6 91.4h0M555.5 104.0h0M550.2 119.8h0M570.7 96.3h0M568.3 112.1h0M550.2 110.8h0M563.7 97.7h0M567.5 117.8h0M551.4 117.6h0M521.8 118.2h0" stroke="#0000ff" stroke-width="2.55" stroke-linecap="round" fill="none"/><path d="M591.6 90.9h0M599.2 113.3h0M604.6 120.7h0M608.8 108.6h0M590.3 116.3h0M586.2 118.9h0M590.2 108.6h0M593.6 122.5h0M600.2 74.8h0M589.3 108.8h0M588.0 106.8h0M593.3 112.4h0M595.4 109.1h0M593.2 83.1h0M594.0 123.4h0M609.6 117.5h0M600.5 100.3h0M636.1 109.0h0M592.1 116.9h0M587.1 121.3h0M616.3 102.8h0M593.5 113.6h0M595.7 115.7h0M587.5 118.3h0M603.3 86.6h0M593.5 121.2h0M599.7 51.0h0M592.3 85.3h0M592.4 108.0h0M587.0 108.5h0M587.4 125.4h0M605.1 119.7h0M620.5 111.2h0M599.5 117.8h0M607.0 118.1h0M599.5 65.4h0M586.6 124.7h0M591.8 105.1h0M595.1 124.3h0M604.1 75.3h0M595.1 88.7h0M589.8 108.2h0M596.9 114.6h0M600.9 74.6h0M587.7 112.3h0M590.6 109.4h0M594.7 114.2h0M588.1 112.7h0M589.2 99.2h0M631.0 108.1h0M591.6 116.0h0M588.7 123.1h0M612.0 105.4h0M592.8 94.2h0M601.0 100.1h0M590.9 96.1h0M601.5 64.4h0M592.9 115.8h0M591.2 122.5h0M590.4 111.7h0M600.6 118.5h0M594.9 119.3h0M594.5 106.4h0M605.6 123.7h0M592.3 102.7h0M597.9 116.3h0M592.4 124.4h0M603.6 73.6h0M600.6 102.9h0M595.8 110.9h0M594.1 89.8h0M597.0 74.6h0M605.3 78.6h0M603.5 122.5h0M592.3 116.1h0M605.8 117.0h0M592.9 103.9h0M600.0 120.3h0M596.8 113.4h0M590.1 97.1h0M596.4 106.7h0M597.8 97.5h0M592.7 114.0h0M587.8 100.8h0M633.5 85.8h0M607.1 124.9h0M590.1 112.3h0M591.1 78.2h0M593.9 108.8h0M603.9 91.2h0M593.0 112.1h0M602.0 123.4h0M600.7 99.4h0M591.1 101.4h0M600.4 95.6h0M588.5 120.7h0M593.4 121.9h0M589.9 117.5h0M589.2 98.0h0M598.3 84.9h0M587.5 112.6h0M594.7 119.8h0M595.3 78.7h0M594.2 120.6h0M589.4 116.0h0M591.0 98.7h0M592.3 126.0h0M588.0 108.2h0M590.4 112.1h0M588.5 104.6h0M594.3 119.3h0M591.5 96.7h0M590.7 118.0h0M590.3 104.8h0M590.0 113.3h0M600.8 109.6h0M592.1 89.1h0M586.8 121.8h0M586.7 122.1h0M588.0 109.5h0M601.8 124.0h0M589.5 112.2h0M597.9 112.4h0M623.6 117.3h0M590.3 118.3h0M596.6 76.4h0M594.4 105.9h0M612.6 90.5h0M593.8 78.1h0M588.9 105.4h0M609.1 115.7h0M593.5 108.6h0M586.9 120.4h0M591.9 99.5h0M598.3 81.9h0M598.0 112.4h0M608.3 88.4h0M606.1 108.4h0M595.1 70.2h0M593.3 121.7h0M591.5 115.4h0M595.8 100.1h0M595.3 119.9h0M590.6 106.1h0M598.9 87.9h0M593.0 98.3h0M603.2 117.2h0M589.6 119.9h0M591.3 124.6h0M596.4 118.7h0M605.3 68.8h0M594.7 80.9h0M591.1 112.9h0M591.2 96.9h0M602.4 100.9h0M594.6 105.2h0M585.4 124.9h0M589.2 122.1h0M613.3 93.0h0M590.2 123.0h0M588.5 123.0h0M592.6 123.5h0M599.9 115.7h0M601.1 126.0h0M609.3 119.0h0M596.4 104.1h0M586.8 115.4h0M601.7 85.5h0M594.3 117.8h0M592.3 122.1h0M614.7 112.3h0M592.9 104.1h0M591.8 99.6h0M603.9 112.3h0M592.6 116.2h0M591.8 116.0h0M587.0 125.2h0M592.7 115.2h0M609.3 113.5h0M588.4 111.8h0M593.5 88.5h0M591.9 105.5h0M610.2 101.3h0M599.6 75.3h0M593.0 109.1h0M590.9 93.9h0M592.9 118.5h0M595.9 112.8h0M596.1 105.6h0M590.2 108.5h0M602.5 99.8h0M613.4 119.1h0M587.9 120.2h0M591.0 85.7h0M604.0 105.6h0M593.9 116.1h0M590.6 97.1h0M598.5 123.6h0M593.7 101.9h0M597.5 109.6h0M590.8 120.4h0M588.3 113.6h0M611.6 100.1h0M595.5 123.3h0M598.9 100.3h0M593.0 78.1h0M586.2 123.7h0M599.2 58.7h0M595.5 91.7h0M593.6 113.5h0M592.7 92.5h0M587.5 104.5h0M587.5 104.7h0M590.2 112.4h0M595.4 119.0h0M594.6 95.9h0M612.3 125.1h0M594.0 116.3h0M598.3 124.3h0M601.2 123.0h0M589.6 90.9h0M604.0 107.6h0M621.0 116.6h0M609.5 99.3h0M605.8 105.8h0M589.7 104.3h0M594.4 106.2h0M587.2 113.9h0M592.8 74.9h0M590.4 102.4h0M603.3 73.0h0M594.0 100.9h0M593.9 109.5h0M591.3 122.4h0M596.0 82.7h0M607.9 113.4h0M594.8 120.8h0M633.9 124.6h0M589.7 100.3h0M597.4 88.2h0M595.1 125.3h0M586.7 120.5h0M589.6 121.3h0M589.0 98.4h0M588.3 112.9h0M591.4 118.1h0M589.0 105.8h0M595.1 117.6h0M594.4 94.7h0M597.6 119.5h0M594.8 116.8h0M592.8 75.3h0M603.1 114.7h0M597.3 72.0h0M588.5 102.3h0M614.5 75.4h0M593.4 106.6h0M610.6 98.9h0M589.7 114.8h0M593.3 78.0h0M588.7 110.6h0M597.5 76.9h0M590.5 109.3h0M612.5 97.4h0M592.1 106.1h0M595.8 86.9h0M598.2 97.0h0M589.4 117.4h0M594.5 114.1h0M596.9 113.2h0M600.6 112.3h0M603.7 109.2h0M588.1 115.9h0M601.3 81.7h0M594.1 97.5h0M588.5 119.6h0M606.9 107.0h0M589.0 119.0h0M588.0 115.0h0M596.1 104.0h0M593.7 69.3h0M590.6 108.2h0M589.8 108.5h0M601.5 96.9h0M595.0 71.9h0M594.0 106.3h0M590.8 94.6h0M588.0 123.0h0M592.4 96.9h0M592.4 112.2h0M588.2 116.5h0M596.7 75.0h0M590.9 102.7h0M593.4 111.6h0M590.2 102.6h0M590.2 105.3h0M588.4 110.7h0M589.6 117.6h0M588.9 117.1h0M590.1 108.4h0M592.2 103.3h0M588.1 107.7h0M590.5 117.0h0M589.7 113.3h0M606.5 108.6h0M586.9 115.8h0M590.9 93.4h0M587.6 115.2h0M595.4 124.0h0M592.9 117.3h0M587.0 120.2h0M592.4 116.4h0M613.5 89.1h0M600.8 106.3h0M590.5 93.9h0M587.4 114.1h0M599.7 98.9h0M592.6 117.6h0M606.4 91.2h0M589.1 108.6h0M592.5 116.8h0M600.9 100.7h0M588.3 122.9h0M585.8 121.1h0M596.2 116.4h0M592.6 104.1h0M591.4 89.1h0M586.7 117.1h0M591.7 113.6h0M602.5 90.1h0M590.8 118.9h0M602.2 96.5h0M597.6 113.8h0M602.8 117.0h0M611.3 120.3h0M593.3 115.0h0M589.6 111.0h0M597.9 103.5h0M589.2 101.1h0M612.6 124.8h0M599.0 70.6h0M601.7 103.8h0M593.5 74.1h0M591.8 111.1h0M597.7 125.9h0M620.5 100.2h0M593.6 98.2h0M587.3 112.4h0M595.1 103.1h0M596.6 102.9h0M589.5 94.1h0M587.8 122.3h0M620.7 122.8h0M590.5 122.7h0M596.4 115.7h0M592.2 104.8h0M590.9 108.6h0M586.5 113.1h0M593.9 121.3h0M590.5 108.6h0M587.2 111.5h0M590.8 123.1h0M612.0 118.1h0M590.2 98.7h0M590.4 91.5h0M589.1 113.5h0M596.8 94.0h0M594.3 115.7h0M589.3 120.7h0M590.8 116.7h0M596.3 105.8h0M593.6 92.8h0M593.4 106.4h0M592.5 102.5h0M593.0 121.6h0M590.7 124.0h0M594.0 114.2h0M596.8 115.3h0M610.4 91.0h0M586.1 122.0h0M594.3 109.2h0M594.5 116.9h0M594.9 123.3h0M589.1 119.1h0M595.0 121.9h0M591.7 112.8h0M598.8 116.5h0M600.2 105.2h0M600.6 115.7h0M591.4 115.9h0M593.0 118.2h0M625.1 115.6h0M594.9 119.4h0M592.8 110.4h0M594.1 101.4h0M592.7 120.7h0M598.8 82.9h0M590.0 117.0h0M593.7 116.0h0M598.9 105.2h0M607.2 43.4h0M587.5 121.6h0M595.5 112.7h0M590.5 124.5h0M595.8 121.1h0M592.1 96.3h0M591.8 118.5h0M603.1 110.5h0M606.1 115.8h0M605.2 72.6h0M598.9 99.5h0M600.4 99.9h0M595.2 92.4h0M592.0 120.6h0M605.6 102.8h0M625.2 106.1h0M587.7 103.1h0M595.2 58.3h0M592.0 119.9h0M613.1 84.0h0M588.7 119.1h0M585.6 124.7h0M609.6 72.7h0M588.0 117.7h0M599.5 68.0h0M593.0 88.2h0M590.1 106.6h0M595.3 82.8h0M597.0 98.1h0M605.7 123.5h0M592.7 120.0h0M603.0 125.4h0M588.5 107.4h0M598.9 121.3h0M593.6 115.6h0M591.4 101.4h0M590.4 115.2h0M617.9 119.8h0M590.2 105.7h0M595.2 108.3h0M591.6 96.8h0M589.2 94.0h0M593.1 101.8h0M601.9 100.1h0M619.8 69.2h0M591.6 113.1h0M588.9 121.1h0M595.2 99.2h0M589.6 116.2h0M590.1 117.0h0M586.7 120.5h0M607.8 90.1h0M600.7 98.8h0M586.1 118.7h0M626.5 112.9h0M598.6 98.5h0M589.1 114.7h0M586.7 123.7h0M591.3 104.0h0M591.9 100.4h0M599.5 90.1h0M593.9 75.0h0M588.2 120.6h0M592.7 110.4h0M607.6 117.9h0M590.5 107.4h0M587.4 121.0h0M600.3 109.6h0M593.4 122.2h0M630.3 24.3h0M604.2 121.1h0M593.9 118.7h0M596.5 98.9h0M597.1 108.3h0M595.6 103.4h0M607.3 104.1h0M587.6 102.9h0M586.4 118.7h0M591.9 120.2h0M594.5 116.1h0M605.8 122.3h0M597.1 112.1h0M587.0 124.1h0M597.6 118.3h0M587.4 117.9h0M590.7 95.5h0M594.4 66.9h0M596.9 98.9h0M603.0 106.9h0M589.6 102.8h0M595.3 97.7h0M586.2 121.6h0M593.2 104.3h0M598.5 117.4h0M603.0 98.9h0M596.2 104.4h0M587.3 117.7h0M597.0 106.8h0M595.9 125.0h0M598.3 119.6h0M588.5 100.5h0M605.7 86.1h0M594.2 116.5h0M598.7 98.0h0M615.5 87.7h0M598.3 89.2h0M587.1 112.9h0M592.2 108.6h0M601.0 86.6h0M602.4 120.4h0M591.8 75.5h0M606.2 91.4h0M599.4 115.3h0M588.5 113.1h0M614.2 109.4h0M602.4 99.9h0M589.4 98.3h0M597.0 99.6h0M605.1 87.8h0M596.8 113.5h0M591.7 117.7h0M595.1 99.6h0M621.4 93.7h0M587.9 111.8h0M589.5 125.2h0M588.6 118.3h0M586.6 111.7h0M597.0 98.2h0M592.7 64.9h0M587.2 112.6h0M587.2 123.9h0M593.6 113.4h0M597.5 76.3h0M590.8 96.3h0M595.1 105.0h0M588.7 106.8h0M592.9 107.8h0M606.0 81.2h0M595.0 110.1h0M596.7 108.5h0M591.9 90.5h0M590.0 123.7h0M587.5 114.9h0M590.2 107.8h0M596.2 110.1h0M591.9 118.9h0M590.8 122.8h0M595.7 114.6h0M586.6 113.0h0M605.8 100.1h0M597.5 117.0h0M602.9 125.3h0M590.2 123.7h0M595.2 117.5h0M616.8 125.7h0M589.6 111.6h0M592.1 118.9h0M591.5 117.6h0M609.6 62.9h0M600.6 95.0h0M606.4 113.7h0M590.1 112.6h0M644.7 114.2h0M610.2 117.8h0M589.8 124.5h0M598.2 115.6h0M594.6 111.2h0M592.6 116.3h0M599.2 73.1h0M620.6 106.7h0M604.9 122.1h0M617.1 92.7h0M591.0 89.8h0M592.2 84.2h0M598.8 114.9h0M596.9 112.2h0M596.6 118.9h0M590.0 121.6h0M592.0 107.7h0M592.1 74.4h0M590.7 116.5h0M594.3 123.1h0M589.4 92.0h0M587.4 119.9h0M588.9 103.8h0M611.5 113.3h0M595.2 119.8h0M598.3 106.6h0M607.5 113.1h0M587.7 117.1h0M599.0 111.2h0M593.2 83.4h0M593.3 114.5h0M616.9 84.9h0M591.5 114.9h0M594.5 97.2h0M588.4 125.3h0M616.1 105.0h0M619.4 112.7h0M601.3 120.0h0M608.9 119.9h0M586.9 123.5h0M589.8 122.5h0M611.0 96.7h0M596.2 89.8h0M595.7 75.3h0M591.0 115.3h0M598.1 60.7h0M587.2 114.6h0M590.0 104.3h0M593.6 120.3h0M595.1 99.0h0M613.8 98.5h0M596.8 100.9h0M605.5 109.2h0M588.6 111.3h0M616.1 38.6h0M591.1 114.8h0M624.8 96.2h0M588.7 107.7h0M595.7 87.3h0M595.0 98.9h0M589.3 96.6h0M599.4 110.1h0M600.6 55.9h0M597.2 116.7h0M597.4 108.1h0M588.4 108.0h0M598.3 77.5h0M599.5 116.6h0M590.2 109.9h0M591.9 107.0h0M625.1 99.8h0M591.9 101.1h0M594.7 102.7h0M605.2 94.1h0M587.4 118.0h0M597.1 112.5h0M596.2 91.5h0M602.2 100.4h0M601.7 106.3h0M596.4 119.8h0M614.4 88.4h0M592.6 114.1h0M594.3 116.6h0M610.7 115.1h0M616.3 91.2h0M590.5 101.0h0M599.4 108.2h0M609.2 110.7h0M588.2 109.4h0M589.5 116.8h0M591.1 112.1h0M589.8 121.3h0M590.3 116.6h0M591.2 85.9h0M602.1 98.1h0M586.3 123.0h0M593.3 123.1h0M591.3 109.6h0M589.2 123.8h0M602.8 93.2h0M595.2 95.3h0M593.1 118.4h0M596.2 80.7h0M588.4 95.6h0M588.9 117.2h0M595.7 42.5h0M610.2 106.0h0M590.5 117.2h0M596.2 100.0h0M595.8 107.8h0M591.0 117.2h0M588.6 108.8h0M600.2 87.0h0M603.0 84.6h0M593.2 110.3h0M587.0 108.5h0M598.7 100.4h0M591.1 105.3h0M590.7 117.9h0M591.1 92.8h0M586.0 124.4h0M598.0 78.7h0M599.1 111.3h0M590.5 103.7h0M591.9 92.0h0M597.0 101.2h0M596.7 64.8h0M591.5 120.8h0M602.4 107.1h0M593.1 108.1h0M590.0 123.2h0M590.5 116.2h0M595.5 116.7h0M587.8 113.0h0M615.4 87.1h0M592.1 98.4h0M600.0 119.3h0M589.3 103.9h0M593.5 120.2h0M594.2 106.3h0M591.0 120.4h0M602.8 86.8h0M617.6 79.1h0M588.0 113.5h0M592.9 107.7h0M593.2 116.7h0M588.7 112.3h0M600.4 123.1h0M590.0 122.0h0M588.1 116.1h0M593.1 106.0h0M593.4 121.1h0M595.9 116.3h0M593.7 112.4h0M593.8 122.2h0M603.1 115.1h0M608.0 114.4h0M590.8 117.3h0M596.7 114.0h0M586.5 124.1h0M587.5 117.0h0M592.5 113.6h0M591.3 108.6h0M615.6 120.8h0M603.9 74.8h0M594.4 107.9h0M604.3 80.1h0M590.9 86.4h0M590.4 118.7h0M601.5 114.8h0M604.5 68.1h0M595.0 112.3h0M591.9 92.1h0M593.9 116.9h0M601.4 108.2h0M597.4 108.2h0M600.8 109.7h0M612.4 108.4h0M608.2 99.9h0M596.4 104.6h0M600.0 107.4h0M603.9 119.2h0M590.4 105.9h0M594.6 114.7h0M599.1 98.7h0M608.2 117.9h0M612.1 116.8h0M593.5 123.4h0M610.5 71.2h0M603.7 112.7h0M594.0 111.4h0M594.4 103.9h0M589.2 107.9h0M598.4 113.1h0M597.5 115.9h0M597.9 121.5h0M593.3 85.5h0M587.4 117.0h0M586.4 122.7h0M590.9 112.5h0M597.7 124.3h0M597.7 91.4h0M598.8 115.1h0M599.3 118.5h0M589.0 98.3h0M601.0 94.5h0M590.3 112.1h0M589.3 104.9h0M588.3 106.5h0M597.7 116.9h0M591.5 115.7h0M599.1 102.9h0M614.2 112.6h0M606.3 60.9h0M600.1 118.5h0M593.0 104.5h0M605.0 110.9h0M588.3 112.4h0M592.5 106.3h0M590.8 117.9h0M598.2 113.1h0M593.7 99.8h0M604.6 112.2h0M593.1 108.4h0M589.8 96.3h0M600.0 112.9h0M589.1 124.8h0M604.0 113.6h0M596.3 115.8h0M599.4 84.7h0M600.5 97.1h0M595.8 110.6h0M594.5 123.5h0M597.8 59.6h0M604.3 92.0h0M595.1 100.4h0M594.7 109.1h0M596.4 120.2h0M605.8 108.9h0M590.5 101.6h0M595.2 105.5h0M590.7 102.1h0M589.5 92.4h0M595.8 109.0h0M589.2 106.3h0M600.4 76.2h0M608.0 87.0h0M590.9 89.6h0M600.4 109.1h0M601.9 72.8h0M598.7 119.8h0M591.6 97.5h0M589.8 105.8h0M592.6 111.7h0M586.5 120.8h0M587.3 121.3h0M591.0 108.9h0M617.5 111.4h0M595.9 113.2h0M586.7 118.0h0M598.8 110.0h0M590.0 95.9h0M589.6 107.7h0M591.4 125.2h0M604.9 108.9h0M594.5 100.9h0M599.9 110.0h0M595.6 103.1h0M591.2 117.5h0M592.8 122.6h0M604.7 102.0h0M597.2 79.5h0M595.5 91.9h0M596.6 105.4h0M591.1 110.0h0M592.6 98.2h0M605.5 115.4h0M602.8 57.4h0M603.0 95.0h0M591.4 118.2h0M601.0 116.3h0M592.7 88.3h0M594.9 67.2h0M594.7 109.1h0M594.1 116.9h0M589.8 111.7h0M596.9 86.1h0M597.0 120.9h0M595.8 97.8h0M593.5 116.4h0M599.8 95.8h0M588.5 115.8h0M592.1 117.8h0M607.4 114.0h0M606.6 107.1h0M600.2 69.2h0M594.5 92.4h0M594.3 95.7h0M587.2 121.3h0M590.3 106.6h0M594.4 112.3h0M589.8 110.0h0M599.2 110.6h0M590.5 100.0h0M597.4 71.8h0M589.4 118.8h0M595.9 103.1h0M586.9 113.1h0M592.0 103.0h0M588.5 116.9h0M613.2 108.4h0M592.5 108.5h0M596.4 109.0h0M607.2 96.1h0M587.0 114.8h0M588.0 107.3h0M607.9 118.8h0M598.4 108.7h0M596.6 95.7h0M590.9 98.8h0M592.7 103.1h0M603.6 121.9h0M597.6 118.4h0M592.3 97.9h0M588.4 125.0h0M597.8 45.7h0M592.5 105.5h0M588.1 114.7h0M592.6 116.5h0M618.0 122.2h0M594.0 80.2h0M595.8 116.0h0M590.8 119.6h0M588.2 114.0h0M588.7 109.2h0M608.7 106.7h0M605.0 110.5h0M591.0 111.7h0M592.2 92.8h0M595.5 109.4h0M585.5 124.7h0M587.5 109.6h0M616.2 97.9h0M597.8 89.5h0M590.5 121.6h0M592.5 107.4h0M596.1 105.6h0M589.1 103.9h0M590.9 95.2h0M592.1 115.9h0M592.2 101.5h0M594.0 80.7h0M597.2 112.9h0M587.4 116.4h0M589.5 105.5h0M595.9 98.4h0M593.5 114.4h0M597.7 102.6h0M599.3 88.0h0M601.5 109.8h0M587.1 119.2h0M595.2 82.9h0M594.7 79.5h0M616.5 64.6h0M599.6 114.4h0M591.8 117.0h0M591.0 103.0h0M589.1 103.0h0M589.9 115.4h0M605.7 118.9h0M594.4 103.1h0M603.1 124.1h0M618.5 107.5h0M593.0 89.7h0M590.3 120.5h0M591.6 86.9h0M597.2 77.1h0M605.9 54.0h0M590.5 116.5h0M596.7 110.2h0M596.1 101.5h0M591.0 116.5h0M592.9 79.2h0M592.8 111.3h0M586.7 118.5h0M592.3 102.0h0M603.1 95.2h0M596.3 123.4h0M595.9 118.2h0M593.6 117.2h0M592.4 116.9h0M589.5 97.6h0M593.4 120.8h0M593.5 95.4h0M597.0 125.7h0M597.8 82.5h0M591.4 81.9h0M606.5 116.3h0M594.6 117.6h0M596.6 120.5h0M588.1 115.1h0M588.8 115.0h0M593.7 118.7h0M598.4 90.6h0M588.8 107.3h0M587.6 122.0h0M593.2 109.8h0M591.5 107.6h0M608.0 117.0h0M609.0 88.2h0M589.0 125.3h0M601.7 111.3h0M603.6 114.7h0M598.3 121.2h0M597.8 104.2h0M587.2 118.4h0M597.4 40.8h0M598.3 103.9h0M597.7 99.0h0M590.7 115.2h0M591.9 105.5h0M589.1 101.9h0M601.5 90.8h0M612.7 109.0h0M600.4 109.6h0M592.7 83.5h0M593.1 125.1h0M598.9 117.0h0M588.8 123.9h0M589.8 120.8h0M591.4 115.6h0M601.5 102.7h0M596.2 114.3h0M588.9 125.0h0M602.2 103.5h0M613.1 110.8h0M591.5 110.6h0M597.8 99.0h0M602.9 83.8h0M593.0 103.6h0M593.1 104.5h0M595.2 84.3h0M597.3 114.6h0M603.4 116.1h0M601.3 97.1h0M590.7 102.5h0M604.4 116.3h0M595.2 115.2h0M613.3 112.0h0M590.9 125.9h0M595.3 111.4h0M590.6 107.9h0M592.4 106.8h0M586.7 122.6h0M588.7 110.9h0M618.6 82.4h0M591.8 114.3h0M590.9 106.9h0M591.9 103.7h0M589.5 109.2h0M587.2 124.6h0M595.5 95.7h0M591.0 110.4h0M590.3 119.5h0M592.3 122.3h0M586.8 116.3h0M588.5 121.6h0M591.3 112.1h0M591.1 102.9h0M588.8 122.8h0M599.8 89.4h0M595.6 120.5h0M593.5 92.4h0M586.0 118.1h0M602.2 38.8h0M592.3 120.1h0M605.2 120.6h0M611.3 90.4h0M604.3 125.8h0M588.1 115.5h0M598.9 65.0h0M588.8 119.4h0M595.8 108.3h0M591.7 100.9h0M602.5 93.1h0M595.5 84.5h0M610.4 83.8h0M600.7 122.8h0M588.4 122.1h0M601.9 102.8h0M588.8 114.2h0M589.3 113.1h0M590.2 108.2h0M591.5 120.2h0" stroke="#ff0000" stroke-width="2.55" stroke-linecap="round" fill="none"/><rect x="482.5" y="17.3" width="199" height="143.9" fill="none" stroke="#7a7a7a" stroke-width="1"/><rect x="482.5" y="1.5" width="199" height="15.8" fill="#d9d9d9" stroke="#555" stroke-width="0.9"/><line x1="482.5" y1="17.3" x2="681.5" y2="17.3" stroke="#444" stroke-width="1.3"/><text x="582" y="12.2" font-size="8.1" text-anchor="middle" fill="#1a1a1a">Volcano Plot</text><path d="M529.69 161.2v2.6M581.8 161.2v2.6M633.91 161.2v2.6M482.5 155.6h-2.6M482.5 110.6h-2.6M482.5 65.6h-2.6M482.5 20.6h-2.6" stroke="#333" stroke-width="0.9" fill="none"/><text x="529.69" y="172.8" font-size="8.2" text-anchor="middle" fill="#555">-3</text><text x="581.8" y="172.8" font-size="8.2" text-anchor="middle" fill="#555">0</text><text x="633.91" y="172.8" font-size="8.2" text-anchor="middle" fill="#555">3</text><text x="477.9" y="158.5" font-size="8.2" text-anchor="end" fill="#555">0</text><text x="477.9" y="113.5" font-size="8.2" text-anchor="end" fill="#555">2</text><text x="477.9" y="68.5" font-size="8.2" text-anchor="end" fill="#555">4</text><text x="477.9" y="23.5" font-size="8.2" text-anchor="end" fill="#555">6</text><text x="587.4" y="183.1" font-size="10.8" font-weight="bold" text-anchor="middle">log2 (MB/MA)</text><text transform="translate(467.6,92.1) rotate(-90)" font-size="10.8" font-weight="bold" text-anchor="middle">-log10 (p-value)</text><rect x="250.4" y="209.3" width="198.8" height="144.4" fill="#fff"/><path d="M265.9 209.3V353.7M321.9 209.3V353.7M377.9 209.3V353.7M433.9 209.3V353.7M250.4 329.68H449.2M250.4 294.43H449.2M250.4 259.18H449.2M250.4 223.93H449.2" stroke="#f2f2f2" stroke-width="0.6" fill="none"/><path d="M293.9 209.3V353.7M349.9 209.3V353.7M405.9 209.3V353.7M250.4 347.3H449.2M250.4 312.05H449.2M250.4 276.8H449.2M250.4 241.55H449.2" stroke="#ebebeb" stroke-width="1" fill="none"/><path d="M346.3 338.5h0M354.5 340.2h0M357.7 315.1h0M355.2 339.1h0M342.1 314.1h0M349.0 346.2h0M354.2 318.4h0M349.4 345.8h0M348.9 339.8h0M359.1 305.7h0M357.1 313.4h0M346.1 332.4h0M353.2 338.7h0M367.2 316.0h0M341.0 326.5h0M354.8 317.9h0M343.3 339.4h0M357.1 331.2h0M346.1 341.1h0M344.5 336.6h0M348.8 343.6h0M350.8 345.2h0M348.0 342.3h0M350.6 345.2h0M349.9 347.3h0M348.4 344.7h0M350.8 345.7h0M353.1 342.4h0M357.9 331.1h0M343.6 328.8h0M353.3 337.3h0M345.6 306.5h0M345.0 341.0h0M342.1 320.1h0M341.3 324.4h0M349.9 347.1h0M350.8 345.0h0M346.8 335.8h0M350.7 345.0h0M342.1 307.7h0M354.3 333.3h0M347.9 339.1h0M351.1 344.7h0M352.0 337.9h0M342.7 328.9h0M340.2 314.1h0M354.7 340.1h0M347.8 338.5h0M336.0 320.2h0M349.4 346.3h0M337.5 319.3h0M345.5 335.0h0M342.5 324.5h0M346.1 330.5h0M344.5 340.2h0M352.0 336.5h0M351.5 337.7h0M342.9 330.3h0M356.8 334.6h0M354.1 334.2h0M345.4 339.5h0M344.4 324.4h0M363.1 310.8h0M349.6 346.8h0M364.8 317.4h0M354.6 332.1h0M344.2 325.7h0M348.2 342.0h0M343.7 323.5h0M347.9 343.2h0M355.9 320.5h0M359.4 326.6h0M345.5 333.1h0M361.2 322.9h0M344.5 340.7h0M351.4 337.2h0M357.3 331.7h0M353.2 335.4h0M345.4 337.4h0M339.9 332.5h0M343.9 330.6h0M338.9 309.1h0M349.8 347.2h0M354.3 339.7h0M342.9 292.5h0M349.1 344.6h0M348.8 344.7h0M349.9 347.3h0M353.2 335.0h0M347.2 332.7h0M352.8 338.1h0M345.7 334.3h0M353.0 343.2h0M347.6 342.4h0M338.0 322.7h0M346.0 338.4h0M344.5 321.9h0M341.2 322.8h0M352.4 336.9h0M346.0 338.7h0M349.9 347.2h0M344.9 338.5h0M352.2 337.9h0M351.5 343.2h0M342.0 318.1h0M345.3 337.9h0M335.3 308.4h0M338.8 329.5h0M352.7 341.9h0M350.6 342.5h0M347.3 328.8h0M353.5 341.3h0M346.0 329.9h0M348.5 342.3h0M347.9 336.4h0M348.5 339.4h0M337.5 329.6h0M344.6 337.2h0M346.8 338.9h0M342.1 328.0h0M350.1 347.0h0M349.5 346.2h0M371.9 318.3h0M351.5 342.2h0M348.6 344.2h0M350.3 345.5h0M351.8 338.8h0M353.8 337.5h0M344.9 343.0h0M350.3 346.6h0M352.0 326.2h0M340.1 320.3h0M359.4 336.7h0M348.8 339.2h0M343.9 335.9h0M348.1 339.0h0M348.9 342.2h0M342.8 316.3h0M365.0 316.6h0M348.7 343.4h0M354.0 328.1h0M349.4 346.4h0M352.6 339.7h0M345.6 323.5h0M343.4 326.8h0M350.9 345.2h0M347.5 339.4h0M351.8 344.1h0M349.3 346.5h0M351.8 343.3h0M353.8 339.6h0M355.9 266.7h0M355.9 339.0h0M347.9 343.5h0M353.8 334.4h0M361.5 313.9h0M356.1 332.9h0M350.6 345.9h0M341.9 322.5h0M348.2 343.1h0M346.0 294.9h0M357.9 332.5h0M344.4 320.9h0M359.4 305.2h0M351.3 342.5h0M352.1 339.6h0M345.6 329.7h0M342.8 332.5h0M357.6 309.8h0M353.5 334.4h0M350.0 346.8h0M352.4 340.4h0M355.3 333.8h0M350.2 347.0h0M352.4 337.7h0M348.4 344.5h0M345.6 329.1h0M350.9 345.5h0M339.3 319.0h0M351.4 342.5h0M354.6 334.1h0M361.2 335.8h0M362.2 334.4h0M356.2 326.9h0M357.1 338.6h0M344.5 327.4h0M339.1 303.8h0M356.4 312.3h0M337.4 302.2h0M348.6 345.7h0M343.5 324.9h0M340.0 330.6h0M340.4 309.5h0M345.0 334.5h0M354.5 332.3h0M353.7 341.0h0M356.1 335.4h0M342.2 317.5h0M361.1 304.8h0M340.2 315.7h0M348.9 345.9h0M349.6 346.1h0M342.0 335.4h0M353.3 339.2h0M347.5 340.8h0M348.9 345.7h0M347.5 335.2h0M349.9 347.3h0M337.5 308.2h0M352.7 341.1h0M355.7 316.4h0M348.9 344.1h0M343.5 324.4h0M344.1 324.4h0M343.2 340.3h0M357.8 318.7h0M349.1 343.8h0M351.3 344.5h0M353.2 344.2h0M353.8 335.1h0M350.7 342.8h0M351.6 342.6h0M329.4 311.1h0M347.8 340.2h0M346.2 337.5h0M338.2 328.9h0M345.5 332.0h0M346.8 340.4h0M359.5 309.7h0M342.4 325.4h0M350.0 346.8h0M342.3 324.6h0M353.2 339.1h0M340.1 313.2h0M352.1 342.7h0M349.4 345.9h0M353.4 337.9h0M345.6 340.3h0M345.2 336.5h0M353.1 337.8h0M347.8 341.5h0M357.3 340.4h0M352.3 343.6h0M354.7 329.8h0M355.1 337.7h0M342.9 335.1h0M348.2 340.7h0M346.9 342.2h0M352.8 340.3h0M344.8 328.8h0M346.2 338.8h0M343.0 329.6h0M351.3 345.4h0M351.6 341.6h0M354.1 328.5h0M357.1 307.3h0M345.8 340.7h0M345.6 328.0h0M349.7 346.2h0M357.2 330.6h0M349.8 347.1h0M339.2 321.5h0M356.8 326.3h0M354.2 337.5h0M349.5 344.2h0M338.1 309.8h0M347.0 335.5h0M345.7 330.6h0M347.1 328.9h0M349.7 346.9h0M359.7 333.0h0M352.0 336.0h0M351.7 339.0h0M345.9 333.8h0M344.7 337.3h0M356.2 331.3h0M351.3 344.7h0M352.8 340.8h0M364.8 311.6h0M355.2 332.8h0M365.2 326.7h0M350.9 338.8h0M350.8 342.5h0M354.8 338.6h0M353.9 327.7h0M345.9 328.9h0M352.1 339.7h0M350.2 346.6h0M355.2 338.2h0M351.6 338.3h0M356.6 321.3h0M355.4 338.8h0M348.5 344.7h0M353.3 322.2h0M352.5 339.4h0M348.0 341.0h0M351.6 342.0h0M347.3 340.8h0M350.2 345.9h0M342.5 310.1h0M354.7 322.2h0M349.1 346.1h0M347.7 342.4h0M354.7 322.2h0M347.8 338.7h0M353.5 328.5h0M353.1 337.2h0M346.0 336.3h0M351.9 342.8h0M346.3 343.7h0M353.5 334.0h0M347.3 331.7h0M358.4 319.0h0M346.1 335.6h0M352.0 328.4h0M356.1 330.3h0M351.6 336.9h0M349.4 345.3h0M364.0 330.1h0M358.1 334.8h0M344.4 333.3h0M348.1 345.4h0M344.4 323.5h0M345.6 330.2h0M352.9 332.6h0M353.3 342.0h0M359.4 335.8h0M352.0 334.6h0M372.9 315.5h0M353.5 337.6h0M354.4 337.1h0M342.4 320.8h0M346.6 333.7h0M353.4 340.0h0M353.1 343.6h0M354.2 333.6h0M355.6 329.2h0M359.0 338.5h0M353.0 336.2h0M349.1 345.1h0M336.5 321.7h0M346.2 327.2h0M353.4 332.8h0M343.4 321.0h0M347.7 342.6h0M342.6 327.6h0M333.8 314.4h0M353.1 339.1h0M347.1 337.4h0M346.0 323.1h0M357.6 322.6h0M352.6 324.2h0M355.4 335.1h0M342.1 318.4h0M361.1 323.6h0M351.3 345.6h0M344.9 334.1h0M347.7 340.3h0M351.3 342.8h0M339.5 303.0h0M353.5 334.5h0M347.0 342.5h0M343.0 319.4h0M345.4 321.1h0M353.5 328.3h0M346.9 328.2h0M340.7 311.5h0M348.6 337.8h0M357.1 328.5h0M354.9 330.0h0M347.2 339.5h0M346.7 342.9h0M352.1 338.5h0M353.2 335.5h0M347.8 344.6h0M353.3 341.0h0M351.0 343.7h0M337.2 315.8h0M349.5 344.2h0M348.0 339.9h0M358.3 320.6h0M352.7 336.0h0M354.8 277.8h0M342.1 331.1h0M354.1 332.6h0M350.1 347.0h0M352.7 340.1h0M343.7 325.6h0M350.9 345.1h0M346.8 339.0h0M353.3 339.2h0M342.0 328.6h0M345.5 339.9h0M344.7 335.1h0M352.7 340.3h0M355.3 321.3h0M349.2 344.3h0M353.5 339.3h0M342.8 338.3h0M352.1 343.6h0M344.8 333.7h0M340.6 330.5h0M355.1 332.8h0M351.9 333.9h0M349.5 346.6h0M352.2 341.7h0M358.6 334.8h0M346.3 335.9h0M345.6 334.2h0M348.8 345.9h0M349.2 345.9h0M340.3 321.9h0M363.5 310.8h0M349.4 345.6h0M344.0 336.2h0M352.7 343.0h0M356.6 318.0h0M353.2 331.9h0M345.0 325.1h0M347.3 339.7h0M348.1 343.8h0M343.3 325.1h0M340.4 326.0h0M351.5 340.3h0M346.3 327.7h0M338.2 321.1h0M358.8 326.5h0M349.4 345.1h0M345.7 338.1h0M344.9 334.1h0M352.1 343.4h0M357.5 316.7h0M342.5 330.1h0M350.3 346.2h0M328.5 311.7h0M358.3 328.6h0M358.3 315.9h0M352.3 328.1h0M349.5 346.3h0M357.4 334.6h0M353.1 334.9h0M348.6 341.5h0M342.6 325.0h0M358.0 328.2h0M351.9 337.0h0M353.0 341.4h0M356.2 314.1h0M353.8 326.5h0M356.7 330.4h0M346.8 323.9h0M360.2 307.0h0M353.6 310.4h0M340.1 313.5h0M347.3 341.6h0M352.5 338.7h0M359.9 330.0h0M344.7 332.3h0M351.6 343.2h0M358.2 332.6h0M351.8 344.4h0M344.8 339.0h0M350.1 346.9h0M342.9 325.4h0M348.3 341.8h0M353.3 332.7h0M352.8 338.0h0M352.3 338.6h0M350.4 345.7h0M358.0 310.8h0M346.8 321.9h0M355.8 340.8h0M349.2 345.9h0M350.6 345.7h0M347.5 343.2h0M351.7 344.0h0M354.7 336.1h0M348.7 344.4h0M349.5 346.3h0M351.2 343.0h0M344.9 326.6h0M358.6 306.8h0M345.9 332.9h0M348.8 346.3h0M350.4 345.9h0M351.5 344.8h0M342.8 287.7h0M341.9 319.9h0M345.7 332.6h0M357.4 329.7h0M353.2 337.1h0M343.4 327.9h0M350.4 344.3h0M349.4 344.0h0M352.0 343.7h0M354.8 333.4h0M350.7 346.2h0M353.7 335.9h0M356.4 319.1h0M348.4 344.9h0M344.7 329.4h0M344.7 328.6h0M349.1 343.7h0M348.0 342.3h0M347.9 339.9h0M354.6 336.7h0M341.2 314.0h0M357.5 335.6h0M351.9 334.4h0M353.1 336.2h0M353.5 340.0h0M350.4 346.8h0M351.3 340.5h0M344.3 326.3h0M346.2 334.3h0M350.8 344.1h0M353.2 331.8h0M348.7 344.6h0M345.8 339.5h0M351.9 343.6h0M350.0 347.0h0M352.7 336.4h0M352.2 339.7h0M359.0 321.0h0M350.5 345.5h0M350.5 343.1h0M351.7 342.0h0M364.0 310.6h0M339.0 310.7h0M359.2 324.6h0M353.0 337.2h0M348.6 339.4h0M348.0 341.8h0M349.5 345.3h0M348.4 343.0h0M342.1 325.0h0M354.6 332.8h0M350.7 343.1h0M350.5 345.3h0M351.1 342.1h0M352.6 343.4h0M335.1 317.6h0M347.9 337.9h0M368.4 323.5h0M351.9 343.0h0M346.5 339.1h0M353.3 336.9h0M346.9 340.3h0M338.9 333.9h0M357.0 326.0h0M346.5 336.8h0M357.6 336.5h0M352.8 340.6h0M348.8 342.5h0M353.2 339.1h0M351.9 339.2h0M349.3 345.4h0M361.9 326.1h0M349.0 344.3h0M349.9 347.3h0M350.8 345.3h0M331.2 319.7h0M346.4 341.4h0M345.8 338.2h0M349.0 346.2h0M356.0 330.7h0M356.7 338.9h0M345.8 339.5h0M355.3 326.4h0M344.1 322.9h0M347.5 340.5h0M343.6 327.3h0M348.7 343.9h0M365.2 330.4h0M350.7 341.5h0M347.2 342.5h0M346.5 340.8h0M356.7 331.2h0M355.1 324.0h0M348.8 344.5h0M363.4 321.9h0M350.8 343.7h0M360.1 319.7h0M329.9 307.5h0M338.7 317.3h0M348.3 339.0h0M352.5 344.1h0M356.3 334.6h0M357.7 325.8h0M336.6 321.1h0M351.6 340.2h0M351.4 344.1h0M353.2 337.9h0M361.5 331.6h0M351.1 340.9h0M353.0 339.5h0M342.1 325.5h0M349.8 347.0h0M349.5 346.0h0M350.2 346.8h0M353.0 340.9h0M351.7 343.1h0M351.2 336.4h0M341.0 328.4h0M343.2 301.3h0M346.7 339.9h0M344.3 338.3h0M346.3 343.5h0M345.2 334.4h0M351.6 342.9h0M349.5 346.7h0M353.0 340.8h0M336.7 313.2h0M355.1 334.8h0M348.8 342.5h0M351.1 344.7h0M354.4 339.7h0M356.6 327.4h0M346.8 342.5h0M351.6 343.9h0M347.6 343.7h0M355.9 316.3h0M339.4 321.1h0M348.4 340.5h0M346.1 324.9h0M350.5 345.1h0M353.8 330.1h0M349.7 346.9h0M348.7 342.6h0M350.7 344.2h0M355.3 317.1h0M356.4 330.7h0M346.0 337.7h0M354.4 330.6h0M347.2 335.9h0M363.8 332.1h0M360.5 326.7h0M361.4 327.4h0M354.7 323.0h0M356.8 326.4h0M348.8 345.6h0M343.5 326.7h0M348.4 343.1h0M348.7 343.8h0M346.9 335.4h0M351.7 337.4h0M347.0 313.9h0M349.8 347.2h0M363.0 321.6h0M345.0 334.3h0M347.5 339.8h0M352.9 341.5h0M351.3 343.9h0M365.9 310.7h0M351.7 341.5h0M352.2 339.8h0M344.1 328.4h0M352.1 343.3h0M343.7 329.6h0M353.6 334.7h0M346.5 337.5h0M340.8 319.3h0M344.0 333.4h0M356.2 333.1h0M362.5 314.1h0M348.5 343.8h0M346.6 329.1h0M350.0 346.6h0M353.0 339.8h0M351.2 344.1h0M345.4 331.5h0M346.7 330.2h0M356.8 327.6h0M360.8 327.0h0M355.6 328.2h0M365.4 309.6h0M356.0 338.8h0M354.2 336.9h0M358.6 319.0h0M357.6 336.3h0M369.5 317.6h0M336.4 316.7h0M353.6 338.8h0M355.2 337.4h0M347.3 342.7h0M352.3 342.7h0M341.4 316.8h0M342.2 328.0h0M353.4 332.2h0M341.3 317.6h0M329.2 306.9h0M347.2 343.0h0M355.7 324.0h0M351.6 339.1h0M355.8 313.8h0M349.9 347.2h0M347.6 343.1h0M356.0 325.2h0M348.3 343.4h0M357.6 330.2h0M349.4 345.1h0M341.7 317.9h0M350.8 340.9h0M343.2 329.5h0M352.8 334.6h0M345.7 340.2h0M348.3 346.0h0M355.4 301.6h0M345.0 328.8h0M346.6 324.7h0M353.1 322.2h0M353.7 335.7h0M353.9 332.3h0M336.2 320.8h0M341.4 320.4h0M349.4 346.7h0M355.3 340.3h0M346.8 324.8h0M346.5 334.3h0M346.8 331.8h0M356.4 336.2h0M354.5 339.2h0M358.1 335.5h0M350.0 347.2h0M357.1 329.9h0M346.5 339.1h0M338.7 328.5h0M354.4 334.2h0M347.1 336.4h0M346.8 341.3h0M343.5 319.8h0M359.9 329.3h0M348.9 344.2h0M348.6 341.7h0M340.1 324.2h0M343.3 336.3h0M349.6 346.8h0M352.7 332.8h0M354.9 332.5h0M348.5 342.6h0M348.3 340.6h0M355.9 331.5h0M355.2 327.1h0M346.5 334.4h0M357.5 332.1h0M351.5 342.9h0M343.7 320.6h0M355.0 334.7h0M352.3 335.8h0M352.4 342.0h0M351.0 343.2h0M350.8 344.6h0M356.4 339.7h0M355.0 333.0h0M346.0 333.5h0M359.3 333.0h0M340.1 317.2h0M346.3 334.9h0M351.0 344.2h0M348.5 343.9h0M347.5 331.1h0M348.4 345.2h0M345.2 321.0h0M339.0 318.2h0M347.7 329.8h0M357.2 324.8h0M345.4 338.4h0M348.8 344.1h0M344.5 330.5h0M340.3 303.7h0M352.4 343.3h0M345.9 332.0h0M347.1 338.0h0M354.4 313.7h0M353.7 339.3h0M349.8 346.9h0M356.2 326.4h0M355.5 328.5h0M355.1 330.0h0M369.9 314.3h0M348.6 345.3h0M357.9 328.7h0M351.0 343.3h0M357.8 315.1h0M351.3 341.9h0M345.5 331.7h0M350.5 344.9h0M343.0 302.4h0M336.4 312.3h0M351.0 344.0h0M366.0 316.2h0M349.4 345.8h0M345.1 297.0h0M342.5 334.6h0M350.8 344.3h0M357.6 330.4h0M349.7 346.9h0M347.1 332.4h0M351.2 345.4h0M347.7 341.1h0M337.3 304.7h0M349.9 347.2h0M345.7 336.7h0M349.8 347.2h0M351.7 342.0h0M362.7 306.9h0M353.1 336.5h0M356.0 320.0h0M346.0 341.0h0M351.1 343.3h0M343.5 315.8h0M342.0 336.0h0M358.3 319.0h0M353.6 340.3h0M345.9 337.6h0M347.8 340.1h0M346.8 342.6h0M355.5 334.6h0M343.3 313.0h0M354.4 337.4h0M347.5 343.0h0M344.7 338.3h0M340.0 333.7h0M337.9 319.8h0M341.5 334.2h0M349.8 347.1h0M352.7 336.6h0M349.9 347.3h0M349.5 346.4h0M363.9 311.3h0M354.2 338.5h0M349.1 343.5h0M348.0 341.0h0M349.9 347.3h0M350.9 340.5h0M357.3 321.2h0M350.7 345.5h0M349.4 345.7h0M346.3 341.9h0M347.3 333.5h0M355.6 334.1h0M346.2 332.6h0M330.8 314.4h0M359.7 327.5h0M352.9 336.0h0M358.3 326.0h0M348.4 344.1h0M354.7 316.3h0M348.2 342.5h0M348.5 345.0h0M353.0 330.3h0M353.4 332.9h0M344.0 337.8h0M355.7 335.0h0M348.8 344.8h0M350.7 344.8h0M358.9 312.9h0M356.3 309.9h0M343.7 334.8h0M343.3 325.1h0M351.2 345.0h0M354.3 329.2h0M350.4 345.2h0M345.5 335.5h0M352.1 342.3h0M349.8 347.1h0M338.6 335.8h0M348.6 345.8h0M352.6 341.2h0M349.9 347.3h0M343.4 304.7h0M352.2 343.6h0M353.3 330.4h0M351.6 344.9h0M332.8 313.2h0M352.9 339.1h0M349.0 345.5h0M347.9 345.4h0M353.4 335.1h0M356.9 331.4h0M347.8 339.2h0M353.2 336.7h0M347.0 331.9h0M340.2 321.9h0M345.7 326.0h0M353.2 342.1h0M354.0 336.3h0M347.9 338.1h0M344.9 339.5h0M353.5 329.8h0M362.8 322.7h0M352.1 343.5h0M340.6 326.7h0M341.8 331.8h0M349.1 344.1h0M351.5 340.8h0M350.5 345.1h0M357.8 339.9h0M355.6 342.2h0M353.0 336.8h0M349.6 346.2h0M349.2 342.2h0M359.3 303.5h0M350.0 346.6h0M351.5 345.4h0M350.1 346.9h0M349.3 345.7h0M347.2 340.6h0M345.0 313.8h0M354.2 343.6h0M349.2 342.2h0M353.4 329.2h0M335.0 327.0h0M352.9 335.6h0M346.0 338.7h0M353.9 336.6h0M357.4 333.8h0M346.0 334.8h0M349.2 346.8h0M338.5 315.7h0M352.5 331.4h0M343.1 322.5h0M343.4 338.4h0M352.6 342.5h0M347.3 330.0h0M349.9 347.1h0M362.7 305.3h0M379.3 304.9h0M365.4 302.4h0M357.4 311.8h0M351.8 341.9h0M346.1 336.9h0M356.0 329.8h0M347.8 338.0h0M356.5 327.7h0M348.6 346.0h0M347.6 337.5h0M348.0 338.9h0M334.4 308.4h0M351.4 343.4h0M349.1 346.3h0M352.6 327.8h0M349.2 346.5h0M365.3 309.9h0M352.9 341.7h0M344.7 337.1h0M355.9 315.7h0M348.2 341.4h0M344.2 321.3h0M355.4 335.3h0M349.7 347.1h0M344.2 330.0h0M343.5 331.0h0M350.5 345.0h0M354.6 303.1h0M350.7 344.9h0M341.1 326.6h0M338.4 312.8h0M356.1 318.3h0M353.6 326.3h0M354.0 335.3h0M348.0 337.3h0M350.2 346.1h0M346.2 329.4h0M344.7 332.3h0M348.7 343.8h0M346.4 331.4h0M345.7 319.0h0M353.6 337.0h0M352.9 326.2h0M350.6 345.3h0M357.8 319.4h0M350.5 346.3h0M347.1 343.3h0M357.5 327.4h0M345.3 316.3h0M339.1 334.1h0M350.2 346.6h0M352.3 336.1h0M354.1 331.4h0M353.8 325.4h0M338.8 326.6h0M351.5 341.9h0M348.7 341.7h0M351.5 337.1h0M339.5 308.3h0M350.9 345.0h0M343.2 314.6h0M349.6 345.6h0M353.8 340.1h0M348.3 343.8h0M347.2 336.4h0M358.2 320.8h0M347.9 335.8h0M356.6 334.3h0M347.3 325.1h0M349.9 347.2h0M350.7 346.6h0M351.0 344.2h0M350.0 346.9h0M350.3 346.6h0M346.2 339.8h0M345.5 336.3h0M356.2 325.2h0M346.4 333.8h0M346.6 339.9h0M351.5 344.0h0M361.2 315.3h0M354.5 337.8h0M363.2 304.4h0M350.8 344.2h0M349.7 346.6h0M358.9 335.7h0M347.7 343.6h0M341.8 334.6h0M350.4 346.6h0M348.2 343.6h0M358.7 319.1h0M348.2 343.5h0M353.7 338.4h0M346.1 326.5h0M355.1 337.0h0M354.4 331.0h0M349.5 345.7h0M353.1 337.3h0M338.0 323.3h0M359.8 328.9h0M349.3 345.5h0M347.8 332.8h0M355.9 332.6h0M357.8 327.9h0M358.3 332.4h0M352.6 338.1h0M352.4 329.2h0M342.4 329.9h0M351.7 336.8h0M349.6 346.5h0M347.8 339.9h0M355.8 335.9h0M360.1 321.9h0M363.6 330.1h0M351.2 340.2h0M361.6 307.1h0M343.2 323.6h0M337.3 321.3h0M341.9 334.5h0M352.0 339.6h0M351.3 342.1h0M346.4 338.5h0M345.5 335.4h0M357.2 306.1h0M346.3 339.6h0M346.9 312.6h0M347.6 336.3h0M339.7 312.9h0M360.3 308.2h0M349.1 345.2h0M357.1 331.9h0M361.2 301.5h0M348.0 339.7h0M355.5 308.4h0M350.5 346.2h0M346.7 338.7h0M345.0 320.4h0M335.1 312.4h0M344.8 329.6h0M349.1 346.2h0M349.4 346.2h0M350.1 346.9h0M354.6 337.2h0M342.2 339.4h0M355.4 335.9h0M360.4 322.6h0M353.4 340.7h0M348.8 343.7h0M344.8 335.3h0M335.2 304.0h0M349.8 347.0h0M343.5 304.1h0M360.9 309.7h0M343.6 337.8h0M347.6 334.5h0M354.2 337.0h0M352.1 334.4h0M348.0 343.7h0M347.2 335.6h0M346.2 327.2h0M349.8 347.2h0M347.6 336.5h0M352.1 340.4h0M345.2 333.4h0M353.2 325.6h0M336.1 301.9h0M344.7 336.7h0M352.2 329.0h0M346.1 340.8h0M348.7 343.2h0M352.8 334.0h0M336.1 332.6h0M349.1 342.4h0M350.0 346.6h0M340.5 321.7h0M341.8 327.7h0M361.5 327.9h0M351.9 340.4h0M351.6 343.5h0M347.1 334.4h0M351.8 345.1h0M357.1 329.0h0M349.1 342.7h0M352.5 339.8h0M351.3 342.6h0M355.3 335.9h0M349.7 346.9h0M351.7 340.3h0M353.1 340.7h0M352.6 337.3h0M347.3 338.0h0M359.0 313.5h0M357.2 326.2h0M343.2 333.9h0M341.0 328.6h0M351.0 345.6h0M353.0 341.8h0M347.5 343.1h0M351.0 343.5h0M349.9 347.1h0M342.4 326.9h0M346.0 324.0h0M346.6 335.6h0M355.7 341.2h0M349.4 346.0h0M352.1 336.2h0M349.0 344.6h0M357.7 322.7h0M344.8 314.6h0M356.6 336.5h0M348.0 340.5h0M348.7 342.4h0M351.2 337.1h0M347.6 337.0h0M350.4 345.4h0M344.4 332.9h0M356.8 316.6h0M348.7 344.3h0M349.9 347.2h0M349.2 345.1h0M346.4 333.7h0M352.7 339.6h0M323.6 305.5h0M348.5 340.1h0M347.8 343.2h0M348.1 340.1h0M355.8 334.9h0M352.8 342.0h0M357.3 318.0h0M349.6 346.7h0M350.3 346.3h0M343.8 296.3h0M344.0 320.1h0M355.9 332.2h0M355.0 336.0h0M349.3 345.9h0M348.1 343.0h0M345.5 340.7h0M341.3 334.8h0M341.6 323.7h0M336.1 331.4h0M353.4 342.7h0M345.1 319.0h0M347.3 339.8h0M355.3 331.7h0M350.2 345.9h0M350.2 346.8h0M356.3 334.6h0M350.5 344.8h0M361.0 305.1h0M351.8 341.1h0M351.4 342.8h0M350.5 345.8h0M350.4 344.6h0M353.2 329.2h0M361.4 303.0h0M353.9 342.6h0M354.5 332.3h0M350.2 345.4h0M340.1 327.1h0M350.1 346.7h0M349.1 345.4h0M357.8 317.1h0M346.6 318.4h0M354.4 338.0h0M353.2 336.4h0M353.6 338.2h0M353.8 340.4h0M355.3 333.8h0M344.6 330.0h0M357.6 317.4h0M346.1 340.1h0M349.8 347.0h0M351.4 341.2h0M355.3 325.4h0M352.0 339.8h0M354.4 336.7h0M346.4 340.6h0M345.1 336.8h0M352.9 338.7h0M346.2 334.7h0M358.2 339.5h0M352.9 340.0h0M347.0 340.1h0M344.4 325.5h0M361.3 319.8h0M347.2 339.0h0M357.3 291.3h0M364.1 309.2h0M356.9 332.0h0M355.4 327.8h0M360.2 315.3h0M352.3 342.1h0M359.0 319.5h0M349.6 346.3h0M346.1 330.0h0M347.7 343.1h0M352.0 344.8h0M349.2 342.9h0M362.3 303.9h0M342.7 331.5h0M352.4 340.9h0M352.2 343.1h0M344.7 332.8h0M350.3 344.6h0M354.5 324.6h0M348.0 343.8h0M360.1 322.1h0M346.1 321.2h0M346.4 336.6h0M358.1 320.2h0M367.3 321.0h0M351.7 339.5h0M345.0 313.4h0M354.0 336.2h0M340.3 319.3h0M365.0 315.8h0M350.0 346.9h0M350.3 345.8h0M349.5 346.3h0M348.2 344.8h0M343.3 330.7h0M342.5 334.2h0M345.6 334.6h0M356.2 311.6h0M357.0 314.4h0M354.3 337.9h0M339.9 317.4h0M344.7 334.0h0M357.6 320.6h0M349.2 344.3h0M349.7 347.0h0M349.3 345.7h0M354.4 336.0h0M345.0 314.9h0M340.9 316.2h0M351.7 340.4h0M353.2 342.3h0M349.8 347.0h0M353.0 343.6h0M347.7 336.6h0M337.3 320.7h0M348.5 342.1h0M352.8 341.4h0M346.0 328.7h0M345.3 331.3h0M353.3 341.5h0M352.1 339.5h0M344.1 335.8h0M352.2 341.7h0M350.6 344.7h0M343.1 327.1h0M348.8 344.0h0M342.4 332.1h0M349.9 347.2h0M352.7 340.6h0M360.7 324.4h0M344.4 339.3h0M351.7 342.4h0M347.3 338.0h0M352.5 337.3h0M350.7 345.4h0M351.5 341.2h0M349.1 342.3h0M351.9 333.9h0M361.1 310.2h0M358.4 326.0h0M350.8 344.8h0M353.6 328.0h0M347.6 338.9h0M349.1 345.1h0M346.8 340.1h0M352.3 330.7h0M348.8 345.0h0M352.0 337.2h0M348.3 343.6h0M352.4 343.1h0M352.8 342.9h0M359.6 313.5h0M358.2 330.2h0M344.7 330.2h0M352.3 340.2h0M365.5 330.0h0M345.5 338.4h0M351.3 342.0h0M343.5 333.6h0M346.8 342.9h0M347.1 341.9h0M347.0 343.5h0M354.3 340.8h0M348.9 343.4h0M342.8 321.5h0M358.6 330.5h0M348.9 342.1h0M348.6 344.2h0M359.0 318.2h0M352.7 341.0h0M342.9 325.9h0M354.5 307.4h0M351.0 342.7h0M341.7 327.9h0M348.1 343.5h0M347.4 339.6h0M351.5 341.4h0M339.9 308.5h0M359.8 302.5h0M354.3 305.2h0M360.7 322.5h0M352.8 335.8h0M351.1 344.6h0M343.7 332.8h0M334.2 326.7h0M345.8 340.1h0M347.3 343.9h0M352.5 332.4h0M347.9 342.4h0M348.8 345.3h0M346.3 339.7h0M348.0 339.9h0M345.7 338.1h0M347.5 333.9h0M346.7 326.8h0M344.6 329.7h0M336.6 303.9h0M356.6 330.0h0M343.6 322.0h0M344.4 340.0h0M355.2 334.8h0M352.0 337.1h0M352.2 332.7h0M350.1 346.0h0M351.1 343.7h0M352.4 343.5h0M347.7 344.4h0M350.1 346.4h0M351.7 343.4h0M346.1 327.7h0M343.5 316.7h0M348.6 344.8h0M359.8 325.1h0M349.3 345.6h0M348.1 345.5h0M348.9 345.4h0M328.2 307.1h0M350.3 345.9h0M343.8 330.5h0M344.3 322.6h0M337.8 318.8h0M355.6 332.0h0M362.1 314.2h0M351.0 343.5h0M347.3 339.2h0M342.7 333.4h0M350.8 345.2h0M341.0 317.2h0M335.8 308.2h0M350.9 344.7h0M349.2 344.2h0M355.4 331.5h0M369.9 307.3h0M344.6 337.9h0M351.3 342.5h0M347.7 340.0h0M343.4 298.3h0M348.4 345.1h0M363.7 323.1h0M345.4 336.1h0M345.6 320.9h0M352.4 336.4h0M360.1 328.9h0M349.6 346.5h0M349.6 346.5h0M350.1 347.1h0M342.5 324.7h0M353.1 337.4h0M348.0 337.2h0M350.6 344.5h0M348.5 342.9h0M344.0 335.5h0M355.8 326.8h0M354.2 338.2h0M348.4 343.2h0M351.9 342.6h0M348.7 343.7h0M345.6 310.2h0M349.9 347.2h0M355.7 334.5h0M346.7 336.4h0M348.5 343.9h0M348.2 342.6h0M355.4 318.5h0M336.5 332.3h0M353.0 334.0h0M341.2 324.6h0M351.1 344.9h0M348.9 345.8h0M353.3 332.9h0M348.9 343.6h0M347.2 338.6h0M337.4 314.8h0M353.5 326.9h0M343.1 326.9h0M345.3 328.3h0M350.7 344.5h0M353.8 318.1h0M344.7 337.9h0M355.8 325.8h0M350.3 344.7h0M346.9 334.3h0M352.0 344.8h0M348.1 345.8h0M344.7 328.6h0M359.9 317.0h0M349.5 346.6h0M360.4 318.4h0M349.0 344.6h0M350.0 347.1h0M355.6 337.2h0M348.2 336.7h0M343.7 316.8h0M346.8 327.3h0M349.5 345.5h0M345.1 332.1h0M345.4 331.5h0M356.1 257.6h0M348.8 342.7h0M358.4 321.8h0M354.1 338.8h0M347.0 333.3h0M360.8 334.7h0M343.8 332.0h0M356.5 331.9h0M350.4 345.9h0M351.8 337.6h0M340.5 332.8h0M346.2 318.4h0M348.2 341.9h0M351.7 343.0h0M356.8 302.8h0M349.0 343.9h0M354.9 314.2h0M354.8 340.4h0M350.0 347.1h0M353.3 338.8h0M341.4 322.4h0M360.5 325.1h0M342.8 307.3h0M345.3 335.2h0M344.8 330.7h0M348.6 346.0h0M362.4 310.0h0M350.7 344.3h0M350.8 345.3h0M353.1 341.4h0M349.1 342.5h0M348.3 345.5h0M349.2 345.9h0M348.9 338.8h0M359.6 321.4h0M346.3 329.1h0M351.3 345.2h0M321.0 306.0h0M345.1 330.4h0M353.5 332.3h0M343.4 335.7h0M347.5 343.1h0M345.8 328.7h0M354.9 320.3h0M354.6 329.3h0M353.7 312.0h0M363.3 321.1h0M352.6 327.3h0M349.9 347.2h0M344.6 328.8h0M342.2 324.6h0M348.9 345.7h0M355.7 307.9h0M347.3 330.8h0M353.2 337.8h0M347.8 344.0h0M352.7 344.6h0M352.3 336.5h0M350.2 346.2h0M349.8 346.9h0M341.9 332.9h0M351.5 339.3h0M354.6 315.8h0M359.6 324.1h0M347.0 336.5h0M350.8 344.3h0M349.1 345.6h0M349.9 347.2h0M340.5 330.6h0M349.7 346.5h0M354.0 328.5h0M348.3 344.7h0M357.5 329.5h0M346.2 339.8h0M348.9 343.3h0M345.5 338.5h0M348.2 343.8h0M340.7 327.5h0M358.3 315.6h0M352.6 335.2h0M345.8 317.1h0M343.5 323.0h0M346.7 336.3h0M346.4 343.8h0M349.3 345.4h0M351.3 344.5h0M350.0 346.5h0M342.5 330.2h0M346.3 320.0h0M351.8 338.0h0M347.3 338.9h0M346.2 336.6h0M351.9 339.3h0M348.1 329.8h0M351.0 345.3h0M350.3 346.4h0M354.5 333.1h0M356.1 331.1h0M344.3 313.1h0M348.9 342.3h0M349.8 346.9h0M351.5 342.2h0M348.2 340.6h0M340.8 321.8h0M339.6 326.5h0M347.1 344.0h0M350.6 345.9h0M341.2 329.2h0M350.8 345.3h0M348.7 345.2h0M355.1 334.0h0M348.4 341.8h0M342.5 333.7h0M352.2 340.0h0M347.9 334.8h0M345.0 336.9h0M348.5 343.3h0M353.4 342.9h0M343.1 279.4h0M349.5 345.8h0M339.1 319.1h0M345.5 329.5h0M340.2 331.7h0M354.9 291.2h0M352.6 343.0h0M325.8 303.8h0M347.2 339.2h0M347.5 339.2h0M344.5 329.2h0M356.2 333.0h0M353.5 333.7h0M354.3 321.7h0M331.2 322.3h0M355.6 322.1h0M362.1 334.7h0M344.3 324.0h0M349.0 343.0h0M341.3 312.3h0M342.8 320.6h0M342.4 330.3h0M364.8 313.1h0M350.0 347.0h0M349.3 345.1h0M361.2 331.8h0M341.8 326.3h0M359.4 309.9h0M356.3 303.7h0M356.9 300.2h0M349.1 343.4h0M350.9 340.3h0M349.8 347.0h0M350.9 345.4h0M349.1 346.1h0M355.2 332.9h0M339.9 317.1h0M352.7 341.4h0M358.5 306.0h0M342.0 331.4h0M349.2 344.2h0M350.2 346.6h0M350.7 343.6h0M352.4 330.7h0M344.4 337.1h0M354.2 331.6h0M343.0 323.1h0M361.0 330.1h0M360.5 328.1h0M345.3 318.0h0M353.0 327.6h0M356.1 321.6h0M350.2 346.2h0M347.7 337.8h0M347.6 338.9h0M353.6 330.2h0M357.0 322.1h0M367.9 312.2h0M342.4 321.1h0M345.3 334.6h0M352.8 342.2h0M353.7 336.7h0M350.8 346.1h0M351.6 339.2h0M351.3 337.1h0M346.7 339.7h0M348.0 342.9h0M343.8 336.2h0M359.6 306.5h0M348.7 345.6h0M352.7 330.5h0M353.9 327.2h0M349.2 345.7h0M348.6 344.1h0M347.8 336.7h0M351.4 339.0h0M349.4 345.7h0M350.3 346.6h0M351.4 343.7h0M343.5 328.2h0M347.1 328.1h0M348.6 342.7h0M344.7 327.0h0M349.7 346.9h0M350.9 344.6h0M350.4 345.7h0M346.7 331.5h0M348.8 344.8h0M352.7 337.8h0M349.0 345.9h0M343.2 331.6h0M345.9 337.3h0M362.8 320.7h0M350.7 344.9h0M351.7 333.1h0M336.7 320.8h0M359.2 336.2h0M330.6 311.6h0M347.8 339.7h0M349.0 344.4h0M352.4 342.1h0M344.5 328.6h0M350.6 346.5h0M346.5 333.6h0M357.5 335.5h0M343.9 325.0h0M350.0 347.0h0M352.9 341.8h0M362.3 330.3h0M363.6 323.7h0M350.9 343.4h0M350.6 345.6h0M349.3 346.3h0M339.8 315.0h0M350.7 345.1h0M356.4 334.7h0M353.5 338.4h0M345.2 340.4h0M357.1 331.3h0M354.4 334.1h0M350.1 346.9h0M344.8 329.4h0M343.9 310.0h0M350.7 344.4h0M337.4 330.2h0M355.9 330.7h0M364.6 315.3h0M349.0 345.5h0M349.7 346.0h0M344.1 332.4h0M357.5 304.3h0M346.9 339.3h0M355.8 286.0h0M345.5 335.1h0M346.0 339.1h0M350.2 346.6h0M343.2 334.5h0M348.0 338.5h0M346.3 330.3h0M346.7 342.9h0M352.5 343.2h0M360.3 336.9h0M348.8 343.3h0M352.2 338.3h0M350.2 346.9h0M344.1 297.2h0M351.3 342.9h0M351.1 344.0h0M345.7 339.8h0M350.6 345.4h0M356.0 330.2h0M352.5 322.4h0M338.1 303.5h0M349.9 347.2h0M364.1 323.6h0M345.1 340.1h0M346.4 340.5h0M342.2 334.3h0M352.3 343.3h0M344.4 320.2h0M350.2 346.6h0M335.5 322.6h0M347.2 339.9h0M350.8 344.9h0M347.2 328.7h0M346.1 335.7h0M352.6 341.3h0M349.3 346.4h0M349.2 345.2h0M345.0 329.2h0M355.6 326.9h0M347.6 336.7h0M346.3 341.3h0M349.4 345.1h0M343.2 305.2h0M353.6 332.8h0M345.3 330.1h0M349.6 346.7h0M352.5 336.3h0M351.1 344.7h0M328.8 317.6h0M353.9 314.7h0M349.0 344.8h0M348.7 342.6h0M352.8 340.1h0M359.6 307.6h0M343.7 308.0h0M356.5 333.8h0M351.0 344.0h0M352.4 341.4h0M346.7 337.6h0M349.1 346.4h0M342.9 329.4h0M349.3 345.2h0M350.8 346.0h0M344.6 311.6h0M347.8 333.5h0M349.0 344.6h0M354.8 323.4h0M351.5 339.7h0M354.7 339.4h0M344.2 338.9h0M347.8 339.1h0M350.6 345.6h0M348.5 340.0h0M349.0 340.1h0M344.8 331.5h0M357.5 330.6h0M348.0 342.1h0M358.2 316.7h0M350.2 346.9h0M354.0 339.5h0M345.9 335.8h0M346.6 342.2h0M350.8 345.2h0M341.1 307.0h0M351.9 345.6h0M359.6 332.6h0M361.4 311.3h0M345.9 326.8h0M345.4 328.6h0M339.3 327.3h0M348.9 339.7h0M344.5 337.4h0M348.5 343.9h0M354.2 322.9h0M355.4 329.2h0M349.3 345.6h0M335.8 301.5h0M345.8 337.5h0M357.4 321.6h0M333.9 320.0h0M349.3 345.9h0M362.4 330.4h0M345.2 323.2h0M352.1 343.4h0M344.8 336.9h0M349.0 343.8h0M353.8 336.2h0M353.5 338.2h0M350.5 345.5h0M352.0 344.0h0M348.1 341.5h0M350.0 347.2h0M349.8 347.1h0M357.1 332.0h0M345.4 338.6h0M352.1 342.1h0M351.9 336.3h0M344.1 330.2h0M355.1 336.4h0M353.7 339.1h0M337.8 315.4h0M351.1 344.9h0M353.7 339.6h0M357.9 339.8h0M351.0 345.2h0M358.9 323.9h0M357.1 330.2h0M350.9 339.1h0M353.0 339.9h0M351.1 343.4h0M351.9 341.5h0M349.7 347.1h0M347.1 343.0h0M349.7 346.1h0M358.1 323.7h0M356.2 331.3h0M359.0 317.6h0M338.6 328.1h0M342.7 303.8h0M350.9 344.8h0M355.7 334.9h0M352.8 338.6h0M347.5 333.1h0M364.5 313.4h0M360.8 325.4h0M339.3 334.7h0M353.0 343.7h0M346.2 343.0h0M361.8 329.2h0M336.4 322.9h0M348.1 342.6h0M352.4 345.0h0M351.9 343.7h0M344.6 339.7h0M340.3 330.4h0M353.4 336.4h0M339.1 310.5h0M359.3 331.8h0M349.8 347.1h0M343.9 327.1h0M349.8 347.0h0M353.0 343.3h0M356.5 322.2h0M346.4 332.9h0M340.4 317.9h0M346.9 341.3h0M349.6 346.3h0M346.9 334.0h0M349.5 345.8h0M350.1 346.6h0M360.0 324.6h0M342.0 313.8h0M355.8 332.5h0M337.0 308.2h0M346.2 335.4h0M355.2 334.2h0M352.9 339.4h0M354.2 339.7h0M355.8 331.4h0M352.7 331.8h0M346.5 321.9h0M350.3 346.3h0M348.9 343.3h0M354.7 310.3h0M348.7 339.3h0M353.9 341.1h0M346.3 339.8h0M349.8 347.0h0M340.4 321.1h0M344.5 330.1h0M348.3 333.0h0M351.8 342.0h0M368.9 323.1h0M362.5 317.6h0M348.1 342.1h0M346.8 340.4h0M348.2 337.8h0M340.2 324.0h0M332.5 318.9h0M349.7 346.8h0M354.5 342.3h0M353.3 339.0h0M356.2 334.4h0M343.6 341.6h0M349.3 345.3h0M348.9 344.6h0M345.8 330.9h0M359.2 330.5h0M346.0 336.5h0M343.8 325.1h0M350.4 345.9h0M349.7 346.7h0M346.1 335.6h0M355.8 339.0h0M333.8 317.8h0M357.4 326.9h0M350.4 345.7h0M350.9 344.6h0M357.8 329.2h0M353.7 338.0h0M349.6 346.4h0M350.8 344.5h0M348.8 344.1h0M354.4 342.0h0M364.0 310.9h0M347.0 336.0h0M347.5 343.3h0M346.7 337.5h0M354.8 332.0h0M358.2 336.6h0M350.0 347.0h0M342.5 332.1h0M342.8 305.1h0M352.9 335.4h0M354.0 319.2h0M366.5 328.3h0M345.4 333.6h0M347.0 339.0h0M348.1 341.5h0M347.8 343.6h0M342.0 335.6h0M349.7 346.5h0M339.9 309.8h0M341.5 314.1h0M352.4 340.2h0M346.3 328.5h0M345.0 332.9h0M350.9 346.0h0M352.5 332.3h0M349.8 347.2h0M339.7 328.4h0M348.8 345.5h0M358.3 320.2h0M336.5 333.2h0M357.4 333.5h0M341.2 312.3h0M351.0 344.0h0M340.2 337.8h0M348.4 344.8h0M357.1 308.3h0M353.3 312.7h0M351.0 345.2h0M350.7 345.9h0M343.4 324.0h0M351.2 344.1h0M355.0 320.3h0M347.3 338.9h0M349.0 345.1h0M363.2 302.3h0M347.0 332.2h0M348.8 344.7h0M345.8 337.5h0M346.6 325.0h0M351.0 343.8h0M343.5 318.2h0M353.4 339.1h0M350.0 347.0h0M343.4 328.1h0M355.4 312.4h0M354.7 325.9h0M360.2 336.3h0M350.3 346.4h0M348.5 344.8h0M339.9 325.5h0M347.1 341.6h0M355.6 336.5h0M353.1 338.2h0M352.3 344.0h0M346.4 338.6h0M359.4 317.8h0M349.8 347.2h0M350.7 346.2h0M366.6 311.2h0M353.6 337.1h0M354.6 332.0h0M344.6 338.1h0M359.9 332.4h0M351.6 338.7h0M344.9 339.5h0M356.9 339.2h0M348.2 340.6h0M354.3 330.0h0M356.4 325.3h0M354.6 332.6h0M354.3 338.6h0M355.1 331.3h0M351.5 343.6h0M347.0 342.9h0M351.2 345.3h0M342.3 328.1h0M353.6 329.7h0M355.3 324.6h0M354.3 337.4h0M344.8 340.5h0M347.9 342.5h0M352.1 340.3h0M352.0 335.0h0M354.3 337.1h0M346.9 328.7h0M351.7 345.4h0M357.5 321.2h0M348.7 343.1h0M352.8 344.0h0M344.3 306.6h0M346.6 329.4h0M347.9 339.5h0M347.2 333.0h0M346.6 339.8h0M349.7 346.3h0M348.5 344.4h0M348.9 342.3h0M348.2 341.5h0M356.3 321.9h0M355.7 331.2h0M357.2 304.0h0M351.7 343.4h0M348.1 343.8h0M345.8 338.0h0M349.5 345.7h0M345.3 339.0h0M346.4 338.9h0M338.8 318.2h0M341.2 327.6h0M354.3 336.1h0M349.1 345.3h0M348.8 344.8h0M346.9 333.2h0M351.4 344.8h0M347.5 337.7h0M332.1 317.4h0M349.3 345.6h0M347.1 332.7h0M338.2 334.2h0M351.3 338.6h0M348.6 344.8h0M351.8 338.9h0M355.3 329.0h0M349.0 345.8h0M344.9 334.8h0M356.5 331.1h0M354.8 339.5h0M348.0 340.4h0M350.3 346.4h0M346.1 304.8h0M354.7 322.2h0M351.9 331.8h0M349.2 345.9h0M350.4 346.1h0M345.2 329.8h0M352.0 341.4h0M349.0 342.1h0M350.2 345.3h0M349.5 345.8h0M350.4 344.5h0M355.1 339.5h0M359.5 320.1h0M351.9 341.0h0M352.2 340.9h0M350.4 346.9h0M349.7 346.2h0M346.9 343.6h0M350.5 345.0h0M376.7 304.9h0M350.0 347.0h0M353.5 332.4h0M357.0 317.7h0M350.7 344.4h0M351.3 336.1h0M336.9 320.0h0M352.6 340.4h0M361.2 318.8h0M335.2 310.6h0M358.6 323.0h0M356.2 326.4h0M335.1 328.9h0M356.1 334.0h0M344.9 328.3h0M344.2 319.6h0M335.1 317.0h0M346.5 339.7h0M349.7 346.3h0M350.2 347.0h0M350.8 342.5h0M358.6 307.9h0M368.0 326.2h0M343.2 323.1h0M359.0 314.1h0M345.3 341.6h0M340.2 320.9h0M349.0 344.5h0M345.0 324.9h0M348.5 343.9h0M348.6 344.4h0M355.5 331.3h0M345.2 332.4h0M346.3 336.9h0M349.7 346.5h0M346.4 339.8h0M349.6 346.4h0M354.6 323.8h0M347.9 344.0h0M348.5 343.3h0M337.9 330.2h0M344.6 316.8h0M346.3 332.5h0M351.1 344.4h0M348.0 328.9h0M356.3 335.4h0M348.3 343.1h0M336.6 326.5h0M359.7 332.2h0M348.8 344.6h0M353.4 313.0h0M343.1 297.0h0M346.9 338.1h0M353.1 337.6h0M361.9 323.5h0M356.8 326.9h0M347.7 342.3h0M351.7 343.1h0M353.1 332.1h0M351.4 333.9h0M353.6 332.5h0M351.1 345.2h0M349.2 343.6h0M343.7 337.2h0M349.6 346.4h0M347.1 344.4h0M346.3 336.8h0M347.7 337.3h0M350.4 346.5h0M338.9 311.8h0M353.9 339.9h0M351.7 336.1h0M350.9 338.6h0M347.1 334.9h0M350.9 346.3h0M350.0 347.2h0M345.9 335.1h0M337.1 322.9h0M352.5 339.4h0M354.5 331.7h0M345.0 336.9h0M336.7 318.1h0M348.4 335.7h0M348.5 344.0h0M345.7 341.3h0M333.8 306.2h0M350.0 347.1h0M341.9 302.2h0M353.6 340.3h0M350.2 346.1h0M363.9 306.4h0M349.7 346.8h0M349.4 346.3h0M351.1 344.3h0M350.0 347.1h0M353.1 332.6h0M351.0 341.2h0M340.2 337.8h0M348.3 336.2h0M334.7 320.6h0M358.7 328.9h0M350.2 346.2h0M344.3 332.0h0M351.9 338.7h0M351.5 342.7h0M356.3 318.2h0M356.5 306.7h0M356.4 328.6h0M351.4 343.5h0M347.7 340.7h0M350.9 345.2h0M353.1 343.2h0M339.2 320.4h0M349.0 346.1h0M354.5 330.1h0M348.3 343.5h0M350.2 346.4h0M348.6 343.9h0M355.5 325.4h0M352.0 344.1h0M354.1 324.1h0M367.1 317.9h0M352.3 343.2h0M342.3 325.1h0M352.0 343.4h0M340.1 331.9h0M352.5 334.6h0M348.8 343.2h0M348.7 343.5h0M348.0 335.7h0M350.0 347.1h0M343.3 297.5h0M338.6 334.3h0M331.5 308.0h0M348.0 338.8h0M339.6 324.9h0M345.7 334.5h0M372.3 308.6h0M355.3 329.2h0M355.7 320.1h0M351.0 346.4h0M340.2 329.2h0M348.6 343.6h0M355.4 340.2h0M349.3 346.0h0M355.0 319.0h0M351.7 344.1h0M348.4 340.1h0M346.4 338.8h0M345.5 331.9h0M355.6 317.3h0M348.0 340.4h0M345.2 338.5h0M353.2 339.4h0M344.6 329.3h0M354.8 336.0h0M349.6 345.7h0M346.5 338.2h0M349.1 345.7h0M345.6 335.9h0M345.4 322.6h0M345.7 331.9h0M349.1 344.6h0M358.4 323.6h0M349.0 343.5h0M351.5 338.8h0M347.3 342.3h0M351.2 342.9h0M355.9 337.1h0M355.1 323.5h0M356.5 336.8h0M347.7 337.9h0M351.0 343.8h0M349.9 347.2h0M335.6 318.7h0M344.6 337.1h0M350.2 346.2h0M336.7 307.8h0M343.6 333.2h0M352.9 343.1h0M354.1 335.4h0M349.7 346.2h0M355.9 315.6h0M345.7 338.9h0M342.2 313.5h0M351.2 342.7h0M338.9 329.8h0M347.7 330.6h0M347.6 342.2h0M340.1 331.2h0M347.8 341.1h0M352.3 341.8h0M345.4 336.5h0M351.8 344.2h0M354.0 333.6h0M367.2 311.1h0M342.4 318.7h0M351.7 343.0h0M348.0 341.0h0M348.1 343.7h0M360.3 316.9h0M351.3 339.3h0M353.2 337.9h0M341.8 324.7h0M336.3 327.9h0M342.0 335.4h0M353.8 334.7h0M350.8 344.5h0M354.5 328.6h0M343.0 320.3h0M338.5 333.5h0M350.5 343.9h0M342.3 339.4h0M348.6 344.0h0M353.0 338.3h0M349.2 344.6h0M367.3 316.8h0M348.4 343.0h0M350.3 345.6h0M350.6 345.7h0M358.9 318.5h0M352.9 338.5h0M361.5 307.6h0M347.4 339.5h0M347.8 343.4h0M357.3 321.2h0M347.9 339.8h0M348.6 338.5h0M351.3 344.2h0M353.9 319.8h0M341.0 315.2h0M338.4 324.2h0M343.1 338.4h0M343.4 339.5h0M349.2 346.1h0M347.9 333.1h0M352.6 340.2h0M349.6 346.9h0M347.8 340.6h0M350.3 346.3h0M350.1 346.6h0M354.7 321.7h0M353.0 334.3h0M341.2 334.6h0M359.3 319.3h0M352.2 338.6h0M351.8 343.4h0M344.9 338.7h0M349.9 347.2h0M348.1 337.0h0M330.5 313.5h0M354.0 335.2h0M344.8 338.5h0M349.2 344.9h0M351.7 338.2h0M343.1 325.0h0M367.7 318.7h0M359.5 309.9h0M349.0 345.1h0M348.6 345.6h0M350.0 347.1h0M350.2 346.4h0M350.4 345.5h0M346.2 328.1h0M350.2 346.8h0M355.8 334.3h0M350.5 346.1h0M352.3 335.4h0M356.6 339.2h0M345.3 326.1h0M356.3 315.6h0M348.2 341.0h0M350.9 344.4h0M367.4 317.6h0M352.4 343.0h0M349.7 346.4h0M353.3 338.0h0M354.1 330.6h0M348.7 343.9h0M345.9 322.9h0M351.0 344.5h0M343.2 320.8h0M366.6 312.4h0M351.9 337.0h0M349.3 346.7h0M341.3 313.6h0M362.8 332.8h0M351.3 339.3h0M347.7 337.3h0M346.9 333.0h0M350.5 345.2h0M353.2 336.1h0M342.9 332.9h0M349.2 346.7h0M363.6 307.0h0M363.9 306.3h0M355.3 322.8h0M355.9 322.8h0M350.1 346.2h0M350.0 347.0h0M351.0 345.5h0M353.6 331.2h0M348.1 335.2h0M337.6 302.6h0M346.9 330.8h0M350.2 346.3h0M355.3 338.6h0M347.4 341.9h0M338.8 309.0h0M351.6 339.1h0M345.2 337.6h0M349.3 344.4h0M347.8 339.4h0M338.8 308.7h0M343.0 315.7h0M363.3 324.7h0M346.0 341.0h0M341.5 317.8h0M349.7 346.8h0M353.7 335.8h0M360.6 303.2h0M360.1 326.4h0M353.2 342.6h0M352.5 331.3h0M356.3 334.6h0M357.3 315.6h0M340.1 313.6h0M346.6 331.4h0M340.2 306.6h0M359.8 307.2h0M355.2 325.5h0M347.1 334.3h0M358.2 330.4h0M341.9 328.4h0M352.5 339.9h0M350.2 345.1h0M349.5 346.0h0M339.5 330.0h0M346.2 337.2h0M345.1 327.2h0M353.9 335.9h0M339.8 308.2h0M348.7 344.8h0M352.0 337.9h0M324.1 308.2h0M343.0 301.6h0M351.9 341.1h0M351.0 344.6h0M361.6 319.3h0M351.1 344.4h0M330.1 319.2h0M351.1 342.6h0M357.0 320.4h0M355.6 333.6h0M357.7 313.5h0M357.5 327.7h0M347.4 344.2h0M347.4 342.2h0M352.3 337.6h0M356.2 325.1h0M352.5 343.1h0M355.2 335.1h0M352.1 342.5h0M350.8 345.7h0M349.8 347.1h0M352.4 331.9h0M354.6 330.7h0M355.3 329.9h0M357.1 327.5h0M353.3 336.3h0M349.9 347.2h0M346.0 330.1h0M349.9 347.2h0M351.5 343.0h0M351.1 343.3h0M351.8 343.4h0M355.1 330.3h0M341.7 334.2h0M344.8 326.6h0M356.2 300.0h0M354.0 341.7h0M347.3 343.5h0M351.4 342.5h0M358.2 309.5h0M347.9 339.9h0M350.8 345.0h0M344.1 339.7h0M355.2 323.3h0M343.1 313.8h0M342.1 316.8h0M359.4 315.4h0M349.1 340.9h0M343.0 334.0h0M355.1 337.2h0M344.9 329.6h0M353.0 322.9h0M348.0 343.8h0M347.5 321.8h0M353.1 337.0h0M348.0 341.3h0M351.9 337.9h0M348.2 344.4h0M347.2 340.6h0M346.4 325.9h0M334.4 313.7h0M358.9 313.9h0M349.4 345.1h0M349.8 347.0h0M350.2 346.3h0M354.0 328.7h0M348.8 344.4h0M351.8 328.7h0M351.0 343.5h0M350.1 346.7h0M350.4 346.1h0M349.5 346.9h0M350.0 347.2h0M345.5 340.1h0M353.1 341.5h0M349.0 344.8h0M355.5 338.4h0M350.5 345.8h0M343.0 337.2h0M349.8 347.2h0M349.1 340.7h0M348.1 336.2h0M351.3 344.4h0M348.1 340.8h0M358.0 336.4h0M352.5 338.6h0M354.6 334.1h0M351.1 343.6h0M351.2 339.1h0M351.1 345.2h0M353.4 335.6h0M350.7 344.4h0M351.5 342.5h0M350.2 345.7h0M352.8 334.9h0M357.9 332.6h0M350.6 345.6h0M351.6 341.3h0M354.7 320.8h0M357.3 313.3h0M350.8 343.2h0M343.3 313.0h0M349.2 344.8h0M357.2 322.9h0M345.5 336.5h0M352.1 343.1h0M353.8 341.6h0M351.2 344.5h0M356.1 331.7h0M352.3 333.4h0M352.2 340.4h0M348.7 344.2h0M352.6 330.7h0M354.3 330.4h0M354.9 325.7h0M352.8 324.7h0M354.7 336.9h0M346.9 334.1h0M348.5 343.1h0M347.0 333.9h0M354.2 305.1h0M338.8 305.2h0M345.5 332.1h0M346.8 342.2h0M349.7 346.9h0M344.7 325.1h0M348.9 342.0h0M368.3 307.1h0M346.1 326.9h0M341.1 316.6h0M350.7 345.3h0M354.7 328.2h0M346.3 330.3h0M352.3 323.1h0M352.4 342.4h0M352.3 341.9h0M344.9 288.1h0M341.5 324.2h0M346.2 343.7h0M347.4 336.2h0M351.2 343.3h0M336.5 310.8h0M349.9 347.2h0M356.0 327.9h0M346.2 337.1h0M357.4 324.1h0M357.9 320.2h0M353.5 333.7h0M349.4 346.4h0M346.1 338.8h0M333.4 310.6h0M350.8 345.4h0M357.3 329.4h0M359.1 315.3h0M353.5 337.6h0M349.2 345.6h0M351.4 334.5h0M350.7 345.1h0M349.2 346.1h0M354.0 338.4h0M345.9 332.7h0M347.7 345.2h0M344.5 332.9h0M349.3 346.3h0M340.9 324.3h0M355.6 338.3h0M352.6 339.0h0M350.3 345.5h0M345.7 341.0h0M345.5 342.8h0M340.1 330.5h0M342.1 331.4h0M344.0 322.2h0M349.8 347.1h0M348.2 338.2h0M344.1 319.8h0M340.9 326.0h0M349.4 344.8h0M351.0 343.6h0M364.7 323.6h0M349.6 346.2h0M361.7 313.9h0M346.8 343.3h0M346.8 334.2h0M349.8 347.2h0M354.2 326.3h0M353.9 329.9h0M342.8 308.8h0M354.0 322.0h0M345.2 332.2h0M349.8 347.1h0M351.4 342.5h0M350.5 345.7h0M349.8 347.0h0M347.3 342.3h0M349.7 346.9h0M353.6 323.5h0M349.0 345.9h0M338.6 307.5h0M338.7 316.9h0M350.5 346.5h0M345.7 335.9h0M352.2 341.5h0M352.5 341.6h0M351.9 341.0h0M356.2 332.9h0M361.1 309.1h0M354.0 316.4h0M347.4 338.4h0M352.0 342.2h0M345.9 338.5h0M342.9 335.6h0M351.2 344.0h0M350.2 346.8h0M348.4 343.2h0M355.5 330.4h0M346.7 334.6h0M357.2 326.1h0M366.6 314.6h0M342.5 331.1h0M341.2 333.1h0M351.9 339.9h0M348.5 336.9h0M345.4 340.3h0M342.2 328.0h0M343.4 336.8h0M350.6 345.7h0M346.5 331.6h0M347.9 339.3h0M357.8 335.4h0M343.5 332.2h0M351.9 343.4h0M340.0 311.9h0M351.8 338.0h0M350.0 347.0h0M359.3 309.5h0M351.3 341.2h0M350.9 345.1h0M367.5 306.2h0M353.1 341.9h0M345.5 330.9h0M347.4 342.4h0M359.9 336.4h0M351.4 343.4h0M358.8 302.4h0M346.0 334.7h0M351.4 345.6h0M348.9 341.4h0M359.7 309.8h0M336.9 331.9h0M351.7 342.8h0M346.0 337.5h0M344.0 302.5h0M362.8 310.3h0M342.0 332.8h0M358.3 318.5h0M344.8 321.6h0M367.6 311.0h0M351.2 345.4h0M355.6 323.5h0M349.7 346.8h0M350.3 345.6h0M351.0 343.9h0M352.7 338.5h0M348.3 339.9h0M348.8 345.3h0M354.0 341.4h0M343.7 326.9h0M352.0 343.6h0M350.2 345.5h0M353.2 339.4h0M345.1 321.8h0M351.3 345.0h0M348.9 345.3h0M344.9 330.3h0M355.6 311.3h0M345.9 332.3h0M355.6 329.8h0M351.1 345.1h0M346.3 340.8h0M353.1 337.2h0M338.6 330.7h0M351.1 344.8h0M357.3 333.3h0M336.8 304.0h0M349.2 345.6h0M345.4 325.5h0M364.3 317.1h0M345.9 332.9h0M351.2 340.1h0M353.5 330.1h0M337.2 313.8h0M342.5 323.6h0M348.2 340.9h0M355.0 331.8h0M345.9 336.7h0M351.0 343.1h0M344.1 315.3h0M345.5 312.8h0M354.6 337.8h0M354.2 333.2h0M343.9 337.0h0M349.2 344.6h0M353.1 329.6h0M359.5 331.5h0M362.9 321.7h0M347.5 334.8h0M346.5 341.3h0M348.0 337.5h0M352.5 339.4h0M359.4 325.3h0M343.1 338.0h0M339.2 316.2h0M348.1 343.5h0M344.3 333.8h0M353.1 343.0h0M351.5 340.2h0M345.8 335.6h0M350.1 346.8h0M351.9 339.9h0M339.5 329.2h0M342.5 313.1h0M344.4 339.3h0M348.2 343.8h0M346.7 331.5h0M347.5 340.7h0M353.5 338.5h0M357.4 309.0h0M344.9 332.9h0M345.9 317.3h0M349.4 345.8h0M354.7 323.5h0M348.6 343.4h0M345.2 320.7h0M361.5 329.5h0M351.3 344.2h0M354.5 333.3h0M344.6 338.1h0M351.8 343.7h0M351.0 344.7h0M371.6 320.0h0M348.0 344.5h0M332.6 327.3h0M356.8 332.8h0M348.9 343.4h0M347.0 339.8h0M351.2 344.4h0M356.1 330.7h0M343.2 302.6h0M350.8 346.1h0M355.4 336.7h0M348.9 344.6h0M345.6 333.0h0M352.0 341.3h0M349.5 345.5h0M349.6 346.2h0M353.1 335.1h0M341.3 323.1h0M340.2 329.2h0M355.8 320.9h0M341.8 305.5h0M343.6 333.8h0M350.6 346.6h0M355.0 330.7h0M343.8 329.6h0M354.6 328.2h0M347.9 342.3h0M347.6 344.4h0M348.2 343.6h0M345.6 318.5h0M344.0 334.0h0M345.7 328.0h0M351.5 343.5h0M355.9 313.8h0M357.1 336.9h0M352.0 336.9h0M351.1 343.7h0M350.5 345.9h0M344.3 333.7h0M349.5 346.7h0M348.2 338.3h0M349.3 346.6h0M357.2 335.7h0M354.5 337.2h0M355.7 331.2h0M345.3 335.6h0M346.3 339.5h0M350.1 346.4h0M357.6 313.3h0M349.8 347.1h0M347.8 339.7h0M356.3 323.4h0M356.9 329.5h0M354.2 339.8h0M362.9 309.3h0M351.5 342.4h0M350.8 345.4h0M349.1 345.7h0M356.1 337.0h0M347.2 342.5h0M351.5 342.3h0M358.0 338.3h0M348.0 343.8h0M351.2 344.6h0M347.4 343.0h0M353.9 335.0h0M338.8 327.2h0M350.5 346.3h0M356.0 332.1h0M347.8 341.7h0M357.2 332.2h0M349.3 346.3h0M345.3 331.7h0M346.6 335.1h0M353.0 335.1h0M358.9 308.2h0M348.7 345.6h0M341.4 330.9h0M347.4 339.4h0M345.3 321.0h0M351.7 345.2h0M352.1 343.2h0M351.4 344.8h0M354.4 332.2h0M349.9 347.2h0M350.9 345.4h0M349.6 346.4h0M349.9 347.2h0M359.5 303.9h0M356.7 330.0h0M348.5 345.8h0M349.1 343.3h0M350.3 346.2h0M351.0 342.7h0M366.4 326.1h0M354.1 325.3h0M348.0 341.3h0M347.0 342.7h0M359.4 318.4h0M341.7 329.4h0M346.5 329.9h0M334.3 312.8h0M350.0 347.0h0M342.2 304.9h0M334.3 310.7h0M344.2 328.0h0M350.2 346.7h0M351.3 341.3h0M349.6 346.7h0M353.7 335.0h0M341.9 335.4h0M359.2 316.6h0M349.9 347.3h0M353.1 333.4h0M354.4 341.3h0M352.7 338.5h0M342.5 302.9h0M344.9 331.2h0M353.8 333.4h0M351.2 342.2h0M358.9 336.3h0M338.3 318.0h0M357.4 327.1h0M343.5 319.4h0M355.8 332.6h0M347.0 341.2h0M349.4 346.5h0M335.2 324.3h0M355.8 316.9h0M337.7 316.8h0M348.9 345.0h0M352.2 335.9h0M351.1 342.2h0M344.1 336.4h0M346.9 335.1h0M348.2 342.7h0M351.7 342.6h0M330.5 305.7h0M354.0 337.6h0M350.9 346.1h0M344.1 330.6h0M360.9 302.4h0M363.4 315.1h0M348.6 343.1h0M352.4 340.3h0M349.9 347.3h0M344.8 330.8h0M340.3 304.4h0M346.5 338.0h0M343.7 323.2h0M347.3 341.1h0M348.4 337.3h0M335.6 324.3h0M349.4 346.3h0M341.2 339.0h0M363.9 307.0h0M340.8 311.4h0M350.3 346.0h0M347.3 343.6h0M336.1 304.4h0M348.3 341.8h0M355.9 324.5h0M353.2 339.4h0M347.6 336.8h0M353.4 329.8h0M352.3 339.7h0M348.8 344.5h0M353.1 341.9h0M347.8 336.7h0M345.8 333.3h0M354.9 314.6h0M346.4 332.4h0M356.0 333.2h0M343.2 300.5h0M348.8 344.4h0M345.0 329.1h0M349.1 345.6h0M350.5 346.2h0M339.7 332.7h0M340.0 330.1h0M363.4 307.8h0M354.5 335.2h0M345.2 337.8h0M348.5 345.0h0M357.3 328.3h0M336.2 311.0h0M338.1 335.3h0M350.4 345.9h0M352.9 316.0h0M350.8 346.2h0M346.3 340.4h0M346.7 338.4h0M343.5 318.9h0M344.3 336.6h0M344.4 339.2h0M351.5 339.0h0M346.4 332.2h0M345.4 335.1h0M346.7 338.3h0M340.6 320.9h0M348.5 340.2h0M350.7 345.4h0M350.2 346.9h0M354.4 338.8h0M343.2 332.5h0M345.3 331.3h0M350.6 345.2h0M352.3 338.5h0M352.9 329.9h0M360.6 318.5h0M344.2 324.1h0M344.9 326.5h0M343.3 328.5h0M350.1 346.2h0M359.1 302.3h0M343.5 332.1h0M360.5 336.7h0M347.8 342.7h0M346.2 332.0h0M343.5 309.8h0M349.0 346.0h0M356.7 309.7h0M349.8 347.1h0M342.7 326.3h0M357.0 318.2h0M354.5 312.9h0M346.0 335.0h0M348.1 343.5h0M344.9 338.1h0M349.3 345.2h0M355.2 335.1h0M355.5 327.8h0M346.4 334.6h0M348.9 343.8h0M347.6 343.6h0M348.0 342.4h0M347.0 327.8h0M344.2 330.9h0M333.7 322.7h0M352.7 341.2h0M348.5 342.2h0M347.3 330.0h0M350.8 343.7h0M348.1 339.7h0M341.3 329.4h0M349.0 344.8h0M344.9 337.4h0M343.5 334.8h0M340.9 313.2h0M352.2 342.2h0M349.3 345.8h0M352.9 333.7h0M349.9 347.3h0M354.4 336.9h0M335.9 307.1h0M347.7 341.7h0M349.0 343.8h0M359.3 322.5h0M348.5 343.2h0M357.5 323.2h0M352.1 336.4h0M351.8 341.5h0M356.5 334.1h0M356.1 331.8h0M337.0 305.0h0M352.8 340.5h0M352.8 340.3h0M352.1 339.5h0M353.8 342.1h0M346.7 336.7h0M344.1 321.5h0M368.9 316.1h0M355.3 325.4h0M348.8 341.7h0M351.8 339.2h0M352.5 337.3h0M343.9 324.0h0M348.1 337.8h0M351.7 344.6h0M352.6 336.6h0M352.3 340.0h0M357.2 333.7h0M349.0 344.6h0M350.2 346.8h0M341.6 324.4h0M345.8 329.0h0M337.9 327.6h0M353.1 331.2h0M354.4 334.7h0M350.6 345.6h0M346.0 318.0h0M350.0 346.7h0M350.3 345.6h0M339.0 307.6h0M343.3 323.9h0M347.0 342.4h0M352.9 340.9h0M366.7 303.0h0M360.3 332.9h0M347.5 336.4h0M351.6 339.3h0M350.0 346.9h0M349.4 346.3h0M349.9 347.2h0M356.2 312.0h0M346.5 342.0h0M347.1 335.8h0M352.3 330.7h0M345.6 334.4h0M343.1 331.7h0M351.4 343.7h0M354.7 334.4h0M342.3 328.0h0M348.1 345.1h0M346.5 327.5h0M353.3 339.5h0M346.4 341.8h0M361.4 324.9h0M354.2 339.8h0M350.2 346.9h0M350.4 344.9h0M346.9 340.0h0M353.0 343.2h0M355.5 330.2h0M352.0 343.9h0M355.8 333.1h0M343.4 308.0h0M356.6 330.5h0M347.8 344.6h0M361.0 327.4h0M352.1 341.5h0M349.9 347.2h0M347.5 341.0h0M345.2 310.4h0M356.4 322.3h0M349.6 346.1h0M350.5 345.3h0M345.4 326.6h0M353.5 335.8h0M350.0 347.1h0M349.8 347.0h0M346.5 335.2h0M346.8 339.3h0M342.7 298.5h0M355.0 330.4h0M359.6 330.9h0M353.1 340.0h0M357.5 308.1h0M356.1 321.5h0M349.5 345.2h0M352.5 333.1h0M344.2 329.5h0M356.0 325.8h0M351.8 339.1h0M342.0 331.8h0M345.4 328.5h0M349.4 346.5h0M352.2 336.4h0M355.3 326.9h0M361.3 323.7h0M338.2 312.3h0M349.6 346.5h0M349.5 344.8h0M347.1 340.4h0M340.3 325.2h0M359.8 319.5h0M351.2 345.5h0M347.5 334.5h0M336.2 323.1h0M346.0 338.8h0M348.8 345.0h0M338.1 314.0h0M352.2 342.3h0M354.5 335.6h0M362.6 315.3h0M361.4 328.3h0M350.5 345.8h0M358.5 334.7h0M343.6 331.0h0M351.2 345.3h0M354.7 339.3h0M344.0 333.5h0M349.2 344.6h0M343.3 328.1h0M357.9 339.1h0M356.0 313.4h0M348.0 340.5h0M352.3 342.7h0M352.1 344.3h0M359.4 304.8h0M352.6 341.9h0M348.8 341.2h0M353.6 334.5h0M351.7 341.3h0M344.9 319.7h0M341.1 306.6h0M351.6 344.4h0M343.7 331.8h0M347.2 334.3h0M343.8 306.2h0M347.6 339.4h0M344.6 332.2h0M350.0 347.2h0M346.9 334.2h0M350.8 344.3h0M354.2 341.9h0M354.5 336.7h0M352.1 341.6h0M350.9 343.7h0M347.7 343.4h0M347.6 339.7h0M339.1 302.9h0M356.1 329.2h0M350.8 344.5h0M350.7 344.5h0M349.7 347.0h0M336.6 331.4h0M354.3 339.2h0M349.3 346.3h0M346.9 340.6h0M351.2 345.4h0M342.0 316.8h0M348.5 345.1h0M346.9 341.8h0M352.4 342.4h0M353.6 323.8h0M352.2 340.7h0M346.1 336.9h0M349.4 345.5h0M354.5 316.2h0M350.1 347.0h0M351.2 340.1h0M350.6 345.3h0M350.9 342.4h0M349.0 345.4h0M342.1 333.0h0M360.6 336.6h0M348.2 344.7h0M354.5 332.5h0M349.1 345.5h0M348.8 345.1h0M352.9 339.0h0M356.8 324.0h0M353.6 335.0h0M345.8 333.9h0M348.0 345.0h0M348.2 342.7h0M359.2 316.2h0M354.3 340.1h0M348.7 343.8h0M346.8 339.5h0M355.2 333.8h0M355.5 335.2h0M351.0 343.5h0M351.4 337.9h0M353.8 338.7h0M349.3 345.5h0M346.5 332.5h0M357.3 318.0h0M347.4 340.6h0M345.8 312.2h0M350.8 344.1h0M347.4 335.0h0M349.9 347.2h0M345.8 326.6h0M356.0 331.5h0M346.1 333.5h0M351.1 342.8h0M351.4 343.0h0M331.7 315.1h0M365.2 328.7h0M348.1 342.9h0M358.8 307.6h0M350.7 343.7h0M338.8 320.6h0M349.1 345.6h0M351.9 342.7h0M358.4 334.5h0M353.6 330.6h0M339.2 322.3h0M342.8 328.3h0M353.8 342.2h0M342.3 335.7h0M346.0 334.2h0M344.3 286.7h0M354.7 327.4h0M342.0 319.8h0M350.8 344.3h0M350.8 339.9h0M345.6 336.6h0M351.5 345.0h0M347.2 343.2h0M347.9 342.4h0M350.4 345.9h0M342.6 329.5h0M348.3 341.1h0M348.7 344.7h0M343.3 331.6h0M356.4 328.4h0M353.4 325.2h0M348.4 344.0h0M347.7 331.7h0M353.1 340.4h0M355.6 312.6h0M340.0 301.6h0M356.4 301.6h0M340.4 333.6h0M347.1 334.1h0M356.2 321.7h0M347.9 343.7h0M356.6 324.3h0M353.0 342.0h0M349.9 347.1h0M356.9 323.5h0M354.0 327.1h0M343.6 335.0h0M353.8 334.4h0M343.9 335.3h0M354.4 339.6h0M350.3 346.3h0M349.2 346.0h0M347.9 340.4h0M340.6 317.8h0M353.6 327.8h0M351.2 342.5h0M361.8 310.0h0M348.7 345.0h0M350.8 346.0h0M348.5 343.4h0M342.7 332.6h0M359.0 324.8h0M351.4 339.5h0M353.3 342.5h0M354.3 328.5h0M356.6 333.7h0M351.3 345.2h0M354.8 325.7h0M352.9 333.7h0M347.7 344.5h0M358.1 327.0h0M345.7 336.4h0M348.6 344.4h0M344.4 338.0h0M356.8 332.6h0M347.9 342.4h0M351.1 343.6h0M353.6 322.9h0M335.5 306.9h0M348.4 336.8h0M340.7 332.4h0M347.2 335.2h0M348.7 344.7h0M356.0 327.7h0M351.5 343.8h0M345.4 341.5h0M346.4 302.8h0M350.3 346.4h0M350.3 346.0h0M348.4 341.9h0M348.7 341.4h0M351.5 341.8h0M354.2 329.8h0M350.4 345.4h0M351.0 345.2h0M353.7 340.0h0M340.2 323.9h0M348.4 343.8h0M341.7 335.6h0M356.4 333.4h0M345.0 331.7h0M349.9 347.2h0M339.8 316.2h0M356.1 324.2h0M354.0 336.7h0M336.0 332.3h0M348.6 342.3h0M355.1 332.5h0M356.8 329.6h0M351.6 344.8h0M343.6 323.9h0M348.2 342.6h0M334.6 316.0h0M347.9 340.7h0M350.2 346.1h0M351.5 343.8h0M344.0 338.2h0M357.4 332.5h0M339.5 327.9h0M360.7 305.7h0M354.1 340.7h0M350.7 343.7h0M355.0 311.1h0M344.5 331.4h0M350.7 346.3h0M344.3 322.4h0M345.4 337.3h0M359.4 314.7h0M347.9 340.9h0M343.7 332.9h0M346.0 341.1h0M347.7 342.1h0M344.8 297.8h0M339.3 322.7h0M350.5 346.2h0M350.1 346.2h0M352.8 334.3h0M347.2 344.1h0M360.3 321.8h0M352.5 338.7h0M333.8 319.6h0M344.8 321.7h0M349.4 346.3h0M349.2 343.9h0M362.1 320.1h0M351.0 345.8h0M341.3 331.2h0M353.9 317.6h0M342.7 322.3h0M346.7 336.0h0M337.8 327.2h0M333.4 328.6h0M353.9 332.2h0M341.0 328.9h0M351.4 333.6h0M340.6 325.8h0M352.4 327.7h0M345.1 339.4h0M343.1 325.9h0M338.1 324.5h0M345.2 340.3h0M351.2 339.9h0M347.5 340.8h0M354.0 341.2h0M352.6 341.2h0M349.5 346.6h0M355.6 336.8h0M346.8 335.3h0M359.5 333.7h0M336.9 305.1h0M353.1 339.5h0M349.1 342.0h0M338.9 312.8h0M364.4 319.2h0M350.9 345.3h0M346.2 336.5h0M352.1 344.7h0M346.8 339.7h0M351.7 340.5h0M337.6 309.8h0M354.5 337.7h0M342.8 326.9h0M361.5 317.9h0M351.0 343.9h0M340.0 308.2h0M346.4 337.6h0M351.1 342.1h0M354.7 320.6h0M348.5 344.7h0M353.1 330.6h0M356.4 330.9h0M351.5 342.9h0M356.0 340.0h0M350.4 345.8h0M350.5 346.1h0M348.0 342.2h0M353.5 335.4h0M352.3 343.3h0M350.5 343.5h0M348.7 341.1h0M347.0 341.4h0M351.8 341.6h0M350.5 344.0h0M351.3 340.8h0M347.3 337.6h0M361.3 328.1h0M347.8 343.1h0M358.3 315.7h0M343.7 324.6h0M349.3 346.4h0M349.7 346.8h0M353.6 337.3h0M345.8 333.5h0M342.7 330.7h0M347.1 338.5h0M359.6 325.6h0M348.3 344.7h0M349.1 345.7h0M343.7 309.1h0M341.7 318.1h0M359.3 325.1h0M351.3 342.2h0M352.8 337.9h0M349.4 345.9h0M349.8 347.0h0M354.1 336.1h0M341.8 316.7h0M350.1 346.7h0M349.6 346.7h0M357.6 325.0h0M346.2 323.4h0M355.9 332.1h0M354.1 334.5h0M344.1 336.2h0M353.4 339.7h0M346.9 337.1h0M345.1 332.8h0M349.8 346.9h0M343.5 325.5h0M351.5 344.2h0M347.2 329.5h0M355.5 321.3h0M347.7 333.9h0M352.5 342.5h0M360.4 323.8h0M348.9 343.1h0M366.4 319.0h0M349.6 345.9h0M358.3 309.5h0M354.8 332.0h0M337.8 311.7h0M344.7 326.7h0M354.2 333.2h0M354.5 337.1h0M357.3 313.0h0M355.2 335.9h0M357.8 305.8h0M346.4 344.3h0M352.1 342.0h0M347.4 337.5h0M352.5 329.5h0M349.5 346.9h0M355.5 319.7h0M342.4 336.3h0M346.2 332.9h0M350.5 346.2h0M340.7 320.2h0M351.7 340.1h0M363.0 320.9h0M349.9 347.2h0M346.9 339.4h0M351.8 340.8h0M344.3 326.4h0M353.6 341.0h0M352.0 341.2h0M340.7 322.8h0M351.8 342.7h0M349.4 344.5h0M354.9 329.0h0M350.1 346.9h0M353.4 302.7h0M336.2 332.7h0M356.6 323.1h0M354.6 337.7h0M344.3 335.2h0M331.5 316.5h0M350.3 346.0h0M349.8 347.2h0M345.5 340.2h0M346.9 342.1h0M348.0 344.0h0M348.8 343.5h0M351.4 345.5h0M349.3 345.4h0M353.0 319.6h0M351.9 344.0h0M357.0 337.1h0M351.0 340.1h0M344.1 336.3h0M358.5 327.6h0M350.1 346.5h0M348.6 343.8h0M337.4 313.4h0M345.6 336.3h0M346.5 327.2h0M352.7 340.0h0M359.2 321.2h0M341.0 307.3h0M348.6 344.2h0M348.2 335.5h0M349.4 345.9h0M355.5 322.3h0M346.3 337.3h0M347.9 331.7h0M348.5 344.7h0M349.1 344.8h0M350.1 347.0h0M335.8 313.0h0M350.8 345.2h0M354.2 331.3h0M350.5 345.5h0M354.3 339.0h0M349.0 344.6h0M343.8 334.5h0M352.0 341.1h0M345.5 337.8h0M348.2 343.7h0M351.6 339.7h0M360.5 313.7h0M345.5 329.1h0M333.2 318.3h0M335.6 323.9h0M348.2 344.5h0M342.3 324.7h0M349.4 345.6h0M346.6 339.6h0M355.4 331.3h0M348.3 344.6h0M354.3 331.1h0M347.9 337.2h0M341.3 324.4h0M344.6 327.9h0M357.5 332.9h0M354.1 335.2h0M349.2 343.9h0M353.6 341.6h0M348.1 341.8h0M349.4 345.7h0M352.4 340.2h0M347.8 343.8h0M349.6 346.4h0M344.4 335.2h0M351.2 345.2h0M359.1 323.6h0M340.9 316.3h0M348.1 343.3h0M349.6 346.8h0M356.5 313.3h0M354.1 339.7h0M353.5 339.3h0M348.1 341.7h0M352.4 341.4h0M354.6 335.1h0M345.6 318.4h0M348.0 340.1h0M348.0 341.6h0M351.0 341.7h0M365.0 303.7h0M353.5 328.9h0M340.9 331.4h0M348.7 343.0h0M349.9 347.3h0M348.5 344.5h0M346.5 337.9h0M348.3 345.0h0M353.5 341.2h0M353.9 342.2h0M346.4 339.9h0M337.0 306.4h0M344.7 335.9h0M353.1 335.1h0M348.1 338.5h0M350.1 346.2h0M350.1 346.9h0M348.8 345.0h0M340.5 334.2h0M348.0 344.7h0M348.3 342.5h0M350.7 344.9h0M347.3 318.1h0M352.7 341.9h0M349.5 346.9h0M346.8 343.8h0M351.0 344.3h0M340.9 318.7h0M356.1 329.0h0M348.9 344.4h0M351.1 345.5h0M344.1 317.3h0M338.5 321.4h0M357.9 330.9h0M349.2 343.9h0M352.8 340.5h0M352.8 337.8h0M348.3 341.7h0M356.0 333.2h0M348.7 342.3h0M348.6 342.7h0M351.5 342.8h0M357.3 336.4h0M352.7 336.0h0M355.3 330.9h0M347.9 342.2h0M351.8 342.4h0M355.7 337.6h0M340.7 314.6h0M342.5 334.1h0M342.8 316.9h0M355.4 337.4h0M345.5 336.7h0M351.2 342.8h0M349.8 346.8h0M334.8 308.5h0M347.3 330.9h0M347.7 337.3h0M349.3 344.9h0M348.8 345.0h0M345.9 335.6h0M362.7 309.0h0M348.2 343.4h0M346.7 327.7h0M354.7 335.6h0M354.6 339.6h0M355.3 320.1h0M352.1 343.4h0M354.1 334.2h0M338.8 319.9h0M341.7 321.4h0M356.7 315.2h0M343.9 319.2h0M343.8 329.1h0M356.9 327.9h0M350.5 345.3h0M355.2 327.0h0M340.8 326.4h0M353.3 337.9h0M357.0 302.0h0M351.0 344.0h0M352.5 339.0h0M345.4 310.8h0M343.5 338.3h0M350.5 344.5h0M354.2 334.2h0M363.6 327.2h0M355.7 333.7h0M352.7 339.4h0M355.3 340.5h0M359.1 336.3h0M350.0 347.1h0M349.7 346.6h0M344.8 340.1h0M356.4 341.4h0M346.2 333.5h0M341.3 329.9h0M336.1 302.5h0M346.9 340.6h0M357.2 329.0h0M353.6 338.5h0M358.9 323.3h0M356.1 318.1h0M345.4 328.2h0M350.7 343.7h0M351.6 339.9h0M345.1 323.0h0M347.7 342.4h0M344.4 331.0h0M352.3 343.0h0M343.4 338.9h0M340.1 304.3h0M338.6 319.7h0M348.5 341.8h0M350.9 343.1h0M350.0 347.1h0M351.8 340.8h0M346.7 340.6h0M332.8 327.7h0M347.6 341.9h0M353.1 339.5h0M346.7 333.5h0M352.7 341.7h0M344.0 333.9h0M355.2 332.1h0M349.4 345.2h0M372.7 302.0h0M348.5 343.1h0M342.7 337.4h0M348.4 339.1h0M352.3 343.3h0M341.3 334.2h0M345.7 336.5h0M353.1 333.0h0M352.4 338.1h0M349.6 346.6h0M346.8 309.8h0M346.3 328.7h0M344.8 338.0h0M341.6 326.7h0M356.1 327.4h0M348.7 340.8h0M345.1 331.7h0M346.8 334.1h0M355.9 316.8h0M347.0 337.9h0M348.6 344.6h0M350.1 346.6h0M347.7 338.5h0M346.9 334.0h0M347.4 337.6h0M350.2 346.5h0M361.6 309.5h0M347.1 338.9h0M347.2 340.5h0M345.3 327.8h0M333.5 312.9h0M340.9 337.5h0M340.3 312.7h0M349.6 346.9h0M358.2 319.4h0M351.1 344.8h0M353.3 340.3h0M351.9 340.1h0M362.3 328.8h0M353.0 335.5h0M350.2 346.8h0M345.7 340.8h0M358.2 338.9h0M366.6 316.1h0M345.2 341.7h0M344.2 317.0h0M347.4 342.6h0M349.0 343.8h0M353.3 332.5h0M332.7 319.8h0M342.7 334.2h0M329.0 313.2h0M341.1 326.9h0M345.0 339.4h0M347.4 337.0h0M349.7 346.3h0M355.3 326.8h0M350.5 346.1h0M344.8 330.1h0M349.9 347.2h0M354.7 336.1h0M359.0 334.4h0M346.1 317.7h0M334.3 305.1h0M334.7 324.2h0M346.9 312.1h0M333.5 312.5h0M348.7 345.2h0M353.7 327.7h0M341.0 325.9h0M339.1 328.1h0M351.7 341.1h0M355.9 336.7h0M346.8 329.9h0M337.6 315.7h0M348.4 339.6h0M339.0 316.7h0M353.4 322.8h0M353.4 325.7h0M347.1 332.6h0M344.5 333.7h0M357.5 328.6h0M356.2 323.3h0M348.1 339.4h0M345.0 330.0h0M354.7 325.7h0M350.6 345.7h0M344.7 335.1h0M352.6 328.7h0M351.7 340.0h0M339.0 322.7h0M343.5 335.4h0M350.1 346.8h0M345.9 332.2h0M355.3 331.4h0M353.7 341.0h0M348.6 343.3h0M345.0 336.5h0M349.4 345.5h0M351.4 343.1h0M349.1 345.9h0M350.4 345.4h0M346.7 335.0h0M344.8 323.8h0M342.7 336.9h0M344.2 324.2h0M338.3 332.3h0M347.2 338.3h0M331.3 321.9h0M359.0 323.5h0M332.9 318.1h0M345.7 335.7h0M351.8 344.9h0M351.5 340.3h0M346.9 337.2h0M352.4 342.1h0M357.4 316.9h0M349.8 346.9h0M361.2 330.4h0M353.2 314.2h0M344.1 332.6h0M348.3 342.9h0M353.7 330.9h0M345.1 335.4h0M344.4 319.0h0M351.6 339.5h0M350.7 344.7h0M344.6 333.4h0M346.2 341.0h0M351.9 343.0h0M345.2 303.8h0M347.8 341.5h0M349.7 346.7h0M352.1 342.8h0M353.1 334.6h0M356.2 334.7h0M348.5 343.9h0M350.9 344.8h0M345.7 339.0h0M346.2 336.8h0M357.1 305.3h0M346.6 342.0h0M365.2 330.3h0M344.7 321.9h0M359.8 318.9h0M359.1 326.0h0M350.0 347.0h0M357.6 327.7h0M343.4 334.9h0M349.9 347.3h0M353.6 322.5h0M349.5 345.8h0M351.4 343.8h0M349.4 345.3h0M355.8 331.1h0M360.5 304.5h0M346.5 339.4h0M350.2 346.7h0M342.8 340.8h0M353.5 333.9h0M356.2 324.6h0M353.9 343.4h0M349.0 345.5h0M342.8 329.7h0M355.3 338.2h0M345.3 332.6h0M343.2 321.1h0M348.7 343.5h0M347.8 333.0h0M346.0 340.4h0M352.4 342.4h0M349.1 342.9h0M353.7 337.7h0M355.4 333.8h0M351.0 344.5h0M362.3 303.5h0M349.2 344.4h0M343.5 316.5h0M349.0 344.4h0M348.5 342.1h0M348.9 338.7h0M353.8 325.7h0M349.0 341.9h0M353.5 337.0h0M346.6 341.5h0M342.9 333.8h0M352.5 333.8h0M351.9 341.1h0M349.5 346.9h0M353.1 334.1h0M351.5 337.8h0M336.9 304.4h0M346.5 340.4h0M351.4 339.5h0M350.3 345.8h0M351.7 339.4h0M354.6 340.3h0M350.4 346.4h0M351.9 334.9h0M350.9 341.9h0M353.0 344.7h0M351.2 342.8h0M349.4 345.7h0M354.1 336.0h0M362.3 311.7h0M342.4 330.7h0M342.2 322.0h0M357.3 313.2h0M344.0 312.3h0M348.4 343.4h0M351.7 342.6h0M347.5 343.1h0M353.0 338.1h0M349.8 346.9h0M357.3 315.4h0M349.0 342.8h0M350.4 345.8h0M351.0 341.8h0M351.5 342.0h0M336.9 307.2h0M348.2 342.4h0M353.4 335.9h0M341.4 324.0h0M355.5 326.9h0M346.5 333.6h0M348.6 338.3h0M343.6 319.1h0M357.0 327.0h0M347.9 344.0h0M347.6 338.1h0M351.3 344.6h0M352.4 340.5h0M349.3 342.4h0M346.7 329.3h0M342.8 326.7h0M345.3 323.9h0M342.5 335.9h0M348.0 340.2h0M348.4 337.7h0M351.8 342.0h0M351.6 337.5h0M342.7 329.0h0M353.4 341.1h0M348.8 343.9h0M349.9 347.2h0M346.9 341.5h0M346.9 341.6h0M348.0 340.8h0M350.2 346.0h0M356.0 329.8h0M354.0 341.3h0M365.1 322.3h0M346.7 341.3h0M348.4 341.9h0M343.0 337.3h0M346.4 341.7h0M338.7 323.8h0M346.0 323.7h0M358.5 314.0h0M355.4 317.9h0M347.9 343.9h0M348.8 343.1h0M345.8 337.1h0M351.6 341.1h0M359.9 321.0h0M348.7 346.3h0M351.9 339.4h0M342.8 333.6h0M357.1 321.2h0M348.0 343.7h0M346.5 341.1h0M347.8 342.8h0M375.6 312.4h0M348.2 343.2h0M346.7 341.8h0M351.7 344.0h0M350.3 346.7h0M352.0 336.9h0M356.4 331.7h0M346.0 340.7h0M349.4 346.4h0M353.3 338.4h0M363.1 315.6h0M346.9 339.1h0M358.1 337.4h0M342.1 314.6h0M341.2 321.6h0M355.2 315.3h0M344.3 329.2h0M338.0 316.7h0M351.7 344.5h0M358.2 320.7h0M358.9 315.4h0M346.8 332.7h0M351.0 345.3h0M351.4 345.0h0M355.7 342.1h0M349.7 346.2h0M354.2 326.2h0M351.3 344.3h0M352.4 345.2h0M355.1 336.2h0M349.2 346.0h0M345.6 336.6h0M350.8 345.2h0M363.6 310.8h0M352.5 336.0h0M339.8 312.3h0M362.3 310.1h0M346.0 332.2h0M353.0 342.0h0M349.8 346.7h0M343.9 333.8h0M347.9 336.7h0M361.7 322.0h0M343.2 329.1h0M350.9 343.0h0M345.9 333.6h0M343.2 336.1h0M348.2 343.3h0M352.1 344.2h0M340.9 320.2h0M356.8 335.6h0M349.5 346.3h0M345.7 330.7h0M369.0 304.7h0M342.3 335.0h0M343.3 333.2h0M346.6 333.2h0M350.8 346.3h0M357.4 319.3h0M349.9 347.2h0M362.2 316.2h0M358.4 304.3h0M356.8 308.3h0M354.9 328.4h0M362.4 308.0h0M358.0 321.0h0M349.3 345.9h0M345.4 327.4h0M361.5 327.4h0M347.6 342.2h0M351.2 343.3h0M344.5 336.2h0M352.3 342.7h0M355.3 318.0h0M348.2 345.0h0M348.0 340.1h0M370.9 315.0h0M344.7 323.4h0M350.3 346.3h0M345.5 326.5h0M355.1 318.2h0M347.1 342.2h0M350.3 345.2h0M352.6 337.7h0M348.8 343.4h0M348.3 332.8h0M359.5 312.3h0M350.8 344.4h0M337.5 334.4h0M347.9 338.0h0M338.5 318.5h0M351.9 337.3h0M352.3 341.0h0M351.9 334.8h0M347.7 337.1h0M345.8 342.0h0M339.5 314.2h0M348.3 344.1h0M342.6 293.2h0M347.6 332.3h0M343.8 316.8h0M345.2 341.3h0M351.3 342.9h0M351.1 342.9h0M347.3 321.2h0M355.5 329.3h0M353.3 336.0h0M343.5 321.6h0M360.8 327.6h0M360.7 333.5h0M342.3 333.9h0M342.6 332.4h0M346.2 339.0h0M350.0 347.2h0M350.1 346.3h0M344.1 341.0h0M337.7 306.2h0M349.6 346.6h0M351.2 342.1h0M350.9 342.3h0M342.5 306.5h0M348.8 343.7h0M347.5 339.7h0M337.2 328.3h0M345.7 336.7h0M352.3 341.6h0M351.3 342.8h0M367.0 325.6h0M343.6 340.9h0M336.8 316.7h0M367.0 317.9h0M364.7 326.4h0M350.5 346.3h0M348.8 345.4h0M344.1 339.7h0M359.5 324.6h0M337.4 311.5h0M346.5 334.9h0M354.3 329.1h0M355.0 328.3h0M350.5 344.8h0M349.5 346.7h0M338.6 319.5h0M334.7 327.0h0M340.6 327.5h0M341.9 311.2h0M351.5 344.8h0M344.8 318.9h0M354.4 335.9h0M350.6 345.0h0M349.4 345.9h0M350.3 346.1h0M344.5 340.0h0M344.6 330.1h0M341.0 326.4h0M350.8 345.0h0M345.2 336.1h0M351.8 343.0h0M354.7 319.0h0M350.7 345.4h0M350.7 344.0h0M351.9 341.8h0M352.2 342.5h0M352.7 340.4h0M344.2 314.9h0M349.6 346.7h0M344.6 329.3h0M344.8 337.2h0M344.0 335.1h0M345.4 330.3h0M353.5 342.5h0M353.1 331.0h0M356.3 321.5h0M345.4 337.2h0M351.1 343.8h0M348.3 344.6h0M344.5 322.4h0M351.5 344.0h0M347.0 340.1h0M343.9 309.3h0M358.3 333.3h0M340.3 333.3h0M344.3 339.1h0M340.9 305.2h0M334.4 303.6h0M332.1 305.7h0M345.7 331.0h0M352.6 341.9h0M348.7 343.1h0M348.8 343.9h0M349.4 346.1h0M353.4 339.7h0M357.8 327.4h0M347.7 339.4h0M351.7 340.8h0M347.4 340.0h0M350.0 347.0h0M352.0 339.4h0M350.0 347.2h0M352.3 340.2h0M349.5 346.2h0M353.4 330.0h0M346.6 335.6h0M339.6 316.7h0M353.2 333.3h0M348.6 344.7h0M346.5 332.0h0M349.9 347.3h0M347.5 343.9h0M350.4 346.2h0M355.7 339.1h0M350.7 345.2h0M347.3 341.0h0M354.0 335.2h0M350.9 339.9h0M357.8 302.3h0M350.9 344.4h0M355.6 330.9h0M357.5 317.5h0M358.8 321.3h0M345.8 327.2h0M352.6 336.6h0M351.3 341.4h0M350.5 346.2h0M343.1 337.6h0M349.8 346.9h0M346.5 331.6h0M341.6 331.7h0M352.4 341.6h0M341.4 325.8h0M352.5 341.2h0M344.5 321.6h0M346.3 340.7h0M345.3 338.4h0M359.5 322.0h0M345.1 334.0h0M363.5 302.4h0M347.7 342.2h0M357.0 308.8h0M348.5 341.3h0M348.4 339.5h0M348.8 345.0h0M366.4 319.0h0M361.5 312.4h0M355.0 315.2h0M341.6 318.0h0M350.9 345.1h0M354.7 322.6h0M352.3 343.6h0M350.3 346.7h0M347.3 340.4h0M333.7 309.2h0M350.3 346.7h0M340.6 316.4h0M361.3 316.6h0M346.6 332.7h0M346.6 339.4h0M341.4 319.8h0M344.9 336.1h0M351.8 341.6h0M347.9 344.2h0M349.6 346.5h0M354.1 327.9h0M352.6 334.3h0M349.7 346.4h0M347.4 339.0h0M345.7 333.2h0M350.8 345.0h0M358.6 324.7h0M353.3 332.8h0M349.3 345.9h0M351.1 343.1h0M347.8 337.5h0M346.7 334.3h0M348.5 341.7h0M345.3 321.6h0M355.2 335.7h0M366.6 306.0h0M349.6 345.7h0M344.0 319.6h0M357.6 314.6h0M342.9 324.4h0M356.1 330.7h0M343.5 325.8h0M347.3 340.6h0M359.1 332.4h0M349.8 346.9h0M343.5 336.8h0M354.5 333.4h0M347.5 338.9h0M346.6 338.1h0M337.3 306.3h0M351.9 339.8h0M362.4 325.5h0M343.2 317.7h0M344.0 326.0h0M350.8 344.6h0M352.8 338.8h0M346.8 338.4h0M343.8 330.3h0M350.3 346.3h0M359.3 309.4h0M353.2 338.4h0M348.4 340.0h0M350.5 345.8h0M347.0 341.2h0M347.2 323.1h0M356.2 335.2h0M353.4 337.4h0M342.8 340.1h0M350.3 346.0h0M348.6 344.7h0M349.2 346.5h0M354.7 279.7h0" stroke="#bebebe" stroke-width="2.55" stroke-linecap="round" fill="none"/><path d="M339.3 279.9h0M334.3 293.5h0M334.3 230.7h0M337.7 293.7h0M333.8 298.8h0M330.5 301.1h0M340.5 276.2h0M333.3 298.8h0M337.1 292.5h0M339.8 267.3h0M332.6 282.3h0M342.4 281.8h0M336.0 282.7h0M335.8 241.6h0M335.7 261.8h0M342.0 282.5h0M338.6 285.3h0M338.0 288.2h0M334.6 298.1h0M343.4 297.1h0M343.2 300.8h0M334.8 253.3h0M340.5 293.7h0M342.5 301.0h0M335.6 282.4h0M337.7 257.3h0M328.7 277.5h0M341.6 297.7h0M336.9 299.5h0M329.9 297.3h0M324.7 271.4h0M340.7 300.9h0M328.9 284.9h0M331.0 282.9h0M322.0 297.1h0M340.4 298.1h0M319.1 273.3h0M335.9 279.9h0M335.6 293.6h0M332.5 273.6h0M336.9 281.8h0M341.5 300.7h0M337.5 291.3h0M341.7 297.5h0M329.6 291.9h0M332.4 280.3h0M342.4 282.4h0M341.8 289.2h0M333.3 301.1h0M326.5 278.6h0M336.0 225.8h0M342.8 300.2h0M331.6 299.9h0M341.8 299.6h0M338.3 286.3h0M340.1 294.3h0M338.9 285.9h0M335.8 285.1h0M340.1 299.6h0M334.1 299.3h0M336.0 258.2h0M307.3 271.1h0M324.1 280.8h0M325.3 279.0h0M338.2 283.4h0M343.5 300.1h0M325.8 261.4h0M335.1 281.9h0M340.4 300.9h0M341.8 298.6h0M342.0 296.9h0M340.5 297.0h0M340.3 271.0h0M338.4 240.0h0M333.1 296.5h0M339.9 276.2h0M334.9 295.8h0M331.6 288.5h0M324.3 293.7h0M328.5 297.1h0M336.9 268.8h0M336.1 300.2h0M336.4 277.1h0M336.9 264.5h0M340.0 286.0h0M325.2 282.0h0M337.5 262.7h0M337.5 296.4h0M335.4 283.7h0M340.8 300.4h0M341.0 257.1h0M323.4 290.0h0M339.5 276.4h0M336.6 282.6h0M341.4 292.8h0M334.4 298.7h0M341.1 272.6h0M339.3 294.7h0M329.8 300.4h0M338.1 296.4h0M341.5 293.6h0M333.7 288.0h0M340.0 270.7h0M340.7 284.5h0M338.3 283.9h0M342.4 292.1h0M340.5 289.0h0M332.9 293.9h0M340.7 275.7h0M335.8 254.1h0M337.0 293.2h0M330.5 268.6h0M337.8 298.9h0M334.6 300.6h0M339.9 278.6h0M339.6 274.6h0M342.1 287.4h0M336.1 283.1h0M329.4 298.0h0M340.6 286.2h0M330.2 298.0h0M336.9 275.3h0M341.0 282.8h0M338.2 244.3h0M338.1 295.7h0M335.2 299.8h0M313.2 275.2h0M335.6 270.0h0M338.0 294.1h0M342.1 292.8h0M341.8 289.7h0M337.9 299.1h0M338.7 274.7h0M332.7 298.3h0M337.7 299.1h0M340.1 300.0h0M334.6 287.3h0M322.6 285.0h0M331.3 296.5h0" stroke="#0000ff" stroke-width="2.55" stroke-linecap="round" fill="none"/><path d="M362.4 294.5h0M363.8 287.0h0M360.0 301.3h0M379.1 286.0h0M363.2 271.6h0M362.0 246.5h0M357.4 291.9h0M361.3 295.9h0M360.6 299.5h0M360.0 295.7h0M358.8 285.2h0M363.3 285.2h0M356.9 294.5h0M367.0 296.5h0M360.1 275.1h0M360.2 300.7h0M361.9 293.6h0M359.5 290.6h0M358.9 296.1h0M357.7 299.5h0M360.7 272.1h0M361.9 290.4h0M359.8 282.2h0M366.9 279.8h0M359.9 275.7h0M360.3 263.3h0M359.6 259.2h0M363.6 263.5h0M361.6 278.7h0M358.6 276.4h0M359.4 281.6h0M358.1 291.6h0M364.5 295.0h0M364.2 277.5h0M360.6 298.4h0M362.2 274.8h0M378.9 291.8h0M358.8 296.6h0M361.1 258.6h0M362.9 272.5h0M371.4 267.3h0M361.0 260.9h0M363.7 282.2h0M361.6 296.1h0M362.4 287.7h0M362.6 252.2h0M368.5 299.2h0M361.5 299.9h0M364.1 296.6h0M365.4 278.7h0M360.6 261.9h0M357.2 297.7h0M376.3 289.5h0M363.5 264.7h0M362.1 286.2h0M374.6 297.1h0M378.1 277.9h0M359.1 286.3h0M377.1 264.3h0M358.4 297.6h0M364.5 288.5h0M360.5 292.9h0M360.2 287.8h0M364.3 262.9h0M361.8 254.6h0M358.3 277.1h0M359.5 295.5h0M358.6 288.6h0M363.9 244.2h0M359.1 283.4h0M359.1 294.0h0M362.5 298.6h0M361.2 301.1h0M359.4 294.4h0M357.0 288.4h0M357.4 301.0h0M357.7 284.6h0M360.6 297.6h0M358.3 276.6h0M361.8 291.1h0M359.0 286.0h0M364.4 300.2h0M362.7 294.9h0M360.1 282.2h0M363.2 245.0h0M360.5 290.2h0M360.1 284.1h0M360.1 287.8h0M362.0 296.9h0M361.7 300.0h0M362.4 275.0h0M376.3 283.0h0M357.0 291.0h0M368.0 274.9h0M366.2 290.9h0M359.7 284.5h0M369.9 279.4h0M369.1 289.5h0M358.7 300.9h0M366.6 301.2h0M378.3 282.2h0M364.7 258.0h0M364.8 243.3h0M364.9 280.4h0M367.6 280.3h0M358.0 285.5h0M370.2 299.1h0M378.8 283.9h0M359.9 289.7h0M361.5 296.3h0M360.9 299.4h0M364.0 293.4h0M362.0 258.4h0M357.1 294.2h0M358.8 297.7h0M358.9 285.2h0M357.4 297.6h0M361.5 294.6h0M360.8 256.0h0M362.6 275.4h0M358.7 270.1h0M366.1 258.9h0M379.0 298.9h0M358.0 285.3h0M360.6 300.2h0M363.6 285.4h0M365.9 264.3h0M362.2 297.1h0M358.7 287.4h0M362.7 289.4h0M362.7 298.4h0M371.2 258.3h0M359.2 292.4h0M373.3 299.0h0M357.3 299.1h0M364.8 291.0h0M356.9 285.6h0M359.8 300.2h0M360.1 280.2h0M364.7 280.9h0M359.8 265.2h0M360.7 264.8h0M360.7 294.9h0M369.2 275.1h0M357.8 278.9h0M361.7 228.9h0M379.5 269.1h0M362.2 284.7h0M357.8 263.8h0M361.7 296.3h0M362.3 262.2h0M359.1 288.8h0M373.3 284.6h0M361.7 278.4h0M366.1 294.8h0M361.5 282.7h0M357.5 285.8h0M363.8 297.8h0M357.6 276.2h0M361.4 286.0h0M360.5 260.6h0M356.9 299.8h0M360.3 264.4h0M362.1 297.4h0M360.3 278.4h0M359.2 255.4h0M358.4 293.9h0M358.7 299.0h0M364.5 283.1h0M362.6 288.6h0M361.3 264.5h0M358.6 283.2h0M370.2 297.3h0M358.2 294.8h0M358.4 277.1h0M361.2 282.2h0M371.2 288.3h0M363.1 294.7h0M356.7 291.8h0M357.4 298.2h0M357.1 297.9h0M359.9 294.3h0M358.9 297.0h0M359.6 290.0h0M360.9 298.6h0M359.3 282.7h0M364.7 276.7h0M368.6 285.7h0M363.8 295.0h0M367.5 293.1h0M357.2 297.6h0M359.8 268.9h0M361.3 288.9h0M359.0 262.0h0M358.9 291.1h0M362.1 279.7h0M377.0 299.6h0M357.0 288.2h0M366.4 289.0h0M361.8 267.4h0M378.6 288.4h0M359.5 288.1h0" stroke="#ff0000" stroke-width="2.55" stroke-linecap="round" fill="none"/><rect x="250.4" y="209.3" width="198.8" height="144.4" fill="none" stroke="#7a7a7a" stroke-width="1"/><rect x="250.4" y="193.5" width="198.8" height="15.8" fill="#d9d9d9" stroke="#555" stroke-width="0.9"/><line x1="250.4" y1="209.3" x2="449.2" y2="209.3" stroke="#444" stroke-width="1.3"/><text x="349.8" y="204.2" font-size="8.1" text-anchor="middle" fill="#1a1a1a">Volcano Plot</text><path d="M293.9 353.7v2.6M349.9 353.7v2.6M405.9 353.7v2.6M250.4 347.3h-2.6M250.4 312.05h-2.6M250.4 276.8h-2.6M250.4 241.55h-2.6" stroke="#333" stroke-width="0.9" fill="none"/><text x="293.9" y="365.3" font-size="8.2" text-anchor="middle" fill="#555">-2</text><text x="349.9" y="365.3" font-size="8.2" text-anchor="middle" fill="#555">0</text><text x="405.9" y="365.3" font-size="8.2" text-anchor="middle" fill="#555">2</text><text x="245.8" y="350.2" font-size="8.2" text-anchor="end" fill="#555">0</text><text x="245.8" y="314.95" font-size="8.2" text-anchor="end" fill="#555">1</text><text x="245.8" y="279.7" font-size="8.2" text-anchor="end" fill="#555">2</text><text x="245.8" y="244.45" font-size="8.2" text-anchor="end" fill="#555">3</text><text x="349" y="377.7" font-size="10.8" font-weight="bold" text-anchor="middle">log2 (MA/NA)</text><text transform="translate(235.4,285.4) rotate(-90)" font-size="10.8" font-weight="bold" text-anchor="middle">-log10 (p-value)</text><rect x="484.5" y="209.5" width="198.7" height="144.5" fill="#fff"/><path d="M493.1 209.5V354M553.5 209.5V354M613.9 209.5V354M674.3 209.5V354M484.5 328.02H683.2M484.5 289.27H683.2M484.5 250.52H683.2M484.5 211.77H683.2" stroke="#f2f2f2" stroke-width="0.6" fill="none"/><path d="M523.3 209.5V354M583.7 209.5V354M644.1 209.5V354M484.5 347.4H683.2M484.5 308.65H683.2M484.5 269.9H683.2M484.5 231.15H683.2" stroke="#ebebeb" stroke-width="1" fill="none"/><path d="M577.4 332.8h0M577.2 335.7h0M578.8 331.2h0M578.8 337.5h0M584.4 346.0h0M571.4 317.1h0M601.5 313.9h0M592.5 327.7h0M585.3 344.6h0M582.7 344.9h0M584.3 345.8h0M588.0 331.8h0M592.0 338.0h0M582.2 345.4h0M588.5 339.5h0M583.9 347.0h0M574.1 319.3h0M589.6 327.1h0M589.9 325.5h0M587.3 344.3h0M584.1 346.6h0M583.3 346.2h0M588.4 329.5h0M580.8 341.9h0M586.8 339.2h0M591.5 339.7h0M593.5 322.1h0M605.5 311.6h0M587.9 333.9h0M577.3 340.8h0M577.2 331.9h0M578.2 326.7h0M583.7 347.4h0M581.1 339.3h0M585.0 344.4h0M594.3 329.9h0M596.0 299.3h0M578.0 337.8h0M597.5 305.9h0M585.6 339.4h0M577.2 328.1h0M587.1 341.1h0M584.6 346.0h0M583.6 347.3h0M591.4 332.6h0M571.7 319.3h0M592.0 330.0h0M590.7 314.4h0M578.5 330.5h0M591.8 330.8h0M590.5 320.2h0M563.9 315.8h0M588.4 336.3h0M573.0 331.9h0M580.8 345.5h0M586.2 338.7h0M586.7 334.5h0M572.1 316.9h0M600.4 328.5h0M588.8 326.4h0M605.1 320.7h0M586.1 341.4h0M582.6 345.1h0M582.8 344.7h0M580.6 337.1h0M584.2 345.7h0M592.6 313.6h0M614.3 302.1h0M585.3 342.4h0M578.1 331.5h0M589.9 339.5h0M570.1 329.6h0M595.9 319.8h0M583.9 347.0h0M580.7 340.9h0M574.6 308.7h0M579.7 340.3h0M580.3 344.7h0M567.0 298.0h0M571.2 323.4h0M584.2 346.6h0M577.9 333.3h0M583.2 346.4h0M583.2 345.5h0M577.6 328.6h0M579.6 331.6h0M577.5 335.9h0M585.8 342.5h0M583.1 346.6h0M562.6 297.5h0M596.4 312.4h0M595.5 330.0h0M588.2 328.7h0M595.0 326.3h0M588.7 332.5h0M577.5 338.4h0M578.5 339.6h0M578.1 332.4h0M593.4 323.4h0M583.3 346.8h0M581.5 336.6h0M582.6 345.6h0M585.0 344.4h0M587.0 343.1h0M578.1 341.8h0M585.6 345.5h0M576.4 323.5h0M577.8 334.4h0M593.0 316.9h0M585.7 344.2h0M579.2 340.3h0M584.8 344.9h0M573.5 323.6h0M577.2 336.8h0M583.6 347.2h0M593.1 328.6h0M574.9 324.6h0M587.2 334.9h0M587.3 343.3h0M580.4 342.5h0M579.9 339.3h0M590.8 340.3h0M588.3 341.0h0M580.0 340.1h0M586.6 344.3h0M582.5 346.5h0M588.9 336.1h0M593.4 330.9h0M580.6 338.3h0M588.9 328.3h0M572.0 331.1h0M583.8 347.3h0M559.3 313.9h0M578.9 340.7h0M592.4 332.3h0M573.5 334.5h0M595.2 338.1h0M593.2 321.8h0M589.6 328.8h0M587.0 336.5h0M600.7 332.7h0M583.8 347.2h0M580.0 323.8h0M579.2 337.2h0M588.2 337.4h0M590.1 337.5h0M591.9 329.6h0M601.8 300.9h0M586.2 336.8h0M574.0 316.0h0M586.0 343.1h0M564.0 317.5h0M580.5 341.4h0M582.8 346.3h0M582.1 345.5h0M585.6 341.3h0M600.2 303.5h0M602.0 331.6h0M575.4 333.2h0M581.2 343.2h0M575.9 335.9h0M581.1 340.0h0M589.2 340.6h0M585.4 343.4h0M572.5 314.5h0M580.0 340.4h0M574.0 330.5h0M578.9 331.3h0M588.8 331.3h0M576.2 320.7h0M583.5 346.8h0M576.9 338.2h0M584.9 345.9h0M588.8 335.5h0M598.3 327.1h0M582.1 344.3h0M582.0 340.5h0M586.4 340.1h0M574.0 335.4h0M587.4 332.9h0M593.2 336.8h0M584.2 346.5h0M576.8 333.4h0M577.1 332.6h0M584.3 346.5h0M599.3 327.9h0M579.1 336.5h0M591.0 315.8h0M569.2 314.5h0M581.3 342.2h0M577.3 325.4h0M588.9 338.3h0M585.8 344.0h0M566.5 304.9h0M587.4 335.5h0M575.1 323.2h0M585.3 345.7h0M595.4 324.2h0M596.0 331.3h0M580.7 343.0h0M584.2 346.6h0M560.7 312.2h0M582.8 346.2h0M579.0 310.2h0M583.1 347.0h0M582.6 341.5h0M606.3 315.3h0M581.8 345.2h0M577.2 331.2h0M584.7 345.1h0M596.1 327.2h0M596.5 304.9h0M582.4 344.3h0M587.7 339.5h0M585.0 344.2h0M589.3 338.1h0M576.7 328.3h0M586.7 338.0h0M614.7 313.1h0M575.8 340.5h0M585.0 345.4h0M579.7 337.4h0M585.2 343.3h0M583.9 346.9h0M589.8 335.8h0M581.7 344.2h0M584.3 346.4h0M607.8 301.2h0M579.3 339.9h0M595.2 324.4h0M583.8 347.3h0M574.4 320.8h0M579.6 342.3h0M584.4 345.7h0M565.2 305.2h0M610.7 302.2h0M569.1 326.8h0M589.6 336.8h0M586.0 339.6h0M582.5 344.8h0M582.3 345.4h0M584.4 346.1h0M601.6 332.1h0M585.4 344.4h0M588.1 340.6h0M587.7 337.0h0M602.5 310.4h0M580.2 337.5h0M582.7 345.8h0M585.2 344.2h0M579.3 335.6h0M582.6 345.3h0M584.8 345.4h0M577.8 318.4h0M575.6 313.9h0M592.8 326.3h0M585.7 342.7h0M585.1 345.0h0M588.1 339.0h0M586.9 345.2h0M574.6 326.4h0M581.0 342.2h0M585.7 344.8h0M593.8 331.1h0M577.6 338.3h0M572.1 310.4h0M577.2 333.8h0M579.3 331.8h0M580.7 335.6h0M587.3 330.3h0M584.8 346.3h0M578.8 341.9h0M579.8 341.7h0M583.1 346.6h0M580.6 335.9h0M581.2 340.7h0M577.9 337.1h0M587.9 338.3h0M575.1 311.2h0M590.5 331.1h0M576.9 333.6h0M580.8 342.7h0M590.1 338.6h0M587.3 333.3h0M589.0 326.7h0M583.8 347.2h0M581.9 342.2h0M582.8 346.1h0M587.3 334.8h0M584.9 344.8h0M586.2 343.0h0M592.4 313.9h0M590.8 334.1h0M582.0 340.1h0M586.2 343.6h0M574.4 335.2h0M592.9 318.8h0M579.8 335.6h0M581.4 336.2h0M584.2 346.6h0M575.0 319.0h0M580.8 342.8h0M593.4 327.2h0M587.5 338.9h0M586.9 342.7h0M591.9 334.0h0M577.1 340.1h0M579.7 337.4h0M579.4 341.9h0M571.4 333.7h0M596.1 313.3h0M580.6 334.1h0M583.3 347.1h0M589.3 342.6h0M605.9 322.3h0M581.2 341.0h0M586.1 341.7h0M571.5 308.2h0M580.7 339.3h0M582.4 343.5h0M582.0 345.1h0M583.8 347.2h0M571.1 311.3h0M593.1 326.3h0M581.0 340.6h0M570.5 319.2h0M578.1 329.4h0M580.4 341.7h0M572.4 319.7h0M583.6 347.3h0M578.6 337.7h0M592.3 328.6h0M586.5 334.6h0M577.3 324.3h0M580.1 340.3h0M572.1 323.7h0M571.8 318.7h0M562.9 324.6h0M585.7 343.7h0M568.1 321.4h0M585.3 344.0h0M575.4 324.7h0M566.9 299.1h0M593.5 310.2h0M583.7 347.4h0M580.5 338.2h0M581.4 335.5h0M578.1 329.3h0M574.6 337.0h0M578.2 324.1h0M584.5 344.6h0M585.6 343.1h0M595.0 321.4h0M591.8 321.5h0M593.9 312.0h0M596.8 321.1h0M583.0 346.2h0M592.3 331.4h0M578.9 336.2h0M583.8 347.3h0M578.7 340.4h0M600.6 329.1h0M578.1 333.9h0M572.1 311.6h0M582.3 345.1h0M587.2 341.4h0M580.4 344.6h0M592.2 326.1h0M589.5 340.9h0M579.6 340.2h0M584.5 345.9h0M592.2 335.4h0M598.4 313.9h0M579.3 336.7h0M618.5 308.4h0M586.3 343.1h0M585.4 345.2h0M578.9 343.6h0M585.0 346.1h0M580.4 344.0h0M577.1 313.8h0M588.6 323.8h0M579.0 331.3h0M589.1 321.8h0M592.1 333.3h0M576.7 325.9h0M582.9 345.9h0M594.3 306.0h0M583.7 347.3h0M594.8 302.5h0M577.8 331.7h0M586.6 342.0h0M571.4 304.3h0M569.2 308.1h0M579.6 337.4h0M583.1 345.9h0M588.2 312.9h0M586.5 339.8h0M582.8 346.0h0M607.5 300.2h0M578.1 338.1h0M583.6 347.2h0M582.9 345.8h0M573.2 325.2h0M583.9 347.2h0M581.4 339.1h0M581.9 344.2h0M584.4 346.0h0M592.7 319.3h0M600.5 310.1h0M585.5 343.9h0M586.9 342.4h0M588.1 312.4h0M589.5 331.9h0M597.8 304.4h0M578.5 341.1h0M583.6 347.1h0M572.0 333.3h0M591.9 332.3h0M576.0 332.4h0M591.6 321.0h0M605.8 304.0h0M583.4 346.5h0M586.1 338.3h0M576.8 337.6h0M589.0 332.3h0M587.4 331.6h0M561.7 314.8h0M578.9 339.8h0M581.3 342.7h0M578.6 337.6h0M586.2 338.9h0M572.1 323.9h0M605.2 304.6h0M560.7 307.5h0M582.8 346.0h0M579.1 342.5h0M583.7 347.4h0M585.6 336.0h0M578.8 333.2h0M592.2 326.7h0M590.9 336.9h0M583.3 346.6h0M584.4 346.5h0M588.5 327.6h0M590.4 331.6h0M578.9 340.9h0M587.5 340.4h0M582.5 344.3h0M583.9 346.7h0M584.0 346.7h0M583.0 346.2h0M584.8 344.4h0M584.8 346.2h0M585.4 344.5h0M570.1 318.7h0M587.7 340.6h0M569.7 330.6h0M562.6 301.5h0M577.0 328.0h0M576.7 342.4h0M582.3 343.3h0M579.7 337.4h0M584.9 344.7h0M592.1 333.3h0M580.0 339.1h0M597.4 320.5h0M582.1 344.2h0M583.5 346.9h0M573.0 333.5h0M582.4 343.9h0M581.5 344.9h0M592.6 323.9h0M587.0 342.4h0M583.6 347.3h0M584.1 347.1h0M580.0 343.7h0M576.5 335.8h0M603.9 323.3h0M575.1 316.1h0M579.3 327.0h0M590.0 322.0h0M584.6 345.8h0M593.3 325.5h0M581.8 342.6h0M589.7 340.6h0M576.1 332.5h0M586.3 343.1h0M587.4 337.5h0M590.5 331.4h0M581.9 343.9h0M574.5 338.2h0M588.1 335.4h0M580.7 341.6h0M583.1 346.6h0M593.3 326.2h0M586.8 339.0h0M585.8 343.7h0M585.7 343.3h0M578.1 326.7h0M585.1 340.6h0M575.7 335.4h0M585.2 346.3h0M586.5 341.1h0M592.4 313.5h0M586.4 340.7h0M557.4 307.3h0M583.9 347.2h0M567.4 319.3h0M585.7 344.0h0M577.5 338.3h0M577.0 331.5h0M575.2 321.9h0M586.4 341.2h0M581.8 344.4h0M583.8 347.2h0M577.1 340.1h0M585.3 343.3h0M580.2 341.0h0M579.6 337.9h0M576.6 322.2h0M584.5 344.4h0M584.4 345.8h0M591.0 333.4h0M575.6 331.0h0M582.3 345.7h0M586.9 343.2h0M585.9 344.5h0M583.5 346.9h0M583.2 344.8h0M581.7 339.2h0M592.0 330.0h0M587.2 342.0h0M566.3 312.7h0M579.4 342.3h0M585.0 344.4h0M569.5 321.8h0M593.0 327.1h0M590.1 337.3h0M585.1 344.9h0M594.2 320.1h0M587.1 342.6h0M589.3 340.1h0M588.5 338.3h0M591.4 322.1h0M585.6 345.0h0M587.6 335.2h0M586.5 335.8h0M583.0 346.3h0M578.2 327.4h0M583.2 346.0h0M595.0 322.5h0M590.4 331.3h0M590.0 342.4h0M576.6 323.4h0M575.6 337.5h0M585.6 343.5h0M586.9 342.2h0M577.4 330.1h0M589.9 338.0h0M582.7 344.9h0M583.2 346.2h0M587.3 325.7h0M571.1 315.6h0M599.0 312.5h0M588.5 336.7h0M580.7 340.5h0M574.3 324.0h0M589.2 334.7h0M595.7 327.6h0M582.3 340.9h0M588.3 328.6h0M574.9 322.3h0M585.1 345.6h0M578.2 330.9h0M571.0 316.3h0M572.6 313.5h0M567.7 312.2h0M584.3 344.4h0M579.0 335.3h0M570.6 309.7h0M583.6 347.2h0M587.7 330.7h0M575.7 328.9h0M565.4 303.4h0M585.1 346.4h0M591.1 331.8h0M582.7 346.3h0M579.5 338.5h0M583.3 346.8h0M588.5 330.6h0M586.3 343.8h0M588.4 332.9h0M580.2 340.2h0M579.7 337.4h0M585.7 339.9h0M580.3 341.5h0M589.1 333.8h0M577.7 337.2h0M593.5 334.9h0M592.4 337.5h0M583.5 346.8h0M578.9 336.9h0M570.7 334.4h0M583.6 347.1h0M589.2 338.7h0M577.6 333.9h0M586.2 342.3h0M578.5 339.9h0M585.1 344.9h0M586.0 334.0h0M583.6 347.3h0M590.4 326.2h0M574.1 329.0h0M581.5 346.0h0M591.4 332.1h0M589.8 338.1h0M591.9 337.6h0M578.1 338.0h0M585.4 343.4h0M586.7 344.4h0M584.3 345.9h0M586.7 335.8h0M592.6 332.8h0M588.9 335.4h0M586.2 343.6h0M584.5 345.1h0M576.5 333.6h0M586.0 339.9h0M573.0 324.1h0M581.1 340.4h0M580.2 339.2h0M580.7 337.2h0M597.9 308.7h0M591.0 333.3h0M583.3 346.5h0M590.2 334.3h0M591.7 337.1h0M581.8 339.3h0M582.3 344.8h0M583.6 347.3h0M585.0 345.3h0M610.0 307.6h0M583.9 346.8h0M585.3 344.3h0M580.8 338.5h0M582.3 345.7h0M582.2 343.3h0M585.6 342.2h0M582.8 345.5h0M585.0 346.0h0M594.4 327.5h0M574.6 323.1h0M592.8 331.1h0M578.5 335.6h0M568.1 306.0h0M582.4 345.1h0M575.3 338.4h0M586.4 341.0h0M582.7 345.7h0M582.3 344.3h0M587.8 335.3h0M585.9 344.3h0M578.1 336.6h0M587.9 341.7h0M586.9 343.2h0M582.7 344.8h0M586.7 340.2h0M578.1 336.6h0M580.9 340.8h0M582.0 345.0h0M581.8 344.5h0M578.2 338.8h0M585.5 343.5h0M586.1 334.7h0M595.3 316.6h0M581.5 342.5h0M588.7 318.8h0M585.2 344.6h0M575.3 328.8h0M578.4 338.1h0M577.0 318.6h0M580.8 340.7h0M583.5 346.7h0M582.3 342.6h0M581.6 343.7h0M593.4 337.5h0M592.2 331.1h0M587.8 340.5h0M582.5 345.0h0M582.4 344.3h0M599.7 316.3h0M590.9 337.9h0M602.3 311.7h0M582.8 345.1h0M586.6 340.1h0M590.6 332.2h0M583.4 346.8h0M586.8 333.0h0M588.7 339.7h0M614.5 297.7h0M605.7 313.1h0M593.1 334.0h0M585.7 343.2h0M576.8 340.7h0M576.1 329.1h0M576.2 336.8h0M578.0 329.2h0M582.0 343.8h0M579.3 337.6h0M583.8 347.1h0M588.0 326.8h0M584.9 346.1h0M585.7 341.9h0M575.7 340.2h0M583.5 347.2h0M580.1 335.7h0M570.4 329.4h0M598.3 325.5h0M587.1 332.1h0M585.1 343.6h0M601.0 311.6h0M573.1 323.8h0M586.3 339.1h0M600.5 298.3h0M570.2 323.9h0M577.8 324.6h0M578.9 330.8h0M582.5 345.4h0M587.0 341.0h0M585.8 343.7h0M592.6 320.2h0M576.4 331.7h0M596.1 326.2h0M575.7 327.2h0M572.5 308.7h0M584.0 346.9h0M588.2 335.0h0M572.4 323.7h0M580.2 335.3h0M576.4 337.5h0M600.7 298.7h0M576.0 330.2h0M573.2 327.7h0M575.3 318.4h0M589.0 338.7h0M585.8 342.9h0M582.7 345.8h0M571.1 298.1h0M571.8 330.6h0M579.5 336.8h0M572.7 330.6h0M585.1 345.5h0M584.4 345.8h0M586.2 341.2h0M587.2 344.9h0M588.5 334.1h0M585.1 341.7h0M592.1 336.2h0M597.1 333.8h0M584.9 342.0h0M587.7 339.7h0M598.7 308.2h0M591.2 268.0h0M579.1 339.5h0M581.9 343.3h0M578.8 339.2h0M592.1 327.5h0M577.7 340.4h0M588.7 334.0h0M582.4 344.2h0M588.2 342.1h0M580.2 343.3h0M582.6 345.8h0M583.7 347.4h0M598.3 316.8h0M584.5 345.8h0M572.5 335.9h0M590.3 332.3h0M578.9 334.5h0M574.6 333.8h0M578.4 338.9h0M572.7 320.3h0M588.6 340.1h0M582.4 345.8h0M573.9 334.7h0M588.1 338.9h0M583.6 347.2h0M573.8 312.6h0M573.2 332.8h0M584.6 346.7h0M591.5 327.7h0M587.9 338.7h0M572.8 334.0h0M595.8 328.6h0M584.1 347.0h0M583.5 347.0h0M588.9 336.2h0M588.3 341.5h0M577.3 330.5h0M575.0 326.9h0M574.5 310.6h0M582.2 345.1h0M610.5 312.7h0M580.7 339.5h0M587.4 344.2h0M574.6 325.3h0M578.5 340.7h0M576.0 319.2h0M564.8 317.5h0M574.2 334.8h0M592.2 330.8h0M573.5 334.2h0M586.3 338.4h0M587.0 343.1h0M573.6 332.4h0M586.3 342.4h0M574.5 325.0h0M558.3 305.2h0M586.9 341.7h0M582.4 344.6h0M576.0 341.1h0M579.6 341.0h0M576.5 333.9h0M582.4 345.9h0M588.3 335.4h0M587.8 338.8h0M579.5 328.5h0M577.4 327.3h0M570.2 323.9h0M590.9 331.5h0M587.5 338.5h0M583.2 346.7h0M585.4 342.7h0M582.2 341.9h0M587.8 336.3h0M577.7 314.5h0M592.5 313.6h0M569.4 300.8h0M584.1 346.1h0M555.9 312.6h0M583.6 347.3h0M593.1 321.9h0M604.5 322.1h0M585.0 344.8h0M573.0 337.9h0M575.2 317.9h0M584.5 346.2h0M580.7 342.1h0M579.7 332.4h0M580.8 337.3h0M585.0 345.8h0M584.1 346.8h0M580.6 337.4h0M598.2 320.2h0M560.1 325.5h0M572.6 322.6h0M585.8 345.9h0M573.8 318.8h0M584.8 344.5h0M591.2 337.3h0M570.5 309.2h0M597.0 315.6h0M590.9 324.1h0M581.3 340.0h0M583.4 346.2h0M590.1 325.9h0M570.8 320.6h0M572.8 327.4h0M566.6 314.6h0M588.6 335.1h0M584.4 345.8h0M595.6 321.4h0M580.0 342.1h0M587.1 342.6h0M603.8 329.7h0M583.5 346.9h0M576.1 295.8h0M585.4 343.5h0M584.7 345.0h0M575.4 305.8h0M585.8 341.8h0M584.6 346.3h0M588.3 338.3h0M585.5 344.2h0M586.4 344.1h0M559.7 315.0h0M584.3 346.8h0M583.2 345.0h0M592.0 327.3h0M588.2 336.8h0M579.1 342.5h0M575.7 335.2h0M595.0 326.4h0M587.7 339.1h0M583.6 347.0h0M572.7 336.2h0M574.4 332.9h0M579.7 331.4h0M589.1 336.8h0M591.0 334.4h0M592.4 316.4h0M594.7 326.4h0M587.2 340.3h0M589.5 334.1h0M579.6 339.5h0M567.6 330.9h0M594.8 329.1h0M591.9 325.8h0M579.3 334.3h0M604.4 305.7h0M589.4 341.7h0M584.7 345.6h0M578.6 338.0h0M580.7 339.3h0M565.4 307.3h0M579.6 329.2h0M592.9 325.7h0M585.2 345.7h0M585.8 338.8h0M578.5 335.3h0M580.8 340.3h0M573.5 308.2h0M577.1 325.6h0M586.3 342.6h0M589.9 336.0h0M586.4 345.6h0M575.2 323.4h0M584.6 345.3h0M581.5 339.4h0M587.6 339.2h0M583.9 347.0h0M598.3 305.8h0M581.3 341.2h0M590.7 335.8h0M580.2 341.6h0M584.1 346.5h0M578.5 325.6h0M562.9 328.8h0M570.5 330.4h0M586.0 344.5h0M579.5 330.8h0M574.9 331.2h0M574.0 316.9h0M582.7 344.7h0M582.2 345.3h0M589.6 336.9h0M591.7 314.8h0M585.1 343.5h0M577.3 335.4h0M571.0 327.1h0M578.0 333.4h0M589.6 337.2h0M578.7 333.8h0M579.2 340.2h0M589.0 336.2h0M580.8 335.9h0M574.7 317.5h0M573.7 322.6h0M566.2 301.6h0M596.4 318.7h0M586.4 342.6h0M574.9 329.5h0M583.9 347.2h0M586.8 339.3h0M581.5 342.1h0M585.3 345.4h0M587.6 337.0h0M590.4 339.8h0M584.0 347.0h0M604.7 307.6h0M582.2 345.4h0M589.3 327.7h0M588.2 336.9h0M577.7 341.5h0M587.4 344.6h0M578.7 340.1h0M582.1 344.3h0M571.7 301.2h0M594.9 336.4h0M599.2 316.6h0M581.2 339.9h0M591.6 313.1h0M576.8 327.3h0M590.8 326.3h0M576.7 328.2h0M571.8 335.9h0M581.4 342.6h0M584.8 345.3h0M573.6 327.9h0M584.6 346.3h0M585.9 341.2h0M598.2 306.6h0M579.8 343.1h0M577.5 326.7h0M569.9 329.4h0M602.3 322.4h0M583.6 347.1h0M572.5 335.1h0M573.0 304.4h0M580.4 323.7h0M576.3 326.8h0M591.5 323.8h0M577.3 333.7h0M584.4 346.2h0M580.5 337.6h0M586.9 339.9h0M574.8 334.3h0M565.1 317.9h0M593.0 328.7h0M581.7 342.3h0M580.5 342.0h0M589.0 326.4h0M585.7 344.2h0M578.3 339.3h0M588.9 327.5h0M587.9 341.0h0M597.4 326.1h0M601.1 313.8h0M585.6 335.8h0M592.2 317.4h0M574.3 321.9h0M577.9 332.0h0M582.6 344.4h0M580.4 333.9h0M586.1 344.1h0M582.2 344.2h0M588.9 323.0h0M592.1 334.4h0M587.0 343.6h0M600.0 333.0h0M580.2 341.2h0M590.2 336.2h0M589.6 334.0h0M585.1 343.3h0M576.9 330.8h0M579.9 343.1h0M570.6 329.2h0M584.6 346.8h0M595.0 314.8h0M559.5 319.0h0M587.1 343.4h0M582.2 346.4h0M591.9 337.3h0M583.4 346.5h0M598.1 317.4h0M574.1 333.6h0M584.0 347.0h0M581.8 343.7h0M596.8 314.6h0M585.4 345.7h0M592.3 331.4h0M568.9 319.4h0M575.1 322.8h0M589.7 328.5h0M593.7 308.9h0M572.2 332.9h0M571.8 320.7h0M566.7 324.9h0M590.2 341.4h0M579.1 331.7h0M575.9 328.8h0M581.7 343.2h0M579.4 334.9h0M578.0 338.9h0M574.9 340.9h0M564.2 300.6h0M587.6 340.4h0M591.6 312.2h0M582.2 343.7h0M578.2 333.8h0M579.2 338.3h0M596.4 318.7h0M582.3 345.7h0M593.2 325.9h0M572.9 302.9h0M584.0 346.7h0M576.7 333.0h0M589.9 341.4h0M588.3 338.5h0M572.6 333.8h0M581.6 342.9h0M589.1 339.0h0M582.0 344.6h0M575.1 306.9h0M588.3 339.5h0M590.9 304.7h0M576.3 318.8h0M598.5 326.7h0M581.3 341.6h0M579.6 337.7h0M582.4 344.6h0M576.4 321.5h0M584.5 344.9h0M587.3 342.1h0M585.1 344.6h0M593.1 321.5h0M590.9 330.7h0M569.6 313.3h0M582.4 346.3h0M609.7 313.7h0M592.1 338.0h0M589.2 343.5h0M580.1 339.9h0M595.5 338.0h0M611.9 306.8h0M596.4 323.1h0M576.6 309.8h0M581.6 345.7h0M570.6 298.2h0M590.2 325.7h0M570.0 318.0h0M566.1 324.6h0M577.4 331.9h0M579.0 340.1h0M584.7 344.5h0M579.5 336.5h0M602.6 311.2h0M593.1 332.6h0M584.8 344.8h0M572.1 301.9h0M582.4 343.8h0M580.9 338.7h0M589.8 332.4h0M594.7 322.9h0M577.7 332.8h0M588.7 339.8h0M594.5 327.7h0M579.7 342.3h0M586.9 331.4h0M580.7 339.1h0M575.4 310.0h0M588.2 330.3h0M583.5 346.9h0M578.5 336.1h0M586.1 343.0h0M579.8 343.5h0M587.5 325.2h0M586.1 339.8h0M564.8 309.7h0M581.6 339.5h0M590.0 338.1h0M590.2 329.9h0M590.0 325.7h0M582.2 343.2h0M588.4 334.0h0M579.0 337.6h0M581.9 339.7h0M591.0 322.3h0M575.0 330.5h0M591.8 331.2h0M567.3 328.7h0M587.6 338.7h0M591.0 315.9h0M578.8 324.0h0M567.2 315.3h0M589.0 330.9h0M584.3 345.1h0M582.3 344.0h0M584.6 345.4h0M583.4 347.1h0M571.2 337.6h0M581.7 344.3h0M574.9 324.6h0M592.6 328.9h0M601.0 311.4h0M564.7 297.7h0M567.9 309.1h0M587.9 339.0h0M585.9 339.4h0M583.5 347.0h0M583.1 346.1h0M589.8 331.7h0M585.2 342.0h0M567.6 297.8h0M582.9 346.4h0M581.7 339.7h0M568.9 316.7h0M591.5 333.5h0M585.7 340.6h0M593.5 333.8h0M587.7 336.6h0M578.3 335.4h0M590.5 329.4h0M585.4 342.7h0M586.7 344.6h0M584.5 345.4h0M577.2 334.4h0M596.9 302.1h0M558.3 302.8h0M574.5 313.9h0M590.5 334.0h0M585.2 344.9h0M586.4 343.9h0M579.5 337.2h0M584.5 345.7h0M592.9 326.7h0M578.5 339.7h0M573.6 312.2h0M582.8 344.4h0M587.0 341.3h0M573.2 323.1h0M578.1 337.9h0M581.3 343.4h0M606.0 319.4h0M600.2 322.9h0M580.4 324.1h0M597.2 319.4h0M584.4 346.0h0M580.1 337.2h0M579.2 333.8h0M592.6 334.6h0M591.1 324.4h0M583.2 347.0h0M576.5 333.6h0M587.2 341.2h0M576.5 332.6h0M585.2 343.4h0M580.8 343.7h0M582.2 340.9h0M593.2 326.6h0M594.7 297.5h0M587.7 335.2h0M583.1 345.8h0M587.6 331.1h0M583.0 346.0h0M583.6 347.1h0M602.8 300.3h0M588.9 336.5h0M580.1 340.5h0M573.7 304.1h0M562.7 315.1h0M576.4 306.9h0M595.2 323.7h0M583.3 346.4h0M587.9 339.6h0M578.1 341.2h0M593.3 332.5h0M586.9 337.7h0M573.2 329.1h0M581.0 344.1h0M579.9 342.7h0M586.1 339.8h0M581.7 343.1h0M593.7 300.9h0M588.9 329.0h0M590.1 334.4h0M569.4 319.1h0M571.3 321.5h0M574.4 330.9h0M579.0 340.5h0M579.5 341.8h0M584.5 346.3h0M573.1 324.4h0M590.5 341.5h0M601.3 317.4h0M593.4 337.2h0M589.9 340.5h0M572.4 308.8h0M585.5 340.6h0M581.6 340.7h0M578.7 335.6h0M585.0 341.7h0M579.3 338.8h0M580.2 329.3h0M582.7 344.7h0M573.9 328.7h0M585.2 344.8h0M569.5 310.2h0M592.6 328.2h0M575.4 306.0h0M575.7 311.6h0M594.8 315.2h0M576.9 314.0h0M581.9 343.2h0M576.0 313.6h0M587.0 340.1h0M570.6 309.8h0M576.8 326.5h0M590.9 328.7h0M572.9 301.1h0M571.9 297.1h0M592.5 323.6h0M582.4 345.8h0M577.5 309.5h0M581.5 342.3h0M582.1 342.9h0M579.2 334.4h0M585.2 344.8h0M583.1 345.8h0M590.3 335.3h0M589.5 329.5h0M573.7 308.5h0M578.8 332.8h0M587.8 342.3h0M574.8 313.1h0M587.5 338.0h0M581.3 344.1h0M590.4 339.3h0M583.3 346.4h0M584.6 345.7h0M597.5 311.7h0M585.6 344.6h0M570.0 307.1h0M582.4 343.1h0M588.3 337.3h0M581.4 341.9h0M600.6 317.2h0M605.2 309.6h0M571.4 312.9h0M583.6 347.2h0M584.3 346.5h0M593.1 316.6h0M584.5 346.5h0M595.9 311.2h0M583.2 346.3h0M574.3 318.6h0M580.0 344.3h0M605.8 310.5h0M588.0 343.3h0M579.1 321.3h0M579.0 333.0h0M586.6 334.0h0M584.6 346.2h0M576.8 334.9h0M575.9 325.8h0M581.4 334.9h0M595.9 329.4h0M577.3 329.6h0M573.7 329.0h0M581.4 340.3h0M599.7 325.6h0M588.5 340.6h0M585.0 346.2h0M589.7 336.3h0M590.2 319.5h0M588.5 327.0h0M587.7 341.4h0M591.5 311.2h0M588.7 335.6h0M576.1 332.7h0M567.3 303.8h0M583.6 347.2h0M584.0 346.9h0M575.7 326.1h0M597.5 298.4h0M582.9 346.1h0M584.6 344.7h0M569.4 298.4h0M584.5 346.4h0M594.9 313.6h0M575.1 325.9h0M587.9 340.9h0M573.1 335.0h0M583.8 347.2h0M586.2 343.2h0M587.3 342.5h0M583.4 346.1h0M579.7 333.7h0M582.9 345.8h0M570.4 323.1h0M585.8 343.5h0M571.6 325.7h0M598.3 314.1h0M586.1 335.3h0M588.4 340.3h0M578.8 327.8h0M585.5 339.8h0M585.0 345.5h0M573.5 332.7h0M592.3 306.3h0M577.8 332.3h0M582.3 345.3h0M579.0 332.7h0M582.2 344.4h0M587.4 341.5h0M586.6 344.5h0M588.5 331.1h0M589.2 330.9h0M581.0 338.7h0M583.9 346.9h0M572.3 333.4h0M588.7 335.9h0M577.6 331.4h0M569.0 328.3h0M585.6 346.0h0M590.6 336.5h0M571.8 326.2h0M582.8 345.9h0M585.6 343.1h0M581.7 344.0h0M590.3 330.0h0M599.8 326.6h0M574.3 324.9h0M580.9 340.8h0M577.8 335.9h0M586.6 341.8h0M581.9 342.5h0M585.6 343.8h0M592.9 320.2h0M581.6 342.6h0M575.3 334.1h0M589.4 336.9h0M587.8 339.7h0M581.9 344.0h0M599.6 312.9h0M583.2 346.2h0M601.0 306.9h0M587.1 343.6h0M583.8 347.1h0M578.4 332.1h0M577.9 338.5h0M582.8 345.5h0M583.0 346.3h0M581.7 344.0h0M590.9 321.0h0M566.0 331.6h0M572.2 313.9h0M596.8 327.8h0M581.7 340.5h0M576.3 337.7h0M593.4 329.8h0M584.8 344.1h0M569.4 334.2h0M578.8 325.4h0M586.7 341.7h0M579.9 340.6h0M581.3 344.4h0M600.5 301.2h0M576.9 333.2h0M591.3 340.3h0M585.3 345.5h0M593.4 317.2h0M581.0 342.5h0M553.5 301.7h0M587.0 340.7h0M577.4 331.0h0M567.6 320.6h0M587.3 342.9h0M594.1 336.1h0M579.8 339.0h0M575.5 327.7h0M575.6 338.4h0M611.0 301.5h0M582.3 344.7h0M590.1 338.7h0M582.5 345.5h0M593.5 327.9h0M581.6 341.5h0M568.9 322.7h0M586.4 340.4h0M582.3 345.5h0M585.1 345.7h0M597.3 318.0h0M585.8 344.3h0M585.7 344.0h0M579.5 338.8h0M598.7 316.1h0M595.2 326.5h0M587.5 337.1h0M584.6 346.3h0M578.6 337.3h0M581.6 343.9h0M581.3 339.1h0M570.6 327.8h0M581.7 343.7h0M608.7 310.5h0M555.0 306.3h0M573.1 330.5h0M584.7 345.8h0M582.6 344.9h0M588.0 334.8h0M592.5 307.4h0M562.2 323.4h0M591.9 338.5h0M613.9 300.5h0M589.8 338.5h0M583.7 347.4h0M585.7 343.7h0M581.2 339.4h0M552.9 314.5h0M580.6 338.3h0M574.0 314.9h0M588.0 335.8h0M595.7 334.6h0M580.0 331.7h0M591.8 307.0h0M582.6 344.3h0M582.0 341.6h0M598.4 305.2h0M571.8 322.7h0M574.9 326.1h0M588.3 338.7h0M580.3 343.7h0M587.1 337.9h0M587.3 337.2h0M601.4 298.3h0M578.2 340.5h0M573.9 331.4h0M588.0 341.6h0M575.7 334.6h0M588.9 340.7h0M595.9 307.6h0M584.2 346.5h0M585.9 344.1h0M576.6 335.7h0M574.7 329.5h0M599.3 313.0h0M585.4 345.6h0M596.3 329.3h0M585.4 343.8h0M582.8 345.6h0M578.0 332.6h0M591.6 326.7h0M585.8 340.4h0M590.7 323.2h0M585.1 343.2h0M592.0 332.7h0M575.1 328.5h0M588.3 342.4h0M597.8 321.8h0M586.7 337.6h0M566.6 322.9h0M588.8 324.9h0M590.5 342.4h0M582.3 343.1h0M575.4 333.0h0M581.1 330.3h0M579.3 335.5h0M595.1 312.2h0M577.7 337.1h0M580.5 341.9h0M581.5 344.8h0M556.2 308.4h0M583.2 346.6h0M580.7 336.3h0M575.4 329.6h0M580.7 343.4h0M579.2 315.3h0M583.7 347.4h0M570.8 311.1h0M583.8 347.0h0M583.7 347.3h0M591.8 315.3h0M595.7 331.1h0M597.7 300.7h0M602.2 305.4h0M595.0 326.4h0M588.2 319.4h0M586.2 339.2h0M581.9 344.0h0M583.1 346.3h0M563.6 313.7h0M584.3 346.7h0M581.5 343.9h0M582.1 342.3h0M577.9 334.9h0M589.6 329.1h0M587.6 338.5h0M583.5 347.1h0M584.4 346.4h0M584.1 346.8h0M587.4 339.9h0M589.4 337.6h0M587.2 342.7h0M584.2 346.6h0M579.1 336.5h0M572.6 337.1h0M585.5 345.2h0M610.8 311.8h0M582.7 346.2h0M592.1 327.4h0M585.3 341.7h0M588.8 321.7h0M577.3 337.2h0M580.7 338.0h0M576.8 340.1h0M577.7 327.3h0M582.6 346.3h0M585.2 342.2h0M590.3 304.5h0M583.0 346.3h0M573.5 334.1h0M583.0 346.0h0M581.2 344.7h0M579.1 337.8h0M580.0 344.2h0M581.7 344.7h0M589.6 340.4h0M580.6 340.1h0M581.1 338.2h0M581.1 341.0h0M576.8 334.9h0M569.6 330.4h0M565.5 297.6h0M567.6 302.0h0M576.3 338.9h0M590.6 317.0h0M598.9 316.0h0M583.5 347.2h0M578.5 337.6h0M578.3 337.9h0M598.5 299.7h0M581.8 340.5h0M557.7 299.6h0M575.8 329.7h0M571.3 330.2h0M579.0 338.6h0M588.1 342.3h0M578.0 329.7h0M572.8 318.4h0M582.3 341.7h0M583.4 346.6h0M586.6 341.7h0M571.1 331.1h0M593.6 326.9h0M583.9 347.1h0M578.9 330.2h0M571.4 319.1h0M576.4 332.8h0M581.5 341.6h0M585.2 345.1h0M582.1 344.0h0M575.2 337.3h0M572.8 335.6h0M594.6 318.6h0M580.2 342.6h0M590.4 329.6h0M582.8 345.2h0M585.4 342.6h0M567.5 315.5h0M582.1 344.4h0M577.6 334.7h0M564.3 301.6h0M575.5 322.6h0M580.1 338.2h0M592.4 333.2h0M594.8 314.8h0M589.1 334.1h0M585.6 341.9h0M590.3 329.4h0M590.4 337.5h0M581.1 338.1h0M577.2 335.6h0M579.3 334.8h0M585.6 341.8h0M600.3 310.7h0M586.0 340.3h0M581.0 337.2h0M595.5 323.9h0M583.5 347.1h0M582.0 343.0h0M575.9 335.2h0M579.5 323.7h0M588.9 339.9h0M579.1 334.2h0M592.9 333.9h0M590.1 331.4h0M570.5 321.4h0M587.3 334.1h0M593.5 337.0h0M578.6 330.5h0M574.6 330.8h0M579.3 331.4h0M585.2 345.8h0M593.5 332.6h0M602.9 322.7h0M580.6 340.2h0M573.3 308.6h0M585.0 345.3h0M583.3 346.7h0M597.4 328.9h0M600.2 316.3h0M570.8 327.9h0M577.1 319.1h0M576.8 338.5h0M580.7 337.2h0M574.0 330.5h0M582.3 342.4h0M595.8 325.7h0M575.6 324.1h0M570.9 327.0h0M576.9 334.6h0M580.4 336.5h0M596.5 324.8h0M588.8 340.1h0M587.4 342.8h0M587.4 340.8h0M592.3 333.1h0M581.0 339.1h0M583.1 346.6h0M578.4 323.4h0M583.8 347.3h0M588.6 339.7h0M578.2 337.9h0M582.8 345.4h0M580.7 337.1h0M574.9 337.8h0M563.8 315.0h0M576.9 334.6h0M581.3 343.2h0M587.0 343.0h0M578.1 334.4h0M562.2 317.0h0M575.4 318.6h0M577.6 326.9h0M579.1 327.8h0M587.2 333.1h0M576.6 309.4h0M572.0 324.0h0M578.9 339.7h0M581.9 343.7h0M589.9 336.3h0M577.5 308.9h0M583.3 346.6h0M578.4 341.4h0M582.7 344.4h0M585.8 341.2h0M591.4 324.5h0M591.2 329.4h0M608.9 323.4h0M581.6 334.6h0M595.0 314.8h0M574.8 315.8h0M580.6 341.9h0M582.1 344.4h0M574.5 307.2h0M577.6 343.1h0M577.6 311.4h0M583.3 346.6h0M587.9 340.2h0M576.6 319.6h0M598.6 312.4h0M589.2 325.0h0M585.2 343.3h0M585.0 345.2h0M596.9 305.5h0M581.7 343.2h0M582.4 345.8h0M570.6 304.6h0M584.9 345.9h0M577.7 334.1h0M612.7 307.0h0M581.9 340.1h0M588.5 332.6h0M585.9 337.2h0M578.8 331.7h0M584.8 343.8h0M583.9 347.1h0M579.1 337.2h0M569.1 305.9h0M591.5 335.6h0M591.0 337.6h0M581.3 345.4h0M587.0 344.0h0M582.3 344.8h0M583.9 346.9h0M573.1 316.0h0M605.1 305.8h0M575.3 327.2h0M578.0 338.3h0M596.5 310.9h0M579.3 342.0h0M582.2 342.9h0M571.5 323.4h0M574.7 323.4h0M578.1 334.8h0M579.9 340.5h0M591.1 329.5h0M590.4 334.4h0M562.9 316.6h0M565.7 306.8h0M581.3 343.1h0M602.5 311.9h0M579.3 335.6h0M575.8 332.0h0M586.8 339.9h0M586.8 341.3h0M571.0 334.4h0M586.6 342.1h0M577.3 337.9h0M578.6 340.6h0M589.7 334.2h0M581.6 344.8h0M579.9 324.3h0M584.8 343.9h0M586.4 344.3h0M601.4 319.0h0M579.3 335.4h0M579.8 335.2h0M587.4 338.9h0M583.8 347.1h0M580.2 341.5h0M583.8 347.3h0M566.7 320.0h0M579.3 321.7h0M565.6 324.8h0M584.3 346.6h0M585.2 342.7h0M585.5 340.9h0M588.0 340.9h0M575.4 327.2h0M596.5 305.1h0M591.1 323.0h0M583.4 346.9h0M586.5 340.9h0M590.0 320.3h0M583.7 347.4h0M589.8 339.7h0M581.5 341.7h0M555.4 310.2h0M588.9 325.7h0M567.7 326.0h0M577.3 339.2h0M572.7 316.8h0M589.6 315.3h0M588.6 334.9h0M587.9 335.1h0M589.5 337.9h0M575.9 307.0h0M584.3 346.6h0M591.0 329.4h0M596.3 322.7h0M604.4 323.2h0M594.0 339.2h0M582.3 342.7h0M589.2 339.7h0M585.8 342.6h0M589.5 338.4h0M583.0 345.8h0M582.9 343.8h0M573.6 324.9h0M580.5 344.4h0M569.0 331.6h0M587.2 341.6h0M580.7 336.7h0M584.2 346.3h0M583.6 347.3h0M586.6 340.0h0M583.6 347.2h0M581.6 344.4h0M581.2 345.5h0M567.0 333.4h0M575.9 319.3h0M579.0 333.4h0M579.0 338.4h0M592.2 337.9h0M594.4 321.4h0M583.1 346.1h0M592.6 307.5h0M572.9 321.0h0M601.8 320.7h0M585.0 345.5h0M566.0 315.8h0M588.3 335.7h0M587.4 339.7h0M580.9 341.9h0M592.2 330.1h0M595.4 332.8h0M578.2 340.9h0M612.2 316.3h0M583.8 347.1h0M593.5 323.8h0M575.8 304.8h0M591.1 328.3h0M578.6 334.0h0M590.2 319.4h0M583.1 346.2h0M571.3 333.2h0M599.9 312.4h0M568.1 314.2h0M590.8 337.0h0M587.7 338.8h0M581.2 343.4h0M582.1 343.9h0M589.1 336.3h0M594.2 333.5h0M578.9 326.8h0M581.5 341.6h0M576.0 333.7h0M585.0 344.6h0M584.9 345.9h0M593.5 307.0h0M585.7 345.3h0M584.2 346.5h0M589.4 336.1h0M599.4 329.7h0M598.0 319.8h0M577.8 317.5h0M596.3 306.0h0M587.4 338.0h0M579.8 340.1h0M580.4 334.4h0M594.4 312.9h0M586.5 343.2h0M578.7 338.0h0M583.0 346.8h0M580.0 342.0h0M590.1 334.5h0M579.5 340.7h0M592.2 339.3h0M576.8 323.6h0M580.5 343.5h0M582.2 343.3h0M586.5 342.7h0M582.8 344.7h0M579.7 338.5h0M570.0 327.2h0M585.9 343.8h0M600.3 333.6h0M584.4 346.1h0M590.6 325.1h0M573.8 330.4h0M575.5 326.3h0M583.1 345.3h0M576.7 323.6h0M594.5 315.5h0M586.2 345.2h0M596.3 315.7h0M580.7 335.6h0M581.4 336.0h0M588.9 335.7h0M577.3 333.0h0M586.6 343.3h0M579.9 337.4h0M595.7 330.5h0M594.3 334.2h0M582.8 345.5h0M581.5 339.6h0M579.7 338.9h0M591.7 313.6h0M572.0 325.9h0M587.0 343.9h0M581.0 335.8h0M584.7 345.1h0M580.5 337.3h0M580.8 341.5h0M579.7 328.0h0M583.2 346.4h0M595.2 333.9h0M577.5 338.8h0M592.1 313.8h0M587.8 343.4h0M583.9 346.8h0M577.6 339.0h0M573.8 318.4h0M558.6 300.1h0M587.7 325.8h0M564.3 307.9h0M554.8 313.9h0M584.0 347.1h0M584.3 344.3h0M588.0 341.6h0M584.5 345.6h0M581.7 339.9h0M582.9 344.8h0M565.6 314.5h0M573.2 329.3h0M586.4 335.9h0M591.3 337.4h0M598.9 318.9h0M570.5 311.9h0M578.5 326.0h0M593.2 297.8h0M576.0 339.8h0M577.2 338.7h0M578.4 342.3h0M577.5 331.0h0M585.6 342.6h0M586.5 340.1h0M596.8 313.7h0M589.0 328.6h0M586.9 338.6h0M576.8 332.6h0M597.0 307.6h0M590.9 335.3h0M596.6 310.3h0M585.6 344.3h0M585.7 344.4h0M584.5 346.3h0M587.5 341.6h0M575.1 329.4h0M587.2 342.2h0M574.9 316.2h0M594.0 320.1h0M581.6 335.8h0M582.4 340.1h0M549.1 298.0h0M583.1 346.6h0M574.6 322.3h0M582.5 343.2h0M588.9 337.8h0M577.3 327.8h0M588.8 337.5h0M584.8 343.4h0M583.6 346.9h0M582.5 344.3h0M585.6 343.4h0M582.5 344.7h0M584.6 343.4h0M578.8 341.4h0M583.9 347.0h0M571.9 324.6h0M585.5 344.2h0M592.4 324.8h0M576.1 331.7h0M587.5 318.7h0M582.7 345.3h0M575.7 330.9h0M578.2 335.3h0M568.8 314.0h0M577.1 341.5h0M597.4 322.3h0M588.2 340.2h0M584.1 346.7h0M593.1 336.4h0M579.3 333.2h0M599.2 320.3h0M587.1 343.6h0M576.6 329.3h0M584.0 346.6h0M574.8 309.3h0M606.5 304.8h0M594.0 306.6h0M588.7 331.4h0M591.6 329.5h0M598.9 320.5h0M590.3 340.2h0M582.0 345.4h0M587.2 341.3h0M580.2 342.3h0M602.4 302.3h0M581.0 340.4h0M596.3 324.9h0M586.4 342.3h0M587.0 334.9h0M569.7 310.5h0M583.1 346.7h0M581.2 340.0h0M579.5 334.6h0M584.4 346.1h0M578.7 339.0h0M587.6 339.5h0M598.1 328.6h0M580.0 342.5h0M591.2 331.1h0M585.4 345.1h0M584.2 347.0h0M586.6 342.2h0M582.7 345.3h0M579.1 332.1h0M582.9 346.1h0M587.0 342.9h0M583.3 346.3h0M597.1 325.3h0M591.4 328.3h0M587.8 336.4h0M588.1 341.1h0M576.6 332.3h0M591.5 336.6h0M595.3 316.7h0M588.3 334.8h0M598.1 317.0h0M586.5 345.0h0M583.8 347.3h0M596.3 334.9h0M587.3 330.1h0M601.4 308.4h0M574.0 335.7h0M578.0 328.0h0M579.6 331.7h0M585.1 344.5h0M578.7 332.1h0M586.0 345.0h0M583.7 347.3h0M578.1 333.5h0M579.0 341.1h0M575.8 334.4h0M572.9 324.7h0M587.6 329.4h0M590.3 332.1h0M569.2 322.6h0M580.3 341.0h0M587.0 341.1h0M586.8 341.6h0M578.2 331.8h0M585.9 343.1h0M576.7 329.9h0M579.3 335.4h0M566.6 308.6h0M586.5 343.8h0M582.3 345.7h0M589.9 334.7h0M576.0 332.4h0M581.0 342.6h0M595.0 318.3h0M582.2 345.9h0M585.4 339.2h0M586.3 338.2h0M590.3 324.8h0M585.4 340.4h0M578.1 336.2h0M571.7 332.8h0M581.2 338.7h0M575.5 312.8h0M578.0 324.5h0M573.9 327.0h0M574.1 308.6h0M579.4 333.0h0M577.7 290.5h0M587.8 340.4h0M582.7 345.6h0M580.3 337.1h0M582.8 346.3h0M586.2 341.0h0M581.3 340.8h0M583.6 347.1h0M572.8 322.0h0M577.8 338.9h0M582.4 342.9h0M582.3 341.7h0M585.8 342.2h0M582.1 345.1h0M572.9 336.7h0M589.8 333.5h0M581.9 343.3h0M582.1 345.8h0M600.0 313.6h0M586.5 343.9h0M579.3 339.8h0M586.0 338.5h0M581.6 344.7h0M588.6 341.5h0M591.1 332.5h0M579.3 317.9h0M585.3 342.9h0M584.9 345.6h0M575.4 331.7h0M598.5 323.6h0M589.5 331.1h0M581.0 343.2h0M607.1 306.1h0M584.1 346.7h0M588.8 333.3h0M592.7 333.9h0M588.2 340.7h0M587.4 342.3h0M580.3 340.5h0M583.2 346.4h0M582.4 343.9h0M578.0 333.8h0M590.3 338.7h0M572.5 300.7h0M572.0 332.4h0M573.0 321.4h0M592.7 324.3h0M586.3 341.4h0M579.5 334.9h0M597.2 303.9h0M585.3 343.9h0M591.3 338.8h0M581.3 341.4h0M560.7 306.3h0M577.0 330.5h0M576.1 326.2h0M588.4 333.9h0M567.9 301.1h0M579.4 332.4h0M581.2 343.0h0M568.9 334.7h0M556.3 313.4h0M579.1 334.0h0M593.1 324.7h0M580.3 343.6h0M595.1 327.1h0M592.7 318.8h0M595.8 329.1h0M579.2 332.0h0M586.9 341.4h0M592.7 334.4h0M593.3 308.9h0M583.3 345.7h0M602.7 300.6h0M587.5 344.3h0M583.8 346.9h0M584.6 346.3h0M581.8 342.2h0M582.5 345.2h0M583.2 346.7h0M592.0 332.3h0M589.2 334.4h0M588.0 329.4h0M573.2 327.5h0M595.7 336.5h0M580.1 337.6h0M583.1 346.0h0M594.6 317.3h0M580.4 340.8h0M593.7 319.5h0M583.1 346.6h0M583.6 347.3h0M591.0 327.7h0M586.5 339.6h0M579.2 340.8h0M590.9 335.1h0M598.9 328.7h0M591.9 302.6h0M573.5 330.8h0M587.3 338.5h0M591.7 334.7h0M584.2 346.8h0M587.3 341.4h0M586.2 344.4h0M600.5 304.4h0M588.8 327.1h0M580.0 344.1h0M588.9 339.4h0M580.9 340.3h0M577.9 332.5h0M585.2 344.5h0M586.5 341.9h0M595.2 328.6h0M602.2 307.0h0M583.2 346.8h0M576.4 337.7h0M583.5 347.0h0M593.2 311.9h0M585.6 345.1h0M583.2 346.0h0M568.4 328.0h0M585.4 341.4h0M590.2 327.2h0M583.4 346.6h0M589.2 342.1h0M586.7 336.4h0M584.8 344.2h0M581.2 343.3h0M578.0 325.4h0M581.5 344.0h0M605.8 324.6h0M580.6 344.2h0M578.2 340.2h0M584.6 344.8h0M578.3 342.9h0M581.0 340.3h0M590.4 331.6h0M579.9 335.7h0M581.3 340.2h0M585.4 344.3h0M567.4 319.9h0M582.7 345.8h0M589.5 340.1h0M591.6 315.6h0M579.3 340.3h0M584.5 345.6h0M570.5 313.2h0M595.7 318.3h0M589.4 333.9h0M590.8 330.1h0M614.0 303.1h0M583.8 347.1h0M571.7 312.5h0M599.4 323.8h0M599.7 299.0h0M586.4 342.7h0M572.3 300.6h0M565.8 322.3h0M587.2 336.1h0M588.3 340.3h0M585.5 338.3h0M596.2 308.3h0M594.0 317.5h0M575.1 298.0h0M581.8 344.1h0M584.3 346.4h0M584.7 342.7h0M567.0 325.1h0M570.8 314.8h0M588.9 319.5h0M587.7 341.2h0M574.5 325.7h0M578.3 322.4h0M579.1 336.0h0M579.5 336.5h0M592.9 304.3h0M563.8 314.1h0M590.4 325.5h0M577.9 327.9h0M586.5 340.2h0M575.9 333.1h0M600.3 333.5h0M601.1 314.5h0M587.9 337.6h0M571.1 325.6h0M584.1 346.7h0M580.5 341.1h0M580.2 340.8h0M587.7 336.3h0M586.1 331.9h0M595.2 333.1h0M590.8 337.6h0M578.8 338.8h0M569.1 322.5h0M594.1 312.7h0M589.4 326.8h0M573.6 338.1h0M582.1 341.8h0M594.8 329.9h0M584.3 344.3h0M574.6 306.8h0M580.9 343.5h0M589.7 339.6h0M587.3 335.3h0M568.8 326.7h0M585.6 344.6h0M580.4 340.8h0M585.6 343.5h0M590.0 338.3h0M586.1 340.6h0M571.4 308.6h0M578.2 327.6h0M593.2 300.5h0M575.5 331.9h0M586.2 339.0h0M591.7 314.0h0M582.7 342.1h0M580.7 334.2h0M586.6 339.7h0M586.5 336.9h0M576.7 334.4h0M576.9 330.8h0M576.5 338.0h0M586.1 340.5h0M602.4 325.7h0M583.9 347.0h0M581.6 344.0h0M584.5 344.1h0M559.1 307.5h0M571.6 331.6h0M577.8 331.5h0M589.5 327.6h0M585.1 344.2h0M581.7 345.2h0M581.6 344.5h0M582.0 344.8h0M589.9 321.2h0M585.4 343.2h0M582.1 342.0h0M581.7 342.8h0M600.0 315.9h0M600.7 324.3h0M582.7 346.6h0M579.9 335.0h0M595.6 322.0h0M585.5 344.3h0M576.5 328.7h0M597.7 333.7h0M579.1 338.6h0M586.6 327.5h0M580.6 334.0h0M573.4 327.2h0M574.9 337.7h0M594.3 326.4h0M578.0 338.6h0M589.4 340.8h0M572.5 329.8h0M583.6 347.2h0M578.4 330.6h0M585.9 344.1h0M584.8 345.3h0M580.2 337.8h0M588.2 334.9h0M576.8 333.2h0M598.1 330.9h0M588.2 340.1h0M583.0 346.0h0M588.5 339.1h0M582.3 345.7h0M587.3 340.2h0M572.2 328.2h0M577.6 336.9h0M589.2 337.9h0M586.2 340.9h0M584.4 345.5h0M582.1 343.4h0M590.9 339.1h0M566.4 305.2h0M584.2 345.2h0M576.4 335.6h0M581.6 343.3h0M587.0 335.3h0M590.5 334.7h0M598.5 325.5h0M591.6 330.9h0M582.3 344.0h0M597.3 331.4h0M615.3 309.7h0M581.9 343.4h0M580.2 340.1h0M586.1 344.1h0M585.9 344.3h0M586.4 339.3h0M589.7 324.8h0M593.1 316.2h0M578.1 337.1h0M578.5 321.0h0M580.6 338.5h0M581.9 343.0h0M606.5 312.8h0M589.8 321.0h0M579.3 336.9h0M573.0 308.0h0M584.1 346.3h0M590.8 331.1h0M600.5 321.4h0M583.0 346.2h0M575.1 311.3h0M588.6 343.3h0M586.5 343.2h0M600.1 330.7h0M595.7 333.6h0M577.9 339.2h0M573.7 324.4h0M591.7 332.0h0M582.9 346.0h0M568.2 304.4h0M589.1 332.7h0M575.8 309.1h0M581.7 345.9h0M590.7 324.9h0M580.2 341.3h0M574.8 333.0h0M581.3 338.0h0M593.5 329.1h0M588.2 316.6h0M581.1 342.7h0M586.4 342.8h0M593.0 333.1h0M582.3 344.9h0M589.6 331.0h0M587.0 333.5h0M575.0 331.0h0M575.3 330.1h0M585.3 342.4h0M582.4 345.7h0M583.8 347.1h0M585.4 344.5h0M587.6 342.7h0M600.2 330.8h0M569.0 322.1h0M583.6 347.1h0M590.4 326.9h0M580.9 341.9h0M590.3 336.0h0M592.3 311.8h0M573.5 333.4h0M593.6 330.4h0M582.0 343.2h0M588.2 340.6h0M582.8 346.2h0M575.8 332.7h0M586.7 341.6h0M596.3 323.7h0M588.6 330.0h0M588.1 338.0h0M577.4 331.3h0M584.3 345.4h0M586.5 342.4h0M586.4 339.6h0M579.6 339.1h0M575.7 298.3h0M586.4 343.8h0M581.1 342.0h0M578.7 341.6h0M569.8 334.2h0M590.9 333.6h0M601.1 327.0h0M574.4 338.1h0M581.5 339.2h0M588.2 337.8h0M582.1 343.3h0M596.9 312.7h0M589.7 335.9h0M597.4 318.9h0M583.2 346.3h0M588.4 341.3h0M573.6 326.6h0M590.1 334.9h0M571.8 325.2h0M580.1 339.6h0M580.9 341.5h0M576.7 328.9h0M574.6 321.0h0M574.9 340.4h0M595.9 323.6h0M592.4 336.6h0M586.6 333.7h0M581.3 341.9h0M590.6 322.8h0M568.7 314.7h0M578.9 327.4h0M589.3 338.0h0M580.5 336.1h0M576.1 329.0h0M575.6 336.7h0M599.3 329.8h0M583.6 347.3h0M587.4 332.7h0M593.1 316.4h0M570.9 309.2h0M586.0 342.8h0M595.5 314.9h0M586.2 343.2h0M606.5 310.4h0M590.9 323.7h0M586.7 339.0h0M582.6 344.8h0M587.8 334.2h0M580.5 336.2h0M572.0 314.7h0M572.8 301.8h0M587.4 342.5h0M579.6 330.3h0M584.1 346.5h0M579.6 335.4h0M568.5 316.3h0M582.2 338.7h0M589.4 342.0h0M594.6 304.4h0M587.4 341.0h0M577.8 340.1h0M599.5 326.5h0M588.2 340.8h0M584.0 347.0h0M586.5 342.4h0M583.1 346.6h0M573.1 336.3h0M589.1 315.6h0M584.2 346.3h0M585.7 343.6h0M588.7 336.5h0M595.9 310.8h0M595.2 325.0h0M588.3 336.4h0M583.3 345.5h0M575.3 339.0h0M581.0 339.4h0M591.4 325.3h0M584.9 346.2h0M583.5 347.3h0M581.9 345.2h0M584.7 344.7h0M591.7 333.0h0M580.3 342.8h0M578.9 333.5h0M571.1 323.2h0M606.0 311.8h0M589.8 334.2h0M580.5 335.7h0M562.6 320.3h0M589.4 341.4h0M585.6 339.7h0M586.0 344.0h0M579.9 332.0h0M590.3 330.4h0M580.7 341.9h0M589.1 334.7h0M585.4 345.6h0M550.1 309.9h0M574.6 337.8h0M591.8 330.5h0M591.6 323.1h0M587.3 342.3h0M575.4 310.7h0M590.6 328.4h0M592.7 333.2h0M584.5 346.5h0M581.2 343.0h0M583.1 346.5h0M582.2 344.2h0M570.3 335.9h0M576.2 336.3h0M598.8 326.5h0M591.7 331.7h0M587.9 336.7h0M584.2 347.1h0M585.2 344.0h0M596.1 317.6h0M568.6 305.6h0M596.1 306.0h0M593.7 299.8h0M583.6 347.3h0M571.0 318.9h0M568.3 301.1h0M573.0 320.4h0M600.8 323.8h0M580.7 340.5h0M582.4 344.5h0M566.6 312.0h0M584.5 346.0h0M591.1 332.7h0M580.0 334.3h0M594.6 339.1h0M581.4 343.5h0M581.4 337.8h0M580.0 342.3h0M590.1 333.5h0M588.5 340.5h0M578.7 334.7h0M586.4 340.3h0M583.3 347.0h0M584.5 346.4h0M572.6 324.0h0M584.9 344.9h0M580.5 339.2h0M579.7 341.2h0M583.6 347.2h0M584.8 345.0h0M582.5 344.3h0M569.0 300.9h0M584.7 346.4h0M590.1 330.1h0M571.9 329.8h0M582.9 346.6h0M581.5 342.0h0M586.7 338.5h0M587.3 344.6h0M571.0 317.7h0M584.6 344.0h0M593.1 325.6h0M591.9 337.8h0M579.8 327.3h0M572.8 325.8h0M583.1 346.3h0M587.1 336.1h0M585.7 345.3h0M597.4 329.8h0M583.7 347.4h0M580.7 330.1h0M578.4 328.2h0M590.1 326.9h0M582.5 343.5h0M601.6 310.0h0M571.7 330.5h0M571.3 328.5h0M581.5 343.0h0M583.8 347.2h0M618.2 309.8h0M607.6 298.1h0M579.3 330.0h0M578.9 334.3h0M597.2 309.4h0M585.8 334.7h0M587.4 332.6h0M586.6 337.5h0M585.9 343.7h0M587.8 337.1h0M588.9 340.2h0M563.6 310.3h0M578.5 337.3h0M585.8 344.1h0M594.4 324.7h0M582.9 346.7h0M595.8 316.9h0M594.5 299.9h0M587.0 342.1h0M588.8 331.5h0M578.5 329.6h0M581.4 345.6h0M584.6 344.8h0M601.6 306.1h0M583.5 346.6h0M581.7 345.8h0M589.8 338.9h0M591.9 309.0h0M587.6 339.7h0M587.2 339.9h0M594.2 323.2h0M579.8 333.9h0M588.8 324.8h0M594.8 298.6h0M587.9 336.9h0M589.0 342.1h0M582.7 345.0h0M590.1 338.7h0M584.1 346.5h0M592.6 314.8h0M578.7 337.5h0M580.6 343.7h0M584.0 346.8h0M579.5 332.8h0M584.8 344.8h0M589.1 336.1h0M571.3 331.0h0M580.9 336.3h0M582.1 344.9h0M588.4 338.1h0M576.2 317.7h0M593.2 321.3h0M584.4 346.5h0M584.9 343.4h0M569.9 310.1h0M577.2 338.2h0M575.8 313.6h0M579.8 322.0h0M585.3 343.5h0M577.5 330.5h0M591.7 328.7h0M577.0 325.3h0M587.8 337.5h0M575.1 335.0h0M584.9 345.9h0M590.3 321.8h0M604.0 320.6h0M586.6 340.4h0M590.3 332.9h0M585.6 343.3h0M583.4 346.6h0M587.0 336.5h0M589.2 337.3h0M575.2 330.9h0M591.3 338.2h0M587.2 340.5h0M590.3 296.0h0M575.5 332.1h0M588.8 331.7h0M584.5 344.3h0M569.3 306.2h0M601.1 320.6h0M582.4 342.9h0M582.1 343.0h0M590.1 323.0h0M588.2 343.3h0M586.3 341.8h0M587.2 339.1h0M583.9 346.7h0M597.2 323.2h0M572.2 327.1h0M582.5 344.3h0M585.7 344.1h0M577.1 328.2h0M580.8 342.9h0M585.2 344.5h0M577.7 342.7h0M591.2 317.1h0M583.4 346.9h0M577.6 341.9h0M594.5 331.1h0M592.5 333.9h0M578.0 338.5h0M592.6 329.7h0M586.7 338.5h0M582.2 343.7h0M578.7 329.1h0M586.2 343.1h0M599.9 320.7h0M580.4 339.2h0M585.9 340.6h0M567.4 301.1h0M583.8 347.1h0M589.6 337.7h0M580.5 343.6h0M596.5 306.2h0M588.7 339.7h0M588.7 340.4h0M588.2 337.9h0M591.2 339.2h0M581.3 343.1h0M586.3 337.7h0M599.1 312.3h0M586.3 343.6h0M580.8 341.7h0M591.9 332.1h0M581.1 345.0h0M589.3 335.4h0M584.1 345.2h0M579.0 340.4h0M578.0 335.4h0M578.1 338.8h0M587.4 341.3h0M576.7 340.8h0M579.8 326.3h0M581.0 341.7h0M581.0 342.8h0M587.5 329.7h0M589.7 331.7h0M602.1 314.5h0M575.7 314.8h0M572.7 321.9h0M590.7 342.4h0M592.6 312.5h0M592.0 330.0h0M582.6 344.4h0M594.5 309.5h0M601.5 314.9h0M587.5 337.0h0M577.0 332.8h0M588.1 338.4h0M583.6 347.2h0M591.8 337.7h0M576.7 338.2h0M584.7 345.7h0M583.0 345.2h0M575.8 313.6h0M582.7 346.4h0M580.8 341.1h0M580.1 336.7h0M591.0 317.5h0M584.8 345.4h0M590.3 319.2h0M574.0 308.8h0M596.5 317.6h0M574.4 325.0h0M570.7 313.2h0M579.0 337.9h0M589.6 334.1h0M583.3 346.2h0M580.9 341.8h0M574.0 326.0h0M590.0 325.9h0M579.9 341.9h0M594.2 314.4h0M578.2 332.2h0M570.9 329.4h0M591.9 329.7h0M588.5 336.5h0M592.3 334.3h0M591.4 323.9h0M571.3 331.9h0M592.0 312.3h0M589.6 335.4h0M575.2 337.4h0M590.0 335.1h0M578.2 339.6h0M588.9 332.1h0M565.4 303.0h0M574.5 311.2h0M596.0 335.1h0M575.5 338.0h0M585.2 344.9h0M585.1 344.5h0M586.3 343.0h0M565.7 321.3h0M586.8 329.3h0M572.4 318.8h0M584.2 346.6h0M592.3 325.9h0M584.3 346.4h0M583.3 346.8h0M591.5 336.1h0M580.4 344.7h0M588.1 325.5h0M583.7 347.3h0M570.2 313.8h0M582.3 346.3h0M581.9 341.6h0M587.5 333.8h0M576.4 341.4h0M578.3 343.5h0M578.0 334.2h0M577.1 335.9h0M568.7 310.0h0M580.5 337.7h0M578.0 335.5h0M577.8 334.4h0M576.8 336.7h0M588.0 343.1h0M580.7 339.5h0M570.2 318.1h0M580.3 339.4h0M592.6 325.4h0M567.9 315.1h0M568.1 320.8h0M583.3 346.8h0M589.7 336.8h0M580.2 340.2h0M591.4 332.9h0M589.6 333.3h0M589.7 336.2h0M584.8 345.4h0M582.8 346.5h0M588.9 331.2h0M563.4 302.3h0M597.1 332.5h0M586.4 344.0h0M595.0 320.1h0M577.3 284.7h0M575.6 323.3h0M586.0 341.4h0M588.7 333.5h0M588.7 337.4h0M589.5 341.2h0M580.8 338.6h0M586.2 336.5h0M584.1 346.8h0M572.9 325.2h0M594.8 321.9h0M584.1 346.4h0M582.6 343.2h0M593.3 339.3h0M599.1 311.7h0M591.1 330.1h0M591.2 335.2h0M577.6 337.4h0M579.1 336.9h0M584.7 345.7h0M574.0 326.6h0M583.8 347.3h0M596.0 332.5h0M585.8 344.0h0M577.1 336.1h0M574.3 323.5h0M574.6 319.4h0M577.2 337.3h0M578.2 334.3h0M582.1 345.9h0M575.3 319.1h0M578.0 332.0h0M582.9 345.9h0M593.7 310.0h0M586.0 342.6h0M578.9 329.6h0M588.9 328.6h0M588.2 338.1h0M579.6 336.3h0M575.4 334.6h0M585.4 344.0h0M575.6 328.8h0M582.2 345.1h0M579.0 336.4h0M575.1 322.4h0M584.6 345.7h0M565.8 325.5h0M562.6 305.1h0M595.2 325.9h0M588.1 340.6h0M576.9 331.7h0M584.4 345.7h0M575.8 337.5h0M573.0 313.5h0M568.5 322.8h0M586.9 329.3h0M585.5 345.2h0M594.0 307.3h0M596.6 322.1h0M590.5 333.0h0M600.8 299.4h0M583.4 346.5h0M582.5 345.4h0M585.0 345.1h0M582.7 344.9h0M588.5 336.6h0M581.8 344.2h0M602.9 310.9h0M580.0 336.5h0M580.6 340.2h0M589.9 332.3h0M582.2 344.5h0M588.2 341.9h0M589.8 331.1h0M578.5 332.7h0M570.6 318.2h0M588.1 334.3h0M581.2 342.7h0M586.5 340.9h0M577.8 321.6h0M575.2 337.3h0M587.0 343.7h0M583.5 347.2h0M578.4 340.6h0M581.5 344.8h0M593.6 328.4h0M585.4 345.3h0M582.4 345.1h0M587.5 336.5h0M573.6 319.4h0M573.7 333.7h0M610.0 301.2h0M591.1 324.9h0M588.3 339.2h0M582.2 344.0h0M565.0 305.4h0M578.2 325.1h0M560.3 323.9h0M590.8 337.5h0M588.4 336.0h0M574.9 321.3h0M585.3 343.5h0M585.3 344.8h0M573.3 317.9h0M565.8 324.5h0M578.8 340.0h0M595.5 310.3h0M575.4 333.3h0M585.5 342.8h0M591.4 320.1h0M583.5 347.0h0M589.7 329.3h0M579.7 333.8h0M580.0 343.5h0M584.5 346.6h0M580.4 335.8h0M582.1 341.7h0M574.5 312.1h0M582.2 345.1h0M590.0 335.2h0M566.4 319.7h0M601.0 332.8h0M589.4 337.6h0M585.0 343.0h0M593.4 310.5h0M586.2 333.3h0M586.7 338.4h0M580.9 341.0h0M580.1 341.3h0M587.9 341.6h0M578.7 321.9h0M570.5 307.2h0M580.3 339.5h0M589.1 337.3h0M588.6 329.5h0M569.5 311.8h0M567.2 320.5h0M586.9 337.5h0M582.0 345.5h0M584.2 346.7h0M591.0 329.6h0M584.5 346.4h0M582.7 345.4h0M574.8 332.9h0M579.2 339.8h0M580.2 334.0h0M584.1 346.6h0M562.1 309.6h0M576.7 336.2h0M590.0 325.5h0M584.0 346.6h0M590.1 327.0h0M578.6 329.1h0M591.9 326.6h0M589.8 334.8h0M581.5 344.0h0M596.5 323.8h0M584.3 346.3h0M586.0 342.9h0M586.0 342.9h0M591.4 317.4h0M583.9 346.7h0M576.4 336.7h0M580.0 340.6h0M588.1 338.2h0M590.2 330.6h0M596.0 335.2h0M578.8 319.4h0M592.5 334.7h0M582.5 344.5h0M592.7 335.7h0M575.8 330.0h0M570.5 315.8h0M579.5 326.5h0M590.4 322.1h0M573.7 324.9h0M580.1 342.2h0M592.3 332.7h0M582.8 345.6h0M594.4 318.3h0M577.1 328.6h0M586.1 335.3h0M581.6 343.6h0M562.9 306.3h0M583.3 346.5h0M587.9 322.5h0M570.4 326.6h0M582.4 344.5h0M587.6 337.6h0M583.6 347.2h0M598.3 314.6h0M583.2 346.4h0M582.6 345.6h0M586.1 343.2h0M588.9 330.7h0M578.3 334.5h0M591.9 329.7h0M589.5 333.6h0M585.2 345.8h0M598.7 313.7h0M582.7 344.7h0M581.8 335.9h0M581.6 342.3h0M592.3 336.5h0M583.6 346.9h0M582.1 341.3h0M589.7 338.1h0M570.4 329.8h0M582.4 345.3h0M582.1 344.5h0M583.2 346.0h0M569.0 318.2h0M578.9 325.2h0M588.3 338.8h0M574.1 319.6h0M582.1 345.2h0M584.6 345.8h0M582.3 345.4h0M587.8 341.4h0M581.2 344.6h0M582.1 345.5h0M565.6 303.9h0M580.6 335.4h0M577.0 336.7h0M575.0 330.8h0M578.2 338.1h0M583.8 347.3h0M586.9 341.1h0M594.7 332.5h0M589.7 338.9h0M588.0 340.2h0M577.0 329.3h0M588.2 339.8h0M581.3 342.5h0M574.5 340.3h0M558.8 300.6h0M584.1 346.7h0M574.8 312.0h0M583.2 345.0h0M579.8 340.6h0M572.4 325.5h0M588.5 312.5h0M586.3 341.0h0M575.2 313.9h0M584.2 347.0h0M589.6 333.7h0M579.6 329.5h0M584.6 344.0h0M586.9 341.3h0M585.6 344.6h0M570.0 319.4h0M582.0 344.1h0M579.3 330.3h0M577.9 337.7h0M572.9 327.7h0M583.3 346.6h0M586.9 342.0h0M594.6 304.5h0M588.1 323.5h0M581.7 344.4h0M586.5 341.3h0M595.5 326.5h0M581.7 342.6h0M594.5 311.0h0M592.7 329.7h0M588.1 339.5h0M591.6 338.3h0M577.3 336.4h0M597.9 332.7h0M586.0 339.0h0M584.0 346.7h0M586.8 342.8h0M582.3 345.2h0M585.5 341.7h0M569.4 318.4h0M596.0 330.7h0M589.8 343.1h0M591.8 337.3h0M588.1 334.1h0M580.8 341.6h0M611.7 306.0h0M584.3 346.3h0M576.7 340.5h0M583.0 345.2h0M587.9 339.8h0M585.7 341.7h0M578.2 333.8h0M584.5 346.8h0M583.0 345.1h0M597.9 318.9h0M579.8 338.8h0M586.6 343.4h0M565.2 319.9h0M583.6 347.3h0M582.8 346.2h0M579.0 338.0h0M574.2 313.4h0M593.3 330.6h0M587.8 340.9h0M585.4 344.9h0M559.5 308.8h0M580.4 332.2h0M599.1 320.7h0M585.3 345.3h0M583.3 346.8h0M584.9 344.0h0M578.5 339.3h0M575.2 334.6h0M584.3 346.2h0M566.9 312.8h0M592.6 327.2h0M581.3 341.2h0M586.0 344.3h0M590.1 336.5h0M575.1 324.8h0M577.1 321.2h0M577.5 339.2h0M569.4 333.8h0M598.7 307.3h0M568.3 310.3h0M574.7 315.2h0M575.8 334.8h0M580.5 335.7h0M577.1 331.9h0M575.0 337.7h0M577.4 318.6h0M579.6 343.7h0M579.6 335.8h0M584.6 345.4h0M590.0 329.4h0M578.8 324.4h0M584.1 346.8h0M578.8 338.9h0M583.8 346.8h0M575.8 332.3h0M576.2 340.0h0M582.6 343.8h0M579.2 327.0h0M586.3 341.5h0M575.7 340.8h0M582.9 346.5h0M587.5 335.3h0M582.1 345.7h0M588.5 339.1h0M583.2 345.9h0M588.8 341.6h0M586.2 343.9h0M582.7 346.0h0M579.9 337.6h0M580.6 343.9h0M576.6 330.7h0M579.4 337.7h0M577.1 338.2h0M571.7 318.4h0M576.9 342.6h0M587.8 328.6h0M571.6 319.4h0M577.4 305.4h0M597.2 336.7h0M585.7 344.5h0M579.9 335.7h0M592.8 320.5h0M587.0 340.8h0M591.1 328.8h0M588.7 337.7h0M588.6 340.5h0M586.3 337.2h0M577.1 336.3h0M576.6 338.3h0M582.8 346.4h0M582.6 342.8h0M590.8 331.9h0M580.7 340.9h0M591.6 322.3h0M588.7 329.3h0M580.3 332.2h0M593.2 335.3h0M584.9 343.8h0M582.2 345.8h0M582.7 345.0h0M575.8 332.7h0M581.1 344.4h0M583.4 346.9h0M584.3 346.4h0M576.9 333.3h0M583.8 347.2h0M584.4 344.8h0M589.2 333.2h0M572.5 330.1h0M589.3 331.2h0M594.9 332.7h0M568.3 330.8h0M576.8 324.2h0M587.6 334.6h0M580.6 341.4h0M589.4 328.3h0M585.2 345.6h0M579.3 341.5h0M584.5 346.0h0M575.5 319.3h0M585.7 342.2h0M582.1 340.8h0M585.4 343.9h0M579.7 336.9h0M583.9 347.0h0M578.8 342.2h0M600.6 319.5h0M593.1 334.7h0M579.0 337.5h0M596.6 325.1h0M577.5 332.8h0M588.0 333.5h0M586.4 340.0h0M579.7 343.1h0M603.5 302.8h0M595.1 326.2h0M569.9 300.8h0M582.8 345.8h0M576.3 339.3h0M595.7 323.5h0M590.0 287.1h0M579.4 341.3h0M589.9 335.3h0M579.8 339.2h0M610.8 307.9h0M595.0 336.5h0M584.1 347.2h0M581.7 341.9h0M586.3 345.0h0M585.4 345.4h0M602.9 312.6h0M582.3 344.8h0M587.5 338.3h0M589.9 337.9h0M568.2 312.6h0M587.7 335.1h0M588.2 337.2h0M576.4 335.5h0M598.7 314.7h0M590.1 328.9h0M591.1 325.7h0M575.9 329.5h0M586.0 344.6h0M587.1 342.1h0M570.9 330.4h0M586.7 339.7h0M574.0 322.9h0M586.2 343.1h0M581.3 341.4h0M599.9 310.4h0M568.9 328.2h0M579.6 338.6h0M568.8 320.0h0M577.1 337.3h0M591.0 322.1h0M597.3 321.6h0M585.8 341.5h0M584.2 346.8h0M596.6 316.4h0M591.9 339.7h0M565.3 315.7h0M580.2 336.3h0M568.7 325.3h0M577.7 340.2h0M579.7 336.9h0M589.6 331.6h0M581.5 338.9h0M578.7 328.3h0M572.2 324.5h0M592.5 330.6h0M580.4 345.1h0M583.6 347.3h0M573.6 332.5h0M581.7 343.0h0M584.2 345.9h0M589.0 339.9h0M590.5 326.1h0M592.8 327.2h0M589.2 337.3h0M585.1 343.8h0M576.9 337.9h0M593.0 316.7h0M584.6 346.2h0M577.9 334.1h0M581.2 338.5h0M586.5 343.3h0M588.6 332.9h0M579.8 341.8h0M583.6 347.2h0M585.9 343.6h0M586.0 344.0h0M581.1 340.5h0M591.7 337.2h0M582.1 343.8h0M574.3 338.2h0M580.9 341.6h0M587.0 342.8h0M576.7 330.7h0M574.0 340.2h0M588.0 333.0h0M564.7 309.3h0M585.0 346.4h0M586.2 344.6h0M578.4 341.4h0M577.0 339.4h0M580.3 341.9h0M579.2 334.9h0M582.2 344.2h0M582.0 343.1h0M578.5 329.3h0M593.1 325.7h0M590.7 329.5h0M597.3 316.6h0M583.9 347.0h0M562.6 314.3h0M584.9 342.9h0M597.7 323.8h0M589.7 325.9h0M579.8 330.7h0M575.5 332.3h0M582.7 345.6h0M572.1 318.4h0M583.8 347.2h0M580.1 335.8h0M578.5 324.7h0M585.0 344.6h0M579.9 337.0h0M583.2 346.1h0M586.3 340.4h0M584.9 344.9h0M585.9 341.3h0M579.3 339.8h0M583.7 347.3h0M589.3 339.3h0M587.1 340.8h0M579.9 344.1h0M584.9 343.9h0M579.5 340.1h0M583.0 346.7h0M567.8 312.8h0M586.4 337.0h0M580.6 343.3h0M593.2 328.5h0M581.8 343.4h0M583.1 345.7h0M604.3 319.4h0M588.7 334.6h0M595.5 306.6h0M576.8 306.9h0M567.4 328.6h0M587.6 337.6h0M588.7 338.8h0M585.1 342.9h0M589.4 342.3h0M573.4 329.2h0M588.3 340.0h0M602.9 306.4h0M574.9 315.3h0M571.7 317.1h0M579.8 338.0h0M582.4 344.8h0M587.4 340.8h0M588.0 334.3h0M594.5 336.5h0M588.3 342.5h0M583.2 346.4h0M589.1 340.6h0M587.8 316.0h0M582.4 344.2h0M581.9 345.3h0M587.3 341.0h0M585.8 341.9h0M552.4 298.3h0M576.8 325.5h0M586.7 344.0h0M590.5 323.8h0M576.1 331.2h0M583.6 347.3h0M572.3 310.9h0M577.9 333.9h0M586.7 334.2h0M601.0 299.0h0M576.7 335.1h0M581.1 341.0h0M581.0 339.2h0M606.8 308.3h0M583.7 347.3h0M592.7 335.8h0M576.9 336.7h0M591.8 317.9h0M586.8 342.6h0M572.3 311.7h0M575.7 331.9h0M591.4 322.6h0M576.1 338.7h0M578.2 331.9h0M585.5 344.7h0M579.6 336.9h0M583.0 344.7h0M590.1 328.9h0M590.7 330.0h0M574.2 331.1h0M579.3 340.2h0M582.0 341.8h0M581.4 333.1h0M573.1 313.7h0M579.7 336.5h0M598.6 319.8h0M579.5 341.7h0M588.5 337.6h0M583.0 344.5h0M564.2 309.9h0M591.2 318.7h0M586.5 341.1h0M599.6 307.8h0M572.8 327.7h0M602.4 323.3h0M587.1 342.9h0M591.0 334.2h0M596.4 309.8h0M584.9 344.7h0M583.6 347.3h0M575.9 332.2h0M583.7 347.4h0M590.5 322.0h0M579.1 331.3h0M587.5 334.4h0M600.8 308.3h0M573.8 334.7h0M590.6 333.0h0M573.7 324.2h0M580.6 330.8h0M579.8 335.5h0M576.0 339.0h0M591.1 328.9h0M564.3 301.5h0M590.3 332.9h0M578.1 331.1h0M585.3 342.2h0M605.2 301.9h0M567.8 330.6h0M584.5 346.0h0M590.9 323.8h0M598.6 323.5h0M586.5 340.4h0M582.7 343.8h0M566.2 315.0h0M584.6 344.9h0M582.6 345.4h0M585.6 336.2h0M575.9 338.6h0M584.7 344.3h0M596.2 303.8h0M591.7 337.2h0M575.7 315.5h0M565.4 311.9h0M578.6 326.8h0M563.6 321.6h0M587.2 334.7h0M586.6 341.3h0M571.7 307.8h0M585.7 343.8h0M591.5 337.4h0M581.3 334.3h0M580.1 337.1h0M595.6 321.7h0M578.9 340.5h0M584.0 346.2h0M578.7 337.3h0M581.6 344.0h0M579.1 341.2h0M577.9 326.4h0M594.3 317.6h0M576.6 325.2h0M575.3 319.1h0M586.3 338.2h0M587.4 326.8h0M594.8 330.4h0M585.4 343.7h0M574.1 334.7h0M579.9 339.2h0M581.8 341.0h0M578.6 339.0h0M592.4 326.2h0M585.4 342.8h0M579.0 334.0h0M580.1 338.7h0M572.1 319.2h0M582.7 344.5h0M575.9 321.8h0M580.9 342.1h0M580.8 345.0h0M580.5 338.4h0M586.9 340.3h0M588.7 336.4h0M585.4 344.8h0M577.1 330.1h0M574.3 332.7h0M580.7 342.1h0M574.2 327.1h0M582.5 342.3h0M585.2 341.6h0M587.8 329.5h0M565.6 305.5h0M583.7 347.4h0M584.0 346.8h0M582.2 343.7h0M593.7 338.8h0M577.4 342.3h0M577.0 331.6h0M588.9 336.3h0M580.6 339.1h0M580.7 337.6h0M572.6 308.0h0M584.9 345.6h0M558.4 307.9h0M581.2 341.7h0M599.7 323.7h0M587.8 344.0h0M575.3 335.0h0M572.2 314.9h0M578.7 332.3h0M581.0 343.1h0M590.6 312.8h0M583.9 346.6h0M585.4 344.6h0M579.6 339.6h0M572.3 332.1h0M577.7 318.9h0M589.2 327.4h0M579.6 336.5h0M594.7 325.5h0M572.2 316.8h0M579.8 337.0h0M591.3 330.3h0M585.9 340.9h0M596.6 327.0h0M565.5 297.3h0M585.8 337.0h0M582.1 342.5h0M584.1 346.8h0M586.6 341.4h0M584.5 343.9h0M578.9 339.1h0M580.1 336.7h0M574.9 338.5h0M576.0 336.6h0M597.2 311.5h0M579.8 335.5h0M576.0 339.0h0M576.5 326.8h0M586.4 340.7h0M580.6 342.5h0M588.2 310.4h0M583.4 346.5h0M587.8 340.6h0M586.1 340.5h0M590.2 331.2h0M574.8 318.0h0M585.7 344.7h0M582.5 345.3h0M571.0 327.0h0M605.9 307.0h0M575.4 318.4h0M574.3 320.5h0M576.8 319.6h0M590.9 329.9h0M583.6 347.2h0M577.7 316.7h0M581.8 343.1h0M580.9 342.1h0M587.3 340.9h0M594.6 327.0h0M585.3 340.9h0M562.0 325.0h0M592.6 336.6h0M575.9 330.2h0M587.7 336.1h0M594.3 330.6h0M574.2 328.0h0M572.1 309.0h0M588.7 340.2h0M583.7 347.4h0M580.6 338.6h0M587.1 335.8h0M586.7 341.8h0M597.5 309.2h0M593.2 331.6h0M578.6 337.0h0M580.2 340.7h0M593.5 335.4h0M588.3 332.0h0M582.7 346.4h0M575.1 332.6h0M586.8 342.4h0M580.0 340.2h0M578.3 337.3h0M570.0 330.9h0M584.3 344.5h0M580.3 340.9h0M572.9 314.0h0M586.5 338.0h0M575.4 338.9h0M584.3 345.1h0M589.6 339.5h0M585.5 345.2h0M598.3 333.3h0M590.0 325.6h0M580.4 326.3h0M576.5 315.4h0M590.9 329.1h0M581.6 343.0h0M573.2 312.1h0M577.5 329.7h0M582.7 345.8h0M582.5 344.8h0M592.5 320.1h0M576.8 338.8h0M581.6 337.2h0M584.8 346.2h0M597.0 325.9h0M576.0 341.9h0M556.4 320.2h0M571.1 307.8h0M586.5 338.6h0M566.4 325.4h0M584.3 346.1h0M589.9 341.5h0M586.7 341.6h0M590.3 330.7h0M575.1 297.2h0M575.7 325.2h0M587.3 322.2h0M581.6 342.3h0M588.2 342.5h0M582.5 343.1h0M580.5 340.4h0M588.2 339.3h0M589.4 336.4h0M579.9 343.1h0M585.6 340.6h0M563.9 328.5h0M584.9 343.5h0M582.0 344.0h0M594.5 299.3h0M572.7 339.0h0M587.6 338.7h0M590.0 330.4h0M593.0 328.0h0M582.5 341.0h0M580.6 340.7h0M583.1 345.2h0M586.0 343.1h0M576.4 338.9h0M580.3 338.6h0M579.6 332.3h0M585.4 343.2h0M584.0 346.7h0M587.0 335.4h0M593.9 330.7h0M586.9 336.4h0M581.9 345.1h0M591.0 318.8h0M588.7 331.1h0M588.4 321.9h0M583.7 347.4h0M581.6 345.0h0M594.3 307.3h0M587.7 339.1h0M576.2 330.2h0M583.3 346.7h0M586.4 333.1h0M579.7 338.5h0M584.6 342.8h0M588.8 335.6h0M589.8 334.5h0M583.5 346.8h0M588.5 344.1h0M583.7 347.4h0M569.1 318.6h0M589.5 335.6h0M586.3 334.8h0M596.1 297.7h0M579.9 339.6h0M554.3 317.5h0M585.3 344.6h0M585.2 339.0h0M581.3 341.4h0M591.8 323.2h0M585.0 344.5h0M576.3 338.8h0M561.8 321.7h0M579.0 320.0h0M586.4 340.3h0M580.4 338.3h0M577.5 323.1h0M595.3 323.6h0M580.7 344.3h0M583.3 346.2h0M578.5 325.2h0M587.6 341.8h0M598.8 328.1h0M596.9 311.5h0M590.4 331.0h0M571.2 337.7h0M585.7 343.2h0M588.7 340.8h0M587.6 338.5h0M587.2 343.1h0M561.6 312.7h0M583.4 347.1h0M578.3 325.5h0M584.3 345.4h0M575.2 317.2h0M587.0 342.3h0M585.2 345.6h0M568.0 309.2h0M598.1 324.2h0M586.2 335.9h0M591.3 313.8h0M595.6 317.7h0M571.3 326.6h0M564.3 307.2h0M575.2 308.6h0M577.3 284.6h0M577.6 335.8h0M586.6 338.7h0M581.1 342.3h0M576.2 327.8h0M570.1 317.2h0M602.1 330.0h0M579.1 334.7h0M600.2 297.8h0M581.7 343.1h0M579.9 338.4h0M585.8 341.2h0M574.6 338.9h0M584.2 345.7h0M577.9 340.7h0M582.4 345.6h0M590.4 318.5h0M586.5 340.9h0M589.6 338.5h0M574.8 328.3h0M575.1 335.8h0M594.3 326.6h0M588.2 338.2h0M566.8 312.5h0M570.4 327.0h0M575.9 332.7h0M583.1 346.1h0M579.0 338.7h0M583.0 344.2h0M579.9 343.8h0M581.9 343.9h0M587.0 341.8h0M584.3 344.8h0M584.3 346.5h0M602.5 308.6h0M587.9 339.1h0M593.9 324.9h0M579.2 332.4h0M589.0 334.6h0M566.2 311.9h0M583.9 346.9h0M573.1 329.1h0M571.6 319.8h0M577.9 317.0h0M592.9 331.9h0M582.2 343.8h0M586.9 339.9h0M578.8 333.8h0M592.2 323.8h0M592.8 333.9h0M587.8 331.8h0M586.9 342.8h0M584.5 345.1h0M574.7 328.1h0M572.2 320.9h0M593.3 321.4h0M575.8 336.2h0M582.0 345.2h0M579.1 334.6h0M594.2 309.1h0M586.2 345.2h0M583.1 346.6h0M585.9 340.1h0M576.4 335.6h0M577.5 333.8h0M582.1 345.1h0M593.8 311.7h0M582.5 344.1h0M591.2 334.5h0M576.1 332.8h0M586.5 341.3h0M580.7 341.2h0M585.3 343.8h0M586.9 339.5h0M585.7 344.2h0M600.7 314.8h0M574.1 338.3h0M582.6 345.0h0M578.6 303.8h0M597.1 324.0h0M589.7 334.3h0M572.6 317.7h0M571.9 333.9h0M579.2 338.8h0M583.0 346.3h0M582.7 345.4h0M587.4 338.8h0M579.5 335.2h0M569.5 319.2h0M589.7 333.4h0M593.7 300.6h0M589.2 330.0h0M583.2 346.5h0M564.8 322.1h0M588.3 343.2h0M585.9 335.6h0M588.4 335.8h0M584.0 347.0h0M589.2 316.5h0M586.1 342.5h0M588.2 339.2h0M604.5 311.2h0M579.8 332.1h0M594.1 334.9h0M582.5 345.3h0M584.9 345.8h0M585.3 343.7h0M574.3 333.1h0M572.9 322.7h0M587.7 343.8h0M569.2 311.1h0M577.7 332.0h0M585.4 345.9h0M590.5 332.7h0M588.3 338.8h0M579.9 337.3h0M566.4 323.9h0M581.9 340.7h0M593.7 328.6h0M593.9 335.9h0M589.6 338.8h0M589.1 342.6h0M583.8 347.2h0M589.6 336.7h0M584.2 346.3h0M591.0 342.2h0M582.9 344.8h0M573.0 316.1h0M587.3 339.5h0M578.8 337.4h0M573.4 317.6h0M569.2 331.9h0M594.7 331.3h0M587.4 337.9h0M597.1 334.1h0M579.4 322.8h0M601.4 317.1h0M573.1 329.0h0M587.2 341.6h0M580.8 343.0h0M590.5 337.0h0M588.4 336.8h0M576.7 339.0h0M584.0 347.1h0M581.3 337.8h0M579.7 340.2h0M585.6 343.2h0M582.7 343.4h0M578.8 335.2h0M596.0 322.2h0M594.6 337.6h0M588.4 332.8h0M575.0 330.6h0M584.2 346.3h0M578.7 327.5h0M570.7 335.5h0M586.3 343.4h0M586.7 344.1h0M591.5 333.3h0M578.0 341.2h0M585.1 346.0h0M583.6 347.1h0M575.6 323.1h0M573.0 319.8h0M585.1 344.7h0M570.7 326.1h0M587.5 334.9h0M583.2 346.4h0M585.9 342.0h0M606.3 307.1h0M602.5 310.3h0M578.5 338.7h0M585.7 338.0h0M605.7 320.0h0M573.4 317.5h0M579.8 340.3h0M576.8 318.9h0M579.5 342.5h0M586.5 341.0h0M601.6 314.5h0M567.0 301.7h0M569.6 319.5h0M573.4 339.6h0M575.6 324.9h0M589.4 339.9h0M585.1 342.9h0M571.8 303.3h0M573.8 323.9h0M576.9 328.8h0M571.9 309.8h0M574.8 328.2h0M575.5 317.2h0M579.2 335.1h0M580.9 340.7h0M583.5 347.1h0M579.4 328.2h0M592.5 316.2h0M582.8 345.7h0M586.4 337.2h0M578.6 341.8h0M580.9 340.6h0M583.0 346.2h0M582.2 344.4h0M592.0 314.8h0M584.5 344.4h0M572.6 308.5h0M577.9 340.0h0M586.7 340.0h0M588.5 336.1h0M603.4 305.0h0M598.9 333.1h0M600.5 304.1h0M582.9 345.8h0M602.8 312.4h0M557.8 298.9h0M580.4 337.7h0M585.8 336.3h0M586.1 336.2h0M570.7 327.2h0M580.4 340.8h0M601.7 312.5h0M581.5 339.2h0M585.3 344.1h0M585.0 344.9h0M590.8 328.2h0M585.1 342.4h0M574.9 336.9h0M580.2 343.9h0M569.8 332.4h0M574.3 312.4h0M581.9 343.3h0M585.2 344.5h0M583.5 346.2h0M581.6 337.0h0M579.3 337.6h0M580.3 333.8h0M574.5 327.0h0M591.7 327.2h0M592.3 325.1h0M588.7 329.5h0M594.2 311.7h0M596.3 303.0h0M575.5 332.4h0M580.0 334.9h0M596.2 308.1h0M587.9 343.5h0M573.6 312.8h0M580.2 338.8h0M581.2 341.8h0M600.0 329.1h0M596.9 318.8h0M572.9 330.8h0M576.0 336.2h0M578.9 333.5h0M580.9 341.2h0M595.3 319.2h0M588.3 339.8h0M589.8 328.1h0M585.5 339.6h0M587.2 337.3h0M584.6 344.1h0M575.5 321.5h0M576.5 324.6h0M583.7 347.4h0M585.0 345.2h0M582.0 339.8h0M583.9 346.8h0M586.2 339.8h0M585.9 342.0h0M584.7 346.0h0M587.7 330.3h0M585.4 345.9h0M579.1 332.5h0M581.7 344.0h0M588.4 335.5h0M583.9 347.2h0M560.6 325.2h0M584.2 346.0h0M592.8 310.6h0M579.7 342.6h0M590.7 324.2h0M586.0 342.7h0M591.4 323.9h0M594.8 324.7h0M590.6 320.1h0M587.3 340.8h0M574.2 329.5h0M594.3 315.0h0M579.6 338.6h0M578.7 334.7h0M595.2 323.1h0M568.4 300.6h0M582.3 344.7h0M594.4 337.7h0M586.3 338.6h0M589.3 332.2h0M584.9 344.8h0M595.8 326.7h0M585.9 344.6h0M594.8 314.5h0M580.4 339.4h0M594.8 320.6h0M584.0 346.8h0M575.1 313.2h0M588.5 332.1h0M588.0 336.4h0M580.9 343.4h0M590.5 330.2h0M585.4 345.4h0M572.2 325.5h0M579.6 334.6h0M593.2 333.5h0M583.5 347.0h0M587.8 338.3h0M600.3 313.2h0M573.2 324.0h0M597.0 323.6h0M589.0 337.5h0M585.3 345.0h0M573.6 308.3h0M577.8 337.1h0M577.9 336.3h0M585.4 344.3h0M579.0 339.3h0M585.2 342.7h0M586.5 343.6h0M590.7 334.1h0M585.0 345.8h0M595.6 328.3h0M583.2 346.9h0M578.3 333.0h0M578.9 336.7h0M586.2 343.2h0M564.8 317.6h0M586.4 340.1h0M575.8 333.4h0M583.8 346.8h0M586.8 344.6h0M585.7 342.7h0M581.8 344.0h0M583.4 347.1h0M591.3 328.6h0M580.1 338.6h0M584.7 345.0h0M564.3 313.0h0M568.9 314.2h0M589.8 337.3h0M579.0 334.7h0M592.6 319.9h0M583.4 346.8h0M576.3 329.8h0M575.3 332.7h0M571.2 311.8h0M576.4 329.3h0M580.3 340.8h0M586.9 338.2h0M590.0 332.3h0M568.5 312.2h0M588.9 339.3h0M576.0 338.9h0M577.3 334.4h0M580.2 339.4h0M576.4 328.2h0M584.4 345.6h0M586.5 339.8h0M578.6 339.3h0M581.7 341.0h0M572.6 331.4h0M575.0 330.9h0M592.5 326.2h0M595.0 325.1h0M579.7 333.2h0M585.0 345.4h0M584.5 345.1h0M579.3 327.8h0M580.1 339.0h0M587.8 341.6h0M574.3 320.9h0M577.1 328.9h0M587.9 342.4h0M580.9 338.5h0M591.0 335.0h0M586.6 345.5h0M582.2 342.0h0M551.9 309.7h0M576.2 337.2h0M569.2 329.6h0M580.7 343.0h0M577.9 332.4h0M586.2 338.9h0M601.8 325.3h0M586.3 340.2h0M574.9 337.8h0M579.0 337.7h0M581.7 345.7h0M591.1 335.4h0M575.8 329.2h0M584.8 343.9h0M572.5 332.8h0M583.9 346.8h0M603.0 330.6h0M590.5 337.0h0M574.7 300.0h0M579.3 331.0h0M582.8 345.2h0M587.6 336.9h0M586.3 341.4h0M585.5 340.4h0M574.0 328.6h0M596.3 301.9h0M580.6 335.3h0M573.5 326.3h0M576.8 310.4h0M583.7 347.3h0M585.2 345.1h0M580.7 335.2h0M586.5 340.3h0M581.9 343.3h0M587.0 338.4h0M595.4 332.8h0M574.2 297.2h0M577.4 335.3h0M571.6 309.4h0M602.4 319.2h0M587.3 342.6h0M591.1 317.7h0M582.6 345.7h0M587.1 330.4h0M583.6 347.1h0M581.0 341.5h0M583.7 347.3h0M596.4 318.8h0M585.3 342.5h0M593.5 324.3h0M585.8 344.5h0M574.1 318.5h0M584.5 346.6h0M568.2 326.9h0M587.0 326.4h0M585.1 345.7h0M585.1 344.6h0M584.2 346.0h0M592.7 334.9h0M578.5 337.0h0M574.0 330.7h0M569.9 329.7h0M599.1 311.8h0M570.5 321.2h0M582.8 345.0h0M587.4 338.1h0M580.3 339.8h0M586.5 340.5h0M582.7 342.6h0M589.8 331.5h0M586.6 338.1h0M589.3 333.6h0M578.8 341.9h0M591.1 332.0h0M585.4 344.2h0M577.4 340.8h0M579.1 335.7h0M579.1 334.0h0M595.1 299.6h0M589.9 322.1h0M591.1 329.1h0M573.2 325.0h0M586.6 339.5h0M583.2 346.1h0M597.6 315.7h0M582.7 344.4h0M575.3 313.5h0M598.8 330.7h0M583.2 346.7h0M577.5 337.2h0M571.4 321.2h0M563.0 298.3h0M596.4 318.8h0M590.4 338.3h0M582.6 345.7h0M580.3 343.2h0M578.9 341.0h0M597.6 324.4h0M582.6 345.1h0M590.2 328.6h0M597.4 329.4h0M583.0 346.6h0M594.4 331.0h0M578.2 338.4h0M565.0 319.7h0M593.9 317.6h0M589.3 341.7h0M590.8 318.7h0M579.7 340.2h0M585.0 346.0h0M579.4 336.9h0M585.4 342.0h0M587.7 341.4h0M587.1 337.4h0M595.4 326.4h0M586.7 338.0h0M597.8 324.2h0M591.4 325.8h0M581.7 344.0h0M592.1 327.4h0M589.9 333.4h0M587.1 341.5h0M575.2 331.5h0M572.1 332.5h0M582.5 345.6h0M582.5 344.8h0M580.0 341.2h0M585.2 344.6h0M584.8 345.4h0M585.4 341.6h0M574.1 319.5h0M588.1 335.0h0M600.9 307.0h0M593.5 338.6h0M592.5 327.0h0M569.0 299.8h0M575.6 311.7h0M583.8 347.3h0M578.6 334.1h0M583.8 347.1h0M579.5 338.2h0M595.3 323.7h0M592.5 334.3h0M587.0 343.2h0M578.5 323.8h0M584.1 346.7h0M592.3 329.3h0M591.6 328.7h0M582.0 343.7h0M569.8 314.8h0M576.7 327.9h0M590.4 334.1h0M593.4 331.6h0M592.3 332.1h0M587.9 339.8h0M580.2 335.0h0M576.6 329.6h0M595.8 319.5h0M584.4 345.8h0M582.6 342.1h0M593.5 323.7h0M588.9 329.6h0M589.5 336.8h0M570.8 321.1h0M583.9 347.1h0M582.4 343.0h0M582.9 343.2h0M587.9 342.8h0M561.1 311.2h0M577.3 333.1h0M569.5 312.5h0M578.6 339.0h0M579.0 339.1h0M586.8 338.0h0M576.3 299.0h0M580.9 335.2h0M580.3 343.6h0M591.6 310.7h0M576.5 319.1h0M561.5 312.8h0M581.4 341.6h0M589.0 324.2h0M580.8 342.8h0M584.1 346.1h0M579.6 335.2h0M590.4 336.8h0M586.5 344.0h0M579.9 342.7h0M589.8 338.9h0M604.5 314.7h0M580.3 339.8h0M574.5 316.5h0M595.7 317.7h0M587.2 341.1h0M574.2 322.5h0M584.3 345.2h0M599.6 321.3h0M581.9 339.0h0M591.5 341.8h0M595.4 333.9h0M576.4 324.5h0M584.9 344.5h0M585.4 342.2h0M590.4 340.2h0M582.2 345.0h0M582.9 345.7h0M584.8 344.3h0M586.3 344.4h0M587.0 331.9h0M568.5 319.3h0M585.6 343.8h0M580.9 341.4h0M570.7 314.2h0M569.3 304.5h0M587.7 337.2h0M591.7 335.4h0M587.8 341.4h0M592.2 335.6h0M586.0 343.9h0M575.4 329.4h0M573.4 335.1h0M588.4 337.9h0M582.8 344.6h0M577.4 330.1h0M578.0 339.1h0M581.4 340.9h0M606.1 319.4h0M585.6 344.1h0M580.8 335.5h0M575.0 322.3h0M591.3 336.5h0M580.5 343.2h0M587.1 333.5h0M586.9 336.8h0M579.1 339.9h0M583.3 345.7h0M593.6 315.7h0M572.8 320.5h0M587.6 338.9h0M584.1 346.9h0M581.2 345.8h0M585.9 344.9h0M582.7 345.8h0M584.8 342.1h0M573.2 323.7h0M576.8 336.5h0M595.2 326.5h0M584.6 345.2h0M580.9 339.0h0M580.1 336.2h0M554.8 303.5h0M575.8 328.6h0M580.1 338.5h0M578.6 333.6h0M578.2 342.6h0M579.5 341.2h0M586.9 325.1h0M572.4 324.1h0M589.3 340.0h0M587.7 339.2h0M577.6 332.7h0M590.5 334.9h0M587.2 341.2h0M571.5 328.9h0M580.3 340.0h0M591.9 338.2h0M583.5 347.1h0M595.8 307.6h0M594.3 319.8h0M574.3 330.1h0M586.7 337.5h0M601.1 309.6h0M581.7 342.0h0M572.4 335.6h0M581.7 343.9h0M586.6 342.3h0M589.9 335.3h0M576.4 335.2h0M598.6 318.5h0M579.8 334.8h0M594.6 319.9h0M589.0 338.8h0M584.1 345.9h0M582.1 342.0h0M578.0 331.2h0M584.7 345.1h0M562.3 312.5h0M589.1 336.1h0M582.4 342.4h0M571.5 300.1h0M587.0 342.0h0M599.5 299.9h0M589.0 335.4h0M592.8 335.4h0M594.3 316.4h0M585.4 341.2h0M560.3 301.1h0M570.1 313.7h0M575.5 326.3h0M593.0 320.3h0M574.4 334.6h0M599.1 333.7h0M572.0 317.2h0M585.4 342.6h0M588.8 334.7h0M598.7 327.0h0M587.8 338.4h0M584.9 345.5h0M587.6 336.9h0M592.5 333.8h0M578.8 340.1h0M605.4 316.7h0M577.5 339.6h0M584.2 346.4h0M595.0 331.2h0M594.1 315.3h0M591.0 335.3h0M593.4 330.5h0M593.3 316.5h0M591.9 330.2h0M578.8 344.0h0M576.3 330.3h0M583.7 347.4h0M580.6 343.2h0M588.3 330.5h0M584.9 345.2h0M589.9 331.7h0M583.5 346.9h0M577.2 340.4h0M594.4 324.0h0M583.7 347.3h0M594.5 323.0h0M577.0 319.4h0M581.1 340.8h0M593.0 327.4h0M584.5 346.3h0M579.0 337.3h0M594.5 327.3h0M584.0 346.7h0M598.1 330.7h0M577.5 334.6h0M579.2 332.1h0M575.9 331.3h0M582.7 342.9h0M585.6 343.8h0M583.7 347.3h0M575.8 325.3h0M585.0 345.3h0M584.7 342.8h0M583.0 346.2h0M577.7 338.3h0M584.1 346.9h0M577.4 335.1h0M586.8 334.2h0M591.1 337.6h0M583.3 346.8h0M582.5 342.2h0M598.4 302.1h0M584.7 345.9h0M580.9 342.6h0M588.7 328.5h0M586.5 340.9h0M587.9 334.8h0M585.9 344.2h0M574.3 300.2h0M585.8 336.8h0M591.6 332.6h0M572.3 308.3h0M574.6 331.9h0M590.0 339.0h0M576.2 331.6h0M585.5 344.5h0" stroke="#bebebe" stroke-width="2.55" stroke-linecap="round" fill="none"/><path d="M558.5 285.6h0M573.4 284.4h0M572.4 282.5h0M552.2 287.9h0M554.8 236.9h0M570.6 266.7h0M544.6 260.9h0M564.9 229.0h0M565.7 238.2h0M575.1 283.1h0M568.1 275.1h0M564.8 294.6h0M566.1 271.7h0M564.7 291.4h0M564.4 264.5h0M575.0 287.2h0M566.2 268.1h0M566.6 282.5h0M572.8 283.2h0M564.1 278.3h0M574.1 246.4h0M574.4 293.8h0M572.0 283.3h0M566.8 280.8h0M567.9 274.8h0M573.9 285.2h0M574.6 289.6h0M572.7 252.2h0M568.3 246.8h0M569.5 261.7h0M559.3 267.6h0M569.9 292.0h0M574.1 291.9h0M564.6 282.3h0M573.7 262.6h0M549.3 255.6h0M562.4 289.9h0M566.9 285.6h0M568.2 288.2h0M558.1 264.2h0M575.4 289.2h0M560.8 296.4h0M572.6 281.1h0M575.3 291.2h0M574.9 272.0h0M567.6 270.3h0M572.7 246.9h0M570.7 265.3h0M565.9 292.1h0M563.4 282.9h0M561.2 289.9h0M574.7 263.5h0M575.5 281.1h0M544.6 272.8h0M573.6 288.0h0M569.5 291.3h0M572.0 256.7h0M572.7 280.1h0M570.2 282.7h0M574.0 263.4h0M573.0 282.6h0M572.2 236.3h0M567.7 244.2h0M570.1 294.3h0M575.0 259.0h0M565.7 241.3h0M571.3 288.5h0M569.1 259.4h0M574.6 285.5h0M537.6 275.8h0M575.8 273.8h0M574.7 260.0h0M574.9 266.4h0M564.0 272.5h0M570.2 280.7h0M540.3 228.5h0M570.1 282.7h0M571.9 288.8h0M568.9 294.1h0M571.2 268.4h0M557.8 296.6h0M559.0 292.5h0M560.3 257.2h0M562.1 294.2h0M560.0 220.0h0M571.4 279.0h0M565.7 290.9h0M558.5 266.8h0M568.2 280.1h0M572.9 251.5h0M564.5 278.9h0M569.5 262.3h0M574.9 260.0h0M569.1 289.0h0M535.4 270.8h0M562.7 276.7h0M569.8 282.8h0M568.3 250.2h0M558.1 292.2h0M553.5 292.7h0M575.3 293.2h0M560.3 286.3h0M571.2 290.8h0M570.5 295.7h0M570.0 292.8h0M570.6 266.9h0M567.4 236.1h0M570.8 261.0h0M576.3 295.9h0M558.0 284.1h0M565.1 269.8h0M575.3 271.8h0M570.4 276.6h0M569.1 294.1h0M570.9 292.4h0M574.0 282.6h0M570.0 245.7h0M564.3 259.6h0M562.8 291.0h0M573.2 293.7h0M574.2 279.2h0M554.8 224.6h0M570.4 292.3h0M561.4 241.5h0M567.9 250.4h0M560.0 216.9h0M560.9 276.7h0M567.3 248.7h0M564.6 264.5h0M572.1 291.1h0M571.8 286.7h0M571.5 280.4h0M529.7 272.5h0M554.7 293.0h0M574.1 287.1h0M570.5 274.8h0M565.1 286.9h0M575.0 279.1h0M570.7 287.9h0M562.8 286.7h0M561.3 290.1h0M556.4 284.2h0M555.7 280.5h0M559.0 289.0h0M567.8 288.6h0M574.6 270.2h0M563.0 288.6h0M563.4 278.2h0M571.6 259.8h0M563.4 269.4h0M573.8 267.7h0M572.6 289.9h0M569.5 258.5h0M558.9 281.1h0M576.1 286.2h0M545.5 265.1h0M565.8 229.2h0M572.9 283.7h0M567.1 279.6h0M570.9 292.0h0M574.5 283.2h0M572.6 247.9h0M560.6 272.8h0M572.7 279.1h0M556.4 286.9h0M572.9 259.7h0M570.3 242.9h0M559.2 245.5h0M562.8 266.6h0M562.8 260.4h0M553.6 282.9h0M573.2 277.1h0M535.4 273.7h0M571.2 291.3h0M557.8 291.0h0M571.4 292.7h0M575.1 280.5h0M573.8 281.4h0M573.1 263.6h0M569.1 280.3h0M562.3 296.0h0M547.1 278.4h0M574.1 269.8h0M574.1 285.0h0M568.8 295.2h0M529.6 256.5h0M563.7 269.8h0M560.1 278.1h0M538.5 274.5h0M571.4 279.7h0M573.7 238.7h0M573.4 284.9h0M563.3 282.7h0M561.8 265.9h0M574.9 245.7h0M572.8 294.4h0M555.4 272.4h0M563.2 275.0h0M572.3 278.3h0M575.1 281.5h0M565.1 271.3h0M562.5 292.2h0M568.0 284.7h0M573.3 288.1h0M575.4 288.4h0M566.7 286.9h0M558.2 296.5h0M576.2 279.9h0M575.3 276.5h0M572.9 282.9h0M566.5 269.1h0M563.4 244.1h0M564.4 223.9h0M574.5 265.7h0M571.6 276.7h0M574.7 285.0h0M571.8 250.5h0M574.1 281.6h0M561.5 294.2h0M575.4 288.1h0M535.9 264.4h0M570.0 242.4h0M574.9 263.2h0M569.6 287.6h0M567.2 233.5h0M573.9 262.0h0M571.6 277.0h0M575.9 274.8h0M572.6 293.9h0M575.2 275.8h0M574.0 274.5h0M573.2 291.3h0M574.6 282.6h0M570.0 262.9h0M575.1 282.4h0M573.4 246.9h0M557.2 291.9h0M565.7 287.8h0M558.1 281.4h0M567.8 253.3h0M558.6 281.6h0M571.8 291.7h0M575.9 282.4h0M572.5 287.4h0M570.7 288.4h0M568.3 245.0h0M569.8 289.9h0M573.5 267.8h0M557.8 284.8h0M569.3 263.6h0M559.5 290.9h0M571.0 272.2h0M559.6 292.6h0M567.1 265.6h0" stroke="#0000ff" stroke-width="2.55" stroke-linecap="round" fill="none"/><path d="M595.4 281.7h0M605.3 268.2h0M600.8 272.5h0M618.2 296.1h0M616.2 295.5h0M624.3 272.1h0M606.5 291.5h0M596.6 289.7h0M592.4 283.3h0M605.6 294.7h0M591.3 291.5h0M606.8 289.1h0M599.0 283.1h0M593.2 255.2h0M593.3 279.3h0M597.8 260.0h0M608.3 249.1h0M597.9 272.1h0M615.3 283.8h0M591.8 280.2h0M594.5 293.4h0M599.8 277.1h0M601.6 296.1h0M595.7 259.3h0M599.1 289.7h0M594.3 257.8h0M594.3 282.0h0M595.4 278.6h0M614.8 282.3h0M596.8 275.4h0M595.3 257.0h0M608.9 287.1h0M599.7 293.1h0M594.1 293.2h0M596.8 277.3h0M596.9 252.5h0M598.1 234.2h0M602.5 281.7h0M601.2 236.3h0M596.4 283.2h0M609.8 282.7h0M597.4 295.5h0M612.3 281.6h0M594.6 226.4h0M603.2 278.9h0M594.4 294.0h0M609.2 255.5h0M594.2 260.0h0M608.0 293.1h0M593.7 248.3h0M603.9 294.7h0M595.1 281.3h0M591.5 278.4h0M609.5 273.3h0M591.4 284.5h0M600.5 291.2h0M595.4 276.9h0M602.5 292.1h0M599.9 278.7h0M591.9 293.6h0M592.5 271.9h0M593.7 255.8h0M605.5 259.7h0M601.6 291.9h0M599.4 259.5h0M607.8 281.6h0M593.3 239.1h0M591.9 270.7h0M592.1 273.9h0M595.5 283.5h0M591.7 285.6h0M598.1 282.6h0M607.1 221.5h0M598.8 296.7h0M601.7 295.7h0M610.3 292.8h0M596.7 294.3h0M597.7 283.3h0M597.1 295.0h0M623.0 263.7h0M592.4 277.9h0M610.7 281.1h0M590.5 293.3h0M608.9 276.8h0M594.3 267.0h0M603.6 234.0h0M600.6 287.3h0M596.2 287.0h0M591.7 292.2h0M619.5 258.5h0M597.9 296.6h0M593.0 290.8h0M597.4 295.4h0M604.6 229.0h0M595.1 259.4h0M603.7 281.6h0M601.5 289.4h0M609.9 294.2h0M596.1 291.1h0M599.5 262.6h0M603.9 292.9h0M599.9 267.8h0M595.0 282.3h0M596.1 291.2h0M605.8 296.3h0M595.3 295.6h0M598.6 254.3h0M600.7 287.8h0M601.1 274.0h0M601.6 275.4h0M597.5 242.1h0M625.0 255.6h0M593.2 275.4h0M600.9 270.5h0M598.4 276.8h0M592.6 267.8h0M604.6 248.6h0M598.5 278.1h0M599.4 265.3h0M592.6 279.8h0M597.2 293.7h0M599.9 294.3h0M597.1 275.9h0M596.5 295.9h0M593.0 291.6h0M595.0 292.2h0M597.6 286.4h0M607.1 277.0h0M618.8 246.7h0M604.0 291.9h0M603.5 287.0h0M596.9 269.0h0M593.3 287.9h0M609.6 296.2h0M599.6 296.8h0M596.4 240.0h0M601.8 286.2h0M595.9 263.3h0M603.0 292.7h0M598.7 294.0h0M592.2 258.5h0M593.5 290.9h0M598.2 293.9h0M593.7 286.5h0M596.5 286.3h0M595.6 294.3h0M596.6 280.9h0M593.0 278.8h0M596.4 257.1h0M596.8 285.9h0M609.1 277.8h0M593.4 293.5h0M600.1 245.8h0M594.5 281.8h0M595.2 253.0h0M595.9 286.8h0M617.9 289.8h0M596.8 286.0h0M596.7 271.2h0M602.0 253.8h0M591.3 291.3h0M602.5 283.6h0M600.1 289.5h0M596.2 273.3h0M615.1 285.1h0M594.4 273.7h0M624.6 278.0h0M597.5 289.5h0M594.5 292.8h0M599.8 296.7h0M594.5 246.2h0M594.4 287.7h0M595.6 286.4h0M592.2 275.0h0M596.3 293.2h0M600.4 267.0h0M594.6 271.4h0M595.7 230.0h0M592.0 261.9h0M602.6 278.6h0M596.8 254.5h0M594.9 286.8h0M591.9 271.6h0M594.2 263.0h0M610.4 272.4h0M594.1 293.5h0M598.7 292.9h0M624.9 261.2h0M604.4 285.4h0M600.4 280.5h0M604.3 288.3h0M602.6 267.5h0M592.5 295.5h0M592.9 267.5h0M612.7 295.1h0M602.4 257.2h0M596.9 262.7h0M604.1 256.9h0M594.7 276.5h0M603.7 288.3h0M601.1 251.7h0M615.3 235.3h0M603.0 264.1h0M592.8 264.7h0M599.6 263.0h0M629.3 290.1h0M597.0 288.2h0M598.7 276.5h0M598.5 278.9h0M602.3 262.7h0M596.0 296.6h0M610.6 294.8h0M592.1 295.8h0M609.5 251.6h0M602.8 278.2h0M598.6 264.9h0M596.0 264.8h0M594.0 277.9h0M591.9 272.9h0M593.4 274.1h0M596.6 282.5h0M592.2 286.2h0M600.0 293.7h0M592.9 280.2h0M594.0 258.1h0M598.5 291.4h0M604.4 295.3h0M591.8 294.3h0M599.9 260.3h0M604.4 287.3h0M605.9 286.8h0M600.4 284.7h0M595.4 295.0h0M601.7 285.4h0M612.8 242.1h0" stroke="#ff0000" stroke-width="2.55" stroke-linecap="round" fill="none"/><rect x="484.5" y="209.5" width="198.7" height="144.5" fill="none" stroke="#7a7a7a" stroke-width="1"/><rect x="484.5" y="193.7" width="198.7" height="15.8" fill="#d9d9d9" stroke="#555" stroke-width="0.9"/><line x1="484.5" y1="209.5" x2="683.2" y2="209.5" stroke="#444" stroke-width="1.3"/><text x="583.85" y="204.4" font-size="8.1" text-anchor="middle" fill="#1a1a1a">Volcano Plot</text><path d="M523.3 354v2.6M583.7 354v2.6M644.1 354v2.6M484.5 347.4h-2.6M484.5 308.65h-2.6M484.5 269.9h-2.6M484.5 231.15h-2.6" stroke="#333" stroke-width="0.9" fill="none"/><text x="523.3" y="365.6" font-size="8.2" text-anchor="middle" fill="#555">-2</text><text x="583.7" y="365.6" font-size="8.2" text-anchor="middle" fill="#555">0</text><text x="644.1" y="365.6" font-size="8.2" text-anchor="middle" fill="#555">2</text><text x="479.9" y="350.3" font-size="8.2" text-anchor="end" fill="#555">0</text><text x="479.9" y="311.55" font-size="8.2" text-anchor="end" fill="#555">1</text><text x="479.9" y="272.8" font-size="8.2" text-anchor="end" fill="#555">2</text><text x="479.9" y="234.05" font-size="8.2" text-anchor="end" fill="#555">3</text><text x="584.6" y="376.6" font-size="10.8" font-weight="bold" text-anchor="middle">log2 (MB/NB)</text><text transform="translate(469.3,284.5) rotate(-90)" font-size="10.8" font-weight="bold" text-anchor="middle">-log10 (p-value)</text><rect x="395.9" y="214.5" width="50.7" height="53" fill="#fff"/><circle cx="401.4" cy="222.5" r="2.45" fill="#bebebe"/><text x="406.6" y="224.9" font-size="8.5" font-weight="bold" fill="#111" font-family="Liberation Serif">unchange</text><circle cx="401.4" cy="241.1" r="2.45" fill="#0000ff"/><text x="406.6" y="243.3" font-size="8.5" font-weight="bold" fill="#111" font-family="Liberation Serif">down</text><circle cx="401.4" cy="259.2" r="2.45" fill="#ff0000"/><text x="406.6" y="261.4" font-size="8.5" font-weight="bold" fill="#111" font-family="Liberation Serif">up</text><text x="134.6" y="406.2" font-size="9.7" font-weight="bold" text-anchor="middle">MA/NA</text><rect x="167.5" y="396.3" width="165.4" height="10.2" fill="#d9d9d9" stroke="#9a9a9a" stroke-width="0.6"/><text x="250.1" y="403.5" font-size="5.9" text-anchor="middle" fill="#333">KEGG TopMapStat</text><path d="M332.9 406.5V633.8" stroke="#a0a0a0" stroke-width="0.7"/><text x="164.9" y="415.35" font-size="5.9" font-weight="bold" text-anchor="end">Pathways of neuodegeneration- multiple diseaes</text><text x="317.55" y="415.65" font-size="6.6" fill="#222">9</text><text x="164.9" y="426.6" font-size="5.9" font-weight="bold" text-anchor="end">Focal adhesion</text><text x="301" y="426.9" font-size="6.6" fill="#222">8</text><text x="164.9" y="437.86" font-size="5.9" font-weight="bold" text-anchor="end">MAPK signaling pathway</text><text x="267.9" y="438.16" font-size="6.6" fill="#222">6</text><text x="164.9" y="449.11" font-size="5.9" font-weight="bold" text-anchor="end">Insulin resistance</text><text x="267.9" y="449.41" font-size="6.6" fill="#222">6</text><text x="164.9" y="460.36" font-size="5.9" font-weight="bold" text-anchor="end">Alzheimer disease</text><text x="267.9" y="460.66" font-size="6.6" fill="#222">6</text><text x="164.9" y="471.61" font-size="5.9" font-weight="bold" text-anchor="end">Pathways in cancer</text><text x="267.9" y="471.91" font-size="6.6" fill="#222">6</text><text x="164.9" y="482.87" font-size="5.9" font-weight="bold" text-anchor="end">Ras signaling pathway</text><text x="251.35" y="483.17" font-size="6.6" fill="#222">5</text><text x="164.9" y="494.12" font-size="5.9" font-weight="bold" text-anchor="end">Phosphatidylinositol signaling system</text><text x="251.35" y="494.42" font-size="6.6" fill="#222">5</text><text x="164.9" y="505.37" font-size="5.9" font-weight="bold" text-anchor="end">Phospholipase D signaling pathway</text><text x="251.35" y="505.67" font-size="6.6" fill="#222">5</text><text x="164.9" y="516.62" font-size="5.9" font-weight="bold" text-anchor="end">Axon guidance</text><text x="251.35" y="516.92" font-size="6.6" fill="#222">5</text><text x="164.9" y="527.88" font-size="5.9" font-weight="bold" text-anchor="end">Tight junction</text><text x="251.35" y="528.18" font-size="6.6" fill="#222">5</text><text x="164.9" y="539.13" font-size="5.9" font-weight="bold" text-anchor="end">Platelet activation</text><text x="251.35" y="539.43" font-size="6.6" fill="#222">5</text><text x="164.9" y="550.38" font-size="5.9" font-weight="bold" text-anchor="end">Fc epsilon RI signaling pathway</text><text x="251.35" y="550.68" font-size="6.6" fill="#222">5</text><text x="164.9" y="561.63" font-size="5.9" font-weight="bold" text-anchor="end">Insulin signaling pathway</text><text x="251.35" y="561.93" font-size="6.6" fill="#222">5</text><text x="164.9" y="572.89" font-size="5.9" font-weight="bold" text-anchor="end">Amyotrophic lateral sclerosis</text><text x="251.35" y="573.19" font-size="6.6" fill="#222">5</text><text x="164.9" y="584.14" font-size="5.9" font-weight="bold" text-anchor="end">Prion disease</text><text x="251.35" y="584.44" font-size="6.6" fill="#222">5</text><text x="164.9" y="595.39" font-size="5.9" font-weight="bold" text-anchor="end">Salmonella infection</text><text x="251.35" y="595.69" font-size="6.6" fill="#222">5</text><text x="164.9" y="606.64" font-size="5.9" font-weight="bold" text-anchor="end">Human cytomegalovirus infection</text><text x="251.35" y="606.94" font-size="6.6" fill="#222">5</text><text x="164.9" y="617.9" font-size="5.9" font-weight="bold" text-anchor="end">ErbB signaling pathway</text><text x="234.8" y="618.2" font-size="6.6" fill="#222">4</text><text x="164.9" y="629.15" font-size="5.9" font-weight="bold" text-anchor="end">Rap1 signaling pathway</text><text x="234.8" y="629.45" font-size="6.6" fill="#222">4</text><path d="M168 413.25H316.95M168 424.5H300.4M168 435.76H267.3M168 447.01H267.3M168 458.26H267.3M168 469.51H267.3M168 480.77H250.75M168 492.02H250.75M168 503.27H250.75M168 514.52H250.75M168 525.78H250.75M168 537.03H250.75M168 548.28H250.75M168 559.53H250.75M168 570.79H250.75M168 582.04H250.75M168 593.29H250.75M168 604.54H250.75M168 615.8H234.2M168 627.05H234.2" stroke="#483d8b" stroke-width="7.65"/><path d="M165.5 413.25H167.5M165.5 424.5H167.5M165.5 435.76H167.5M165.5 447.01H167.5M165.5 458.26H167.5M165.5 469.51H167.5M165.5 480.77H167.5M165.5 492.02H167.5M165.5 503.27H167.5M165.5 514.52H167.5M165.5 525.78H167.5M165.5 537.03H167.5M165.5 548.28H167.5M165.5 559.53H167.5M165.5 570.79H167.5M165.5 582.04H167.5M165.5 593.29H167.5M165.5 604.54H167.5M165.5 615.8H167.5M165.5 627.05H167.5" stroke="#333" stroke-width="0.6"/><path d="M167.5 406.5V633.8H332.9" stroke="#222" stroke-width="0.9" fill="none"/><text x="164.2" y="641.2" font-size="5" text-anchor="middle" fill="#555">0.0</text><text x="205.57" y="641.2" font-size="5" text-anchor="middle" fill="#555">2.5</text><text x="246.95" y="641.2" font-size="5" text-anchor="middle" fill="#555">5.0</text><text x="288.32" y="641.2" font-size="5" text-anchor="middle" fill="#555">7.5</text><path d="M168 633.8v1.6M209.38 633.8v1.6M250.75 633.8v1.6M292.12 633.8v1.6" stroke="#333" stroke-width="0.6"/><text x="250.2" y="649.3" font-size="6.5" text-anchor="middle" fill="#111">The number of Proteins</text><text transform="translate(21.2,524) rotate(-90)" font-size="9.9" text-anchor="middle" fill="#111">KEEG Pathway Name (Top20)</text><text x="485" y="405.6" font-size="9.7" font-weight="bold" text-anchor="middle">MB/NB</text><rect x="512.4" y="397.3" width="165.2" height="10" fill="#d9d9d9" stroke="#9a9a9a" stroke-width="0.6"/><text x="595" y="404.5" font-size="5.9" text-anchor="middle" fill="#333">KEGG TopMapStat</text><path d="M677.6 407.3V634" stroke="#a0a0a0" stroke-width="0.7"/><text x="509.8" y="416.13" font-size="5.9" font-weight="bold" text-anchor="end">MAPK signaling pathway</text><text x="664.2" y="416.43" font-size="6.6" fill="#222">12</text><text x="509.8" y="427.36" font-size="5.9" font-weight="bold" text-anchor="end">Rap1 signaling pathway</text><text x="639.3" y="427.66" font-size="6.6" fill="#222">10</text><text x="509.8" y="438.58" font-size="5.9" font-weight="bold" text-anchor="end">Pathways in cancer</text><text x="639.3" y="438.88" font-size="6.6" fill="#222">10</text><text x="509.8" y="449.8" font-size="5.9" font-weight="bold" text-anchor="end">Ras signaling pathway</text><text x="612.8" y="450.1" font-size="6.6" fill="#222">8</text><text x="509.8" y="461.02" font-size="5.9" font-weight="bold" text-anchor="end">Focal adhesion</text><text x="612.8" y="461.32" font-size="6.6" fill="#222">8</text><text x="509.8" y="472.25" font-size="5.9" font-weight="bold" text-anchor="end">Tight junction</text><text x="612.8" y="472.55" font-size="6.6" fill="#222">8</text><text x="509.8" y="483.47" font-size="5.9" font-weight="bold" text-anchor="end">Amyotrophic lateral sclerosis</text><text x="612.8" y="483.77" font-size="6.6" fill="#222">8</text><text x="509.8" y="494.69" font-size="5.9" font-weight="bold" text-anchor="end">Pathways of neuodegeneration- multiple diseaes</text><text x="612.8" y="494.99" font-size="6.6" fill="#222">8</text><text x="509.8" y="505.92" font-size="5.9" font-weight="bold" text-anchor="end">Salmonella infection</text><text x="612.8" y="506.22" font-size="6.6" fill="#222">8</text><text x="509.8" y="517.14" font-size="5.9" font-weight="bold" text-anchor="end">Human cytomegalovirus infection</text><text x="612.8" y="517.44" font-size="6.6" fill="#222">8</text><text x="509.8" y="528.36" font-size="5.9" font-weight="bold" text-anchor="end">Phosphatidylinositol signaling system</text><text x="600.35" y="528.66" font-size="6.6" fill="#222">7</text><text x="509.8" y="539.58" font-size="5.9" font-weight="bold" text-anchor="end">Endocytosis</text><text x="600.35" y="539.88" font-size="6.6" fill="#222">7</text><text x="509.8" y="550.81" font-size="5.9" font-weight="bold" text-anchor="end">Platelet activation</text><text x="600.35" y="551.11" font-size="6.6" fill="#222">7</text><text x="509.8" y="562.03" font-size="5.9" font-weight="bold" text-anchor="end">Coronavirus disease - COVID-19</text><text x="600.35" y="562.33" font-size="6.6" fill="#222">7</text><text x="509.8" y="573.25" font-size="5.9" font-weight="bold" text-anchor="end">Proteoglycans in cancer</text><text x="600.35" y="573.55" font-size="6.6" fill="#222">7</text><text x="509.8" y="584.48" font-size="5.9" font-weight="bold" text-anchor="end">cGMP-PKG signaling pathway</text><text x="587.9" y="584.78" font-size="6.6" fill="#222">6</text><text x="509.8" y="595.7" font-size="5.9" font-weight="bold" text-anchor="end">Chemokine signaling pathway</text><text x="587.9" y="596" font-size="6.6" fill="#222">6</text><text x="509.8" y="606.92" font-size="5.9" font-weight="bold" text-anchor="end">Vascular smooth muscle contraction</text><text x="587.9" y="607.22" font-size="6.6" fill="#222">6</text><text x="509.8" y="618.14" font-size="5.9" font-weight="bold" text-anchor="end">Axon guidance</text><text x="587.9" y="618.44" font-size="6.6" fill="#222">6</text><text x="509.8" y="629.37" font-size="5.9" font-weight="bold" text-anchor="end">Inflammatory mediator regulation of TRP channels</text><text x="587.9" y="629.67" font-size="6.6" fill="#222">6</text><path d="M512.6 414.03H662M512.6 425.26H637.1M512.6 436.48H637.1M512.6 447.7H612.2M512.6 458.92H612.2M512.6 470.15H612.2M512.6 481.37H612.2M512.6 492.59H612.2M512.6 503.82H612.2M512.6 515.04H612.2M512.6 526.26H599.75M512.6 537.48H599.75M512.6 548.71H599.75M512.6 559.93H599.75M512.6 571.15H599.75M512.6 582.38H587.3M512.6 593.6H587.3M512.6 604.82H587.3M512.6 616.04H587.3M512.6 627.27H587.3" stroke="#483d8b" stroke-width="7.63"/><path d="M510.4 414.03H512.4M510.4 425.26H512.4M510.4 436.48H512.4M510.4 447.7H512.4M510.4 458.92H512.4M510.4 470.15H512.4M510.4 481.37H512.4M510.4 492.59H512.4M510.4 503.82H512.4M510.4 515.04H512.4M510.4 526.26H512.4M510.4 537.48H512.4M510.4 548.71H512.4M510.4 559.93H512.4M510.4 571.15H512.4M510.4 582.38H512.4M510.4 593.6H512.4M510.4 604.82H512.4M510.4 616.04H512.4M510.4 627.27H512.4" stroke="#333" stroke-width="0.6"/><path d="M512.4 407.3V634H677.6" stroke="#222" stroke-width="0.9" fill="none"/><text x="508.8" y="641.4" font-size="5" text-anchor="middle" fill="#555">0.0</text><text x="539.93" y="641.4" font-size="5" text-anchor="middle" fill="#555">2.5</text><text x="571.05" y="641.4" font-size="5" text-anchor="middle" fill="#555">5.0</text><text x="602.18" y="641.4" font-size="5" text-anchor="middle" fill="#555">7.5</text><text x="633.3" y="641.4" font-size="5" text-anchor="middle" fill="#555">10.0</text><text x="664.43" y="641.4" font-size="5" text-anchor="middle" fill="#555">12.5</text><path d="M512.6 634v1.6M543.73 634v1.6M574.85 634v1.6M605.98 634v1.6M637.1 634v1.6M668.23 634v1.6" stroke="#333" stroke-width="0.6"/><text x="595" y="649.5" font-size="6.5" text-anchor="middle" fill="#111">The number of Proteins</text><text transform="translate(360.7,521.3) rotate(-90)" font-size="9.9" text-anchor="middle" fill="#111">KEEG Pathway Name (Top20)</text><defs><filter id="bl1" x="-50%" y="-100%" width="200%" height="300%"><feGaussianBlur stdDeviation="1.1"/></filter><filter id="bl2" x="-50%" y="-100%" width="200%" height="300%"><feGaussianBlur stdDeviation="0.95"/></filter><filter id="bl3" x="-20%" y="-20%" width="140%" height="140%"><feGaussianBlur stdDeviation="1.5"/></filter><filter id="bl4" x="-50%" y="-200%" width="200%" height="500%"><feGaussianBlur stdDeviation="0.55"/></filter></defs><text x="138.6" y="682.2" font-size="10.6" font-weight="bold" font-style="italic" fill="#000" text-anchor="middle">MTH1<tspan font-size="6.78" dy="-4.45">fl/fl</tspan></text><text x="211.3" y="682.2" font-size="10.6" font-weight="bold" font-style="italic" fill="#000" text-anchor="middle">MTH1<tspan font-size="6.78" dy="-4.45">-/-</tspan></text><path d="M94.6 685.3H168.2M171.2 685.3H238.7" stroke="#111" stroke-width="0.9"/><text x="90.4" y="696.9" font-size="10.7" font-weight="bold" text-anchor="end">Time (mins)</text><text x="105" y="696.9" font-size="10.7" font-weight="bold" text-anchor="middle">0</text><text x="124" y="696.9" font-size="10.7" font-weight="bold" text-anchor="middle">1</text><text x="142" y="696.9" font-size="10.7" font-weight="bold" text-anchor="middle">3</text><text x="160.3" y="696.9" font-size="10.7" font-weight="bold" text-anchor="middle">5</text><text x="178" y="696.9" font-size="10.7" font-weight="bold" text-anchor="middle">0</text><text x="195.7" y="696.9" font-size="10.7" font-weight="bold" text-anchor="middle">1</text><text x="213.7" y="696.9" font-size="10.7" font-weight="bold" text-anchor="middle">3</text><text x="232" y="696.9" font-size="10.7" font-weight="bold" text-anchor="middle">5</text><rect x="92.9" y="700.9" width="147.4" height="18.6" fill="#f3f3f3"/><rect x="97.1" y="709.53" width="15.4" height="4.54" rx="2.27" fill="rgb(0,0,0)" filter="url(#bl2)"/><rect x="116.8" y="708.15" width="15.2" height="7.3" rx="3.65" fill="rgb(0,0,0)" filter="url(#bl2)"/><rect x="134.5" y="708.84" width="14.4" height="5.92" rx="2.96" fill="rgb(0,0,0)" filter="url(#bl2)"/><rect x="152.7" y="709.41" width="14.2" height="4.77" rx="2.38" fill="rgb(0,0,0)" filter="url(#bl2)"/><rect x="172.2" y="710.1" width="12" height="3.39" rx="1.69" fill="rgb(114,114,114)" filter="url(#bl2)"/><rect x="188.4" y="709.53" width="13.8" height="4.54" rx="2.27" fill="rgb(12,12,12)" filter="url(#bl2)"/><rect x="206.4" y="709.53" width="13.8" height="4.54" rx="2.27" fill="rgb(12,12,12)" filter="url(#bl2)"/><rect x="224.1" y="709.41" width="13.8" height="4.77" rx="2.38" fill="rgb(12,12,12)" filter="url(#bl2)"/><rect x="92.9" y="722.5" width="147.4" height="19.3" fill="#f3f3f3"/><rect x="96.1" y="729.7" width="15.8" height="6.61" rx="3.31" fill="rgb(0,0,0)" filter="url(#bl2)"/><rect x="115.2" y="729.7" width="14.4" height="6.61" rx="3.31" fill="rgb(0,0,0)" filter="url(#bl2)"/><rect x="132.9" y="729.81" width="14.2" height="6.38" rx="3.19" fill="rgb(0,0,0)" filter="url(#bl2)"/><rect x="151" y="729.58" width="14.8" height="6.84" rx="3.42" fill="rgb(0,0,0)" filter="url(#bl2)"/><rect x="169.8" y="729.92" width="14.4" height="6.15" rx="3.08" fill="rgb(0,0,0)" filter="url(#bl2)"/><rect x="188.4" y="729.81" width="14" height="6.38" rx="3.19" fill="rgb(0,0,0)" filter="url(#bl2)"/><rect x="205.9" y="729.7" width="14" height="6.61" rx="3.31" fill="rgb(0,0,0)" filter="url(#bl2)"/><rect x="223.5" y="729.58" width="15" height="6.84" rx="3.42" fill="rgb(0,0,0)" filter="url(#bl2)"/><rect x="92.9" y="750.8" width="148" height="17.7" fill="#f2f2f2"/><rect x="92.9" y="750.8" width="148" height="1.2" fill="#cfcfcf" filter="url(#bl2)"/><rect x="111.6" y="758.13" width="14.8" height="4.54" rx="2.27" fill="rgb(0,0,0)" filter="url(#bl2)"/><rect x="129.9" y="756.98" width="15.6" height="6.84" rx="3.42" fill="rgb(0,0,0)" filter="url(#bl2)"/><rect x="148.4" y="756.52" width="16.2" height="7.76" rx="3.88" fill="rgb(0,0,0)" filter="url(#bl2)"/><rect x="186.9" y="758.36" width="14.2" height="4.08" rx="2.04" fill="rgb(63,63,63)" filter="url(#bl2)"/><rect x="204.9" y="757.44" width="15.4" height="5.92" rx="2.96" fill="rgb(0,0,0)" filter="url(#bl2)"/><rect x="223.5" y="757.55" width="15" height="5.69" rx="2.84" fill="rgb(0,0,0)" filter="url(#bl2)"/><rect x="92.9" y="771.3" width="148" height="14.2" fill="#f1f1f1"/><rect x="93.3" y="775.32" width="15.4" height="7.76" rx="3.88" fill="rgb(0,0,0)" filter="url(#bl2)"/><rect x="111.3" y="775.21" width="15.4" height="7.99" rx="3.99" fill="rgb(0,0,0)" filter="url(#bl2)"/><rect x="130" y="775.44" width="15.4" height="7.53" rx="3.77" fill="rgb(0,0,0)" filter="url(#bl2)"/><rect x="149" y="775.44" width="15" height="7.53" rx="3.77" fill="rgb(0,0,0)" filter="url(#bl2)"/><rect x="168.4" y="775.32" width="15.4" height="7.76" rx="3.88" fill="rgb(0,0,0)" filter="url(#bl2)"/><rect x="185.9" y="775.21" width="16.2" height="7.99" rx="3.99" fill="rgb(0,0,0)" filter="url(#bl2)"/><rect x="204.9" y="775.44" width="15.4" height="7.53" rx="3.77" fill="rgb(0,0,0)" filter="url(#bl2)"/><rect x="223.3" y="775.44" width="15.4" height="7.53" rx="3.77" fill="rgb(0,0,0)" filter="url(#bl2)"/><rect x="92.8" y="815" width="149" height="16.4" fill="#d9d9d9"/><rect x="94.7" y="816" width="14" height="14.6" fill="rgb(196,196,196)" filter="url(#bl2)"/><rect x="113.4" y="816" width="15.1" height="14.6" fill="rgb(172,172,172)" filter="url(#bl2)"/><rect x="132" y="816" width="14.5" height="14.6" fill="rgb(172,172,172)" filter="url(#bl2)"/><rect x="150.7" y="816" width="14.5" height="14.6" fill="rgb(172,172,172)" filter="url(#bl2)"/><rect x="168.3" y="816" width="14.7" height="14.6" fill="rgb(172,172,172)" filter="url(#bl2)"/><rect x="185.8" y="816" width="14" height="14.6" fill="rgb(172,172,172)" filter="url(#bl2)"/><rect x="204.5" y="816" width="15.1" height="14.6" fill="rgb(160,160,160)" filter="url(#bl2)"/><rect x="223.1" y="816" width="15.2" height="14.6" fill="rgb(160,160,160)" filter="url(#bl2)"/><rect x="113.4" y="817.47" width="15.2" height="1.67" rx="0.83" fill="rgb(20,20,20)" filter="url(#bl4)"/><rect x="131.7" y="817.47" width="15.2" height="1.67" rx="0.83" fill="rgb(20,20,20)" filter="url(#bl4)"/><rect x="150.4" y="817.47" width="15.2" height="1.67" rx="0.83" fill="rgb(20,20,20)" filter="url(#bl4)"/><rect x="168.1" y="817.47" width="15.2" height="1.67" rx="0.83" fill="rgb(20,20,20)" filter="url(#bl4)"/><rect x="185.2" y="817.47" width="15.2" height="1.67" rx="0.83" fill="rgb(20,20,20)" filter="url(#bl4)"/><rect x="204.2" y="818.9" width="15.6" height="3.39" rx="1.69" fill="rgb(0,0,0)" filter="url(#bl4)"/><rect x="222.9" y="818.9" width="15.6" height="3.39" rx="1.69" fill="rgb(0,0,0)" filter="url(#bl4)"/><rect x="92.8" y="835.6" width="149" height="14.4" fill="#cdcdcd"/><rect x="94.7" y="836.4" width="14" height="12.8" fill="#8c8c8c" filter="url(#bl2)"/><rect x="113.4" y="836.4" width="15.1" height="12.8" fill="#8c8c8c" filter="url(#bl2)"/><rect x="132" y="836.4" width="14.5" height="12.8" fill="#8c8c8c" filter="url(#bl2)"/><rect x="150.7" y="836.4" width="14.5" height="12.8" fill="#8c8c8c" filter="url(#bl2)"/><rect x="168.3" y="836.4" width="14.7" height="12.8" fill="#8c8c8c" filter="url(#bl2)"/><rect x="185.8" y="836.4" width="14" height="12.8" fill="#8c8c8c" filter="url(#bl2)"/><rect x="204.5" y="836.4" width="15.1" height="12.8" fill="#8c8c8c" filter="url(#bl2)"/><rect x="223.1" y="836.4" width="15.2" height="12.8" fill="#8c8c8c" filter="url(#bl2)"/><rect x="94.1" y="838.92" width="15.2" height="6.15" rx="3.08" fill="rgb(0,0,0)" filter="url(#bl2)"/><rect x="113.4" y="837.77" width="15.2" height="8.45" rx="4" fill="rgb(0,0,0)" filter="url(#bl2)"/><rect x="131.7" y="838.06" width="15.2" height="7.88" rx="3.94" fill="rgb(0,0,0)" filter="url(#bl2)"/><rect x="150.4" y="837.49" width="15.2" height="9.03" rx="4" fill="rgb(0,0,0)" filter="url(#bl2)"/><rect x="168.1" y="837.32" width="15.2" height="9.37" rx="4" fill="rgb(0,0,0)" filter="url(#bl2)"/><rect x="185.2" y="838.06" width="15.2" height="7.88" rx="3.94" fill="rgb(0,0,0)" filter="url(#bl2)"/><rect x="204.4" y="838.24" width="15.2" height="7.53" rx="3.77" fill="rgb(0,0,0)" filter="url(#bl2)"/><rect x="223.1" y="837.89" width="15.2" height="8.22" rx="4" fill="rgb(0,0,0)" filter="url(#bl2)"/><rect x="92.8" y="867" width="148.7" height="21" fill="#e2e2e2"/><rect x="96.45" y="875.68" width="11.7" height="3.85" rx="1.92" fill="rgb(38,38,38)" filter="url(#bl2)"/><rect x="114.1" y="875.9" width="13.2" height="3.39" rx="1.69" fill="rgb(76,76,76)" filter="url(#bl2)"/><rect x="132" y="874.64" width="14.6" height="5.92" rx="2.96" fill="rgb(0,0,0)" filter="url(#bl2)"/><rect x="149" y="875.33" width="15.2" height="4.54" rx="2.27" fill="rgb(0,0,0)" filter="url(#bl2)"/><rect x="168.5" y="875.45" width="14" height="4.31" rx="2.15" fill="rgb(12,12,12)" filter="url(#bl2)"/><rect x="185.15" y="873.95" width="14.9" height="7.3" rx="3.65" fill="rgb(0,0,0)" filter="url(#bl2)"/><rect x="203.5" y="874.52" width="15.8" height="6.15" rx="3.08" fill="rgb(0,0,0)" filter="url(#bl2)"/><rect x="222.2" y="875.45" width="14.6" height="4.31" rx="2.15" fill="rgb(12,12,12)" filter="url(#bl2)"/><rect x="92.8" y="893.3" width="148.7" height="18.1" fill="#e6e6e6"/><rect x="94.1" y="899.75" width="15.2" height="5.69" rx="2.84" fill="rgb(56,56,56)" filter="url(#bl2)"/><rect x="112.2" y="899.52" width="16.4" height="6.15" rx="3.08" fill="rgb(45,45,45)" filter="url(#bl2)"/><rect x="131.4" y="899.75" width="15" height="5.69" rx="2.84" fill="rgb(45,45,45)" filter="url(#bl2)"/><rect x="149" y="899.41" width="15.8" height="6.38" rx="3.19" fill="rgb(25,25,25)" filter="url(#bl2)"/><rect x="168.5" y="899.99" width="14.6" height="5.23" rx="2.62" fill="rgb(89,89,89)" filter="url(#bl2)"/><rect x="186" y="899.3" width="14.6" height="6.61" rx="3.31" fill="rgb(12,12,12)" filter="url(#bl2)"/><rect x="204.7" y="899.52" width="14.6" height="6.15" rx="3.08" fill="rgb(30,30,30)" filter="url(#bl2)"/><rect x="222.8" y="898.84" width="17" height="7.53" rx="3.77" fill="rgb(0,0,0)" filter="url(#bl2)"/><text x="90.3" y="715.9" font-size="10.7" font-weight="bold" text-anchor="end">Phospho-p38</text><text x="90.3" y="737.5" font-size="10.7" font-weight="bold" text-anchor="end">Total p38</text><text x="90.3" y="765" font-size="10.7" font-weight="bold" text-anchor="end">Phospho-AKT</text><text x="90.3" y="784.3" font-size="10.7" font-weight="bold" text-anchor="end">Total AKT</text><text x="90.3" y="825.1" font-size="10.7" font-weight="bold" text-anchor="end">Phospho-PLC<tspan font-family="Liberation Serif" font-weight="normal">&#946;</tspan>3</text><text x="90.3" y="843.8" font-size="10.7" font-weight="bold" text-anchor="end">Total PLC<tspan font-family="Liberation Serif" font-weight="normal">&#946;</tspan>3</text><text x="90.3" y="881.8" font-size="10.7" font-weight="bold" text-anchor="end">Phospho-RhoA</text><text x="90.3" y="905.4" font-size="10.7" font-weight="bold" text-anchor="end">Total RhoA</text><path d="M240.9 710.2H248.6" stroke="#111" stroke-width="1"/><text x="250.5" y="713.7" font-size="9.8" font-weight="bold">43 kDa</text><path d="M240.9 733.4H248.6" stroke="#111" stroke-width="1"/><text x="250.5" y="736.9" font-size="9.8" font-weight="bold">40 kDa</text><path d="M240.9 759.5H248.6" stroke="#111" stroke-width="1"/><text x="250.5" y="763" font-size="9.8" font-weight="bold">60 kDa</text><path d="M240.9 780.1H248.6" stroke="#111" stroke-width="1"/><text x="250.5" y="783.6" font-size="9.8" font-weight="bold">60 kDa</text><path d="M242.5 822.2H248.6" stroke="#111" stroke-width="1"/><text x="250.2" y="825.7" font-size="9.8" font-weight="bold">136 kDa</text><path d="M242.5 841.8H248.6" stroke="#111" stroke-width="1"/><text x="250.2" y="845.3" font-size="9.8" font-weight="bold">136 kDa</text><path d="M242.5 878.3H248.6" stroke="#111" stroke-width="1"/><text x="252.9" y="881.8" font-size="9.8" font-weight="bold">22 kDa</text><path d="M242.5 902.3H248.6" stroke="#111" stroke-width="1"/><text x="252.9" y="905.8" font-size="9.8" font-weight="bold">22 kDa</text><path d="M330.8 768.1V719.31H339V768.1" fill="none" stroke="#1212cc" stroke-width="1.4"/><path d="M344.8 768.1V737.28H353V768.1" fill="none" stroke="#ff00ff" stroke-width="1.4"/><path d="M368.2 768.1V692.99H376.4V768.1" fill="none" stroke="#1212cc" stroke-width="1.4"/><path d="M382.2 768.1V725.09H390.4V768.1" fill="none" stroke="#ff00ff" stroke-width="1.4"/><path d="M405.3 768.1V706.47H413.5V768.1" fill="none" stroke="#1212cc" stroke-width="1.4"/><path d="M419.3 768.1V726.37H427.5V768.1" fill="none" stroke="#ff00ff" stroke-width="1.4"/><path d="M442.5 768.1V717.38H450.7V768.1" fill="none" stroke="#1212cc" stroke-width="1.4"/><path d="M456.5 768.1V724.44H464.7V768.1" fill="none" stroke="#ff00ff" stroke-width="1.4"/><circle cx="332.7" cy="722.4" r="1.95" fill="#000"/><circle cx="335.3" cy="717.1" r="1.95" fill="#000"/><circle cx="338.1" cy="720.2" r="1.95" fill="#000"/><rect x="344.35" y="737.55" width="3.7" height="3.7" fill="#000"/><rect x="347.25" y="733.65" width="3.7" height="3.7" fill="#000"/><rect x="349.85" y="735.45" width="3.7" height="3.7" fill="#000"/><path d="M373.97 689.5V696.7" stroke="#1212cc" stroke-width="0.9"/><circle cx="372.5" cy="696.7" r="1.95" fill="#000"/><circle cx="373.6" cy="691.3" r="1.95" fill="#000"/><circle cx="375.8" cy="689.5" r="1.95" fill="#000"/><rect x="381.65" y="724.85" width="3.7" height="3.7" fill="#000"/><rect x="384.45" y="720.55" width="3.7" height="3.7" fill="#000"/><rect x="387.15" y="722.75" width="3.7" height="3.7" fill="#000"/><circle cx="407.1" cy="709.9" r="1.95" fill="#000"/><circle cx="410" cy="704.9" r="1.95" fill="#000"/><circle cx="412.6" cy="706.6" r="1.95" fill="#000"/><rect x="418.85" y="727.05" width="3.7" height="3.7" fill="#000"/><rect x="421.65" y="722.75" width="3.7" height="3.7" fill="#000"/><rect x="424.35" y="724.05" width="3.7" height="3.7" fill="#000"/><circle cx="443.9" cy="718.6" r="1.95" fill="#000"/><circle cx="446.5" cy="715.8" r="1.95" fill="#000"/><circle cx="449.8" cy="717.5" r="1.95" fill="#000"/><rect x="458.95" y="727.05" width="3.7" height="3.7" fill="#000"/><rect x="459.35" y="722.75" width="3.7" height="3.7" fill="#000"/><rect x="461.55" y="721.15" width="3.7" height="3.7" fill="#000"/><path d="M325.6 671.8V768.1H470.5" fill="none" stroke="#111" stroke-width="1.2"/><path d="M325.6 768.1h-3.4M325.6 736h-3.4M325.6 703.9h-3.4M325.6 671.8h-3.4M341.9 768.1v2.8M379.3 768.1v2.8M416.4 768.1v2.8M453.6 768.1v2.8" stroke="#111" stroke-width="1"/><text x="321" y="770.5" font-size="6.8" font-weight="bold" text-anchor="end" fill="#111">0.0</text><text x="321" y="738.4" font-size="6.8" font-weight="bold" text-anchor="end" fill="#111">0.5</text><text x="321" y="706.3" font-size="6.8" font-weight="bold" text-anchor="end" fill="#111">1.0</text><text x="321" y="674.2" font-size="6.8" font-weight="bold" text-anchor="end" fill="#111">1.5</text><text x="341.9" y="780.3" font-size="7" font-weight="bold" text-anchor="middle" fill="#111">0</text><text x="379.3" y="780.3" font-size="7" font-weight="bold" text-anchor="middle" fill="#111">1</text><text x="416.4" y="780.3" font-size="7" font-weight="bold" text-anchor="middle" fill="#111">3</text><text x="453.6" y="780.3" font-size="7" font-weight="bold" text-anchor="middle" fill="#111">5</text><text x="398" y="670.5" font-size="9" font-weight="bold" text-anchor="middle">p38</text><text x="399.4" y="793.5" font-size="9.9" font-weight="bold" text-anchor="middle">Time (mins)</text><text transform="translate(306.2,719.7) rotate(-90)" font-size="9.8" font-weight="bold" text-anchor="middle">Phospho/Total level</text><path d="M334.9 712.9H349.1" stroke="#555" stroke-width="1.2"/><text x="328.3" y="710.3" font-size="7.2" text-anchor="start" fill="#333">4.6 x 10<tspan font-size="4.9" dy="-3.02">-6</tspan></text><path d="M371 686.2H387" stroke="#555" stroke-width="1.2"/><text x="365.1" y="683.6" font-size="7.2" text-anchor="start" fill="#333">9.8 x 10<tspan font-size="4.9" dy="-3.02">-10</tspan></text><path d="M408.9 700.2H423.5" stroke="#555" stroke-width="1.2"/><text x="402.7" y="698.5" font-size="7.2" text-anchor="start" fill="#333">1.1 x 10<tspan font-size="4.9" dy="-3.02">-6</tspan></text><path d="M446.5 711.2H461.2" stroke="#555" stroke-width="1.2"/><text x="440.6" y="708.8" font-size="7.2" text-anchor="start" fill="#333">1.8 x 10<tspan font-size="4.9" dy="-3.02">-2</tspan></text><path d="M536.4 767.4V764.83H544.6V767.4" fill="none" stroke="#1212cc" stroke-width="1.4"/><path d="M550.4 767.4V764.19H558.6V767.4" fill="none" stroke="#ff00ff" stroke-width="1.4"/><path d="M573.6 767.4V718.66H581.8V767.4" fill="none" stroke="#1212cc" stroke-width="1.4"/><path d="M587.6 767.4V736.62H595.8V767.4" fill="none" stroke="#ff00ff" stroke-width="1.4"/><path d="M610.9 767.4V707.76H619.1V767.4" fill="none" stroke="#1212cc" stroke-width="1.4"/><path d="M624.9 767.4V714.81H633.1V767.4" fill="none" stroke="#ff00ff" stroke-width="1.4"/><path d="M647.9 767.4V701.34H656.1V767.4" fill="none" stroke="#1212cc" stroke-width="1.4"/><path d="M661.9 767.4V716.73H670.1V767.4" fill="none" stroke="#ff00ff" stroke-width="1.4"/><circle cx="537.7" cy="765" r="1.95" fill="#000"/><circle cx="540.5" cy="763.2" r="1.95" fill="#000"/><circle cx="543.1" cy="764.3" r="1.95" fill="#000"/><rect x="550.05" y="763.55" width="3.7" height="3.7" fill="#000"/><rect x="552.85" y="762.05" width="3.7" height="3.7" fill="#000"/><rect x="555.55" y="762.45" width="3.7" height="3.7" fill="#000"/><circle cx="574.9" cy="721" r="1.95" fill="#000"/><circle cx="577.7" cy="716.1" r="1.95" fill="#000"/><circle cx="580.8" cy="718.3" r="1.95" fill="#000"/><path d="M593.13 733.6V740.2" stroke="#ff00ff" stroke-width="0.9"/><rect x="589.85" y="738.35" width="3.7" height="3.7" fill="#000"/><rect x="591.25" y="733.95" width="3.7" height="3.7" fill="#000"/><rect x="592.75" y="731.75" width="3.7" height="3.7" fill="#000"/><circle cx="612.1" cy="709.6" r="1.95" fill="#000"/><circle cx="615" cy="706.7" r="1.95" fill="#000"/><circle cx="618" cy="707.8" r="1.95" fill="#000"/><rect x="624.45" y="715.85" width="3.7" height="3.7" fill="#000"/><rect x="627.15" y="710.95" width="3.7" height="3.7" fill="#000"/><rect x="629.95" y="712.75" width="3.7" height="3.7" fill="#000"/><path d="M652.23 696.4V704.1" stroke="#1212cc" stroke-width="0.9"/><circle cx="649.3" cy="696.4" r="1.95" fill="#000"/><circle cx="652.2" cy="704.1" r="1.95" fill="#000"/><circle cx="655.2" cy="700.8" r="1.95" fill="#000"/><rect x="661.75" y="717.15" width="3.7" height="3.7" fill="#000"/><rect x="664.35" y="713.15" width="3.7" height="3.7" fill="#000"/><rect x="666.75" y="714.75" width="3.7" height="3.7" fill="#000"/><path d="M530.6 671.2V767.4H676.4" fill="none" stroke="#111" stroke-width="1.2"/><path d="M530.6 767.4h-3.4M530.6 735.33h-3.4M530.6 703.27h-3.4M530.6 671.2h-3.4M547.5 767.4v2.8M584.7 767.4v2.8M622 767.4v2.8M659 767.4v2.8" stroke="#111" stroke-width="1"/><text x="526" y="769.8" font-size="6.8" font-weight="bold" text-anchor="end" fill="#111">0.0</text><text x="526" y="737.73" font-size="6.8" font-weight="bold" text-anchor="end" fill="#111">0.5</text><text x="526" y="705.67" font-size="6.8" font-weight="bold" text-anchor="end" fill="#111">1.0</text><text x="526" y="673.6" font-size="6.8" font-weight="bold" text-anchor="end" fill="#111">1.5</text><text x="547.5" y="779.6" font-size="7" font-weight="bold" text-anchor="middle" fill="#111">0</text><text x="584.7" y="779.6" font-size="7" font-weight="bold" text-anchor="middle" fill="#111">1</text><text x="622" y="779.6" font-size="7" font-weight="bold" text-anchor="middle" fill="#111">3</text><text x="659" y="779.6" font-size="7" font-weight="bold" text-anchor="middle" fill="#111">5</text><text x="603.2" y="669.6" font-size="9" font-weight="bold" text-anchor="middle">AKT</text><text x="606.5" y="791.8" font-size="9.9" font-weight="bold" text-anchor="middle">Time (mins)</text><text transform="translate(512.3,718.4) rotate(-90)" font-size="9.8" font-weight="bold" text-anchor="middle">Phospho/Total level</text><path d="M574.9 712.4H591.7" stroke="#555" stroke-width="1.2"/><text x="570.5" y="709.6" font-size="7.2" text-anchor="start" fill="#333">6.9 x 10<tspan font-size="4.9" dy="-3.02">-7</tspan></text><path d="M615 701.5H628.5" stroke="#555" stroke-width="1.2"/><text x="607.7" y="698.6" font-size="7.2" text-anchor="start" fill="#333">1.3 x 10<tspan font-size="4.9" dy="-3.02">-2</tspan></text><path d="M652.6 694.7H666.2" stroke="#555" stroke-width="1.2"/><text x="645.6" y="692.5" font-size="7.2" text-anchor="start" fill="#333">2.5 x 10<tspan font-size="4.9" dy="-3.02">-6</tspan></text><path d="M330.8 911.4V877.69H339V911.4" fill="none" stroke="#1212cc" stroke-width="1.4"/><path d="M344.8 911.4V874.08H353V911.4" fill="none" stroke="#ff00ff" stroke-width="1.4"/><path d="M368.2 911.4V870.47H376.4V911.4" fill="none" stroke="#1212cc" stroke-width="1.4"/><path d="M382.2 911.4V852.42H390.4V911.4" fill="none" stroke="#ff00ff" stroke-width="1.4"/><path d="M405.3 911.4V866.86H413.5V911.4" fill="none" stroke="#1212cc" stroke-width="1.4"/><path d="M419.3 911.4V840.38H427.5V911.4" fill="none" stroke="#ff00ff" stroke-width="1.4"/><path d="M442.5 911.4V864.45H450.7V911.4" fill="none" stroke="#1212cc" stroke-width="1.4"/><path d="M456.5 911.4V841.58H464.7V911.4" fill="none" stroke="#ff00ff" stroke-width="1.4"/><path d="M334.87 873V881.3" stroke="#1212cc" stroke-width="0.9"/><circle cx="332" cy="881.3" r="1.95" fill="#000"/><circle cx="334.9" cy="873" r="1.95" fill="#000"/><circle cx="337.7" cy="878" r="1.95" fill="#000"/><path d="M348.77 867.1V881.3" stroke="#ff00ff" stroke-width="0.9"/><rect x="346.75" y="865.25" width="3.7" height="3.7" fill="#000"/><rect x="346.75" y="870.75" width="3.7" height="3.7" fill="#000"/><rect x="347.25" y="879.45" width="3.7" height="3.7" fill="#000"/><path d="M372.1 864.4V874.7" stroke="#1212cc" stroke-width="0.9"/><circle cx="372.1" cy="864.4" r="1.95" fill="#000"/><circle cx="372.1" cy="869.3" r="1.95" fill="#000"/><circle cx="372.1" cy="874.7" r="1.95" fill="#000"/><rect x="381.15" y="851.65" width="3.7" height="3.7" fill="#000"/><rect x="384.45" y="847.05" width="3.7" height="3.7" fill="#000"/><rect x="387.05" y="850.55" width="3.7" height="3.7" fill="#000"/><path d="M409.3 857.2V873.6" stroke="#1212cc" stroke-width="0.9"/><circle cx="409.3" cy="857.2" r="1.95" fill="#000"/><circle cx="409.3" cy="868.2" r="1.95" fill="#000"/><circle cx="409.3" cy="873.6" r="1.95" fill="#000"/><path d="M423.5 833.1V846.3" stroke="#ff00ff" stroke-width="0.9"/><rect x="421.65" y="831.25" width="3.7" height="3.7" fill="#000"/><rect x="421.65" y="838.95" width="3.7" height="3.7" fill="#000"/><rect x="421.65" y="844.45" width="3.7" height="3.7" fill="#000"/><circle cx="444.3" cy="867.1" r="1.95" fill="#000"/><circle cx="447" cy="861.2" r="1.95" fill="#000"/><circle cx="449.4" cy="864.9" r="1.95" fill="#000"/><path d="M462.03 837.1V844.5" stroke="#ff00ff" stroke-width="0.9"/><rect x="458.95" y="842.65" width="3.7" height="3.7" fill="#000"/><rect x="460.05" y="837.45" width="3.7" height="3.7" fill="#000"/><rect x="461.55" y="835.25" width="3.7" height="3.7" fill="#000"/><path d="M325.6 815.1V911.4H470.5" fill="none" stroke="#111" stroke-width="1.2"/><path d="M325.6 911.4h-3.4M325.6 887.33h-3.4M325.6 863.25h-3.4M325.6 839.17h-3.4M325.6 815.1h-3.4M341.9 911.4v2.8M379.3 911.4v2.8M416.4 911.4v2.8M453.6 911.4v2.8" stroke="#111" stroke-width="1"/><text x="321" y="913.8" font-size="6.8" font-weight="bold" text-anchor="end" fill="#111">0.0</text><text x="321" y="889.73" font-size="6.8" font-weight="bold" text-anchor="end" fill="#111">0.2</text><text x="321" y="865.65" font-size="6.8" font-weight="bold" text-anchor="end" fill="#111">0.4</text><text x="321" y="841.57" font-size="6.8" font-weight="bold" text-anchor="end" fill="#111">0.6</text><text x="321" y="817.5" font-size="6.8" font-weight="bold" text-anchor="end" fill="#111">0.8</text><text x="341.9" y="923.6" font-size="7" font-weight="bold" text-anchor="middle" fill="#111">0</text><text x="379.3" y="923.6" font-size="7" font-weight="bold" text-anchor="middle" fill="#111">1</text><text x="416.4" y="923.6" font-size="7" font-weight="bold" text-anchor="middle" fill="#111">3</text><text x="453.6" y="923.6" font-size="7" font-weight="bold" text-anchor="middle" fill="#111">5</text><text x="397.9" y="811.7" font-size="9" font-weight="bold" text-anchor="middle">PLC<tspan font-family="Liberation Serif" font-weight="normal">&#946;</tspan>3</text><text x="398" y="936" font-size="9.9" font-weight="bold" text-anchor="middle">Time (mins)</text><text transform="translate(306.2,864) rotate(-90)" font-size="9.8" font-weight="bold" text-anchor="middle">Phospho/Total level</text><path d="M372.7 845.2H386.7" stroke="#555" stroke-width="1.2"/><text x="365.5" y="842.6" font-size="7.2" text-anchor="start" fill="#333">4.6 x 10<tspan font-size="4.9" dy="-3.02">-3</tspan></text><path d="M409.3 829.2H422.9" stroke="#555" stroke-width="1.2"/><text x="403.4" y="825.9" font-size="7.2" text-anchor="start" fill="#333">1.0 x 10<tspan font-size="4.9" dy="-3.02">-4</tspan></text><path d="M446.5 833.6H460.8" stroke="#555" stroke-width="1.2"/><text x="440" y="831" font-size="7.2" text-anchor="start" fill="#333">4.0 x 10<tspan font-size="4.9" dy="-3.02">-4</tspan></text><path d="M536.4 912V875.37H544.6V912" fill="none" stroke="#1212cc" stroke-width="1.4"/><path d="M550.4 912V858.02H558.6V912" fill="none" stroke="#ff00ff" stroke-width="1.4"/><path d="M573.6 912V874.08H581.8V912" fill="none" stroke="#1212cc" stroke-width="1.4"/><path d="M587.6 912V843.88H595.8V912" fill="none" stroke="#ff00ff" stroke-width="1.4"/><path d="M610.9 912V850.95H619.1V912" fill="none" stroke="#1212cc" stroke-width="1.4"/><path d="M624.9 912V849.66H633.1V912" fill="none" stroke="#ff00ff" stroke-width="1.4"/><path d="M647.9 912V869.58H656.1V912" fill="none" stroke="#1212cc" stroke-width="1.4"/><path d="M661.9 912V871.51H670.1V912" fill="none" stroke="#ff00ff" stroke-width="1.4"/><path d="M540.43 872.6V879.1" stroke="#1212cc" stroke-width="0.9"/><circle cx="537.7" cy="879.1" r="1.95" fill="#000"/><circle cx="540.5" cy="872.6" r="1.95" fill="#000"/><circle cx="543.1" cy="874.7" r="1.95" fill="#000"/><rect x="552.25" y="858.65" width="3.7" height="3.7" fill="#000"/><rect x="553.35" y="853.15" width="3.7" height="3.7" fill="#000"/><rect x="555.55" y="855.35" width="3.7" height="3.7" fill="#000"/><path d="M577.8 869.9V878" stroke="#1212cc" stroke-width="0.9"/><circle cx="574.9" cy="878" r="1.95" fill="#000"/><circle cx="577.7" cy="869.9" r="1.95" fill="#000"/><circle cx="580.8" cy="873.6" r="1.95" fill="#000"/><path d="M592.9 840.1V847.4" stroke="#ff00ff" stroke-width="0.9"/><rect x="589.85" y="845.55" width="3.7" height="3.7" fill="#000"/><rect x="590.55" y="841.75" width="3.7" height="3.7" fill="#000"/><rect x="592.75" y="838.25" width="3.7" height="3.7" fill="#000"/><path d="M615.4 845.2V852.8" stroke="#1212cc" stroke-width="0.9"/><circle cx="612.8" cy="852.8" r="1.95" fill="#000"/><circle cx="615.4" cy="845.2" r="1.95" fill="#000"/><circle cx="618" cy="852.8" r="1.95" fill="#000"/><path d="M629.03 844.5V852.8" stroke="#ff00ff" stroke-width="0.9"/><rect x="624.45" y="850.95" width="3.7" height="3.7" fill="#000"/><rect x="627.15" y="842.65" width="3.7" height="3.7" fill="#000"/><rect x="629.95" y="848.35" width="3.7" height="3.7" fill="#000"/><circle cx="649.3" cy="872.1" r="1.95" fill="#000"/><circle cx="652.2" cy="866.4" r="1.95" fill="#000"/><circle cx="655.2" cy="869.9" r="1.95" fill="#000"/><path d="M667.23 867.7V876.5" stroke="#ff00ff" stroke-width="0.9"/><rect x="663.95" y="874.65" width="3.7" height="3.7" fill="#000"/><rect x="665.05" y="868.55" width="3.7" height="3.7" fill="#000"/><rect x="667.15" y="865.85" width="3.7" height="3.7" fill="#000"/><path d="M531.3 815.6V912H676.4" fill="none" stroke="#111" stroke-width="1.2"/><path d="M531.3 912h-3.4M531.3 879.87h-3.4M531.3 847.73h-3.4M531.3 815.6h-3.4M547.5 912v2.8M584.7 912v2.8M622 912v2.8M659 912v2.8" stroke="#111" stroke-width="1"/><text x="526.7" y="914.4" font-size="6.8" font-weight="bold" text-anchor="end" fill="#111">0.0</text><text x="526.7" y="882.27" font-size="6.8" font-weight="bold" text-anchor="end" fill="#111">0.5</text><text x="526.7" y="850.13" font-size="6.8" font-weight="bold" text-anchor="end" fill="#111">1.0</text><text x="526.7" y="818" font-size="6.8" font-weight="bold" text-anchor="end" fill="#111">1.5</text><text x="547.5" y="924.2" font-size="7" font-weight="bold" text-anchor="middle" fill="#111">0</text><text x="584.7" y="924.2" font-size="7" font-weight="bold" text-anchor="middle" fill="#111">1</text><text x="622" y="924.2" font-size="7" font-weight="bold" text-anchor="middle" fill="#111">3</text><text x="659" y="924.2" font-size="7" font-weight="bold" text-anchor="middle" fill="#111">5</text><text x="603.2" y="814" font-size="9" font-weight="bold" text-anchor="middle">RhoA</text><text x="607.3" y="938.2" font-size="9.9" font-weight="bold" text-anchor="middle">Time (mins)</text><text transform="translate(513,864.5) rotate(-90)" font-size="9.8" font-weight="bold" text-anchor="middle">Phospho/Total level</text><path d="M541 851.1H554.5" stroke="#555" stroke-width="1.2"/><text x="534.4" y="848.5" font-size="7.2" text-anchor="start" fill="#333">2.4 x 10<tspan font-size="4.9" dy="-3.02">-4</tspan></text><path d="M578.2 836.4H591.7" stroke="#555" stroke-width="1.2"/><text x="571.6" y="834.2" font-size="7.2" text-anchor="start" fill="#333">3.1 x 10<tspan font-size="4.9" dy="-3.02">-7</tspan></text><circle cx="471.3" cy="790.4" r="2.7" fill="#000"/><rect x="468.6" y="799.3" width="5.4" height="5.3" fill="#000"/><text x="486.3" y="793.9" font-size="8.6" font-weight="bold" font-style="italic" fill="#2121c8" text-anchor="start">MTH1<tspan font-size="5.5" dy="-3.61">fl/fl</tspan></text><text x="486.3" y="805.6" font-size="8.6" font-weight="bold" font-style="italic" fill="#ff00ff" text-anchor="start">MTH1<tspan font-size="5.5" dy="-3.61">-/-</tspan></text><path d="M257.06 983.70L255.53 982.39L253.90 981.18L252.17 980.06L250.35 979.04L248.43 978.12L246.43 977.30L244.34 976.59L242.17 975.98L239.93 975.47L237.60 975.07L235.21 974.78L232.74 974.60L230.21 974.52L227.63 974.55L224.98 974.69L222.28 974.93L219.54 975.28L216.75 975.74L213.92 976.30L211.06 976.97L208.16 977.75L205.24 978.62L202.30 979.60L199.34 980.67L196.36 981.84L193.38 983.11L190.40 984.48L187.41 985.93L184.44 987.48L181.47 989.11L178.51 990.83L175.58 992.63L172.67 994.51L169.79 996.47L166.94 998.50L164.13 1000.60L161.36 1002.77L158.63 1005.00L155.96 1007.30L153.34 1009.65L150.78 1012.05L148.28 1014.50L145.84 1017.00L143.48 1019.54L141.19 1022.12L138.97 1024.73L136.84 1027.38L134.79 1030.05L132.82 1032.74L130.95 1035.45L129.17 1038.17L127.48 1040.90L125.90 1043.64L124.41 1046.37L123.02 1049.11L121.74 1051.83L120.57 1054.55L119.51 1057.25L118.55 1059.93L117.71 1062.58L116.98 1065.21L116.37 1067.80L115.87 1070.36L115.49 1072.88L115.22 1075.35L115.07 1077.78L115.04 1080.15L115.12 1082.47L115.32 1084.73L115.64 1086.93L116.08 1089.06L116.63 1091.12L117.29 1093.11L118.07 1095.03L118.96 1096.86L119.96 1098.62L121.07 1100.29L122.29 1101.87L123.62 1103.37L125.05 1104.77L126.58 1106.08L128.21 1107.30L129.94 1108.42L131.76 1109.44L133.68 1110.36L135.68 1111.18L137.77 1111.89L139.94 1112.50L142.18 1113.00L144.51 1113.40L146.90 1113.69L149.37 1113.88L151.90 1113.96L154.48 1113.93L157.13 1113.79L159.83 1113.54L162.57 1113.19L165.36 1112.73L168.19 1112.17L171.05 1111.50L173.95 1110.73L176.87 1109.86L179.81 1108.88L182.77 1107.81L185.75 1106.63L188.73 1105.36L191.71 1104.00L194.70 1102.54L197.67 1101.00L200.64 1099.36L203.60 1097.64L206.53 1095.84L209.44 1093.96L212.32 1092.01L215.17 1089.97L217.98 1087.87L220.75 1085.71L223.48 1083.47L226.15 1081.18L228.77 1078.83L231.33 1076.43L233.83 1073.97L236.27 1071.47L238.63 1068.93L240.92 1066.36L243.14 1063.74L245.27 1061.10L247.32 1058.43L249.29 1055.74L251.16 1053.03L252.94 1050.31L254.63 1047.58L256.21 1044.84L257.70 1042.10L259.09 1039.37L260.37 1036.64L261.54 1033.93L262.60 1031.23L263.56 1028.55L264.40 1025.89L265.13 1023.27L265.74 1020.67L266.24 1018.11L266.62 1015.60L266.89 1013.12L267.04 1010.70L267.07 1008.32L266.99 1006.00L266.79 1003.75L266.47 1001.55L266.03 999.42L265.48 997.35L264.82 995.36L264.04 993.45L263.15 991.61L262.15 989.86L261.04 988.19L259.82 986.60L258.49 985.11Z" fill="#00ff00" fill-opacity="0.5"/><path d="M45.04 983.70L43.61 985.11L42.28 986.60L41.06 988.19L39.95 989.86L38.95 991.61L38.06 993.45L37.28 995.36L36.62 997.35L36.07 999.42L35.63 1001.55L35.31 1003.75L35.11 1006.00L35.03 1008.32L35.06 1010.70L35.21 1013.12L35.48 1015.60L35.86 1018.11L36.36 1020.67L36.97 1023.27L37.70 1025.89L38.54 1028.55L39.50 1031.23L40.56 1033.93L41.73 1036.64L43.01 1039.37L44.40 1042.10L45.89 1044.84L47.47 1047.58L49.16 1050.31L50.94 1053.03L52.81 1055.74L54.78 1058.43L56.83 1061.10L58.96 1063.74L61.18 1066.36L63.47 1068.93L65.83 1071.47L68.27 1073.97L70.77 1076.43L73.33 1078.83L75.95 1081.18L78.62 1083.47L81.35 1085.71L84.12 1087.87L86.93 1089.97L89.78 1092.01L92.66 1093.96L95.57 1095.84L98.50 1097.64L101.46 1099.36L104.43 1101.00L107.40 1102.54L110.39 1104.00L113.37 1105.36L116.35 1106.63L119.33 1107.81L122.29 1108.88L125.23 1109.86L128.15 1110.73L131.05 1111.50L133.91 1112.17L136.74 1112.73L139.53 1113.19L142.27 1113.54L144.97 1113.79L147.62 1113.93L150.20 1113.96L152.73 1113.88L155.20 1113.69L157.59 1113.40L159.92 1113.00L162.16 1112.50L164.33 1111.89L166.42 1111.18L168.42 1110.36L170.34 1109.44L172.16 1108.42L173.89 1107.30L175.52 1106.08L177.05 1104.77L178.48 1103.37L179.81 1101.87L181.03 1100.29L182.14 1098.62L183.14 1096.86L184.03 1095.03L184.81 1093.11L185.47 1091.12L186.02 1089.06L186.46 1086.93L186.78 1084.73L186.98 1082.47L187.06 1080.15L187.03 1077.78L186.88 1075.35L186.61 1072.88L186.23 1070.36L185.73 1067.80L185.12 1065.21L184.39 1062.58L183.55 1059.93L182.59 1057.25L181.53 1054.55L180.36 1051.83L179.08 1049.11L177.69 1046.37L176.20 1043.64L174.62 1040.90L172.93 1038.17L171.15 1035.45L169.28 1032.74L167.31 1030.05L165.26 1027.38L163.13 1024.73L160.91 1022.12L158.62 1019.54L156.26 1017.00L153.82 1014.50L151.32 1012.05L148.76 1009.65L146.14 1007.30L143.47 1005.00L140.74 1002.77L137.97 1000.60L135.16 998.50L132.31 996.47L129.43 994.51L126.52 992.63L123.59 990.83L120.63 989.11L117.66 987.48L114.69 985.93L111.70 984.48L108.72 983.11L105.74 981.84L102.76 980.67L99.80 979.60L96.86 978.62L93.94 977.75L91.04 976.97L88.18 976.30L85.35 975.74L82.56 975.28L79.82 974.93L77.12 974.69L74.47 974.55L71.89 974.52L69.36 974.60L66.89 974.78L64.50 975.07L62.17 975.47L59.93 975.98L57.76 976.59L55.67 977.30L53.67 978.12L51.75 979.04L49.93 980.06L48.20 981.18L46.57 982.39Z" fill="#6495ed" fill-opacity="0.5"/><path d="M213.28 962.70L212.12 961.73L210.87 960.84L209.53 960.05L208.09 959.35L206.57 958.74L204.96 958.22L203.27 957.80L201.50 957.48L199.65 957.25L197.72 957.12L195.72 957.08L193.66 957.14L191.53 957.30L189.33 957.56L187.08 957.91L184.77 958.35L182.41 958.89L180.00 959.53L177.55 960.25L175.05 961.07L172.52 961.98L169.96 962.98L167.36 964.07L164.74 965.24L162.10 966.50L159.45 967.84L156.78 969.25L154.10 970.75L151.42 972.32L148.73 973.97L146.05 975.68L143.38 977.47L140.72 979.32L138.07 981.23L135.45 983.20L132.85 985.22L130.27 987.31L127.73 989.44L125.23 991.61L122.76 993.83L120.34 996.10L117.97 998.39L115.64 1000.72L113.38 1003.08L111.16 1005.47L109.02 1007.88L106.93 1010.30L104.92 1012.74L102.97 1015.19L101.10 1017.65L99.31 1020.11L97.59 1022.57L95.96 1025.03L94.41 1027.48L92.95 1029.92L91.58 1032.34L90.31 1034.74L89.12 1037.12L88.03 1039.47L87.04 1041.79L86.15 1044.08L85.36 1046.33L84.66 1048.54L84.08 1050.70L83.59 1052.82L83.21 1054.89L82.93 1056.90L82.76 1058.86L82.69 1060.75L82.73 1062.58L82.87 1064.35L83.12 1066.04L83.47 1067.67L83.93 1069.22L84.49 1070.70L85.16 1072.09L85.92 1073.41L86.79 1074.64L87.75 1075.79L88.82 1076.85L89.98 1077.83L91.23 1078.71L92.57 1079.51L94.01 1080.21L95.53 1080.82L97.14 1081.33L98.83 1081.75L100.60 1082.08L102.45 1082.31L104.38 1082.44L106.38 1082.47L108.44 1082.41L110.57 1082.25L112.77 1082.00L115.02 1081.65L117.33 1081.20L119.69 1080.66L122.10 1080.03L124.55 1079.30L127.05 1078.48L129.58 1077.57L132.14 1076.57L134.74 1075.49L137.36 1074.32L140.00 1073.06L142.65 1071.72L145.32 1070.30L148.00 1068.81L150.68 1067.23L153.37 1065.59L156.05 1063.87L158.72 1062.09L161.38 1060.24L164.03 1058.33L166.65 1056.36L169.25 1054.33L171.83 1052.25L174.37 1050.12L176.87 1047.94L179.34 1045.72L181.76 1043.46L184.13 1041.16L186.46 1038.83L188.72 1036.47L190.94 1034.09L193.08 1031.68L195.17 1029.25L197.18 1026.81L199.13 1024.36L201.00 1021.90L202.79 1019.44L204.51 1016.98L206.14 1014.53L207.69 1012.08L209.15 1009.64L210.52 1007.22L211.79 1004.82L212.98 1002.44L214.07 1000.09L215.06 997.76L215.95 995.48L216.74 993.23L217.44 991.02L218.02 988.85L218.51 986.73L218.89 984.67L219.17 982.66L219.34 980.70L219.41 978.81L219.37 976.97L219.23 975.21L218.98 973.51L218.63 971.89L218.17 970.34L217.61 968.86L216.94 967.46L216.18 966.15L215.31 964.91L214.35 963.76Z" fill="#bf3eff" fill-opacity="0.5"/><path d="M85.05 959.24L83.99 960.31L83.03 961.46L82.18 962.71L81.43 964.05L80.79 965.47L80.27 966.97L79.84 968.56L79.53 970.22L79.33 971.96L79.24 973.78L79.27 975.66L79.40 977.62L79.64 979.64L79.99 981.72L80.45 983.86L81.02 986.05L81.70 988.30L82.49 990.60L83.38 992.94L84.38 995.32L85.47 997.74L86.67 1000.19L87.97 1002.67L89.37 1005.19L90.86 1007.72L92.44 1010.27L94.12 1012.83L95.88 1015.41L97.73 1017.99L99.66 1020.58L101.67 1023.17L103.75 1025.75L105.91 1028.32L108.14 1030.87L110.43 1033.41L112.79 1035.93L115.20 1038.43L117.67 1040.89L120.19 1043.33L122.76 1045.72L125.38 1048.08L128.03 1050.39L130.72 1052.66L133.44 1054.87L136.18 1057.03L138.95 1059.14L141.74 1061.18L144.54 1063.16L147.36 1065.07L150.17 1066.91L152.99 1068.68L155.81 1070.38L158.62 1071.99L161.42 1073.53L164.20 1074.98L166.96 1076.35L169.70 1077.63L172.41 1078.82L175.08 1079.92L177.72 1080.93L180.32 1081.84L182.87 1082.66L185.37 1083.38L187.82 1084.00L190.22 1084.52L192.55 1084.95L194.82 1085.27L197.02 1085.49L199.15 1085.61L201.21 1085.63L203.18 1085.55L205.08 1085.37L206.90 1085.08L208.63 1084.70L210.27 1084.21L211.82 1083.63L213.27 1082.94L214.63 1082.16L215.89 1081.29L217.05 1080.31L218.11 1079.25L219.07 1078.09L219.92 1076.84L220.67 1075.51L221.31 1074.09L221.83 1072.58L222.26 1071.00L222.57 1069.33L222.77 1067.59L222.86 1065.78L222.83 1063.89L222.70 1061.94L222.46 1059.92L222.11 1057.84L221.65 1055.70L221.08 1053.50L220.40 1051.26L219.61 1048.96L218.72 1046.62L217.72 1044.24L216.63 1041.82L215.43 1039.36L214.13 1036.88L212.73 1034.37L211.24 1031.84L209.66 1029.29L207.98 1026.72L206.22 1024.14L204.37 1021.56L202.44 1018.98L200.43 1016.39L198.35 1013.81L196.19 1011.24L193.96 1008.68L191.67 1006.14L189.31 1003.62L186.90 1001.13L184.43 998.66L181.91 996.23L179.34 993.83L176.72 991.48L174.07 989.16L171.38 986.90L168.66 984.68L165.92 982.52L163.15 980.42L160.36 978.38L157.56 976.40L154.74 974.49L151.93 972.64L149.11 970.87L146.29 969.18L143.48 967.56L140.68 966.03L137.90 964.57L135.14 963.21L132.40 961.93L129.69 960.74L127.02 959.64L124.38 958.63L121.78 957.71L119.23 956.90L116.73 956.18L114.28 955.55L111.88 955.03L109.55 954.61L107.28 954.28L105.08 954.06L102.95 953.94L100.89 953.92L98.92 954.00L97.02 954.19L95.20 954.47L93.47 954.86L91.83 955.34L90.28 955.93L88.83 956.61L87.47 957.39L86.21 958.27Z" fill="#ffff00" fill-opacity="0.5"/><path d="M257.06 983.70L255.53 982.39L253.90 981.18L252.17 980.06L250.35 979.04L248.43 978.12L246.43 977.30L244.34 976.59L242.17 975.98L239.93 975.47L237.60 975.07L235.21 974.78L232.74 974.60L230.21 974.52L227.63 974.55L224.98 974.69L222.28 974.93L219.54 975.28L216.75 975.74L213.92 976.30L211.06 976.97L208.16 977.75L205.24 978.62L202.30 979.60L199.34 980.67L196.36 981.84L193.38 983.11L190.40 984.48L187.41 985.93L184.44 987.48L181.47 989.11L178.51 990.83L175.58 992.63L172.67 994.51L169.79 996.47L166.94 998.50L164.13 1000.60L161.36 1002.77L158.63 1005.00L155.96 1007.30L153.34 1009.65L150.78 1012.05L148.28 1014.50L145.84 1017.00L143.48 1019.54L141.19 1022.12L138.97 1024.73L136.84 1027.38L134.79 1030.05L132.82 1032.74L130.95 1035.45L129.17 1038.17L127.48 1040.90L125.90 1043.64L124.41 1046.37L123.02 1049.11L121.74 1051.83L120.57 1054.55L119.51 1057.25L118.55 1059.93L117.71 1062.58L116.98 1065.21L116.37 1067.80L115.87 1070.36L115.49 1072.88L115.22 1075.35L115.07 1077.78L115.04 1080.15L115.12 1082.47L115.32 1084.73L115.64 1086.93L116.08 1089.06L116.63 1091.12L117.29 1093.11L118.07 1095.03L118.96 1096.86L119.96 1098.62L121.07 1100.29L122.29 1101.87L123.62 1103.37L125.05 1104.77L126.58 1106.08L128.21 1107.30L129.94 1108.42L131.76 1109.44L133.68 1110.36L135.68 1111.18L137.77 1111.89L139.94 1112.50L142.18 1113.00L144.51 1113.40L146.90 1113.69L149.37 1113.88L151.90 1113.96L154.48 1113.93L157.13 1113.79L159.83 1113.54L162.57 1113.19L165.36 1112.73L168.19 1112.17L171.05 1111.50L173.95 1110.73L176.87 1109.86L179.81 1108.88L182.77 1107.81L185.75 1106.63L188.73 1105.36L191.71 1104.00L194.70 1102.54L197.67 1101.00L200.64 1099.36L203.60 1097.64L206.53 1095.84L209.44 1093.96L212.32 1092.01L215.17 1089.97L217.98 1087.87L220.75 1085.71L223.48 1083.47L226.15 1081.18L228.77 1078.83L231.33 1076.43L233.83 1073.97L236.27 1071.47L238.63 1068.93L240.92 1066.36L243.14 1063.74L245.27 1061.10L247.32 1058.43L249.29 1055.74L251.16 1053.03L252.94 1050.31L254.63 1047.58L256.21 1044.84L257.70 1042.10L259.09 1039.37L260.37 1036.64L261.54 1033.93L262.60 1031.23L263.56 1028.55L264.40 1025.89L265.13 1023.27L265.74 1020.67L266.24 1018.11L266.62 1015.60L266.89 1013.12L267.04 1010.70L267.07 1008.32L266.99 1006.00L266.79 1003.75L266.47 1001.55L266.03 999.42L265.48 997.35L264.82 995.36L264.04 993.45L263.15 991.61L262.15 989.86L261.04 988.19L259.82 986.60L258.49 985.11Z" fill="none" stroke="#222" stroke-width="0.75"/><path d="M45.04 983.70L43.61 985.11L42.28 986.60L41.06 988.19L39.95 989.86L38.95 991.61L38.06 993.45L37.28 995.36L36.62 997.35L36.07 999.42L35.63 1001.55L35.31 1003.75L35.11 1006.00L35.03 1008.32L35.06 1010.70L35.21 1013.12L35.48 1015.60L35.86 1018.11L36.36 1020.67L36.97 1023.27L37.70 1025.89L38.54 1028.55L39.50 1031.23L40.56 1033.93L41.73 1036.64L43.01 1039.37L44.40 1042.10L45.89 1044.84L47.47 1047.58L49.16 1050.31L50.94 1053.03L52.81 1055.74L54.78 1058.43L56.83 1061.10L58.96 1063.74L61.18 1066.36L63.47 1068.93L65.83 1071.47L68.27 1073.97L70.77 1076.43L73.33 1078.83L75.95 1081.18L78.62 1083.47L81.35 1085.71L84.12 1087.87L86.93 1089.97L89.78 1092.01L92.66 1093.96L95.57 1095.84L98.50 1097.64L101.46 1099.36L104.43 1101.00L107.40 1102.54L110.39 1104.00L113.37 1105.36L116.35 1106.63L119.33 1107.81L122.29 1108.88L125.23 1109.86L128.15 1110.73L131.05 1111.50L133.91 1112.17L136.74 1112.73L139.53 1113.19L142.27 1113.54L144.97 1113.79L147.62 1113.93L150.20 1113.96L152.73 1113.88L155.20 1113.69L157.59 1113.40L159.92 1113.00L162.16 1112.50L164.33 1111.89L166.42 1111.18L168.42 1110.36L170.34 1109.44L172.16 1108.42L173.89 1107.30L175.52 1106.08L177.05 1104.77L178.48 1103.37L179.81 1101.87L181.03 1100.29L182.14 1098.62L183.14 1096.86L184.03 1095.03L184.81 1093.11L185.47 1091.12L186.02 1089.06L186.46 1086.93L186.78 1084.73L186.98 1082.47L187.06 1080.15L187.03 1077.78L186.88 1075.35L186.61 1072.88L186.23 1070.36L185.73 1067.80L185.12 1065.21L184.39 1062.58L183.55 1059.93L182.59 1057.25L181.53 1054.55L180.36 1051.83L179.08 1049.11L177.69 1046.37L176.20 1043.64L174.62 1040.90L172.93 1038.17L171.15 1035.45L169.28 1032.74L167.31 1030.05L165.26 1027.38L163.13 1024.73L160.91 1022.12L158.62 1019.54L156.26 1017.00L153.82 1014.50L151.32 1012.05L148.76 1009.65L146.14 1007.30L143.47 1005.00L140.74 1002.77L137.97 1000.60L135.16 998.50L132.31 996.47L129.43 994.51L126.52 992.63L123.59 990.83L120.63 989.11L117.66 987.48L114.69 985.93L111.70 984.48L108.72 983.11L105.74 981.84L102.76 980.67L99.80 979.60L96.86 978.62L93.94 977.75L91.04 976.97L88.18 976.30L85.35 975.74L82.56 975.28L79.82 974.93L77.12 974.69L74.47 974.55L71.89 974.52L69.36 974.60L66.89 974.78L64.50 975.07L62.17 975.47L59.93 975.98L57.76 976.59L55.67 977.30L53.67 978.12L51.75 979.04L49.93 980.06L48.20 981.18L46.57 982.39Z" fill="none" stroke="#222" stroke-width="0.75"/><path d="M213.28 962.70L212.12 961.73L210.87 960.84L209.53 960.05L208.09 959.35L206.57 958.74L204.96 958.22L203.27 957.80L201.50 957.48L199.65 957.25L197.72 957.12L195.72 957.08L193.66 957.14L191.53 957.30L189.33 957.56L187.08 957.91L184.77 958.35L182.41 958.89L180.00 959.53L177.55 960.25L175.05 961.07L172.52 961.98L169.96 962.98L167.36 964.07L164.74 965.24L162.10 966.50L159.45 967.84L156.78 969.25L154.10 970.75L151.42 972.32L148.73 973.97L146.05 975.68L143.38 977.47L140.72 979.32L138.07 981.23L135.45 983.20L132.85 985.22L130.27 987.31L127.73 989.44L125.23 991.61L122.76 993.83L120.34 996.10L117.97 998.39L115.64 1000.72L113.38 1003.08L111.16 1005.47L109.02 1007.88L106.93 1010.30L104.92 1012.74L102.97 1015.19L101.10 1017.65L99.31 1020.11L97.59 1022.57L95.96 1025.03L94.41 1027.48L92.95 1029.92L91.58 1032.34L90.31 1034.74L89.12 1037.12L88.03 1039.47L87.04 1041.79L86.15 1044.08L85.36 1046.33L84.66 1048.54L84.08 1050.70L83.59 1052.82L83.21 1054.89L82.93 1056.90L82.76 1058.86L82.69 1060.75L82.73 1062.58L82.87 1064.35L83.12 1066.04L83.47 1067.67L83.93 1069.22L84.49 1070.70L85.16 1072.09L85.92 1073.41L86.79 1074.64L87.75 1075.79L88.82 1076.85L89.98 1077.83L91.23 1078.71L92.57 1079.51L94.01 1080.21L95.53 1080.82L97.14 1081.33L98.83 1081.75L100.60 1082.08L102.45 1082.31L104.38 1082.44L106.38 1082.47L108.44 1082.41L110.57 1082.25L112.77 1082.00L115.02 1081.65L117.33 1081.20L119.69 1080.66L122.10 1080.03L124.55 1079.30L127.05 1078.48L129.58 1077.57L132.14 1076.57L134.74 1075.49L137.36 1074.32L140.00 1073.06L142.65 1071.72L145.32 1070.30L148.00 1068.81L150.68 1067.23L153.37 1065.59L156.05 1063.87L158.72 1062.09L161.38 1060.24L164.03 1058.33L166.65 1056.36L169.25 1054.33L171.83 1052.25L174.37 1050.12L176.87 1047.94L179.34 1045.72L181.76 1043.46L184.13 1041.16L186.46 1038.83L188.72 1036.47L190.94 1034.09L193.08 1031.68L195.17 1029.25L197.18 1026.81L199.13 1024.36L201.00 1021.90L202.79 1019.44L204.51 1016.98L206.14 1014.53L207.69 1012.08L209.15 1009.64L210.52 1007.22L211.79 1004.82L212.98 1002.44L214.07 1000.09L215.06 997.76L215.95 995.48L216.74 993.23L217.44 991.02L218.02 988.85L218.51 986.73L218.89 984.67L219.17 982.66L219.34 980.70L219.41 978.81L219.37 976.97L219.23 975.21L218.98 973.51L218.63 971.89L218.17 970.34L217.61 968.86L216.94 967.46L216.18 966.15L215.31 964.91L214.35 963.76Z" fill="none" stroke="#222" stroke-width="0.75"/><path d="M85.05 959.24L83.99 960.31L83.03 961.46L82.18 962.71L81.43 964.05L80.79 965.47L80.27 966.97L79.84 968.56L79.53 970.22L79.33 971.96L79.24 973.78L79.27 975.66L79.40 977.62L79.64 979.64L79.99 981.72L80.45 983.86L81.02 986.05L81.70 988.30L82.49 990.60L83.38 992.94L84.38 995.32L85.47 997.74L86.67 1000.19L87.97 1002.67L89.37 1005.19L90.86 1007.72L92.44 1010.27L94.12 1012.83L95.88 1015.41L97.73 1017.99L99.66 1020.58L101.67 1023.17L103.75 1025.75L105.91 1028.32L108.14 1030.87L110.43 1033.41L112.79 1035.93L115.20 1038.43L117.67 1040.89L120.19 1043.33L122.76 1045.72L125.38 1048.08L128.03 1050.39L130.72 1052.66L133.44 1054.87L136.18 1057.03L138.95 1059.14L141.74 1061.18L144.54 1063.16L147.36 1065.07L150.17 1066.91L152.99 1068.68L155.81 1070.38L158.62 1071.99L161.42 1073.53L164.20 1074.98L166.96 1076.35L169.70 1077.63L172.41 1078.82L175.08 1079.92L177.72 1080.93L180.32 1081.84L182.87 1082.66L185.37 1083.38L187.82 1084.00L190.22 1084.52L192.55 1084.95L194.82 1085.27L197.02 1085.49L199.15 1085.61L201.21 1085.63L203.18 1085.55L205.08 1085.37L206.90 1085.08L208.63 1084.70L210.27 1084.21L211.82 1083.63L213.27 1082.94L214.63 1082.16L215.89 1081.29L217.05 1080.31L218.11 1079.25L219.07 1078.09L219.92 1076.84L220.67 1075.51L221.31 1074.09L221.83 1072.58L222.26 1071.00L222.57 1069.33L222.77 1067.59L222.86 1065.78L222.83 1063.89L222.70 1061.94L222.46 1059.92L222.11 1057.84L221.65 1055.70L221.08 1053.50L220.40 1051.26L219.61 1048.96L218.72 1046.62L217.72 1044.24L216.63 1041.82L215.43 1039.36L214.13 1036.88L212.73 1034.37L211.24 1031.84L209.66 1029.29L207.98 1026.72L206.22 1024.14L204.37 1021.56L202.44 1018.98L200.43 1016.39L198.35 1013.81L196.19 1011.24L193.96 1008.68L191.67 1006.14L189.31 1003.62L186.90 1001.13L184.43 998.66L181.91 996.23L179.34 993.83L176.72 991.48L174.07 989.16L171.38 986.90L168.66 984.68L165.92 982.52L163.15 980.42L160.36 978.38L157.56 976.40L154.74 974.49L151.93 972.64L149.11 970.87L146.29 969.18L143.48 967.56L140.68 966.03L137.90 964.57L135.14 963.21L132.40 961.93L129.69 960.74L127.02 959.64L124.38 958.63L121.78 957.71L119.23 956.90L116.73 956.18L114.28 955.55L111.88 955.03L109.55 954.61L107.28 954.28L105.08 954.06L102.95 953.94L100.89 953.92L98.92 954.00L97.02 954.19L95.20 954.47L93.47 954.86L91.83 955.34L90.28 955.93L88.83 956.61L87.47 957.39L86.21 958.27Z" fill="none" stroke="#222" stroke-width="0.75"/><text x="111.4" y="974.1" font-size="7.6" text-anchor="middle" fill="#1a1a1a" font-family="Liberation Serif">23</text><text x="191.5" y="974.1" font-size="7.6" text-anchor="middle" fill="#1a1a1a" font-family="Liberation Serif">14</text><text x="100.8" y="998.6" font-size="7.6" text-anchor="middle" fill="#1a1a1a" font-family="Liberation Serif">3</text><text x="151.3" y="993.8" font-size="7.6" text-anchor="middle" fill="#1a1a1a" font-family="Liberation Serif">6</text><text x="201.3" y="998.6" font-size="7.6" text-anchor="middle" fill="#1a1a1a" font-family="Liberation Serif">23</text><text x="66.1" y="1020.3" font-size="7.6" text-anchor="middle" fill="#1a1a1a" font-family="Liberation Serif">39</text><text x="124.5" y="1020.3" font-size="7.6" text-anchor="middle" fill="#1a1a1a" font-family="Liberation Serif">0</text><text x="177.7" y="1020.3" font-size="7.6" text-anchor="middle" fill="#1a1a1a" font-family="Liberation Serif">6</text><text x="236" y="1020.3" font-size="7.6" text-anchor="middle" fill="#1a1a1a" font-family="Liberation Serif">236</text><text x="151.3" y="1047.1" font-size="7.6" text-anchor="middle" fill="#1a1a1a" font-family="Liberation Serif">36</text><text x="103.6" y="1059.3" font-size="7.6" text-anchor="middle" fill="#1a1a1a" font-family="Liberation Serif">2</text><text x="199.3" y="1059.3" font-size="7.6" text-anchor="middle" fill="#1a1a1a" font-family="Liberation Serif">43</text><text x="131.2" y="1069.5" font-size="7.6" text-anchor="middle" fill="#1a1a1a" font-family="Liberation Serif">61</text><text x="171" y="1069.5" font-size="7.6" text-anchor="middle" fill="#1a1a1a" font-family="Liberation Serif">111</text><text x="151.3" y="1093.2" font-size="7.6" text-anchor="middle" fill="#1a1a1a" font-family="Liberation Serif">308</text><text x="54.3" y="945.7" font-size="11.25" font-weight="bold" fill="#eded00" font-family="Liberation Serif">MB_vs_NB</text><text x="191.7" y="947.6" font-size="11.25" font-weight="bold" fill="#bf3eff" font-family="Liberation Serif">MA_vs_NA</text><text x="39.1" y="1114.1" font-size="11.3" font-weight="bold" fill="#6495ed" font-family="Liberation Serif">NB_vs_NA</text><text x="205.9" y="1114.8" font-size="11.2" font-weight="bold" fill="#22e022" font-family="Liberation Serif">MB_vs_MA</text><path d="M297.5 982.6H681.5M297.5 1066.2H681.5" stroke="#333" stroke-width="1.3"/><path d="M297.5 1011.2H681.5" stroke="#333" stroke-width="0.9"/><text x="389" y="1001.9" font-size="10.7" font-weight="bold" text-anchor="middle" fill="#111">Protein Names</text><text x="486.3" y="994.8" font-size="10.7" font-weight="bold" text-anchor="middle" fill="#111">Gene</text><text x="487.5" y="1006.9" font-size="10.7" font-weight="bold" text-anchor="middle" fill="#111">Names</text><text x="543.8" y="994.8" font-size="10.7" font-weight="bold" text-anchor="middle" fill="#111">Modifications</text><text x="546.5" y="1006.9" font-size="10.7" font-weight="bold" text-anchor="middle" fill="#111">in Proteins</text><text x="604.2" y="1001.4" font-size="10.7" font-weight="bold" text-anchor="middle" fill="#111">MB/NB</text><text x="655.4" y="1001.4" font-size="10.7" font-weight="bold" text-anchor="middle" fill="#111">p value</text><text x="380.2" y="1023.2" font-size="9.8" text-anchor="middle" fill="#111">SRA stem-loop-interacting</text><text x="379.5" y="1033.4" font-size="9.8" text-anchor="middle" fill="#111">RNA-binding protein, mitochondrial</text><text x="383.9" y="1048" font-size="9.8" text-anchor="middle" fill="#111">Tricarboxylate transport protein,</text><text x="388.4" y="1059.1" font-size="9.8" text-anchor="middle" fill="#111">mitochondrial</text><text x="486" y="1028.8" font-size="9.8" text-anchor="middle" fill="#111">Slirp</text><text x="544.4" y="1029.1" font-size="9.8" text-anchor="middle" fill="#111">S105</text><text x="603.3" y="1029.1" font-size="9.8" text-anchor="middle" fill="#111">0.724269</text><text x="654.4" y="1029.1" font-size="9.8" text-anchor="middle" fill="#111">0.003422</text><text x="489.5" y="1056.2" font-size="9.8" text-anchor="middle" fill="#111">Slc25a1</text><text x="544.4" y="1056.2" font-size="9.8" text-anchor="middle" fill="#111">S157</text><text x="603.3" y="1056.2" font-size="9.8" text-anchor="middle" fill="#111">0.796303</text><text x="654.4" y="1056.2" font-size="9.8" text-anchor="middle" fill="#111">0.021134</text></svg></body></html>
